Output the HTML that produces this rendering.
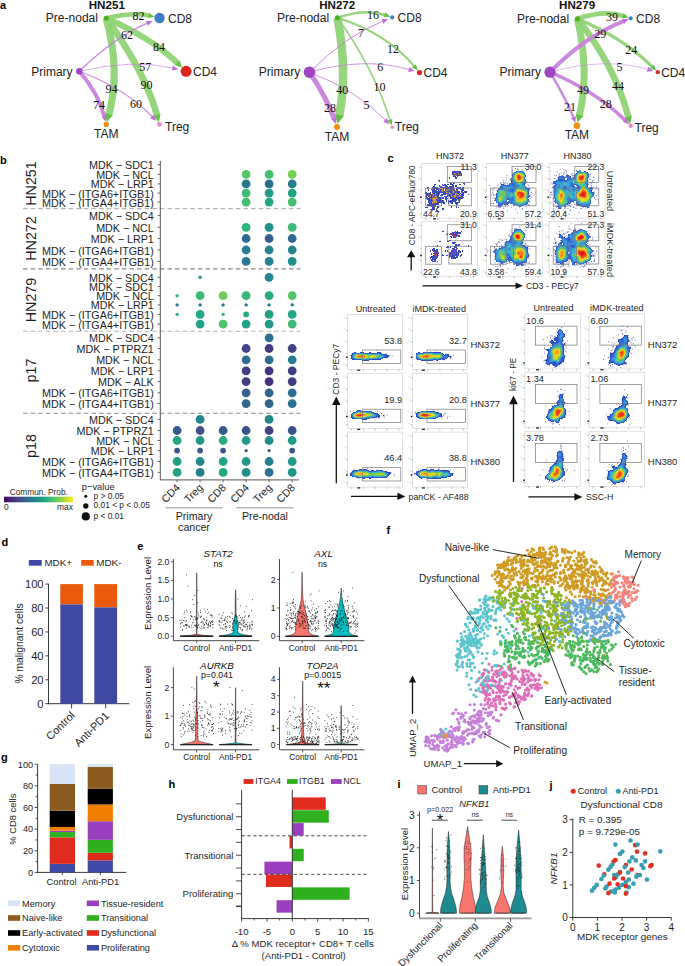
<!DOCTYPE html>
<html><head><meta charset="utf-8"><style>
html,body{margin:0;padding:0;background:#fff;}
svg{display:block;font-family:"Liberation Sans", sans-serif;}
</style></head><body>
<svg width="685" height="966" viewBox="0 0 685 966">
<rect width="685" height="966" fill="#fff"/>
<text x="0" y="9" font-size="11" font-weight="bold" fill="#000">a</text>
<text x="106.8" y="8.6" font-size="11.6" text-anchor="middle" font-weight="bold" fill="#111">HN251</text>
<path d="M106.2 18.2Q133.15 11.9 149.08 15.59" stroke="#8fd375" stroke-width="4.6" fill="none" stroke-opacity="0.95"/>
<path d="M154.43 16.83L148 18.01L149.17 12.94Z" fill="#62c040"/>
<path d="M106.2 18.2Q151.05 37.65 177.73 63.27" stroke="#8fd375" stroke-width="6" fill="none" stroke-opacity="0.95"/>
<path d="M182.13 67.49L175.09 65.3L179.66 60.54Z" fill="#62c040"/>
<path d="M106.2 18.2Q145.15 71.75 157.09 115.46" stroke="#8fd375" stroke-width="6.6" fill="none" stroke-opacity="0.95"/>
<path d="M158.87 121.98L153.45 115.94L160.46 114.02Z" fill="#62c040"/>
<path d="M106.2 18.2Q120.8 70.7 108.83 114.73" stroke="#8fd375" stroke-width="7.2" fill="none" stroke-opacity="0.95"/>
<path d="M106.88 121.89L105.14 113.21L112.78 115.29Z" fill="#62c040"/>
<path d="M79.3 71.3Q114.6 37.35 147.38 23.22" stroke="#c882dc" stroke-width="1.3" fill="none" stroke-opacity="0.95"/>
<path d="M152.43 21.05L147.95 25.81L145.89 21.03Z" fill="#bf6fd6"/>
<path d="M79.3 71.3Q132.7 58.7 172.96 68.2" stroke="#c882dc" stroke-width="0.7" fill="none" stroke-opacity="0.95"/>
<path d="M178.31 69.46L171.88 70.62L173.07 65.55Z" fill="#bf6fd6"/>
<path d="M79.3 71.3Q125.4 88.6 152.32 116.78" stroke="#c882dc" stroke-width="1.2" fill="none" stroke-opacity="0.95"/>
<path d="M156.12 120.76L150.09 118.21L153.85 114.62Z" fill="#bf6fd6"/>
<path d="M79.3 71.3Q99.05 94.55 104.31 116.52" stroke="#c882dc" stroke-width="4" fill="none" stroke-opacity="0.95"/>
<path d="M105.59 121.87L101.67 116.64L106.73 115.43Z" fill="#bf6fd6"/>
<circle cx="106.2" cy="18.2" r="2.5" fill="#4cae1f"/>
<circle cx="79.3" cy="71.3" r="3.2" fill="#9d45c2"/>
<circle cx="159.5" cy="18" r="5.2" fill="#3d7fc4"/>
<circle cx="186.1" cy="71.3" r="5.5" fill="#d8261c"/>
<circle cx="106.2" cy="124.4" r="2.6" fill="#f28c0c"/>
<circle cx="159.5" cy="124.3" r="2.4" fill="#e68ac6"/>
<text x="138.6" y="19.8" font-size="12" text-anchor="middle" fill="#111" font-family='"Liberation Serif", serif'>82</text>
<text x="127" y="38.8" font-size="12" text-anchor="middle" fill="#111" font-family='"Liberation Serif", serif'>62</text>
<text x="159" y="50.9" font-size="12" text-anchor="middle" fill="#111" font-family='"Liberation Serif", serif'>84</text>
<text x="145.3" y="70.8" font-size="12" text-anchor="middle" fill="#111" font-family='"Liberation Serif", serif'>57</text>
<text x="111.5" y="92.7" font-size="12" text-anchor="middle" fill="#111" font-family='"Liberation Serif", serif'>94</text>
<text x="99" y="108.6" font-size="12" text-anchor="middle" fill="#111" font-family='"Liberation Serif", serif'>74</text>
<text x="146.5" y="88.7" font-size="12" text-anchor="middle" fill="#111" font-family='"Liberation Serif", serif'>90</text>
<text x="136" y="107.9" font-size="12" text-anchor="middle" fill="#111" font-family='"Liberation Serif", serif'>60</text>
<text x="97.9" y="22.4" font-size="12" text-anchor="end" fill="#222">Pre-nodal</text>
<text x="72.6" y="75.5" font-size="12" text-anchor="end" fill="#222">Primary</text>
<text x="168" y="22.5" font-size="12" fill="#222">CD8</text>
<text x="193" y="75.8" font-size="12" fill="#222">CD4</text>
<text x="106.2" y="138" font-size="12" text-anchor="middle" fill="#222">TAM</text>
<text x="165" y="131.3" font-size="12" fill="#222">Treg</text>
<text x="337.2" y="8.6" font-size="11.6" text-anchor="middle" font-weight="bold" fill="#111">HN272</text>
<path d="M337.4 17.8Q365.2 8.4 384.99 15" stroke="#8fd375" stroke-width="2.6" fill="none" stroke-opacity="0.95"/>
<path d="M390.21 16.74L383.69 17.31L385.34 12.37Z" fill="#62c040"/>
<path d="M337.4 17.8Q386.55 33.25 414.29 66.3" stroke="#8fd375" stroke-width="2.2" fill="none" stroke-opacity="0.95"/>
<path d="M417.83 70.51L411.98 67.58L415.96 64.24Z" fill="#62c040"/>
<path d="M337.4 17.8Q373.8 68.05 390.03 120.33" stroke="#8fd375" stroke-width="1.6" fill="none" stroke-opacity="0.95"/>
<path d="M391.67 125.58L387.4 120.62L392.37 119.08Z" fill="#62c040"/>
<path d="M337.4 17.8Q347.8 71.65 339.27 115.27" stroke="#8fd375" stroke-width="8.5" fill="none" stroke-opacity="0.95"/>
<path d="M337.58 123.96L334.78 113.88L343.96 115.68Z" fill="#62c040"/>
<path d="M309.5 72.2Q345.15 36.2 382.82 21.15" stroke="#c882dc" stroke-width="1" fill="none" stroke-opacity="0.95"/>
<path d="M387.93 19.11L383.32 23.75L381.39 18.92Z" fill="#bf6fd6"/>
<path d="M309.5 72.2Q364.5 56.65 409.31 69.56" stroke="#c882dc" stroke-width="0.9" fill="none" stroke-opacity="0.95"/>
<path d="M414.6 71.09L408.11 71.92L409.55 66.93Z" fill="#bf6fd6"/>
<path d="M309.5 72.2Q356.95 90.45 385.43 120.22" stroke="#c882dc" stroke-width="0.9" fill="none" stroke-opacity="0.95"/>
<path d="M389.23 124.19L383.2 121.65L386.96 118.06Z" fill="#bf6fd6"/>
<path d="M309.5 72.2Q326.75 98.05 334.15 118.89" stroke="#c882dc" stroke-width="5" fill="none" stroke-opacity="0.95"/>
<path d="M336 124.07L331.4 119.34L336.58 117.5Z" fill="#bf6fd6"/>
<circle cx="337.4" cy="17.8" r="2.5" fill="#4cae1f"/>
<circle cx="309.5" cy="72.2" r="5.8" fill="#9d45c2"/>
<circle cx="392.2" cy="17.4" r="2.1" fill="#3d7fc4"/>
<circle cx="419.5" cy="72.5" r="2.6" fill="#d8261c"/>
<circle cx="337" cy="126.9" r="3" fill="#f28c0c"/>
<circle cx="392.2" cy="127.3" r="1.8" fill="#e68ac6"/>
<text x="373" y="19.2" font-size="12" text-anchor="middle" fill="#111" font-family='"Liberation Serif", serif'>16</text>
<text x="361.1" y="36.6" font-size="12" text-anchor="middle" fill="#111" font-family='"Liberation Serif", serif'>7</text>
<text x="393.1" y="52.6" font-size="12" text-anchor="middle" fill="#111" font-family='"Liberation Serif", serif'>12</text>
<text x="380.3" y="71.2" font-size="12" text-anchor="middle" fill="#111" font-family='"Liberation Serif", serif'>6</text>
<text x="342.3" y="94.1" font-size="12" text-anchor="middle" fill="#111" font-family='"Liberation Serif", serif'>40</text>
<text x="330.1" y="112.3" font-size="12" text-anchor="middle" fill="#111" font-family='"Liberation Serif", serif'>28</text>
<text x="379.4" y="91" font-size="12" text-anchor="middle" fill="#111" font-family='"Liberation Serif", serif'>10</text>
<text x="366.6" y="108.7" font-size="12" text-anchor="middle" fill="#111" font-family='"Liberation Serif", serif'>5</text>
<text x="329.1" y="22" font-size="12" text-anchor="end" fill="#222">Pre-nodal</text>
<text x="300.2" y="76.4" font-size="12" text-anchor="end" fill="#222">Primary</text>
<text x="397.6" y="21.9" font-size="12" fill="#222">CD8</text>
<text x="423.5" y="77" font-size="12" fill="#222">CD4</text>
<text x="337" y="140.5" font-size="12" text-anchor="middle" fill="#222">TAM</text>
<text x="394.8" y="131" font-size="12" fill="#222">Treg</text>
<text x="577.1" y="8.6" font-size="11.6" text-anchor="middle" font-weight="bold" fill="#111">HN279</text>
<path d="M577.4 18.7Q603.95 9.5 623.48 15.93" stroke="#8fd375" stroke-width="4.8" fill="none" stroke-opacity="0.95"/>
<path d="M628.71 17.64L622.18 18.28L623.83 13.26Z" fill="#62c040"/>
<path d="M577.4 18.7Q622.85 37.55 652.31 66.84" stroke="#8fd375" stroke-width="3.2" fill="none" stroke-opacity="0.95"/>
<path d="M656.21 70.72L650.12 68.33L653.79 64.65Z" fill="#62c040"/>
<path d="M577.4 18.7Q615.35 66.55 628.48 117.23" stroke="#8fd375" stroke-width="6.5" fill="none" stroke-opacity="0.95"/>
<path d="M630.15 123.67L624.89 117.65L631.82 115.85Z" fill="#62c040"/>
<path d="M577.4 18.7Q589.85 71.75 579.35 115.59" stroke="#8fd375" stroke-width="7" fill="none" stroke-opacity="0.95"/>
<path d="M577.67 122.59L575.72 114.21L583.21 116Z" fill="#62c040"/>
<path d="M550 72.2Q584.65 36.55 623.63 21.1" stroke="#c882dc" stroke-width="4" fill="none" stroke-opacity="0.95"/>
<path d="M628.75 19.07L624.13 23.7L622.21 18.87Z" fill="#bf6fd6"/>
<path d="M550 72.2Q604.15 56.8 647.99 69.41" stroke="#c882dc" stroke-width="0.6" fill="none" stroke-opacity="0.95"/>
<path d="M653.28 70.93L646.79 71.77L648.23 66.77Z" fill="#bf6fd6"/>
<path d="M550 72.2Q595.65 91.2 625.22 120.39" stroke="#c882dc" stroke-width="3.6" fill="none" stroke-opacity="0.95"/>
<path d="M629.13 124.25L623.04 121.89L626.69 118.19Z" fill="#bf6fd6"/>
<path d="M550 72.2Q565.55 98 573.57 117.65" stroke="#c882dc" stroke-width="2.5" fill="none" stroke-opacity="0.95"/>
<path d="M575.65 122.74L570.98 118.17L575.79 116.21Z" fill="#bf6fd6"/>
<circle cx="577.4" cy="18.7" r="2.5" fill="#4cae1f"/>
<circle cx="550" cy="72.2" r="5.6" fill="#9d45c2"/>
<circle cx="630.7" cy="18.3" r="2.1" fill="#3d7fc4"/>
<circle cx="657.7" cy="72.2" r="2.1" fill="#d8261c"/>
<circle cx="576.9" cy="125.8" r="3.3" fill="#f28c0c"/>
<circle cx="630.7" cy="125.8" r="2.2" fill="#e68ac6"/>
<text x="612.1" y="20.5" font-size="12" text-anchor="middle" fill="#111" font-family='"Liberation Serif", serif'>39</text>
<text x="600.2" y="37.5" font-size="12" text-anchor="middle" fill="#111" font-family='"Liberation Serif", serif'>29</text>
<text x="631.2" y="53.5" font-size="12" text-anchor="middle" fill="#111" font-family='"Liberation Serif", serif'>24</text>
<text x="619.4" y="71.2" font-size="12" text-anchor="middle" fill="#111" font-family='"Liberation Serif", serif'>5</text>
<text x="582.9" y="93.5" font-size="12" text-anchor="middle" fill="#111" font-family='"Liberation Serif", serif'>49</text>
<text x="570.1" y="111.4" font-size="12" text-anchor="middle" fill="#111" font-family='"Liberation Serif", serif'>21</text>
<text x="618.1" y="90.4" font-size="12" text-anchor="middle" fill="#111" font-family='"Liberation Serif", serif'>44</text>
<text x="605.7" y="108.1" font-size="12" text-anchor="middle" fill="#111" font-family='"Liberation Serif", serif'>28</text>
<text x="569.1" y="22.9" font-size="12" text-anchor="end" fill="#222">Pre-nodal</text>
<text x="540.9" y="76.4" font-size="12" text-anchor="end" fill="#222">Primary</text>
<text x="636.1" y="22.8" font-size="12" fill="#222">CD8</text>
<text x="661.2" y="76.7" font-size="12" fill="#222">CD4</text>
<text x="576.9" y="139.4" font-size="12" text-anchor="middle" fill="#222">TAM</text>
<text x="634.5" y="131.5" font-size="12" fill="#222">Treg</text>
<text x="0" y="164" font-size="11" font-weight="bold" fill="#000">b</text>
<text x="153.8" y="169.2" font-size="10.75" text-anchor="end" fill="#1e1e1e">MDK − SDC1</text>
<line x1="157.6" y1="164.7" x2="160.3" y2="164.7" stroke="#555" stroke-width="0.9"/>
<text x="153.8" y="178.9" font-size="10.75" text-anchor="end" fill="#1e1e1e">MDK − NCL</text>
<line x1="157.6" y1="174.4" x2="160.3" y2="174.4" stroke="#555" stroke-width="0.9"/>
<circle cx="246.1" cy="174.4" r="4.4" fill="#54c467"/>
<circle cx="269.1" cy="174.4" r="4.4" fill="#44bf70"/>
<circle cx="292.2" cy="174.4" r="4.4" fill="#75cf54"/>
<text x="153.8" y="188.4" font-size="10.75" text-anchor="end" fill="#1e1e1e">MDK − LRP1</text>
<line x1="157.6" y1="183.9" x2="160.3" y2="183.9" stroke="#555" stroke-width="0.9"/>
<circle cx="246.1" cy="183.9" r="4.4" fill="#297a8e"/>
<circle cx="269.1" cy="183.9" r="4.4" fill="#2e6e8e"/>
<circle cx="292.2" cy="183.9" r="4.4" fill="#27808d"/>
<text x="153.8" y="197.6" font-size="10.75" text-anchor="end" fill="#1e1e1e">MDK − (ITGA6+ITGB1)</text>
<line x1="157.6" y1="193.1" x2="160.3" y2="193.1" stroke="#555" stroke-width="0.9"/>
<circle cx="246.1" cy="193.1" r="4.4" fill="#3dba74"/>
<circle cx="269.1" cy="193.1" r="4.4" fill="#229c88"/>
<circle cx="292.2" cy="193.1" r="4.4" fill="#22a386"/>
<text x="153.8" y="206.6" font-size="10.75" text-anchor="end" fill="#1e1e1e">MDK − (ITGA4+ITGB1)</text>
<line x1="157.6" y1="202.1" x2="160.3" y2="202.1" stroke="#555" stroke-width="0.9"/>
<circle cx="246.1" cy="202.1" r="4.4" fill="#44bf70"/>
<circle cx="269.1" cy="202.1" r="4.4" fill="#22a884"/>
<circle cx="292.2" cy="202.1" r="4.4" fill="#44bf70"/>
<text x="36.4" y="183.5" font-size="14.3" text-anchor="middle" fill="#1e1e1e" transform="rotate(-90 36.4 183.5)">HN251</text>
<text x="153.8" y="219.9" font-size="10.75" text-anchor="end" fill="#1e1e1e">MDK − SDC4</text>
<line x1="157.6" y1="215.4" x2="160.3" y2="215.4" stroke="#555" stroke-width="0.9"/>
<text x="153.8" y="231.8" font-size="10.75" text-anchor="end" fill="#1e1e1e">MDK − NCL</text>
<line x1="157.6" y1="227.3" x2="160.3" y2="227.3" stroke="#555" stroke-width="0.9"/>
<circle cx="246.1" cy="227.3" r="4.4" fill="#33b47a"/>
<circle cx="269.1" cy="227.3" r="4.4" fill="#21918c"/>
<circle cx="292.2" cy="227.3" r="4.4" fill="#3dba74"/>
<text x="153.8" y="243" font-size="10.75" text-anchor="end" fill="#1e1e1e">MDK − LRP1</text>
<line x1="157.6" y1="238.5" x2="160.3" y2="238.5" stroke="#555" stroke-width="0.9"/>
<circle cx="246.1" cy="238.5" r="4.4" fill="#306c8e"/>
<circle cx="269.1" cy="238.5" r="4.4" fill="#365c8c"/>
<circle cx="292.2" cy="238.5" r="4.4" fill="#32668d"/>
<text x="153.8" y="254.5" font-size="10.75" text-anchor="end" fill="#1e1e1e">MDK − (ITGA6+ITGB1)</text>
<line x1="157.6" y1="250" x2="160.3" y2="250" stroke="#555" stroke-width="0.9"/>
<circle cx="246.1" cy="250" r="4.4" fill="#287d8e"/>
<circle cx="269.1" cy="250" r="4.4" fill="#26828d"/>
<circle cx="292.2" cy="250" r="4.4" fill="#26848d"/>
<text x="153.8" y="265.9" font-size="10.75" text-anchor="end" fill="#1e1e1e">MDK − (ITGA4+ITGB1)</text>
<line x1="157.6" y1="261.4" x2="160.3" y2="261.4" stroke="#555" stroke-width="0.9"/>
<circle cx="246.1" cy="261.4" r="4.4" fill="#2a788e"/>
<circle cx="269.1" cy="261.4" r="4.4" fill="#27808d"/>
<circle cx="292.2" cy="261.4" r="4.4" fill="#21918c"/>
<text x="36.4" y="238.5" font-size="14.3" text-anchor="middle" fill="#1e1e1e" transform="rotate(-90 36.4 238.5)">HN272</text>
<text x="153.8" y="281.8" font-size="10.75" text-anchor="end" fill="#1e1e1e">MDK − SDC4</text>
<line x1="157.6" y1="277.3" x2="160.3" y2="277.3" stroke="#555" stroke-width="0.9"/>
<circle cx="200.1" cy="277.3" r="1.7" fill="#21918c"/>
<circle cx="269.1" cy="277.3" r="4.4" fill="#26848d"/>
<text x="153.8" y="291" font-size="10.75" text-anchor="end" fill="#1e1e1e">MDK − SDC1</text>
<line x1="157.6" y1="286.5" x2="160.3" y2="286.5" stroke="#555" stroke-width="0.9"/>
<text x="153.8" y="300.2" font-size="10.75" text-anchor="end" fill="#1e1e1e">MDK − NCL</text>
<line x1="157.6" y1="295.7" x2="160.3" y2="295.7" stroke="#555" stroke-width="0.9"/>
<circle cx="177.1" cy="295.7" r="1.7" fill="#3dba74"/>
<circle cx="200.1" cy="295.7" r="4.4" fill="#3dba74"/>
<circle cx="223.1" cy="295.7" r="4.4" fill="#6fcd57"/>
<circle cx="246.1" cy="295.7" r="4.4" fill="#36b678"/>
<circle cx="269.1" cy="295.7" r="4.4" fill="#25aa82"/>
<circle cx="292.2" cy="295.7" r="4.4" fill="#54c467"/>
<text x="153.8" y="309.4" font-size="10.75" text-anchor="end" fill="#1e1e1e">MDK − LRP1</text>
<line x1="157.6" y1="304.9" x2="160.3" y2="304.9" stroke="#555" stroke-width="0.9"/>
<circle cx="177.1" cy="304.9" r="1.7" fill="#2c738e"/>
<circle cx="200.1" cy="304.9" r="1.7" fill="#2c738e"/>
<circle cx="223.1" cy="304.9" r="1.7" fill="#2c738e"/>
<circle cx="246.1" cy="304.9" r="1.7" fill="#2c738e"/>
<circle cx="269.1" cy="304.9" r="1.7" fill="#2c738e"/>
<circle cx="292.2" cy="304.9" r="1.7" fill="#2c738e"/>
<text x="153.8" y="318.9" font-size="10.75" text-anchor="end" fill="#1e1e1e">MDK − (ITGA6+ITGB1)</text>
<line x1="157.6" y1="314.4" x2="160.3" y2="314.4" stroke="#555" stroke-width="0.9"/>
<circle cx="177.1" cy="314.4" r="1.7" fill="#30b17c"/>
<circle cx="200.1" cy="314.4" r="4.4" fill="#22a884"/>
<circle cx="223.1" cy="314.4" r="1.7" fill="#3ab876"/>
<circle cx="246.1" cy="314.4" r="2.9" fill="#25aa82"/>
<circle cx="269.1" cy="314.4" r="4.4" fill="#22a186"/>
<circle cx="292.2" cy="314.4" r="4.4" fill="#22a884"/>
<text x="153.8" y="328.6" font-size="10.75" text-anchor="end" fill="#1e1e1e">MDK − (ITGA4+ITGB1)</text>
<line x1="157.6" y1="324.1" x2="160.3" y2="324.1" stroke="#555" stroke-width="0.9"/>
<circle cx="200.1" cy="324.1" r="4.4" fill="#22a186"/>
<circle cx="223.1" cy="324.1" r="4.4" fill="#4fc36a"/>
<circle cx="246.1" cy="324.1" r="4.4" fill="#22a186"/>
<circle cx="269.1" cy="324.1" r="4.4" fill="#219a89"/>
<circle cx="292.2" cy="324.1" r="4.4" fill="#3dba74"/>
<text x="36.4" y="300" font-size="14.3" text-anchor="middle" fill="#1e1e1e" transform="rotate(-90 36.4 300)">HN279</text>
<text x="153.8" y="342.3" font-size="10.75" text-anchor="end" fill="#1e1e1e">MDK − SDC4</text>
<line x1="157.6" y1="337.8" x2="160.3" y2="337.8" stroke="#555" stroke-width="0.9"/>
<circle cx="269.1" cy="337.8" r="4.4" fill="#2e6e8e"/>
<text x="153.8" y="353" font-size="10.75" text-anchor="end" fill="#1e1e1e">MDK − PTPRZ1</text>
<line x1="157.6" y1="348.5" x2="160.3" y2="348.5" stroke="#555" stroke-width="0.9"/>
<circle cx="246.1" cy="348.5" r="4.4" fill="#414487"/>
<circle cx="269.1" cy="348.5" r="4.4" fill="#433a82"/>
<circle cx="292.2" cy="348.5" r="4.4" fill="#424185"/>
<text x="153.8" y="364.3" font-size="10.75" text-anchor="end" fill="#1e1e1e">MDK − NCL</text>
<line x1="157.6" y1="359.8" x2="160.3" y2="359.8" stroke="#555" stroke-width="0.9"/>
<circle cx="246.1" cy="359.8" r="4.4" fill="#306c8e"/>
<circle cx="269.1" cy="359.8" r="4.4" fill="#306c8e"/>
<circle cx="292.2" cy="359.8" r="4.4" fill="#287d8e"/>
<text x="153.8" y="375.3" font-size="10.75" text-anchor="end" fill="#1e1e1e">MDK − LRP1</text>
<line x1="157.6" y1="370.8" x2="160.3" y2="370.8" stroke="#555" stroke-width="0.9"/>
<circle cx="246.1" cy="370.8" r="4.4" fill="#423e83"/>
<circle cx="269.1" cy="370.8" r="4.4" fill="#44347e"/>
<circle cx="292.2" cy="370.8" r="4.4" fill="#423e83"/>
<text x="153.8" y="386.1" font-size="10.75" text-anchor="end" fill="#1e1e1e">MDK − ALK</text>
<line x1="157.6" y1="381.6" x2="160.3" y2="381.6" stroke="#555" stroke-width="0.9"/>
<circle cx="246.1" cy="381.6" r="4.4" fill="#423e83"/>
<circle cx="269.1" cy="381.6" r="4.4" fill="#45317c"/>
<circle cx="292.2" cy="381.6" r="4.4" fill="#423e83"/>
<text x="153.8" y="397.3" font-size="10.75" text-anchor="end" fill="#1e1e1e">MDK − (ITGA6+ITGB1)</text>
<line x1="157.6" y1="392.8" x2="160.3" y2="392.8" stroke="#555" stroke-width="0.9"/>
<circle cx="246.1" cy="392.8" r="4.4" fill="#33648d"/>
<circle cx="269.1" cy="392.8" r="4.4" fill="#33648d"/>
<circle cx="292.2" cy="392.8" r="4.4" fill="#2e6e8e"/>
<text x="153.8" y="408.1" font-size="10.75" text-anchor="end" fill="#1e1e1e">MDK − (ITGA4+ITGB1)</text>
<line x1="157.6" y1="403.6" x2="160.3" y2="403.6" stroke="#555" stroke-width="0.9"/>
<circle cx="246.1" cy="403.6" r="4.4" fill="#32668d"/>
<circle cx="269.1" cy="403.6" r="4.4" fill="#32668d"/>
<circle cx="292.2" cy="403.6" r="4.4" fill="#2d708e"/>
<text x="36.4" y="370.5" font-size="14.3" text-anchor="middle" fill="#1e1e1e" transform="rotate(-90 36.4 370.5)">p17</text>
<text x="153.8" y="423.9" font-size="10.75" text-anchor="end" fill="#1e1e1e">MDK − SDC4</text>
<line x1="157.6" y1="419.4" x2="160.3" y2="419.4" stroke="#555" stroke-width="0.9"/>
<circle cx="200.1" cy="419.4" r="4.4" fill="#25878d"/>
<circle cx="269.1" cy="419.4" r="4.4" fill="#25878d"/>
<text x="153.8" y="435" font-size="10.75" text-anchor="end" fill="#1e1e1e">MDK − PTPRZ1</text>
<line x1="157.6" y1="430.5" x2="160.3" y2="430.5" stroke="#555" stroke-width="0.9"/>
<circle cx="177.1" cy="430.5" r="4.4" fill="#375a8c"/>
<circle cx="200.1" cy="430.5" r="4.4" fill="#3c4f89"/>
<circle cx="223.1" cy="430.5" r="4.4" fill="#375a8c"/>
<circle cx="246.1" cy="430.5" r="4.4" fill="#3a548b"/>
<circle cx="269.1" cy="430.5" r="4.4" fill="#424185"/>
<circle cx="292.2" cy="430.5" r="4.4" fill="#3b528a"/>
<text x="153.8" y="445" font-size="10.75" text-anchor="end" fill="#1e1e1e">MDK − NCL</text>
<line x1="157.6" y1="440.5" x2="160.3" y2="440.5" stroke="#555" stroke-width="0.9"/>
<circle cx="177.1" cy="440.5" r="4.4" fill="#22a386"/>
<circle cx="200.1" cy="440.5" r="4.4" fill="#21968a"/>
<circle cx="223.1" cy="440.5" r="4.4" fill="#29ad80"/>
<circle cx="246.1" cy="440.5" r="4.4" fill="#21968a"/>
<circle cx="269.1" cy="440.5" r="4.4" fill="#238c8c"/>
<circle cx="292.2" cy="440.5" r="4.4" fill="#229c88"/>
<text x="153.8" y="455.1" font-size="10.75" text-anchor="end" fill="#1e1e1e">MDK − LRP1</text>
<line x1="157.6" y1="450.6" x2="160.3" y2="450.6" stroke="#555" stroke-width="0.9"/>
<circle cx="177.1" cy="450.6" r="2.9" fill="#39578b"/>
<circle cx="200.1" cy="450.6" r="2.9" fill="#39578b"/>
<circle cx="223.1" cy="450.6" r="2.9" fill="#39578b"/>
<circle cx="246.1" cy="450.6" r="1.7" fill="#39578b"/>
<circle cx="269.1" cy="450.6" r="1.7" fill="#39578b"/>
<circle cx="292.2" cy="450.6" r="2.9" fill="#39578b"/>
<text x="153.8" y="466" font-size="10.75" text-anchor="end" fill="#1e1e1e">MDK − (ITGA6+ITGB1)</text>
<line x1="157.6" y1="461.5" x2="160.3" y2="461.5" stroke="#555" stroke-width="0.9"/>
<circle cx="177.1" cy="461.5" r="4.4" fill="#229f87"/>
<circle cx="200.1" cy="461.5" r="4.4" fill="#24898d"/>
<circle cx="223.1" cy="461.5" r="4.4" fill="#22a386"/>
<circle cx="246.1" cy="461.5" r="4.4" fill="#21968a"/>
<circle cx="269.1" cy="461.5" r="4.4" fill="#287d8e"/>
<circle cx="292.2" cy="461.5" r="4.4" fill="#219a89"/>
<text x="153.8" y="476.9" font-size="10.75" text-anchor="end" fill="#1e1e1e">MDK − (ITGA4+ITGB1)</text>
<line x1="157.6" y1="472.4" x2="160.3" y2="472.4" stroke="#555" stroke-width="0.9"/>
<circle cx="177.1" cy="472.4" r="4.4" fill="#229f87"/>
<circle cx="200.1" cy="472.4" r="4.4" fill="#287d8e"/>
<circle cx="223.1" cy="472.4" r="4.4" fill="#22a884"/>
<circle cx="246.1" cy="472.4" r="4.4" fill="#228e8c"/>
<circle cx="269.1" cy="472.4" r="4.4" fill="#2e6e8e"/>
<circle cx="292.2" cy="472.4" r="4.4" fill="#21968a"/>
<text x="36.4" y="446" font-size="14.3" text-anchor="middle" fill="#1e1e1e" transform="rotate(-90 36.4 446)">p18</text>
<line x1="23" y1="208.6" x2="300.5" y2="208.6" stroke="#b4b4b4" stroke-width="1.1" stroke-dasharray="4.6 3"/>
<line x1="23" y1="268.9" x2="300.5" y2="268.9" stroke="#8a8a8a" stroke-width="1.1" stroke-dasharray="4.6 3"/>
<line x1="23" y1="331.2" x2="300.5" y2="331.2" stroke="#b4b4b4" stroke-width="1.1" stroke-dasharray="4.6 3"/>
<line x1="23" y1="413.3" x2="300.5" y2="413.3" stroke="#8a8a8a" stroke-width="1.1" stroke-dasharray="4.6 3"/>
<line x1="160.3" y1="161" x2="160.3" y2="480" stroke="#555" stroke-width="1"/>
<line x1="160.3" y1="479.9" x2="299" y2="479.9" stroke="#555" stroke-width="1"/>
<line x1="177.1" y1="479.9" x2="177.1" y2="482.3" stroke="#555" stroke-width="0.9"/>
<line x1="200.1" y1="479.9" x2="200.1" y2="482.3" stroke="#555" stroke-width="0.9"/>
<line x1="223.1" y1="479.9" x2="223.1" y2="482.3" stroke="#555" stroke-width="0.9"/>
<line x1="246.1" y1="479.9" x2="246.1" y2="482.3" stroke="#555" stroke-width="0.9"/>
<line x1="269.1" y1="479.9" x2="269.1" y2="482.3" stroke="#555" stroke-width="0.9"/>
<line x1="292.2" y1="479.9" x2="292.2" y2="482.3" stroke="#555" stroke-width="0.9"/>
<text x="180.7" y="488.4" font-size="10.6" text-anchor="end" fill="#1e1e1e" transform="rotate(-45 180.7 488.4)">CD4</text>
<text x="203.7" y="488.4" font-size="10.6" text-anchor="end" fill="#1e1e1e" transform="rotate(-45 203.7 488.4)">Treg</text>
<text x="226.7" y="488.4" font-size="10.6" text-anchor="end" fill="#1e1e1e" transform="rotate(-45 226.7 488.4)">CD8</text>
<text x="249.7" y="488.4" font-size="10.6" text-anchor="end" fill="#1e1e1e" transform="rotate(-45 249.7 488.4)">CD4</text>
<text x="272.7" y="488.4" font-size="10.6" text-anchor="end" fill="#1e1e1e" transform="rotate(-45 272.7 488.4)">Treg</text>
<text x="295.8" y="488.4" font-size="10.6" text-anchor="end" fill="#1e1e1e" transform="rotate(-45 295.8 488.4)">CD8</text>
<line x1="165.4" y1="507.7" x2="222.5" y2="507.7" stroke="#b5b5b5" stroke-width="1.4"/>
<line x1="236.4" y1="507.7" x2="293.4" y2="507.7" stroke="#b5b5b5" stroke-width="1.4"/>
<text x="194" y="520" font-size="10.6" text-anchor="middle" fill="#1e1e1e">Primary</text>
<text x="194" y="530.5" font-size="10.6" text-anchor="middle" fill="#1e1e1e">cancer</text>
<text x="265" y="520" font-size="10.6" text-anchor="middle" fill="#1e1e1e">Pre-nodal</text>
<defs><linearGradient id="vir" x1="0" x2="1" y1="0" y2="0"><stop offset="0" stop-color="#440154"/><stop offset="0.1" stop-color="#482475"/><stop offset="0.2" stop-color="#414487"/><stop offset="0.3" stop-color="#355f8d"/><stop offset="0.4" stop-color="#2a788e"/><stop offset="0.5" stop-color="#21918c"/><stop offset="0.6" stop-color="#22a884"/><stop offset="0.7" stop-color="#44bf70"/><stop offset="0.8" stop-color="#7ad151"/><stop offset="0.9" stop-color="#bddf26"/><stop offset="1" stop-color="#fde725"/></linearGradient></defs>
<rect x="4" y="496.7" width="68.9" height="5.6" fill="url(#vir)"/>
<text x="38.8" y="495.3" font-size="8.3" text-anchor="middle" fill="#1e1e1e">Commun. Prob.</text>
<text x="4" y="510" font-size="8.4" fill="#1e1e1e">0</text>
<text x="72.9" y="510" font-size="8.4" text-anchor="end" fill="#1e1e1e">max</text>
<text x="81.8" y="489.5" font-size="9.3" fill="#1e1e1e">p−value</text>
<circle cx="85.8" cy="496.3" r="1.5" fill="#111"/>
<circle cx="85.8" cy="506" r="2.7" fill="#111"/>
<circle cx="85.8" cy="516.4" r="4.1" fill="#111"/>
<text x="93.5" y="498.8" font-size="8.4" fill="#1e1e1e">p &gt; 0.05</text>
<text x="93.5" y="508.4" font-size="8.4" fill="#1e1e1e">0.01 &lt; p &lt; 0.05</text>
<text x="93.5" y="519" font-size="8.4" fill="#1e1e1e">p &lt; 0.01</text>
<defs><filter id="bl2" x="-50%" y="-50%" width="200%" height="200%"><feGaussianBlur stdDeviation="0.45"/></filter></defs>
<text x="387.5" y="161.8" font-size="11" font-weight="bold" fill="#000">c</text>
<text x="450.1" y="159.3" font-size="9" text-anchor="middle" fill="#1e1e1e">HN372</text>
<text x="514.8" y="159.3" font-size="9" text-anchor="middle" fill="#1e1e1e">HN377</text>
<text x="577.6" y="159.3" font-size="9" text-anchor="middle" fill="#1e1e1e">HN380</text>
<rect x="421.7" y="163.4" width="55.8" height="54.6" fill="none" stroke="#d4d4d4" stroke-width="0.7"/>
<path d="M419.7 167.4h2M417.7 166.4l0.9 -0.5M425.7 218v2M419.7 179.05h2M417.7 178.05l0.9 -0.5M437.65 218v2M419.7 190.7h2M417.7 189.7l0.9 -0.5M449.6 218v2M419.7 202.35h2M417.7 201.35l0.9 -0.5M461.55 218v2M419.7 214h2M417.7 213l0.9 -0.5M473.5 218v2" stroke="#9a9a9a" stroke-width="0.6" fill="none"/>
<line x1="420.1" y1="197.25" x2="421.7" y2="197.25" stroke="#111" stroke-width="1.4"/>
<line x1="433.03" y1="218.8" x2="436.03" y2="218.8" stroke="#222" stroke-width="1.3"/>
<defs><filter id="dn0" x="0" y="0" width="100%" height="100%" color-interpolation-filters="sRGB"><feGaussianBlur stdDeviation="0.55"/><feColorMatrix type="matrix" values="0 0 0 0.72 0 0 0 0 0.72 0 0 0 0 0.72 0 0 0 0 1 0"/><feComponentTransfer><feFuncR type="table" tableValues="0.200 0.204 0.204 0.208 0.208 0.212 0.212 0.216 0.216 0.220 0.220 0.224 0.224 0.227 0.235 0.388 0.541 0.698 0.847 0.867 0.882 0.902 0.918 0.937 0.941 0.941 0.941 0.941 0.941 0.929 0.922 0.910"/><feFuncG type="table" tableValues="0.267 0.271 0.271 0.275 0.275 0.278 0.278 0.282 0.286 0.286 0.290 0.290 0.294 0.294 0.302 0.376 0.455 0.529 0.604 0.608 0.612 0.616 0.624 0.627 0.612 0.596 0.576 0.557 0.533 0.439 0.345 0.251"/><feFuncB type="table" tableValues="0.722 0.725 0.729 0.733 0.733 0.737 0.741 0.745 0.749 0.753 0.757 0.757 0.761 0.765 0.761 0.620 0.482 0.341 0.204 0.188 0.173 0.161 0.145 0.129 0.122 0.118 0.118 0.114 0.110 0.110 0.110 0.110"/><feFuncA type="discrete" tableValues="0 0 1 1 1 1 1 1 1 1 1 1 1 1 1 1 1 1 1 1 1 1 1 1 1 1 1 1 1 1 1 1 1 1 1 1 1 1 1 1"/></feComponentTransfer></filter></defs>
<clipPath id="cp1"><rect x="422.1" y="163.8" width="55" height="53.8"/></clipPath>
<defs><path id="pcp1" d="M436.4 204.1h0M430.7 197.4h0M432.8 198.3h0M457.6 196.3h0M457.1 193.3h0M428.3 190h0M448.4 203h0M435.4 195.3h0M435.7 201.2h0M448.4 193.8h0M453 199.6h0M435.7 199.6h0M442 191.5h0M453.3 196.5h0M444.6 188.4h0M448.9 193.9h0M442.5 198h0M429 202.4h0M432.8 198.5h0M446.3 186.8h0M454.6 176.3h0M452.7 193h0M459 173.2h0M452.6 192h0M454.6 190.2h0M430.1 203.1h0M431.8 199.1h0M438.8 201.4h0M433.7 203.2h0M458.7 174.8h0M461.2 189.7h0M455.7 175.6h0M463 187.7h0M434.7 201.5h0M429.5 199h0M437 198.5h0M448.1 190.8h0M439.1 190h0M455.4 192.4h0M451.8 186.8h0M454.8 196.7h0M457.4 196.1h0M435.2 202.1h0M435.5 198.4h0M433.2 199.2h0M455.1 173.3h0M432 202.1h0M439.6 186.1h0M454.7 195.6h0M432.3 201.5h0M456.5 174.2h0M438.7 192.8h0M460.5 196.4h0M452.8 186.4h0M432.4 200.6h0M437.5 189.4h0M434.7 207h0M453.5 184.7h0M445.5 188.4h0M455.7 196.3h0M433.2 202.1h0M450.7 189.6h0M466.1 192.3h0M456.7 198.6h0M435 204.8h0M457.8 172.3h0M446.3 189.3h0M452.8 187.8h0M442.7 190.6h0M441.4 194.8h0M436.5 197.1h0M442.8 189.8h0M437.7 206.9h0M451.2 194.6h0M439.1 188.7h0M456.6 196h0M437.2 187.5h0M427 198.3h0M446.6 192.5h0M434 204.8h0M432.2 199.6h0M437.7 198.7h0M459.3 192.7h0M432.6 193.3h0M460.1 196h0M439.4 198.6h0M428.6 199.7h0M454.2 200.3h0M456.6 193.3h0M456.2 199.1h0M439.5 190.2h0M450.1 188.8h0M451.9 195.2h0M440 191.4h0M461.4 192.8h0M458.1 173.4h0M462.7 192.3h0M436.2 202h0M433.8 200.3h0M447.9 184.6h0M432.7 191.5h0M439.9 190h0M436.8 197h0M463 194.8h0M430.2 200.8h0M434.6 202.4h0M451.8 190.8h0M459.4 195.9h0M454.9 195.3h0M449.4 177.8h0M433.6 199.8h0M445.4 191.9h0M461.9 190.9h0M437.9 207.1h0M455.7 193.5h0M432.4 193.7h0M437.9 195.8h0M453.9 193.2h0M436 194.4h0M426.8 194.8h0M436.4 202.7h0M435.2 200.2h0M434.5 202.4h0M433.9 194.4h0M457.7 199.2h0M433.7 199.2h0M442.7 189.8h0M457.8 194.5h0M440.6 191.8h0M453.8 175.2h0M450.1 190.1h0M455.2 171.6h0M455.5 196.7h0M438.4 201.8h0M434.4 200.1h0M458.9 172.1h0M433.8 202.4h0M458.3 199.6h0M442 195.3h0M456.5 207.3h0M433.6 198.6h0M452 196.3h0M433.4 198.4h0M436.4 201h0M436.4 199h0M430.3 195.4h0M441.5 186.7h0M454.4 174.9h0M452.2 201.2h0M462.8 197.8h0M453.3 171.9h0M449.4 193h0M459.5 188.2h0M436.9 187.4h0M444.5 188.5h0M435.7 201.8h0M435.8 193.1h0M452.4 190.4h0M462.6 195.6h0M439.8 190.3h0M452.9 192.2h0M435.9 200.1h0M447.9 194.8h0M434.9 193.6h0M453.7 188.2h0M455.3 194h0M433.6 206.3h0M433.2 198.1h0M433.1 205.5h0M443.9 188.3h0M452.3 196.5h0M435.4 196.4h0M445.3 193h0M460.2 184.5h0M455.9 198.5h0M446.6 201.1h0M425.9 196.6h0M435.3 193.2h0M455.7 172.7h0M455.6 173.9h0M430.2 198.7h0M435.6 201.8h0M433.8 198.2h0M447 189.2h0M439.2 180.8h0M431.5 201.8h0M436.5 190.4h0M456 196.8h0M435 195h0M443.7 198.1h0M457.5 199.5h0M456 186.1h0M463.5 189.7h0M456 194h0M438.1 191.8h0M445.4 191.3h0M450.8 198.3h0M432.1 205.9h0M442.9 202.1h0M430.7 196.7h0M434.9 201.2h0M454.4 173.9h0M459 173.9h0M434.2 200.4h0M435.7 200.3h0M427.6 194.2h0M441.5 191.9h0M453.9 198.3h0M432.3 210.8h0M429.2 198.3h0M456.6 175.2h0M430.9 201.5h0M454.3 183.5h0M438.6 199.9h0M452.8 174.3h0M428 205.3h0M453.6 184.5h0M435.1 200.2h0M452.6 185.4h0M440.8 186.6h0M455.2 195h0M446.9 196.7h0M444.9 191.8h0M430.5 192.8h0M437.2 200.9h0M454.2 197.5h0M459.2 195.7h0M461.2 193.7h0M454.3 174.1h0M438.5 196.6h0M437.4 199.2h0M442.5 191.4h0M448.8 189.5h0M431.9 202.7h0M448.4 195.1h0M442.4 190.3h0M437.4 203.7h0M434.7 206.4h0M437.3 196.7h0M434.3 203.3h0M448.3 189.9h0M458.4 207.5h0M434.8 198.9h0M462.2 189.7h0M456.8 190.3h0M436.7 208.7h0M452.7 191.2h0M453.9 198.3h0M436.3 198.5h0M458 194.7h0M445.9 198.8h0M447.9 187.7h0M430.7 199.2h0M446.7 198.7h0M458.8 174.2h0M445.8 189.6h0M440.3 202.5h0M433.6 188.1h0M432.6 210.4h0M455.8 202.7h0M433.7 198.8h0M451.6 188.4h0M450.2 194.1h0M464.8 192.3h0M456.2 200.3h0M458.3 194.1h0M445.1 185.2h0M442.4 188.8h0M430.1 204.8h0M435.4 206h0M434.5 198.9h0M451.6 206.9h0M458.2 173.8h0M436.8 201.6h0M442.4 191.1h0M452.3 190.7h0M449.8 187h0M435.1 195h0M452.1 200.8h0M433.7 202h0M436.8 194.2h0M425.8 207.5h0M457 203.7h0M447.9 190.3h0M459.1 187.4h0M451 194.7h0M436.9 210.4h0M459.3 193.5h0M454.3 174.3h0M447.8 190h0M454.4 193.2h0M457.7 197.8h0M429.9 194.3h0M436.5 198.7h0M447.3 192.6h0M434.8 192.6h0M436.3 201.3h0M455.2 193.9h0M432.6 193.8h0M430.9 209.5h0M431 196.6h0M464.2 183.7h0M458.1 202.4h0M440.6 198.8h0M457.8 191.2h0M454.7 174.1h0M429.4 196.2h0M454.3 197.8h0M454.2 195.3h0M426.5 196.9h0M427.9 198.9h0M445.2 196.4h0M453.9 192.3h0M436.5 196.3h0M452.7 171.7h0M434.2 195.1h0M460.1 188.3h0M434.3 203.2h0M454.8 197h0M432.6 188.3h0M428.7 195.3h0M434.5 196.4h0M451.4 193.4h0M430 201.5h0M454.1 191.2h0M461.1 196.3h0M456.8 203.2h0M442.8 190.9h0M457.7 196.9h0M459.5 198.1h0M461.2 197.1h0M433.1 190.1h0M460.2 197.2h0M458.1 194.6h0M460.4 173.8h0M450.4 197.8h0M463.9 192.6h0M435.5 187.6h0M430.5 204.9h0M435.7 196.1h0M449.2 193h0M445.5 197.9h0M455.8 196.5h0M437.7 208h0M448 189.4h0M450.1 192.7h0M451.5 202.6h0M449.7 190.8h0M438.2 198.1h0M457 192h0M436.2 190.8h0M442.9 191h0M454.2 191.9h0M427.8 187.8h0M454.6 192h0M435.5 199h0M452.3 197.7h0M457.5 174.8h0M446 190.4h0M458.9 198.1h0M430 195.2h0M431.1 194.6h0M435.9 197h0M437.5 202.3h0M456.7 172.2h0M438.3 198.9h0M453.1 200.8h0M461.6 192.5h0M434.5 197.6h0M454 197.3h0M433.8 197.7h0M458.1 194.5h0M430.7 194.8h0M457.1 192.8h0M433.4 199.8h0M457 171.3h0M436.7 191.8h0M456 190.4h0M435.5 200.5h0M431 205.3h0M450 186.8h0M430.5 196.7h0M442 190.1h0M458.7 194.7h0M458.2 174h0M433.4 186.9h0M441.1 195.5h0M434.2 208.9h0M454.3 189h0M426.8 195.6h0M448.9 188.1h0M442 189.4h0M432.8 197.1h0M445 194.5h0M436.4 196.5h0M434.6 198.7h0M440.8 187.2h0M451.6 191.9h0M458.9 187.6h0M461 175.3h0M447.7 192.4h0M434.3 199.2h0M457.6 171.7h0M443 188.7h0M438.1 203.1h0M432.3 203h0M433.6 202.3h0M442.8 192.2h0M426.1 193.1h0M459.8 196.3h0M456.7 191.2h0M442.4 189.9h0M460.2 175.6h0M435.8 198.4h0M446.1 190.4h0M449.8 195.8h0M430.7 198.6h0M455.8 178h0M434.8 205.7h0M460.1 199.6h0M434.9 191.2h0M442.6 188.5h0M450.2 201.3h0M434.3 197.7h0M433.1 208.7h0M450.8 202h0M429.9 199.8h0M445.8 186.4h0M455.2 197.8h0M454 171.5h0M428.6 201.5h0M459 199h0M456.3 175h0M431.9 189.6h0M435 201.4h0M431.8 198h0M436.9 210.5h0M455.6 194.7h0M426.8 207.6h0M445.2 187.4h0M432.7 196.7h0M433.1 199.2h0M457.6 188.6h0M453.5 191.6h0M431.1 195.4h0M450 188.8h0M456.2 190.6h0M432.6 188.7h0M442.8 185.2h0M442.4 188h0M432.7 196.8h0M457.3 188.3h0M456.2 200.2h0M453.5 192.1h0M448.5 189.6h0M446.5 187.7h0M457.2 195.2h0M459.5 202.2h0M439.6 193.1h0M450.7 193.5h0M451.9 188.8h0M448.8 201.4h0M432.4 194h0M455.7 196h0M458.9 196.7h0M459.9 195.8h0M455.1 191.3h0M434.5 206.2h0M437.5 192.7h0M443.1 191.6h0M434.7 189.8h0M451.7 196.5h0M436.6 197.4h0M459 187.7h0M455 201h0M435.2 194.5h0M455.9 175.5h0M431.9 199.8h0M433.2 194.6h0M432.5 203.6h0M452.8 190.3h0M462.6 191.5h0M437 189.2h0M451.5 194.5h0M456.7 195.5h0M439.9 189.6h0M435.2 201.1h0M444.1 191.7h0M456.6 172.9h0M452.7 172h0M452.3 187.4h0M457.5 176.4h0M456 190.5h0M454.3 173.4h0M436.1 202.7h0M432 199h0M451.7 195.5h0M461.2 174h0M451.3 192.8h0M454.3 175.2h0M455.1 197.3h0M461.1 196.5h0M449.6 189.4h0M433.4 192.9h0M460.2 174.5h0M452.4 203.2h0M451.9 196.3h0M447 193.3h0M449.8 192.5h0M435.2 194.1h0M455.6 200.8h0M434.7 184.6h0M432.6 202.1h0M452 189.4h0M432.6 188.6h0M459.1 196.6h0M436.4 208.5h0M452.7 188.6h0M434.2 188h0M454.6 189.6h0M447.4 194.4h0M456.3 193.3h0M439.1 200.3h0M438.9 188.6h0M447.1 186.9h0M432.6 203.2h0M429.5 201.3h0M454.7 196h0M438 204.3h0M459.6 193h0M430.4 202.6h0M453.8 192.6h0M460.3 199.4h0M434 199.1h0M433 196.2h0M459.1 199.8h0M438.8 199.3h0M433.5 195.3h0M434.5 190.9h0M456.1 173.2h0M455.2 190.5h0M443.1 208.9h0M446.5 190.4h0M446.5 189.4h0M433.5 195.5h0M455.3 174h0M452.8 193.2h0M451 194.4h0M453.1 190.3h0M451.4 200.7h0M446.2 185.8h0M441.7 203.2h0M447.7 188.2h0M462.9 194.2h0M454.8 199.9h0M453.4 175.7h0M461.4 190.3h0M436.2 198.4h0M450.5 191h0M460.9 174.7h0M449.9 187.7h0M437.1 191.4h0M449.5 189.1h0M428.3 195.6h0M433.7 187.3h0M429.9 193.9h0M456.9 198.8h0M447.1 187.4h0M435.6 190.7h0M427.7 193.5h0M453.3 173.6h0M457.1 198.2h0M432.8 194.1h0M452.6 198.6h0M444.2 202.9h0M460.2 199.4h0M449.3 193.5h0M455.5 195.3h0M440.1 197.8h0M453.6 193.9h0M435.3 193.4h0M450.9 183.9h0M435.8 199.2h0M434.6 199.2h0M458.9 191.7h0M446.5 192.2h0M454.7 196.8h0M443.2 201.1h0M461.4 193.5h0M454.2 196.3h0M450.1 193.2h0M433.6 202.9h0M460.3 172.1h0M434.8 191h0M447.3 190.3h0M433.9 187h0M443.8 194h0M449 191.9h0M436.3 202.3h0M433.8 201.1h0M453.3 190.8h0M440.8 200.9h0M439.6 194.5h0M458 175.3h0M439.2 194.4h0M453.1 196.6h0M439 191h0M433.9 200h0M443.2 189.9h0M455.9 175.6h0M432.9 207.5h0M435.5 203.3h0M435 197h0M461.6 197.9h0M447 193.5h0M433.6 201.6h0M468.9 194.5h0M449.8 196.3h0M460.1 174.9h0M434.3 198.3h0"/></defs>
<g clip-path="url(#cp1)" fill="none" stroke-linecap="round"><use href="#pcp1" stroke="#3848c0" stroke-width="0.8"/><g filter="url(#dn0)"><use href="#pcp1" stroke="#000" stroke-width="0.8"/></g></g>
<rect x="447.3" y="166.6" width="24" height="16" fill="none" stroke="#777" stroke-width="0.7"/>
<rect x="425.7" y="188.1" width="15.8" height="17.9" fill="none" stroke="#777" stroke-width="0.7"/>
<rect x="448.9" y="188" width="22.4" height="17.8" fill="none" stroke="#777" stroke-width="0.7"/>
<text x="476.7" y="169.7" font-size="8.6" text-anchor="end" fill="#1e1e1e">11.3</text>
<text x="422.9" y="216.6" font-size="8.6" fill="#1e1e1e">44.7</text>
<text x="476.7" y="216.6" font-size="8.6" text-anchor="end" fill="#1e1e1e">20.9</text>
<rect x="486.4" y="163.4" width="55.8" height="54.6" fill="none" stroke="#d4d4d4" stroke-width="0.7"/>
<path d="M484.4 167.4h2M482.4 166.4l0.9 -0.5M490.4 218v2M484.4 179.05h2M482.4 178.05l0.9 -0.5M502.35 218v2M484.4 190.7h2M482.4 189.7l0.9 -0.5M514.3 218v2M484.4 202.35h2M482.4 201.35l0.9 -0.5M526.25 218v2M484.4 214h2M482.4 213l0.9 -0.5M538.2 218v2" stroke="#9a9a9a" stroke-width="0.6" fill="none"/>
<line x1="484.8" y1="197.25" x2="486.4" y2="197.25" stroke="#111" stroke-width="1.4"/>
<line x1="497.73" y1="218.8" x2="500.73" y2="218.8" stroke="#222" stroke-width="1.3"/>
<defs><filter id="dn1" x="0" y="0" width="100%" height="100%" color-interpolation-filters="sRGB"><feGaussianBlur stdDeviation="1.2"/><feColorMatrix type="matrix" values="0 0 0 1.15 0 0 0 0 1.15 0 0 0 0 1.15 0 0 0 0 1 0"/><feComponentTransfer><feFuncR type="table" tableValues="0.165 0.169 0.173 0.173 0.176 0.180 0.184 0.192 0.204 0.212 0.224 0.231 0.227 0.224 0.220 0.247 0.310 0.373 0.431 0.522 0.643 0.769 0.894 0.941 0.949 0.957 0.961 0.949 0.937 0.918 0.882 0.847"/><feFuncG type="table" tableValues="0.212 0.227 0.243 0.259 0.275 0.290 0.306 0.353 0.408 0.463 0.514 0.569 0.620 0.671 0.722 0.757 0.765 0.773 0.780 0.796 0.820 0.843 0.871 0.827 0.753 0.682 0.588 0.447 0.302 0.200 0.145 0.086"/><feFuncB type="table" tableValues="0.627 0.651 0.678 0.702 0.729 0.753 0.780 0.796 0.808 0.824 0.835 0.843 0.827 0.812 0.792 0.729 0.608 0.482 0.357 0.267 0.227 0.192 0.153 0.133 0.125 0.118 0.110 0.110 0.110 0.110 0.106 0.106"/><feFuncA type="discrete" tableValues="0 0 0 0 0 0 0 1 1 1 1 1 1 1 1 1 1 1 1 1 1 1 1 1 1 1 1 1 1 1 1 1 1 1 1 1 1 1 1 1"/></feComponentTransfer></filter></defs>
<clipPath id="cp2"><rect x="486.8" y="163.8" width="55" height="53.8"/></clipPath>
<defs><path id="pcp2" d="M508.6 193.2h0M521.3 174.2h0M512.9 180h0M517.8 176.7h0M520 172.7h0M520.6 178h0M517.5 195.5h0M515.6 174.3h0M506.9 188.4h0M519 174.3h0M505.9 199.6h0M525.5 186.7h0M530.1 196.5h0M523.2 192.5h0M520.9 174.9h0M516.4 180.3h0M516 177h0M525.7 201.1h0M513.9 186.5h0M496.5 202.3h0M524.9 172.1h0M515.8 194.9h0M531.8 197.2h0M520 178.7h0M521.3 194.2h0M518.7 175.5h0M516 175.1h0M520.3 193.1h0M510 188.6h0M515.6 177.5h0M524 199.1h0M514.1 174.1h0M514.6 175.2h0M522.9 171.1h0M513.8 200.2h0M513 203h0M508.1 194.2h0M510 201.2h0M519.8 184.7h0M517.2 192.8h0M511.9 195.9h0M518.2 191.7h0M525 197.7h0M523.2 195.8h0M509.5 185.8h0M502.8 186.3h0M518.8 192.2h0M519.4 191.7h0M526.1 192.1h0M516.5 194.7h0M504.8 201.6h0M503.5 201.2h0M500.1 197.1h0M518.6 194.8h0M521.2 179.2h0M520.2 199.2h0M513.5 175.8h0M515.4 192.2h0M518.5 174.2h0M517.3 191.6h0M521 199.1h0M516.8 200h0M515.6 182.2h0M516.3 193.3h0M524.4 195.1h0M511.6 192.3h0M508.4 191.2h0M514.5 198.5h0M520.7 184.9h0M502 200.3h0M518.3 189h0M513.5 183.9h0M500.2 187.6h0M522.3 187.4h0M517.7 204.7h0M519.8 173.4h0M526.2 193.8h0M522.7 185.1h0M517.5 199.3h0M520.3 191.1h0M517 193.7h0M522.8 185.6h0M518.4 196.5h0M524.3 200.8h0M528.9 201.5h0M525.3 187.1h0M508.8 202.5h0M508.9 197.5h0M511.5 195.6h0M489.6 185.3h0M514.6 194.5h0M517.4 200.8h0M526.9 192.9h0M524.2 198.3h0M515.8 192.8h0M517.2 188.9h0M511 183.2h0M513.3 193.6h0M515.7 185h0M507.5 190.2h0M506.3 180.1h0M512.8 194h0M518.4 180.9h0M521.9 198.5h0M517.8 192.5h0M504.9 196.3h0M521.7 191.1h0M503.1 196.5h0M502.8 185.8h0M515.3 177.5h0M517.8 190.3h0M499.1 195.1h0M522.4 181.6h0M521 178.5h0M523.5 189h0M511.3 190.8h0M506.2 198.9h0M522.5 199h0M522.9 175.1h0M517 197h0M522.7 174.9h0M496.1 200h0M530.2 198.7h0M505.3 202.2h0M507.7 198.1h0M515.8 200.7h0M517 183.1h0M521.7 191.7h0M518.1 178.9h0M503.8 203.6h0M516.3 176.8h0M522.9 196.5h0M507.7 194h0M518.9 179.6h0M517.9 175h0M519 176.1h0M522 193.1h0M524.8 187.3h0M516.3 181.2h0M523.7 194.5h0M500.7 197.3h0M525.4 201.4h0M525.4 191.3h0M521 202.5h0M520.5 176.3h0M517.7 194.3h0M503.8 196.2h0M519.3 200.2h0M522.2 182.6h0M519.8 193.3h0M517.7 200.1h0M524.2 197.2h0M523 180.8h0M513.3 201.9h0M519.2 182.4h0M519.3 178.1h0M498.9 192.3h0M517.4 188.6h0M523.1 191.4h0M521.8 197.7h0M505.1 189.5h0M521.2 177.8h0M518.4 180.2h0M517.7 181.4h0M521.6 174.1h0M500.3 202h0M500.3 196.6h0M511.2 185.5h0M522.1 174.1h0M519.5 178.9h0M513.7 203.3h0M504.6 200.5h0M520.8 185.6h0M529.5 202.1h0M526.7 192h0M502.6 190h0M527 198.1h0M511.3 194.5h0M519.5 176.5h0M501.3 192.6h0M526.8 194h0M520.9 197.2h0M518.5 197.2h0M525.2 201.6h0M500.6 200.3h0M511.6 199.5h0M518.2 205.7h0M516.7 176.4h0M500.7 187.4h0M517.2 173.9h0M521.7 185.6h0M518.7 180.2h0M521.8 178.3h0M518.4 174.3h0M517.8 180.4h0M521.7 197.1h0M524.7 177.2h0M517.6 169.2h0M524.7 199.2h0M522.8 201.4h0M523.4 175.3h0M526.5 192.4h0M521 198.2h0M520.3 171.7h0M523.3 202.2h0M513.7 188.8h0M515.2 181.8h0M524 204.3h0M517.3 200.2h0M522.4 192h0M515.3 175.7h0M506.8 177.9h0M497 197.6h0M518.1 181.2h0M518.7 175.7h0M522.7 195h0M517.5 178.1h0M506.5 196.6h0M511.9 184.3h0M518.2 190.1h0M518.5 200.1h0M503.6 186.4h0M518.4 180.5h0M519.3 198.2h0M517.8 180.4h0M519.9 192h0M517.2 195.7h0M518.8 193.7h0M519.3 201.9h0M494.9 198.3h0M516.1 204.4h0M521.2 181.6h0M526.2 199.3h0M517.1 192.8h0M517 193.3h0M522.2 183.1h0M527.3 202.1h0M525.2 199h0M515.6 195.8h0M518 176.8h0M519.4 194.3h0M524.9 197.9h0M501.4 187.4h0M507.8 206.9h0M505.2 202.3h0M526 207h0M521.3 192.6h0M514.5 192h0M526.5 196.1h0M517.9 181.9h0M525.4 190.7h0M498 185.2h0M515.3 199h0M521.4 187.6h0M514.6 194.4h0M505.2 193.7h0M518.2 176.6h0M521.6 193h0M503.6 194h0M513.6 179.3h0M521.6 196.1h0M520 175.6h0M519.3 203.1h0M526.2 203.8h0M518.1 186.6h0M513.7 197.8h0M512.9 177.3h0M514.1 191.2h0M507.8 185h0M525.3 203.8h0M524.9 190.3h0M518.3 179.2h0M508.9 189.4h0M517.1 180h0M517.9 198.5h0M516.9 176.1h0M510.3 179.6h0M522.3 180.9h0M520.2 201.5h0M516.2 192.7h0M508.5 197.3h0M522 184.9h0M504.7 184.1h0M519.4 204.5h0M518.8 187h0M521.5 186.9h0M518.3 191.8h0M519.7 196.4h0M515.3 209.3h0M518.8 198.3h0M519.6 197.7h0M521.8 175h0M517.7 193.6h0M521.9 178.4h0M520.1 188.9h0M496.7 206.9h0M523.2 197h0M524.8 195h0M499.5 195.7h0M512.6 178h0M520.9 196.5h0M518.8 182.1h0M517.7 178.6h0M524.9 189.7h0M518.6 169.7h0M527.6 199.9h0M508.6 193.1h0M513 176h0M502.4 194.7h0M520.9 187.9h0M519.3 191.1h0M518.6 177.9h0M518.4 200.6h0M520.7 201.2h0M523.1 175.7h0M516.8 199.8h0M499.7 198.4h0M522.8 181.4h0M520.7 174.5h0M516.4 191.9h0M498.1 193.6h0M500.2 204.6h0M500.8 192h0M516.9 189.5h0M511 193.6h0M523 177.6h0M500.9 191.5h0M508.2 205.7h0M521.1 177.7h0M515.3 177.4h0M522.2 176.3h0M521.7 181.8h0M507.4 198.4h0M511.2 207.4h0M518.4 191.8h0M505.3 191.7h0M518 196.5h0M517.4 175h0M517.6 193.2h0M529.7 189.3h0M521.4 199.3h0M518.1 196.9h0M519.7 173.1h0M523.8 195.3h0M525.5 204h0M509.3 200.4h0M509.3 195.7h0M522.8 193.4h0M497.5 193.1h0M523 193h0M503.7 198.4h0M515.3 201.3h0M505.9 198.5h0M519.8 177.3h0M514 204h0M521.8 181.4h0M515.6 183.1h0M507 186.6h0M519.9 182.7h0M504.1 197.9h0M519.1 196.4h0M522.2 177.2h0M515.4 195.2h0M517.6 178.2h0M503.5 203.2h0M523.9 198.6h0M524.3 193h0M525.9 176.1h0M500.1 199.6h0M522 196h0M516.4 199h0M527.3 195.9h0M496.5 194.6h0M506.9 195.2h0M498.1 199.1h0M525 194.5h0M518.9 196.9h0M517.3 197.6h0M506.1 204.3h0M521.1 198.9h0M522.5 173h0M518.1 199.8h0M517.7 190.2h0M521.1 195.4h0M502.7 191.5h0M524 195.3h0M520.7 190.3h0M497.3 200.3h0M519.3 191.3h0M518 194.4h0M520 206.7h0M520 189.2h0M521.3 198.2h0M496.8 196.3h0M522.1 191.9h0M521 174.4h0M503.6 186.7h0M516.1 192h0M511.7 187.6h0M519.4 178.8h0M522.6 189.4h0M524.5 198.1h0M503.4 192.3h0M523 187h0M518.1 174.8h0M521.2 200.4h0M520.3 196.1h0M518.4 177h0M518.9 175h0M521.3 205.2h0M515.2 172.9h0M514.4 179.9h0M520 196.5h0M516.4 201.5h0M515.8 199.5h0M506.9 195.1h0M523.3 193.9h0M504.6 192.7h0M499.8 198.1h0M497.6 200.8h0M526.6 190.3h0M516.4 175.6h0M523.2 190.8h0M524.4 191.8h0M513.1 194.7h0M500.2 191.1h0M517.7 174h0M500.6 193.8h0M524.6 180h0M524 180h0M526.9 198.1h0M499.3 196.6h0M496.7 199.8h0M513 188.1h0M517.4 180.5h0M522 177.2h0M519.7 199.1h0M503.7 187.9h0M524.3 196.8h0M514.2 179.2h0M521.3 197h0M517.6 199.5h0M517.4 192.9h0M514.5 203.2h0M524.4 196.8h0M516.3 199h0M519.8 204.6h0M519 186.3h0M511.5 198.8h0M521.9 194.2h0M520 194.1h0M517.7 193.9h0M523 175.6h0M501.4 190.5h0M499.8 199.8h0M518.6 201h0M520.6 178.2h0M516.3 188.5h0M500.1 207.7h0M501 197.9h0M506.3 199h0M521.5 202.2h0M518.6 194.3h0M499.5 206h0M522.1 169.4h0M524.9 196.4h0M501.1 202.8h0M514.4 178.5h0M520 193.1h0M520.2 199.8h0M515.5 195.1h0M516.9 202.5h0M522.6 194.4h0M524.6 190.1h0M522.9 196.9h0M527.3 189.1h0M520.1 177h0M524.7 194.4h0M505 196.1h0M517.9 196.6h0M502.8 204.7h0M525.8 198.2h0M514.1 175.7h0M519.8 195.7h0M525.9 199.7h0M516.8 176.1h0M519.6 192.7h0M522.1 176.4h0M515.2 185.5h0M524.9 180.8h0M515.4 177.5h0M517.5 177.8h0M516.9 195.2h0M517.6 178.6h0M519.8 183.5h0M521.5 194.8h0M492.3 198h0M519.8 191.9h0M501.8 199.7h0M516.4 179.7h0M522.3 194h0M521.5 202.4h0M509.9 188.3h0M511.2 186.7h0M515.8 174.3h0M504.4 199.6h0M521.4 195h0M499.4 200.1h0M519.6 182.3h0M502.1 200.3h0M520.1 179.4h0M535.2 192.7h0M503.4 191.3h0M518.8 184.9h0M501.8 203.3h0M511 187.8h0M499.3 198.9h0M500.2 190.1h0M523 171.2h0M510 179.1h0M505 186.9h0M513 178.5h0M525.9 193.8h0M522.1 206.1h0M510.3 201.9h0M522.4 200.9h0M511.7 195.9h0M499.6 191.4h0M512.9 181.6h0M510.1 192.9h0M515.9 172.7h0M514.3 189.8h0M517.4 190.6h0M523.9 180.9h0M517.2 191.9h0M521.8 200.1h0M506.7 187h0M518.7 182h0M516.9 187.4h0M519 176.6h0M512.3 194.8h0M502.7 200.1h0M500.6 182.3h0M510.4 195.4h0M523.6 195.2h0M514.2 196.7h0M522.9 183.8h0M522.1 191.7h0M525.2 199.3h0M504.6 189.9h0M515.7 192.8h0M516.9 175.1h0M498.8 203h0M517.3 199.8h0M503.5 193h0M522.3 195.1h0M507.3 183.4h0M521 184.4h0M500.4 195h0M527.7 205.2h0M515.3 196.7h0M524.9 196.9h0M498.8 193.1h0M499.4 202.7h0M526.9 194.4h0M507.8 185.1h0M503.3 190h0M523.8 201.2h0M511.9 185.1h0M512.9 176.8h0M519.3 175.6h0M524.2 196.8h0M531.4 192.7h0M516.6 184.1h0M517.9 180.3h0M519.2 180.4h0M524.1 194.5h0M522.3 175.6h0M503.6 182.5h0M525 202.5h0M515.1 192.6h0M499.9 201.3h0M499.9 196.6h0M520.5 204.3h0M521.3 174h0M524 193.9h0M525.7 198.2h0M499 191.6h0M514.3 193.7h0M504.8 194.9h0M500.9 191.3h0M506.1 192.8h0M522.2 190.9h0M522.1 174.7h0M516.5 185.6h0M518.8 178.3h0M512.7 195.3h0M497.5 193.9h0M519.7 205.3h0M512.2 187.5h0M500.5 190.3h0M518.4 184.5h0M503.1 180.5h0M518 172.9h0M520.7 197.3h0M522.4 191.7h0M519.6 178.7h0M506.1 194.9h0M520.4 193.5h0M510.2 190.8h0M523.1 198.6h0M515.6 178.7h0M521.3 193.2h0M520.1 181.6h0M518.2 201.3h0M520 175.4h0M513.1 183.5h0M519.5 176.7h0M519.6 196.3h0M520 188.6h0M515.3 194.9h0M526.5 170.1h0M515.6 189.1h0M514.6 199.9h0M514.8 178.7h0M497.6 197.7h0M517.3 178.8h0M519.1 173.8h0M523 203.1h0M519 181.2h0M505.6 194.9h0M517.6 193.5h0M502.4 197.8h0M522.8 173.8h0M520.6 200.3h0M512.7 170.6h0M523.4 196.3h0M527 189.8h0M522.5 196.9h0M520 174.1h0M518.5 192.7h0M521.9 192.9h0M515.9 176h0M519.4 178h0M501.6 185.7h0M494.4 200.5h0M524 186.2h0M521.6 177.6h0M520.5 195.9h0M511.9 183.9h0M522.4 175h0M517.4 181.2h0M501.9 191.2h0M519.7 183.9h0M525.4 199.6h0M520.5 180.5h0M516.6 189.2h0M527 198.8h0M516.2 178h0M499.9 192.6h0M499.1 190.9h0M523 175.2h0M520.1 186.2h0M515 180.7h0M503.8 183h0M526.7 182h0M512.2 190.8h0M523.6 193.9h0M504.5 193.3h0M506 200.3h0M519.5 176h0M505.1 194.3h0M514.1 196.5h0M520.9 171.3h0M522 197.5h0M523.1 189.9h0M514.7 190.2h0M523.2 178.7h0M520.5 195.8h0M506.4 197.9h0M507.4 191.2h0M501.3 201.7h0M523.4 176.8h0M526.5 200.1h0M512 188.1h0M518.6 203.7h0M512.4 172.2h0M501.7 196.5h0M517.9 173.6h0M516.8 196.9h0M515.3 186.1h0M502.4 185.4h0M510.1 188.9h0M502.4 191.9h0M516.5 203.4h0M520 191.6h0M518.7 199.2h0M511 180.4h0M505.3 192.8h0M520.4 190h0M520.9 200.8h0M520.2 183.6h0M499.9 204.9h0M518.6 183.6h0M527.1 201.3h0M518.1 191.8h0M523.3 194.7h0M517.8 190.2h0M491.6 203.5h0M501.8 195.9h0M517.8 183.8h0M519.1 182.1h0M510.2 202.2h0M498.5 188.4h0M500.4 200.4h0M518.6 175.5h0M526.8 193.7h0M517.7 189.6h0M500 198.2h0M522.4 177.7h0M522.2 179.7h0M504 193.7h0M501 198.5h0M515.5 199.7h0M520.6 193.1h0M498.1 205.3h0M520.5 175.5h0M513.3 181.9h0M523.6 195.6h0M515.2 197.8h0M519.5 192.6h0M526.9 182.3h0M517.8 189.9h0M519.9 177.6h0M520.9 201.6h0M520.5 192.6h0M510.3 196.1h0M523.3 197.9h0M509.1 196.1h0M500.7 199.8h0M517.1 179.3h0M494 198.3h0M516.3 172.5h0M525.3 196.4h0M514.5 178.6h0M522.1 179.7h0M519.8 180.6h0M522.2 178.6h0M525.8 192.8h0M520.3 182.3h0M528.3 185.7h0M521.5 199.6h0M521.1 198.6h0M511 192.8h0M525 192.7h0M503.5 199h0M522.6 202.8h0M529.7 205.6h0M521.2 196.1h0M499.7 196.3h0M520.6 189h0M515.2 195.4h0M503.9 203.8h0M505.4 187.6h0M523.1 193.5h0M513.8 173.7h0M519.6 178.2h0M522.6 198h0M493.8 190.2h0M520.6 194.7h0M507.4 203.1h0M525.5 193.5h0M502.4 195h0M517.4 213h0M522.5 208.5h0M517.7 198h0M503.5 197.1h0M519.4 177.4h0M520.7 201.1h0M520.4 192.7h0M528.7 204.5h0M521.9 180.2h0M522 194.2h0M523.7 201.4h0M513.5 201.3h0M505.5 186.4h0M524.9 193.5h0M520.7 176.7h0M518.7 179.8h0M512.1 193.6h0M525.3 187.7h0M498.8 196.2h0M517.9 189.6h0M522.8 181.3h0M525.5 180.3h0M523.6 202.7h0M521.2 200.3h0M520.2 193.6h0M497.8 192.3h0M500.5 195.7h0M518 188.1h0M503.8 208.3h0M511.1 196.7h0M508.6 202.3h0M511.1 195.3h0M497.4 202.3h0M502 199.1h0M519.3 178.2h0M516.6 179.1h0M512.8 173.9h0M516.9 201.8h0M523.1 200.7h0M518.5 175.8h0M527.9 193.3h0M505.1 183.8h0M502.5 195.7h0M499.6 200.2h0M501 183.5h0M507 188.3h0M514.4 176.4h0M521.3 195.6h0M519.3 177.1h0M520.3 203.6h0M510.3 197.7h0M510.9 196.9h0M517.2 194.8h0M517.7 195.9h0M521 178.3h0M515.9 174.1h0M522.7 187.3h0M518.2 195.6h0M504 196.8h0M518.3 174.6h0M501.1 205.6h0M517 194.8h0M517.9 172.2h0M510.7 193h0M498.8 195.3h0M518.1 176.7h0M500.5 200.4h0M514.3 193.7h0M519 175.3h0M516.8 189.3h0M523.2 193.4h0M519.2 192h0M520.2 182.5h0M507.2 175.6h0M508.5 195.3h0M504.5 198.8h0M523.1 178.5h0M525.4 174.8h0M521.6 197.9h0M516.9 194.7h0M495 194.8h0M522.3 178.7h0M520.8 203.1h0M517.9 180.5h0M500.8 191.4h0M529.7 190.1h0M524.6 198.9h0M500.2 197.8h0M509.9 196h0M518.3 192.4h0M519.4 172.3h0M524.5 198.1h0M520.4 177.2h0M521.2 192.6h0M521.1 178.2h0M522.2 192.7h0M519.7 174.3h0M523.1 198.1h0M511 200h0M505.8 189.3h0M526.4 193.5h0M514.4 197.2h0M501.8 198.9h0M517.9 203.1h0M520.9 199.4h0M523.3 195.2h0M508.8 193.7h0M499.3 199.2h0M524.5 186.1h0M528 196h0M529.3 187.8h0M525.4 187.6h0M518.2 199.2h0M519.4 197.1h0M522.2 175.7h0M504.5 190.7h0M527.5 190.9h0M504.6 189.1h0M510.2 199.2h0M522.1 193h0M516.9 203.7h0M525.4 187h0M519.5 201.3h0M498.3 189.6h0M522.2 174.6h0M517 203.1h0M513.2 187.4h0M520.9 197.8h0M528.3 196.9h0M520.5 177.9h0M501.5 201.9h0M524.3 183.2h0M514.9 187.2h0M526.4 190.4h0M524.8 190.6h0M514.3 174.5h0M516.6 195.9h0M508.3 186.9h0M514 205.3h0M505.4 204.5h0M516.5 175.7h0M499.1 197.4h0M524.1 187.1h0M522.1 203.9h0M512.8 202.6h0M499.2 199.4h0M502.3 194.9h0M517.7 202.8h0M515.8 176.4h0M505.4 206.6h0M493.2 194.1h0M522.8 175.4h0M502.5 192.8h0M506.9 198.4h0M528.2 188.8h0M487.9 196.6h0M524.6 201.2h0M503.2 194.2h0M520.2 200.8h0M519.1 195.9h0M516.7 181.4h0M500.6 200.4h0M523.5 201.7h0M512.8 198h0M500.4 188.2h0M499.5 206.2h0M524.6 201.3h0M522.3 196.4h0M508.9 187.4h0M511.5 181.6h0M521.2 191.5h0M521.1 180h0M520.1 198.3h0M521.2 178.4h0M518.2 195.3h0M510.4 200.6h0M525.4 193.4h0M517.9 176.5h0M523.9 179.5h0M500.3 200.1h0M517.1 201.8h0M525.7 203.9h0M529.1 195.8h0M497.6 202.2h0M499.5 200.5h0M515.1 192.8h0M502.1 195.5h0M525.3 188h0M519.2 191.1h0M498.7 195.9h0M524.5 181.6h0M515.6 191.3h0M516.9 195.5h0M506.1 196.4h0M500.6 193h0M516.5 200h0M510 196.2h0M514.9 204.1h0M520.3 200h0M515.3 198.2h0M519.8 178.4h0M513 193.8h0M518.9 182.3h0M507 189.7h0M522.5 194.3h0M501.6 198.7h0M502.4 192.4h0M523.1 173.8h0M522.1 195.2h0M519.9 177.8h0M499.3 194.5h0M521.2 181.1h0M503.4 195.5h0M499.1 199.4h0M522.1 209.4h0M505 194.4h0M521.1 179.7h0M504.1 198.7h0M503.8 197.6h0M504.6 187.4h0M506 187.2h0M528.7 191.8h0M502.3 196.4h0M515.8 180.5h0M521.2 172.4h0M528.4 195.7h0M518.3 189.5h0M493.6 203.6h0M516.4 194.4h0M518.5 198.3h0M513.2 180.2h0M519.5 189.9h0M521.1 191.3h0M525.4 204h0M519.4 207h0M524.3 175.3h0M519.7 173.5h0M505 187.1h0M518.2 201.9h0M519.1 178.9h0M501.4 193.9h0M520.2 187.9h0M514.3 177.6h0M517.9 175.4h0M529.7 189.4h0M497.1 200.3h0M510.8 183.8h0M498.5 198.9h0M526 201.3h0M518.9 176.5h0M493.7 195.3h0M517.4 175.2h0M521.3 194.2h0M527.9 200.7h0M517 191.8h0M519.6 187.2h0M523.4 194h0M520 176h0M516.5 177.4h0M522.7 176h0M510.4 203.6h0M523.1 175.1h0M507.9 190.4h0M523.7 190.9h0M524.4 174.6h0M500.3 192.6h0M525.7 183.5h0M512.9 203.8h0M518.8 197.2h0M515.7 178h0M517.3 200.3h0M498.8 194.8h0M500.2 201.6h0M513.1 202.5h0M498.8 201.6h0M523.7 196h0M518.4 181.5h0M527 192.9h0M526.6 193.1h0M525 189.5h0M518.1 192.7h0M507.2 210.8h0M523.5 177.6h0M517.8 177.3h0M506 182.4h0M518.4 197h0M501.4 196.4h0M524.5 194.5h0M525.2 195.7h0M500.9 184.4h0M520 179.2h0M521.6 198.7h0M524.6 191.1h0M525.1 194.3h0M505.9 200.4h0M516.6 202.7h0M523.3 199.4h0M510.2 191.6h0M498.1 192.3h0M518.8 173.6h0M523.5 193.1h0M520.4 178.8h0M521.7 192.5h0M516.1 192.4h0M520.2 195.2h0M517.3 178.4h0M500.7 206.1h0M524.9 198.7h0M517.2 203h0M516.5 172.4h0M511.4 195.2h0M521.6 197.2h0M518.7 178.5h0M498 198.5h0M523.8 193.9h0M518.4 179.9h0M504.1 192.3h0M521 177.8h0M508.3 187.6h0M525.6 197.6h0M526.4 200.5h0M498.5 196.2h0M496.1 199.5h0M519.6 177.3h0M517.7 178.6h0M515.5 168.6h0M520.3 203.1h0M515.4 180.1h0M521.8 197h0M530.3 194.7h0M515.7 177.3h0M517.6 174.3h0M506.8 203.9h0M507.1 190.9h0M525.4 201.1h0M492.7 189.7h0M518.2 172.1h0M518.9 178.3h0M520.2 190.7h0M497 202.5h0M525.4 194.6h0M523.7 180h0M508.1 187.8h0M509.8 187.5h0M520.7 195h0M515.4 182.3h0M499.1 207.4h0M515.7 184.4h0M494.4 187.8h0M522.6 201.3h0M518.8 199.7h0M518.4 193.5h0M515.9 195.3h0M519.5 192.5h0M519.7 204.2h0M501.1 190.2h0M525.4 192.6h0M519.8 200.5h0M501.9 191h0M501.2 201.9h0M519.5 200h0M500.2 192.9h0M522.2 188h0M497.2 190.4h0M524.6 197.2h0M523.2 176.5h0M506.1 194.4h0M518.6 178.6h0M509.8 183.5h0M520.3 201.4h0M505.3 190.2h0M504.6 192.7h0M523.5 194.9h0M518 184.1h0M504.7 200.6h0M506.9 192.1h0M508.3 192.5h0M504.8 192.6h0M520.9 196.5h0M520.4 195.9h0M521.2 190.7h0M498.9 194h0M517.4 173.7h0M523.4 205.1h0M507.5 204h0M520.4 196.7h0M517.4 189.8h0M523 197.9h0M517.4 197.9h0M523.5 202.1h0M522.8 192.4h0M520.1 196.4h0M512.2 186h0M492.9 192.7h0M517.7 178.9h0M522.3 185.6h0M515.2 201.5h0M519.1 182.4h0M522.7 195.3h0M521 195.7h0M522 179h0M517.4 195.2h0M491.4 194.9h0M515.7 177.2h0M522.8 192.7h0M507 194.6h0M517.7 193.8h0M522.4 176.6h0M517.2 174.3h0M517.1 204.2h0M511.8 201.9h0M518.9 197.2h0M498.6 191.5h0M521.7 204.5h0M522.9 191h0M502.6 197.1h0M501.4 190.6h0M518.2 196h0M516.4 173.7h0M519.5 193.2h0M523.3 200.9h0M518.8 194.5h0M519.2 193.5h0M518.6 189.5h0M521.9 188.7h0M513.8 179.4h0"/></defs>
<g clip-path="url(#cp2)" fill="none" stroke-linecap="round"><use href="#pcp2" stroke="#2a3aa8" stroke-width="0.8"/><g filter="url(#dn1)"><use href="#pcp2" stroke="#000" stroke-width="0.6"/></g></g>
<rect x="512" y="166.6" width="24" height="16" fill="none" stroke="#777" stroke-width="0.7"/>
<rect x="490.4" y="188.1" width="15.8" height="17.9" fill="none" stroke="#777" stroke-width="0.7"/>
<rect x="513.6" y="188" width="22.4" height="17.8" fill="none" stroke="#777" stroke-width="0.7"/>
<text x="541.4" y="169.7" font-size="8.6" text-anchor="end" fill="#1e1e1e">30.0</text>
<text x="487.6" y="216.6" font-size="8.6" fill="#1e1e1e">6.53</text>
<text x="541.4" y="216.6" font-size="8.6" text-anchor="end" fill="#1e1e1e">57.2</text>
<rect x="549.2" y="163.4" width="55.8" height="54.6" fill="none" stroke="#d4d4d4" stroke-width="0.7"/>
<path d="M547.2 167.4h2M545.2 166.4l0.9 -0.5M553.2 218v2M547.2 179.05h2M545.2 178.05l0.9 -0.5M565.15 218v2M547.2 190.7h2M545.2 189.7l0.9 -0.5M577.1 218v2M547.2 202.35h2M545.2 201.35l0.9 -0.5M589.05 218v2M547.2 214h2M545.2 213l0.9 -0.5M601 218v2" stroke="#9a9a9a" stroke-width="0.6" fill="none"/>
<line x1="547.6" y1="197.25" x2="549.2" y2="197.25" stroke="#111" stroke-width="1.4"/>
<line x1="560.53" y1="218.8" x2="563.53" y2="218.8" stroke="#222" stroke-width="1.3"/>
<clipPath id="cp3"><rect x="549.6" y="163.8" width="55" height="53.8"/></clipPath>
<defs><path id="pcp3" d="M561.6 192.5h0M591.8 193.6h0M567.7 199.1h0M590 174.4h0M559.9 208.7h0M583.6 174.5h0M584.5 175.7h0M567 174.7h0M576.8 190.6h0M587.5 196.2h0M586 179.9h0M583.2 180.1h0M592.2 190h0M580.9 180.1h0M567.2 191.6h0M570.5 176.8h0M585.5 176.1h0M562.6 194.9h0M550.9 194.9h0M587.2 207.7h0M583.1 185.6h0M581.8 190.5h0M585.7 208h0M578 195h0M581.8 172.6h0M567.4 183.1h0M582.6 187.8h0M580.8 194.9h0M561.8 196.7h0M575.8 188h0M584.2 193.3h0M579.9 190.9h0M580.6 193.7h0M591.6 195.5h0M586.2 189.6h0M560.4 195.2h0M566.5 190h0M564 172.1h0M578.1 184h0M587.2 198.6h0M585.3 198.4h0M567.3 182.2h0M580.8 193.8h0M578.6 194.1h0M583.8 194.6h0M571.9 197h0M554.5 186.6h0M584.2 191h0M562.3 203h0M556.5 198.8h0M578.5 174.1h0M576.5 176.3h0M585.3 172.4h0M581.7 179.2h0M588 198.5h0M581.8 200.9h0M585.2 187.3h0M581.8 178.3h0M588.9 200.5h0M577.4 180.3h0M581.9 174.6h0M565.8 198.6h0M585.6 176.7h0M576.1 198.8h0M565.6 180.9h0M587.1 192h0M555 187.7h0M561.6 202.8h0M578.8 182.7h0M572.7 180.3h0M557.6 190.4h0M586 198.6h0M560.6 185.4h0M556.3 180.4h0M578.9 178.9h0M560.7 199h0M558.8 206.9h0M575.4 192.7h0M581.5 176.7h0M583.9 196.9h0M585.4 200.1h0M581.4 196.8h0M559.1 208.3h0M580.4 196.9h0M566.2 203.2h0M559.4 185.6h0M584.4 196.4h0M585.6 192.9h0M583.7 191.2h0M578.1 177.5h0M575.9 192.7h0M560.8 197.5h0M586.8 193.2h0M561.2 195.3h0M576.4 198.6h0M567 192.5h0M581.1 178h0M581.9 179.2h0M583.1 181.5h0M583.2 174.9h0M583.9 205.3h0M581.6 176.5h0M562.2 199.8h0M573.8 181.5h0M553 183.9h0M580.4 195.5h0M582.2 202.2h0M582.4 202.8h0M583 174.3h0M587.5 199.5h0M582.6 190.5h0M586.3 192.8h0M590.2 184h0M570.5 206.4h0M564.5 212.2h0M564 180.7h0M583.1 176.4h0M581.1 193.1h0M582.9 193.1h0M566.6 197.6h0M560.5 188.9h0M587.8 194.1h0M578.4 201.1h0M557.6 184h0M559.6 196.6h0M584.7 193.1h0M556.3 197.9h0M583.1 187.2h0M579.4 184.7h0M584.6 189.7h0M577.8 202.3h0M578.7 174.2h0M584.2 181.3h0M582.3 197.5h0M581.2 175.7h0M562.9 188.9h0M582.9 200.6h0M578.6 179.1h0M583.8 175.5h0M584.1 177.3h0M585.5 195.8h0M555 186.1h0M580.6 208.8h0M593 194.7h0M582.1 177.4h0M564.6 178.5h0M562.2 194.4h0M561.2 201.5h0M581.8 188.8h0M562.8 175.5h0M575.2 188.2h0M587.4 193.2h0M579 182.2h0M564 188.4h0M572.7 189h0M583.6 190.9h0M577.2 173.9h0M579.5 185.4h0M584.3 180.7h0M598.2 189.9h0M585.1 188.3h0M583.8 177.6h0M581.1 178.1h0M573.7 202.2h0M588.1 188.1h0M561.7 200.8h0M578.2 200h0M580.6 201.8h0M573.3 200.6h0M582.7 178.5h0M587.1 188.5h0M576.7 188.6h0M564.4 197.3h0M582.2 194.1h0M559 200.7h0M589.4 200.4h0M567.6 179h0M567.6 187.1h0M573 196.6h0M559 211.4h0M576.6 178.1h0M559.7 199.6h0M557.2 186h0M565 194.3h0M577.5 178.9h0M569.4 188.9h0M579.6 190.6h0M562.1 190.9h0M584.6 194.1h0M584 181.8h0M571.9 185.3h0M581.8 189.3h0M559.7 202.3h0M574.8 180.9h0M578.9 194.9h0M584.3 192.4h0M562.6 186.3h0M581.2 181.6h0M579.2 205.2h0M573.3 191.9h0M580.8 179.5h0M580 182.6h0M565.4 202.6h0M588.7 202.9h0M575.6 192h0M571.3 180.6h0M573.1 178.4h0M562.4 178.8h0M579.2 180h0M578.1 178.3h0M556.5 175.4h0M561.1 200.4h0M565.4 203.7h0M571.8 204.7h0M568.7 202.2h0M560.3 195.2h0M584.1 189.6h0M573.5 182.4h0M585.4 193.3h0M581.7 176.5h0M565.1 194.8h0M565.5 184.8h0M587.5 196.3h0M585.2 187.4h0M557.5 178.9h0M579.6 179.7h0M583.2 191.8h0M581.5 205.6h0M558.6 197.4h0M579.3 193h0M563 194.2h0M587.7 199.1h0M564.7 199.4h0M563.4 196.1h0M578 177.4h0M578 173.9h0M567.5 191.1h0M582.2 200.9h0M591.9 189.5h0M550.7 197.5h0M586 175.7h0M585.3 173.1h0M584.9 192.2h0M555.1 193.2h0M585.7 187.4h0M584.1 177.6h0M578.2 198.9h0M581.9 192.5h0M584.8 196.6h0M558.7 194.4h0M564.8 198.3h0M588.5 206.2h0M558.5 195.6h0M581.3 201h0M589.3 194.5h0M586 196.4h0M585.4 184.7h0M584.3 189.9h0M560.6 196.6h0M579.1 173.7h0M590.8 190.7h0M588.7 198.1h0M561.5 194.1h0M590.7 197.2h0M560.9 201.8h0M584.5 198.4h0M557.5 182.7h0M585.6 188.8h0M555.2 198.6h0M590.2 194.1h0M560.6 195.3h0M584.5 205.3h0M575.3 180.1h0M569.7 176.2h0M582.3 191.2h0M555.2 203.7h0M565 184.6h0M584 195.3h0M582.3 181.6h0M583.9 190.9h0M584.6 189h0M559.6 191.6h0M562.5 201.4h0M581.4 182.6h0M557 184h0M559.2 186.1h0M557.5 192.6h0M581.8 199.8h0M578.5 182.1h0M563.8 203.5h0M581.7 176.1h0M581.7 181.7h0M591.5 187.2h0M583.4 187.4h0M561.3 208.1h0M578.3 195.8h0M585 200.6h0M586.2 197.1h0M593.2 196.3h0M583.9 197.9h0M585.5 197.6h0M579 192.7h0M575.6 193.9h0M553.8 208.2h0M561.7 178.3h0M589.8 203.5h0M567.1 203h0M584.9 182h0M574.9 193.2h0M576.6 195.5h0M580 191.5h0M576 204.1h0M581.4 179.5h0M579.6 177.6h0M581.5 184.4h0M575.6 182.9h0M574.1 203.2h0M592.9 193.1h0M572.9 191.9h0M585.1 173.4h0M559 189h0M582.4 201.7h0M557.5 203.9h0M583.4 193.9h0M560.4 202.6h0M584.9 191.3h0M564.9 197.7h0M584.9 174.2h0M594.4 193.4h0M582 200h0M560.4 190.4h0M561.2 198.4h0M570.9 181.6h0M570.9 197.1h0M587.3 177.7h0M589.3 204.2h0M558.4 189h0M583.8 195.3h0M598.4 201.8h0M587.9 176.1h0M570.1 195h0M580.8 195.6h0M584.2 192.8h0M565 182.3h0M577 197.3h0M564.3 193.4h0M586.6 195.1h0M580.3 180.3h0M580.9 178.3h0M554.8 196.6h0M559.9 176.3h0M583 191.9h0M557.2 192.4h0M578.2 182.9h0M575.7 180.1h0M589.2 200.6h0M555 178.8h0M573.8 190.9h0M556.7 181.4h0M583.7 188.6h0M578.5 179.4h0M579.4 193.6h0M579.4 197.6h0M572.4 196h0M556 197.4h0M560 199.4h0M587.3 172.5h0M579.4 196.4h0M586.8 174.1h0M583.2 203.4h0M562.5 181.3h0M586.1 185.5h0M580.3 184.8h0M569.3 188.9h0M586.8 179.8h0M583.5 173.5h0M591.7 187.8h0M564.7 200.5h0M583.4 207.3h0M564.3 195.9h0M579.7 193.4h0M584.5 192.4h0M554.2 210.3h0M566.1 202.6h0M577.7 180.3h0M561.1 197.9h0M579.8 177.2h0M576.1 187.8h0M583.2 202.3h0M583.9 192.4h0M574.1 199.7h0M582.3 179.5h0M581.1 199.9h0M555.6 197.2h0M584.9 184.3h0M586.5 193.5h0M559.2 194h0M583.1 198.2h0M562.3 186.4h0M580.3 194.8h0M579 182h0M566.2 197h0M586.6 197.1h0M586 189.5h0M583.4 199.7h0M578.8 203h0M565.2 170.6h0M562.6 193.2h0M581.5 181.8h0M563 177.7h0M591 194.4h0M595.9 199.6h0M584.7 193.3h0M553.4 206.2h0M585.9 197.4h0M584 179.4h0M560.2 198.4h0M582.7 177.8h0M560.4 199.3h0M586.5 193.7h0M578.3 174.5h0M587.4 205h0M582.9 180h0M577.6 196.4h0M566.5 185.2h0M582 177.4h0M587.3 200.9h0M576.4 183.4h0M569.6 178.2h0M562.9 182.5h0M580.1 175.5h0M583.5 180.7h0M578.5 180.6h0M557.1 201.6h0M577.9 184.4h0M584.7 176.3h0M562.4 191.1h0M581.6 179.3h0M567.2 185h0M565.3 201.2h0M576.5 170.5h0M588.2 202.4h0M557.4 197.4h0M583.6 174.8h0M567 184.1h0M583.1 184.6h0M581.8 190.4h0M571.9 174h0M582 206.1h0M569.9 182.4h0M584.7 195.1h0M560 179.3h0M558.3 200h0M583.1 177.2h0M579.4 173.9h0M563.9 169.6h0M584.2 178.1h0M577.6 185.4h0M565.3 200.6h0M571.1 189.4h0M581.4 208.4h0M568 176.5h0M550.5 192.7h0M588.5 190h0M575.7 191.8h0M561.8 196.8h0M569.1 188.6h0M576.1 184.1h0M563.8 183.6h0M569.8 193.9h0M585.6 179.8h0M583.1 201.1h0M587.2 174.6h0M559.1 198.3h0M556.8 207.2h0M569 184.3h0M583.9 180h0M572.9 182.3h0M577.4 179.5h0M587 196h0M578.9 177.4h0M553.7 186.9h0M582.7 187.5h0M554.6 193.2h0M588.4 196.9h0M563.8 205.3h0M581.2 173.1h0M585 199.1h0M564.1 191h0M579.8 180.3h0M565.9 202.6h0M586.9 192.9h0M588.8 207.5h0M562 195.4h0M560.6 183.8h0M577.3 198.9h0M551.6 192.1h0M594.4 197.4h0M579.4 193.6h0M568.1 192.4h0M570.5 189.7h0M574.6 181.8h0M579.3 200.5h0M581.7 188.1h0M582.8 177.3h0M559.3 195.5h0M587.8 177.8h0M586.8 182.2h0M564.9 194.4h0M566.3 196h0M564.6 183.7h0M562.7 194.4h0M582.2 181.4h0M565.6 205.2h0M585.3 200.3h0M561.3 197.1h0M581.3 176.2h0M586.6 185.7h0M571.6 180.9h0M556.6 186.4h0M579.4 178.9h0M563.5 196.5h0M581.1 176.5h0M570.9 201.1h0M581.3 200.8h0M577.4 180.8h0M584.2 192.2h0M579.1 175.4h0M581.7 201.5h0M559 194.8h0M561.7 191.7h0M580.9 188.8h0M585.4 200.7h0M569.2 187.9h0M560.5 199.8h0M561.3 193.4h0M567.2 191.4h0M560.5 198.8h0M573.6 184.8h0M577.5 197.4h0M583.2 188.1h0M571 195.1h0M585.2 178.7h0M577 177.2h0M586.3 191.2h0M564.2 201.9h0M561.1 204.9h0M581.7 180.7h0M568.7 180.4h0M576.9 189.4h0M582.3 174.8h0M558.7 199.2h0M586.8 188.9h0M560.2 186.7h0M584.2 173.7h0M560.6 200.2h0M569.6 195.2h0M582.4 197h0M583.2 189.1h0M580.3 178.7h0M565.1 176.6h0M572.3 181h0M585.2 172.9h0M584.3 205.6h0M581.6 178.1h0M559.4 200.6h0M575 181.2h0M581.7 175.6h0M575.9 208.4h0M580.1 178.6h0M558.8 195.6h0M561.8 192.8h0M583.1 187.3h0M565.5 206.3h0M555.7 187.3h0M562.7 197.9h0M584.4 196.5h0M560.2 179h0M581.9 185.8h0M562 202.8h0M583.1 198.3h0M557.1 171.8h0M581.3 181.7h0M580.3 181.7h0M588.5 191.7h0M557 192.8h0M596.3 195.5h0M574.3 182.1h0M582.1 193.1h0M581.3 177.9h0M581.1 197.8h0M581.5 180.3h0M579.7 197.9h0M592.1 196.6h0M560.7 191.4h0M587.5 192h0M587.5 185.5h0M577.3 177.9h0M579.7 181.9h0M555.4 182.4h0M584.2 195.8h0M584.1 172.3h0M582 175.9h0M586.2 205.2h0M575.6 176.1h0M570.5 203.2h0M561.8 200.2h0M582.3 175.9h0M580.9 182.4h0M555.7 195.5h0M563.1 202.2h0M581.8 179.7h0M577.5 183.3h0M564.8 194.7h0M560.8 196.7h0M577.5 176.2h0M582.1 175.6h0M558.8 196.1h0M564.5 199.2h0M566.2 185.4h0M551.9 188h0M569.2 193.8h0M562.8 202.8h0M584.3 204.4h0M582.1 189.6h0M581.4 187.4h0M585.6 195.3h0M580.8 190.1h0M564.1 197.2h0M577.6 178.6h0M587.6 199.1h0M583.4 181h0M577.7 195.4h0M584 196.1h0M563.9 196.2h0M580.2 203.2h0M583.5 194.9h0M582.6 180.9h0M574.4 204.3h0M572.9 189.3h0M551.9 181.9h0M594.7 198.3h0M560.5 196.1h0M555.2 200.6h0M587.2 192.9h0M586 193.1h0M570.5 196.6h0M583.2 183.4h0M576.6 180.8h0M562 187.1h0M562.1 204h0M587.5 191.7h0M586.5 200.3h0M585.3 183.5h0M562.6 194.9h0M581.2 195.9h0M589.9 191.5h0M576.3 188.8h0M569.1 194.3h0M574.6 183.6h0M577.2 177.6h0M580.9 195.9h0M556.2 189.6h0M590.1 176.2h0M578.4 197.9h0M583.1 204h0M577.3 200.9h0M577.9 191.2h0M577.7 178.9h0M574.1 184.1h0M582.2 196h0M581.7 174.5h0M573.9 207.5h0M585.3 196.1h0M574.7 183.4h0M583.1 194.1h0M581.4 194.8h0M559 198.3h0M569.6 178h0M584.2 178.7h0M569.2 194.5h0M582.5 186.6h0M563 199.1h0M578 175h0M572.5 180.4h0M570.7 200.1h0M583.4 186.1h0M561.1 192.3h0M578 175.2h0M558.3 190.9h0M582.3 193.7h0M581.7 183.6h0M556.7 206.2h0M561.8 202.8h0M564.7 184.3h0M565.8 196.4h0M579.9 193.1h0M583.2 194.4h0M581 201.9h0M558.8 181.8h0M583.2 201.6h0M562.4 204.6h0M581.2 198.5h0M588.5 173.6h0M589.3 198.6h0M584.9 174.1h0M576.9 198.2h0M577.7 182.1h0M558.8 189.3h0M583.4 196.7h0M555.4 192.3h0M564.4 194.4h0M560.8 201.9h0M570.7 195.4h0M585.5 202.3h0M573 197.2h0M562.5 192.6h0M554 183.9h0M588.3 196.7h0M569 179.5h0M585.2 175.6h0M579.6 170.9h0M561.2 173.2h0M575.7 179.2h0M589.1 203.6h0M563.4 191.6h0M565.5 195.1h0M580.5 184.4h0M582.1 198h0M589.8 197.6h0M569.7 182.7h0M584.6 175h0M567.9 195.5h0M569.2 214.3h0M564.4 193.8h0M579.6 188.4h0M582.6 200.8h0M561.7 196.6h0M582.5 193.8h0M587 194.7h0M560.3 195h0M588.8 188.8h0M580.3 173.6h0M580.5 190h0M582.6 192.8h0M587 190h0M582.1 189.5h0M582.5 195h0M598.1 199.6h0M568.5 192.5h0M567.9 189.2h0M553.4 182.3h0M586.3 189.8h0M563.7 185.6h0M582.2 197h0M567.1 175.1h0M562.3 195.7h0M581.2 189.5h0M583.2 199.1h0M553.6 209.2h0M577.5 194.5h0M586.8 198.4h0M573.2 177.8h0M558 196.9h0M585.8 199.2h0M591.3 185.5h0M556.4 197.5h0M555.6 195.3h0M570.7 196.1h0M563.3 174.6h0M588.2 181h0M571.2 197.8h0M582.3 194h0M561.4 194.2h0M572.2 188.1h0M584.7 177.8h0M563.9 189.5h0M560.6 194.4h0M579.2 204.6h0M563.9 195.8h0M584.5 179h0M584.7 177h0M586.9 190.3h0M558.4 198.8h0M569.5 202.6h0M585 197.7h0M584.9 190.1h0M583.4 177.2h0M583.7 182.4h0M581.5 181.2h0M555.5 195.1h0M579.7 194.9h0M572.8 198.4h0M558.6 202.8h0M580.3 175.2h0M568.6 201.5h0M579.7 194.5h0M553.2 198.8h0M577.7 197.2h0M557.5 183.6h0M583.2 179.1h0M586.2 202.4h0M586.2 193.3h0M584.5 198h0M557.2 188.2h0M566.9 175.7h0M559.7 192.8h0M576.3 183.7h0M582.1 193.7h0M565 184.8h0M579.9 195.1h0M588.2 201.1h0M594.7 191.8h0M587.3 177.1h0M588.1 184.3h0M561.9 175.8h0M581.1 196.7h0M561.3 199.2h0M554.8 175.8h0M580.1 193.5h0M574.5 187.4h0M560.9 198.6h0M575 194h0M585 199.5h0M572.6 187.4h0M586.3 180.4h0M587.4 199.2h0M563.3 200.2h0M582 195.3h0M563.9 178.2h0M587.5 206.6h0M562.4 185.1h0M561.7 198h0M565.2 201.3h0M583.7 178.2h0M560.2 191.2h0M555.4 196.2h0M583.7 174.8h0M581.9 196.5h0M562.4 203.9h0M580 173.8h0M566 189.1h0M551 202.9h0M572.2 173.7h0M593.5 187.9h0M563.4 204.9h0M567 177.7h0M576.9 201.1h0M585.5 178.2h0M582.5 176.7h0M572 183h0M558.5 183.1h0M554.6 193.2h0M578.4 194h0M582.6 193h0M570.3 184.8h0M560.7 198.6h0M574.9 176.3h0M577.3 188h0M553.5 181.6h0M580.6 200.8h0M556.4 193.8h0M563.9 183.7h0M576.2 196.3h0M580.6 190.2h0M584.4 177.3h0M563.5 196.1h0M582.2 179.7h0M568.6 180.2h0M580.6 195.2h0M587.5 192.2h0M581.6 193.9h0M560.7 195.3h0M559.7 204h0M565 193.5h0M586.2 202.9h0M579.8 182.4h0M574.3 197.5h0M561.3 189.1h0M580.1 192h0M576.7 193.9h0M582.8 176.3h0M591.2 183.1h0M584.6 195h0M571.8 196.9h0M566.5 204.2h0M584 180h0M578.6 178.4h0M580.8 190.2h0M562.2 192.5h0M580.7 179.9h0M580.3 192.4h0M551.1 183.9h0M584 174.8h0M561.8 204h0M582.3 188.6h0M579.9 183h0M578.8 174.9h0M557.9 200.4h0M583.4 193.4h0M583 202.3h0M584.3 199h0M560.4 204.7h0M560.3 202.8h0M586.1 176.1h0M577.8 177.5h0M558 210.5h0M566.5 200.6h0M566.4 187.8h0M573.7 179.1h0M571.4 189.4h0M593.9 180h0M561.1 190.1h0M577.9 195.4h0M582.8 205.4h0M566.7 173.2h0M577.3 192h0M573.3 180.8h0M581.6 195.8h0M583.9 194.2h0M576.6 170.8h0M587.4 193.3h0M588.9 193.4h0M561.7 192h0M590.2 201.4h0M590.1 193.3h0M582.4 191h0M566.5 200.9h0M559.2 176.7h0M586.2 198.7h0M558.2 189.5h0M582.6 195.5h0M580 178.4h0M580.4 202.6h0M566.7 186.1h0M565.3 191.4h0M570 210.3h0M579.9 197.5h0M568 182.1h0M590.8 194.9h0M584.7 193.4h0M562.7 189.1h0M567.5 195.3h0M579.8 192.1h0M577.4 193.8h0M569.9 200.1h0M590.2 202h0M576.5 199.4h0M585.7 182.9h0M570.2 197.5h0M582.6 195.4h0M576.5 196.7h0M583.9 179.9h0M582.8 178.9h0M573.1 179.4h0M578.4 174.4h0M584.2 193.5h0M584 177.3h0M571.3 193.5h0M580.5 176.5h0M559.2 185.6h0M585.6 205.6h0M560 190.9h0M586.2 174.2h0M578.9 192.1h0M556.5 189.9h0M583.5 195.9h0M564.8 191.6h0M577.3 195h0M558 198.3h0M566.5 184h0M569.3 178.1h0M581.7 199.9h0M579 212.9h0M554.8 201.5h0M577.3 202.5h0M559.6 204.1h0M569.1 182.9h0M564 182.8h0M582.1 184.5h0M571.7 191.7h0M586.5 195.6h0M585.7 200.7h0M579.7 175.2h0M581.8 191.1h0M584.7 173.3h0M569.3 184.2h0M570.7 210.1h0M559.3 190.5h0M571.9 202.2h0M580.6 177.2h0M570.9 184.4h0M563.1 197.4h0M580.4 177.5h0M588.1 205.8h0M565.9 193.4h0M583.8 180.3h0M584.1 185.5h0M562.3 192.9h0M586.1 180.9h0M583.7 192h0M585.5 205.2h0M566.6 203.4h0M579.1 178.4h0M559.4 178h0M589.7 197.4h0M572.6 192.4h0M565 201h0M569 185.5h0M584 189.4h0M578.3 176.9h0M580.8 197.7h0M583.2 184.6h0M584.7 193.2h0M583.1 186.3h0M589.2 206.9h0M559.9 193.4h0M578.6 176.5h0M564.2 186.8h0M561.5 194.4h0M561.8 191.5h0M589.4 199.8h0M558.9 185.4h0M584.1 188h0M582.9 200.9h0M578.7 175.1h0M577.3 180.2h0M580.7 183.2h0M585.3 187.5h0M568.2 198.8h0M582.4 181.2h0M568.3 187h0M560.7 199.3h0M581.1 178.2h0M582.3 176.4h0M577.9 194.4h0M585.6 181h0M587.8 198.6h0M584.8 195.4h0M588.6 198.4h0M571.9 192.5h0M556.3 206.8h0M557.5 187.2h0M579 194.6h0M564.1 199.5h0M563.5 199.6h0M564.9 177.8h0M582.7 192h0M563.5 197.2h0M578.4 182.1h0M582.8 176.9h0M581.7 192.8h0M580.3 178.4h0M586.5 182.3h0M561.8 186.4h0M577.1 177.3h0M564.5 201.9h0M570.9 206.5h0M567.2 189.7h0M581.1 195.9h0M581.3 179.8h0M560.6 204.7h0M566.6 191h0M556.9 193.5h0M559.4 204.9h0M579.7 175.7h0M570.8 191.5h0M558.7 207.2h0M561 194.1h0M584.7 189.6h0M568.6 185.5h0M558.2 190h0M586.1 196.7h0M568.1 197.6h0M589.2 198h0M584.7 202.6h0M583.8 196.2h0M558.4 197.3h0M579.2 181h0M587.6 195.2h0M577.1 172.1h0M574.5 195.4h0M581.8 178.4h0M572.4 199.1h0M563.4 199.3h0M581.8 174h0M582.4 177.2h0M567.9 197.9h0M581.1 183.5h0M584.2 195h0M580.1 204.8h0M578.4 172h0M572.1 193.6h0M583.9 198h0M582.8 188.6h0M581.4 179.1h0M571.4 188.6h0M576.6 194.8h0M585.7 202.2h0M556.4 196h0M559.7 203.2h0M580 197.5h0M581.6 174.5h0M560.2 169.3h0M554.8 189.9h0M569 182.4h0M587.9 200.7h0M560.9 183h0M561.4 190.7h0M590.1 199.5h0M587.6 200.1h0M582.7 206h0M561.4 188.4h0M578.7 197.1h0M585.1 184.8h0M582.6 191.9h0M579.4 172.8h0M590.7 195.1h0M584 185.4h0M584.8 176.1h0M579.3 199.8h0M561.2 198.5h0M560.6 190h0M583.9 194.6h0M586 178.4h0M562 202.5h0M590.2 179.7h0M583.1 183.5h0M574.8 193h0M569.7 186.5h0M582.3 202.9h0M590.6 191h0M571.5 189.4h0M561.7 195.3h0M557.2 193.9h0M577.5 190.1h0M579.3 185.2h0M578.2 194.4h0M570.3 184.5h0M581.9 192.9h0M558.2 195.2h0M587.9 196.3h0M568.6 203.8h0M560.8 197.2h0M579.9 201.8h0M579 178.1h0M560.1 191.8h0M559.4 188.8h0M551.1 192.9h0M561.9 204.8h0M583.1 195h0M561.9 182.2h0M581.1 198.1h0M559.8 189.2h0M586.8 193.6h0M579.5 193h0M575.4 195.1h0M585.8 200.4h0M579 185.8h0M583.3 178.2h0M586.7 199.5h0M581.7 182h0M561.1 199.5h0M576.3 173.7h0M574.7 182.7h0M566.8 185.8h0M581.2 177.4h0M562.7 183.8h0M580.4 166.5h0M559.7 200h0M579.6 179.5h0M588.3 195.3h0M580.6 203.2h0M555.8 197.7h0M576.1 199.8h0M571.6 186h0M590.7 174.4h0M561.2 197.3h0M561.5 197h0M564.6 208.4h0M577.9 182.2h0M558 182.2h0M584.5 173.2h0M575.7 191.8h0M578.2 196.3h0M560.7 183.3h0M561.6 185.7h0M592.2 188.1h0M565.1 183.6h0M582.4 194.6h0M562.5 196.2h0M559.2 176.6h0M590.1 202.3h0M570.1 177h0M579 194.9h0M570.9 199.2h0M568 195.4h0M582.1 174.8h0M557 194h0M581.5 190.9h0M558.3 180.7h0M571.1 196h0M559.8 194.1h0M578.1 177.3h0M561.2 201.5h0M565.1 184.4h0M580.8 199.9h0M596.4 186h0M559.2 177.8h0M584.3 184.9h0M580.2 195.4h0M587.3 189.4h0M581.5 192.8h0M578.9 181.2h0M579.5 194.2h0M583.1 190.5h0M561.2 182.7h0M584.1 174.5h0M560 191.6h0M592.2 196.3h0M556 202.4h0M570.3 194.9h0M558.2 200.1h0M582.9 187.5h0M583.4 196.8h0M581.2 181.8h0M574.3 199.8h0M580.7 191.7h0M562.3 193.6h0M561.2 194.5h0M581.1 176.9h0M569.5 192.1h0M585.3 196.2h0M590.6 187.5h0M556 182.3h0M580.4 190.3h0M585.4 191.6h0M578.3 183.3h0M579.1 197.6h0M578.4 202.7h0M579.7 196h0M561.7 194.6h0M585.9 202.3h0M562 197.8h0M578.8 205.1h0M573.5 175.6h0M584.9 200.9h0M577.9 198.7h0M585.6 191.8h0M590.1 198h0M585.7 187.5h0M560.8 198.2h0M568.2 200.2h0M555.5 191.7h0M576.2 176.1h0M585.9 180.7h0M584.6 190.2h0M576.1 191.6h0M558.7 194.3h0M566.6 171.5h0M577.6 195.2h0M567 197.7h0M588.3 204h0M561.2 189.4h0M562.4 196.1h0M586.8 201.7h0M585.9 195.9h0M578.1 177h0M589 195.9h0M584.7 196.4h0M580 179h0M587.3 202.7h0M569.6 182.1h0M581.2 199.8h0M580.3 171h0M576.2 190.2h0M586 191.3h0M586.4 196.1h0M584.3 176.7h0M590.4 194.1h0M586.9 198.4h0M588 193.7h0M570.9 197.3h0M583.8 200.2h0M560.3 205.4h0M589.2 194.7h0M578.2 192.9h0M560 178.4h0M579.5 172.9h0M584.8 196.5h0M566.1 202.4h0M590.9 195.2h0M585.4 200.4h0M565.6 189.5h0M590.1 196.5h0M554.7 178.4h0M559.4 173.8h0M586.5 176.3h0M584.1 181.9h0M586.8 193.8h0M572.5 195.1h0M589.1 190.2h0M567.4 193.7h0M559.5 190.6h0M582.1 193.3h0M557.8 198.7h0M579.3 173.4h0M570.4 192h0M568.7 193.9h0M575 196.2h0M564.5 205.6h0M567.9 208.4h0M558.7 181.2h0M554.6 182h0M570.1 193h0M582.1 190.6h0M579.9 178.4h0M589.4 200.3h0M585.4 194.4h0M560.3 194.5h0M557.5 195h0M574.7 196.8h0M561.6 201h0M580.9 182.3h0M583.1 195.6h0M583.7 174.9h0M582 195.9h0M584.4 173.1h0M582.6 197.3h0M575.8 194.3h0M592.8 180.3h0M563.1 197.6h0M570 205.5h0M592.3 181.5h0M577.6 193h0M580 180.5h0M563.1 177.8h0M573.5 198.2h0M579 181.5h0M583.3 196.9h0M574.7 193.6h0M579.3 176.3h0M559.8 182.3h0M582.2 172.9h0M561.3 185.7h0M580.3 186.6h0M586.7 192.8h0M552.5 187.4h0M572.9 175.7h0M576.3 190.5h0M586 193.2h0M562.6 199.1h0M589.1 197.4h0M557.2 201.9h0M561 195.1h0M586.1 195.8h0M579.2 185.5h0M579 186.1h0M594 177.6h0M591.2 194.7h0M580.8 201h0M586.6 186.5h0M556.1 186.3h0M577.3 200h0M581.3 185h0M589.7 178.8h0M585.2 190.5h0M588.3 195.8h0M561.9 197.1h0M589 189.5h0M579.5 198.5h0M560 199.6h0M583.8 200.9h0M559.2 191.3h0M580.4 193.8h0M579.3 193.6h0M584.6 194h0M579.6 199.7h0M558 200.4h0M569.9 182h0M587.9 190.5h0M557.1 196.5h0M578.8 182h0M557.4 197.6h0M579.8 175.7h0M560.1 196.9h0M582.2 187.3h0M568.7 196.5h0M570.6 188.3h0M582.3 195.8h0M583.3 189.6h0M575.1 174.6h0M579.3 195.5h0M567.2 200h0M579.3 176.7h0M579.7 196.3h0M579.3 174h0M583.3 177.6h0M582.5 200.3h0M585.1 194h0M559.9 194.4h0M574.4 199.1h0M567.8 180.6h0M585.4 190.3h0M582.5 194.3h0M560 187.4h0M585.6 192.2h0M559.3 201.7h0M577.6 205.2h0M566.6 191.3h0M577.3 203.2h0M582.2 192.5h0M560.7 207h0M589.1 193.4h0M573.3 191.6h0M564.7 181h0M565.1 203.6h0M560 193.8h0M556 190.1h0M572.9 186.4h0M568.3 175.8h0M581.1 190.4h0M582 195.4h0M576.4 188.4h0M583.7 194.4h0M583.4 202.5h0M575.7 188.5h0M584 196h0M561.7 181.5h0M581.8 178h0M577.9 197h0M580.5 193.8h0M550.1 171.4h0M581.2 179.3h0M583.7 196.7h0M568.8 188.6h0M571.8 179.3h0M564 191.7h0M556.5 200.8h0M559.4 201.2h0M586 202.6h0M570.5 179.8h0M583.6 192.7h0M581.1 189.5h0M590.5 196.3h0M578.4 175.6h0M573.5 207.1h0M563.9 187.3h0M554.5 201.1h0M576.3 197.1h0M584.1 176.1h0M574 182.4h0M561.7 201.8h0M582.2 187h0M562.4 193.5h0M565.7 200.5h0M566.5 193.4h0M564.5 181.9h0M590 198.4h0M556.4 183.4h0M587.3 192.9h0M587.2 176.3h0M579.7 194.8h0M577.8 178.1h0M584.2 191.6h0M572.7 200.2h0M572.7 188.4h0M579 198.6h0M588.3 184.3h0M572.2 196.6h0M583 188.9h0M583.3 194.7h0M582 196.5h0M583.4 190.9h0M573.9 192.7h0M566.1 197.5h0M585.2 190.4h0M586.2 192.4h0M587.3 194.9h0M559.9 193.6h0M556.5 201h0M560.9 191h0M558.6 194.6h0M583 196.2h0M554.4 189.8h0M564 193.3h0M572.9 196h0M592.3 193.3h0M580.7 200h0M551.9 194.8h0M571.1 188.2h0M553.3 191.8h0M595.9 189.3h0M560.2 196.1h0M563.5 195.4h0M560.9 205.6h0M576.8 190.3h0M583.9 174.6h0M581.3 201.6h0M562.2 194.5h0M580.3 191.5h0M560.4 182.9h0M564 201.9h0M562 204.7h0M585.9 177.2h0M568.5 191.8h0M556.8 185.6h0M561.8 177.8h0M593.2 192.9h0M596.5 188.1h0M584.6 199h0M585.5 198.4h0M569.4 192.8h0M582.5 191.5h0M583.6 196.3h0M566.2 183.5h0M564.4 200.9h0M575.8 181.3h0M579.5 170.3h0M585.7 196.3h0M555.7 189h0M562.7 203.5h0M588.5 202.3h0M585.8 187h0M580.4 196.4h0M580.6 175h0M559.9 199.6h0M582 174.5h0M583.1 176.6h0M586.6 201h0M591.3 182.6h0M564.3 183.2h0M586.4 197.7h0M567 190.9h0M575.6 179.1h0M585.4 191.5h0M589 196.2h0M562.1 200.4h0M564 204h0M567 181.7h0M561.1 199h0M556.8 188.8h0M581.7 184h0M580.6 193.5h0M580 193.3h0M560.6 196.5h0M580.1 178.8h0M558 193.3h0M559.2 175h0M587.2 172.6h0M563.3 191.8h0M586.2 200.4h0M564.7 173.1h0M564.2 195.4h0M577.9 179.7h0M561.3 193.4h0M565.4 207.8h0M563.9 201.1h0M563.7 213.6h0M584.4 181.4h0M550.3 179.2h0M588.9 197.2h0M579.7 198.6h0M568.2 187.9h0M560.1 206.8h0M582.5 198.6h0M559.2 183.4h0M579.2 176.3h0M561.4 196.7h0M584.6 172.1h0M582.3 181.2h0M563 192.1h0M582.7 177.3h0M566.2 195.6h0M559.3 207.4h0M569.1 205.6h0M573 201.2h0M580.8 196.4h0M585.9 192.5h0M574.6 188h0M585.7 195.4h0M593.5 177.1h0M588 193.2h0M590.6 190.2h0M560.6 195.6h0M583.1 198.8h0"/></defs>
<g clip-path="url(#cp3)" fill="none" stroke-linecap="round"><use href="#pcp3" stroke="#2a3aa8" stroke-width="0.8"/><g filter="url(#dn1)"><use href="#pcp3" stroke="#000" stroke-width="0.6"/></g></g>
<rect x="574.8" y="166.6" width="24" height="16" fill="none" stroke="#777" stroke-width="0.7"/>
<rect x="553.2" y="188.1" width="15.8" height="17.9" fill="none" stroke="#777" stroke-width="0.7"/>
<rect x="576.4" y="188" width="22.4" height="17.8" fill="none" stroke="#777" stroke-width="0.7"/>
<text x="604.2" y="169.7" font-size="8.6" text-anchor="end" fill="#1e1e1e">22.3</text>
<text x="550.4" y="216.6" font-size="8.6" fill="#1e1e1e">20.4</text>
<text x="604.2" y="216.6" font-size="8.6" text-anchor="end" fill="#1e1e1e">51.3</text>
<rect x="421.7" y="221.6" width="55.8" height="54.6" fill="none" stroke="#d4d4d4" stroke-width="0.7"/>
<path d="M419.7 225.6h2M417.7 224.6l0.9 -0.5M425.7 276.2v2M419.7 237.25h2M417.7 236.25l0.9 -0.5M437.65 276.2v2M419.7 248.9h2M417.7 247.9l0.9 -0.5M449.6 276.2v2M419.7 260.55h2M417.7 259.55l0.9 -0.5M461.55 276.2v2M419.7 272.2h2M417.7 271.2l0.9 -0.5M473.5 276.2v2" stroke="#9a9a9a" stroke-width="0.6" fill="none"/>
<line x1="420.1" y1="255.45" x2="421.7" y2="255.45" stroke="#111" stroke-width="1.4"/>
<line x1="433.03" y1="277" x2="436.03" y2="277" stroke="#222" stroke-width="1.3"/>
<defs><filter id="dn2" x="0" y="0" width="100%" height="100%" color-interpolation-filters="sRGB"><feGaussianBlur stdDeviation="0.55"/><feColorMatrix type="matrix" values="0 0 0 0.9 0 0 0 0 0.9 0 0 0 0 0.9 0 0 0 0 1 0"/><feComponentTransfer><feFuncR type="table" tableValues="0.200 0.200 0.204 0.204 0.208 0.208 0.208 0.212 0.212 0.216 0.216 0.220 0.220 0.220 0.224 0.224 0.227 0.227 0.341 0.463 0.580 0.702 0.792 0.812 0.831 0.851 0.871 0.878 0.878 0.878 0.878 0.878"/><feFuncG type="table" tableValues="0.267 0.267 0.271 0.271 0.275 0.275 0.278 0.278 0.282 0.282 0.286 0.286 0.290 0.290 0.294 0.294 0.298 0.298 0.290 0.278 0.267 0.259 0.247 0.235 0.220 0.208 0.192 0.180 0.165 0.153 0.137 0.125"/><feFuncB type="table" tableValues="0.722 0.725 0.725 0.729 0.733 0.737 0.737 0.741 0.745 0.745 0.749 0.753 0.753 0.757 0.761 0.765 0.765 0.769 0.702 0.631 0.561 0.490 0.420 0.353 0.282 0.216 0.149 0.125 0.125 0.125 0.125 0.125"/><feFuncA type="discrete" tableValues="0 0 1 1 1 1 1 1 1 1 1 1 1 1 1 1 1 1 1 1 1 1 1 1 1 1 1 1 1 1 1 1 1 1 1 1 1 1 1 1"/></feComponentTransfer></filter></defs>
<clipPath id="cp4"><rect x="422.1" y="222" width="55" height="53.8"/></clipPath>
<defs><path id="pcp4" d="M453.9 255h0M454.5 253.2h0M454.1 234.2h0M458 253.6h0M452.7 252.4h0M460.1 252h0M456.1 245.2h0M450.2 255.9h0M455.1 236h0M457.4 252.8h0M451 236.4h0M451.5 234h0M452.8 256.9h0M459.4 244.8h0M433.8 250.9h0M453.4 250.2h0M453.4 254.9h0M453.3 234h0M434.8 258h0M437.2 254.5h0M451.6 255.4h0M451.1 252.5h0M435.7 257.1h0M454.6 234.7h0M434.6 254.4h0M450.7 254.3h0M436 250.5h0M452.9 233.9h0M453.2 254.7h0M455.9 234.2h0M435.8 254.7h0M433.1 257.1h0M457.3 252.6h0M454.8 234.5h0M432.8 250.4h0M454.1 237.6h0M453.8 253.7h0M455.4 236.5h0M450.3 234.3h0M454.1 235.9h0M454.3 248.2h0M434.1 258.9h0M437.1 253.4h0M453 249.8h0M434.2 251.4h0M442.7 255.4h0M451.7 237.3h0M436 258.1h0M434.2 256.1h0M434.6 254.4h0M454.2 251h0M457.3 234.7h0M451.3 255.2h0M455.7 253.3h0M458.9 250.7h0M435.2 256.8h0M455 249.8h0M454.1 236.8h0M449.6 256.9h0M436.4 255.4h0M454.3 251.7h0M433.9 257.4h0M457.3 233.4h0M437.3 255.9h0M442.8 231.1h0M454.2 252.1h0M433.9 253.5h0M459.1 235.6h0M453.7 256.4h0M457.3 256.5h0M458.3 232.7h0M437.9 253h0M432.9 261.5h0M468.5 246h0M433.4 249.2h0M437.8 252.3h0M433.7 258.9h0M454.6 235.3h0M461.7 231.3h0M449.7 252.9h0M451.3 254.4h0M454.8 235.8h0M434.7 253.1h0M457.7 232.3h0M447.9 241.4h0M436.8 250.1h0M451.5 234.5h0M454.9 236.9h0M451 254.4h0M454 254.1h0M455.2 249.6h0M456.9 248.7h0M455.5 252.8h0M430.1 250.7h0M457.9 255.5h0M454.5 232.9h0M434.9 260.9h0M453.2 258h0M455.7 232.2h0M448.2 246.8h0M450.8 254h0M454.1 255.7h0M457.9 245.5h0M451.7 252.9h0M450.4 246.8h0M452.9 254.7h0M455.2 232.6h0M437.1 256.3h0M453.9 258.2h0M452.5 249.4h0M453.2 232.4h0M437.4 245.9h0M440.2 241.4h0M455.8 254.7h0M449.4 254.3h0M453 234.5h0M452.2 251.2h0M435.6 257.2h0M454.2 254.4h0M430.7 257.9h0M431.8 260h0M451.8 253.8h0M456.3 235.8h0M457.4 255.2h0M452.9 233.4h0M455.3 249.8h0M436.3 256.1h0M455.3 251.4h0M454.9 242.7h0M453.4 250.5h0M435 251.5h0M434.6 254.5h0M435 257h0M453.6 249.3h0M434.5 252.2h0M447 247.6h0M453.7 250h0M434.6 257.1h0M456.3 251h0M453.2 253.4h0M445.7 251.1h0M453.1 243h0M455.1 233.6h0M456.8 257.5h0M458.8 236h0M447.1 255.6h0M455.4 257.9h0M433.9 255.7h0M454.1 235.5h0M456.3 233.2h0M456.4 248.5h0M460 233.2h0M452 258.3h0M457.6 253.6h0M447.7 250.9h0M459 245.3h0M435.4 255h0M457.7 255h0M437.3 257.1h0M455.1 255.4h0M454.1 252.9h0M436.5 254.2h0M432.1 257.1h0M451.4 256.1h0M456.8 234.9h0M455.3 253.7h0M455.1 254h0M456.4 234.9h0M453.3 250.8h0M452.7 256.7h0M454.7 234.3h0M449.9 256.4h0M452.9 234.7h0M455.8 246.9h0M434.6 249.4h0M434.8 258.8h0M462.3 251.1h0M434.3 253.7h0M452.1 253.1h0M436 255.1h0M455.4 250.6h0M461.5 254.7h0M457.2 233.9h0M453.7 252.2h0M454.7 247.4h0M454 251.5h0M434.8 255h0M457.8 255.5h0M437.4 261.8h0M454.3 248.7h0M455.5 252.2h0M435.7 259.3h0M436.3 254h0M437.5 252.6h0M433.5 258.8h0M454.4 233.2h0M460.6 256.2h0M456.4 253.3h0M450.2 240.6h0M452.7 251.8h0M453.3 253.9h0M454.2 250.7h0M434.7 252.3h0M431.4 253.8h0M454.7 236.1h0M448 246.6h0M456 254.7h0M447.1 234.3h0M432.3 259.3h0M460.5 256.1h0M436.1 254.9h0M451.1 252.7h0M450.7 234.5h0M458.4 252.5h0M457.6 256.3h0M456.7 251.1h0M435.8 252.8h0M436.6 251.3h0M438 255.6h0M435.4 258.3h0"/></defs>
<g clip-path="url(#cp4)" fill="none" stroke-linecap="round"><use href="#pcp4" stroke="#3848c0" stroke-width="0.8"/><g filter="url(#dn2)"><use href="#pcp4" stroke="#000" stroke-width="0.8"/></g></g>
<rect x="447.3" y="224.8" width="24" height="16" fill="none" stroke="#777" stroke-width="0.7"/>
<rect x="425.7" y="246.3" width="15.8" height="17.9" fill="none" stroke="#777" stroke-width="0.7"/>
<rect x="448.9" y="246.2" width="22.4" height="17.8" fill="none" stroke="#777" stroke-width="0.7"/>
<text x="476.7" y="227.9" font-size="8.6" text-anchor="end" fill="#1e1e1e">31.0</text>
<text x="422.9" y="274.8" font-size="8.6" fill="#1e1e1e">22.6</text>
<text x="476.7" y="274.8" font-size="8.6" text-anchor="end" fill="#1e1e1e">43.8</text>
<rect x="486.4" y="221.6" width="55.8" height="54.6" fill="none" stroke="#d4d4d4" stroke-width="0.7"/>
<path d="M484.4 225.6h2M482.4 224.6l0.9 -0.5M490.4 276.2v2M484.4 237.25h2M482.4 236.25l0.9 -0.5M502.35 276.2v2M484.4 248.9h2M482.4 247.9l0.9 -0.5M514.3 276.2v2M484.4 260.55h2M482.4 259.55l0.9 -0.5M526.25 276.2v2M484.4 272.2h2M482.4 271.2l0.9 -0.5M538.2 276.2v2" stroke="#9a9a9a" stroke-width="0.6" fill="none"/>
<line x1="484.8" y1="255.45" x2="486.4" y2="255.45" stroke="#111" stroke-width="1.4"/>
<line x1="497.73" y1="277" x2="500.73" y2="277" stroke="#222" stroke-width="1.3"/>
<clipPath id="cp5"><rect x="486.8" y="222" width="55" height="53.8"/></clipPath>
<defs><path id="pcp5" d="M521.5 231.6h0M504.2 253h0M520.1 254.1h0M521.4 256.7h0M518.8 252.8h0M507.1 250.2h0M515.5 235.7h0M523 257.2h0M524.2 257.2h0M507.7 246.9h0M521.9 255.5h0M516.4 235.7h0M526.4 261.7h0M515.7 231.3h0M516.6 251.8h0M509.4 246.4h0M503.1 259.1h0M513.8 236.5h0M500.4 256.4h0M524.5 250.7h0M520.5 246.7h0M519 253.3h0M513.4 252.3h0M495.7 250.8h0M508.6 251.8h0M503.6 258.5h0M514.9 258.5h0M500.1 254h0M501.5 245.1h0M514.6 245.4h0M500.3 254.1h0M517.1 230.4h0M521 259.5h0M510.5 245.4h0M519.8 240.9h0M523.2 250.7h0M516.9 236.9h0M516.6 249.5h0M522.8 255h0M511.7 251.6h0M520.3 242.1h0M497.6 252.9h0M494.4 247.9h0M522.7 233.1h0M521.9 250.6h0M510.1 247.7h0M523.4 247.9h0M502.8 262.6h0M515.6 250.4h0M505.3 242.9h0M509.7 235.1h0M513 256.7h0M521.4 251.3h0M512.2 253.8h0M513.9 260.3h0M520 252.2h0M500.5 266.4h0M519.4 253h0M494.6 247.4h0M505.5 257.8h0M522.6 264.5h0M500.2 256.5h0M503 256.3h0M520.9 240.5h0M523.3 253.7h0M509.6 240h0M524.9 261.6h0M501.3 255h0M518.1 244.1h0M518.9 260.3h0M519.8 231h0M528.8 256.2h0M510.8 244.5h0M505.1 254.6h0M504.8 252.6h0M497.1 251.5h0M519.7 241.3h0M518.8 237.2h0M524.7 261h0M521.8 242.8h0M509.1 260h0M503.4 260.9h0M517.6 251.2h0M500.2 259.7h0M501.7 252.9h0M519.7 241.1h0M499.8 247.1h0M519.5 254.1h0M517.3 251.7h0M511.9 254.9h0M501.7 261.6h0M521.8 254.8h0M502.9 249h0M505.1 239.6h0M504.3 244.4h0M518.5 237.4h0M516.3 237.7h0M521.5 250.5h0M509 252.8h0M520.4 255.9h0M518.5 236.5h0M520.7 230.5h0M511.6 249.2h0M506.5 252.5h0M498.3 254.3h0M522.2 239.2h0M511.9 256.4h0M519.4 260.1h0M519.7 256.7h0M520.8 251.5h0M521.9 247.8h0M526.5 250.2h0M503.6 261.1h0M523 248h0M511.1 253.1h0M521.7 256.5h0M529.4 262.2h0M521.3 248.6h0M521.3 264.9h0M514.2 258.9h0M517.3 248.5h0M521.9 249.2h0M515.7 236.5h0M520.5 249.3h0M519.2 256.5h0M511.9 239.3h0M522.2 259.6h0M512.1 240.8h0M520.6 255.6h0M515 249.1h0M517.9 246.5h0M514.7 246.6h0M522.6 257.3h0M522.5 235.2h0M528.6 258.1h0M520.3 250.6h0M523.3 259h0M513.9 250.5h0M521 238.8h0M516.1 255.7h0M522.1 239.5h0M499.3 249.2h0M523 265h0M516.7 255.2h0M524.2 253.5h0M516.2 254.3h0M520.3 258.5h0M517.2 249.9h0M517 258.4h0M521 249.1h0M524.6 249.5h0M496.2 254.1h0M505.2 242.4h0M517.3 264.4h0M515.3 244.5h0M522.6 253h0M519.7 238.3h0M516.4 258h0M516.3 239.1h0M511.5 236.9h0M506.5 252.1h0M521.4 254.3h0M522 250.2h0M518.6 232.4h0M523.6 258.9h0M517.7 243.2h0M519.8 233.8h0M515.7 261.9h0M524.2 256.7h0M519.4 236.2h0M519.8 254.2h0M521.7 233.9h0M487.2 252.3h0M500.2 256h0M519.6 231.8h0M523 260.5h0M506.7 272.6h0M520.6 257.3h0M502.7 253.8h0M521.7 256.9h0M516.4 237.2h0M501.1 258.6h0M520.6 255.6h0M523.2 236.2h0M511.7 236.9h0M518.4 259h0M519.3 255.7h0M519.8 237.7h0M524.5 258.4h0M513.5 235.8h0M519.5 245.1h0M520.2 255.6h0M499.2 257.9h0M521.3 241.8h0M524.5 245.9h0M521.2 264.8h0M511.9 247h0M510.5 260.1h0M518.8 244.4h0M519 236.3h0M490.4 252.8h0M508.1 268.8h0M521.3 257.8h0M513.3 253.9h0M523.3 245.7h0M502.6 258.4h0M525.2 251.2h0M512.8 255.3h0M493.6 251.8h0M501.8 251.8h0M497.5 257.1h0M523.4 236.7h0M517.5 248.2h0M510.8 255.3h0M522.1 246.4h0M519.8 237.1h0M520.5 249.4h0M514.6 234h0M519.4 258.9h0M521.5 249.4h0M498.8 254.1h0M515.9 245h0M509.9 258.8h0M519.6 238.9h0M504.4 252.1h0M517.1 237.3h0M515.5 251.3h0M517.3 242.4h0M516.9 251.4h0M520 253.2h0M505 253.4h0M523.9 237.2h0M514.3 238.2h0M499.8 261.7h0M498.5 256.6h0M504.1 250.2h0M510.3 243.3h0M518.6 250.9h0M514.2 242.2h0M516.4 265.2h0M506.8 250.9h0M511.2 248.9h0M517.2 238h0M499.3 252.4h0M517.2 257.5h0M510.9 238.2h0M509.7 254.7h0M521.1 251.5h0M518.8 237.3h0M498.8 242h0M516.7 231h0M526.3 240.1h0M513.9 250.2h0M502.4 259.3h0M521.5 238h0M520.1 253.7h0M524.7 257h0M514.3 243h0M498.9 249.7h0M515 228.8h0M520 233.8h0M514.9 231.3h0M519.6 239.4h0M508.7 235.7h0M516.5 237h0M511.8 232.2h0M513.8 251.2h0M515.7 247.5h0M522.2 234.1h0M516.8 257h0M519.5 237.2h0M514.6 258h0M496.9 258.4h0M517.5 256.8h0M518.2 240.9h0M507.9 242.6h0M521.1 257.7h0M499.5 252.9h0M516.4 254.3h0M511.8 258.8h0M504.3 261h0M520.1 235.6h0M524.6 254.5h0M522.3 254.4h0M516.4 254.8h0M517.1 238.6h0M516.6 234.9h0M519.7 253.2h0M514.1 245.7h0M503.2 249.4h0M520.5 231.5h0M521.1 253.4h0M500.2 260.5h0M513.9 254.7h0M526.2 237.8h0M516.9 236.8h0M490.7 255.2h0M516.8 255h0M518.4 247.6h0M516.1 266h0M520.8 240h0M509.9 252.5h0M496.4 257.3h0M496.3 248.9h0M499.6 265.3h0M518.9 251.3h0M497.9 268.9h0M495.1 262.6h0M518.3 231.8h0M516.9 236.5h0M515.6 259.8h0M526.8 262.7h0M517.5 251.4h0M518 236.8h0M515.2 236.2h0M513 251.8h0M518.5 249.9h0M520.5 238.1h0M520.8 250.4h0M519.8 250.6h0M525.4 234.9h0M518.9 259.7h0M519.9 230h0M496.3 260.2h0M511.2 262.4h0M524.1 235.6h0M519.7 249.8h0M517.1 236h0M523.2 248.7h0M521.2 260.6h0M522 252.3h0M516 255.7h0M515.4 238.6h0M516.7 239.4h0M499.1 256.1h0M515.5 235.8h0M514 236.8h0M519.3 246.8h0M522.1 237.2h0M517.1 252.8h0M519 249h0M520.7 261.4h0M526.9 254.3h0M524.7 247.4h0M498.6 255.8h0M498.6 257h0M514.4 233.2h0M512.7 251.9h0M505.2 261.9h0M502.2 252.7h0M520.3 249.3h0M495.6 249.2h0M506.7 242h0M496.6 251h0M524.1 258.3h0M520.6 235.7h0M503.8 258.4h0M514 269h0M522.8 256.8h0M514.5 236.2h0M517.8 249.1h0M508.4 244.4h0M514.7 249.4h0M522.2 235h0M513 248.4h0M518.7 256.6h0M501 257h0M505.5 248.7h0M521.9 237.8h0M521.9 260h0M516.9 240.3h0M516.7 235.9h0M513.7 262.1h0M512.8 254.7h0M508.2 260.2h0M502.5 255.7h0M514.1 241.9h0M505.4 258.3h0M515.3 235.3h0M522.5 234h0M499.3 250.2h0M511.7 237.1h0M516.9 249.7h0M522.8 254.4h0M519.3 236.6h0M519.7 248.3h0M513.3 259.9h0M521.8 251.1h0M517 253.5h0M518.8 245h0M502.2 251.8h0M515.1 250.5h0M487.8 250.4h0M518.9 254.5h0M519.3 254.2h0M522.4 256.8h0M513 247.1h0M518.5 254.2h0M515.6 252.9h0M525.2 257h0M521.9 260.3h0M515 251.2h0M519.9 248.4h0M498.2 259.2h0M497.4 252h0M516.3 260.2h0M516.1 255.9h0M513.8 246.5h0M516.1 233.1h0M499.3 251.2h0M515.9 238.9h0M525.4 250.7h0M497.8 261.6h0M521.2 233.8h0M518 248h0M508.5 256.8h0M520.3 257.8h0M499.8 254.8h0M520.4 258h0M523.6 235.4h0M528.8 263.1h0M519.7 261.3h0M524.4 253.6h0M525.4 254.5h0M522.1 251.6h0M504.9 258h0M504.5 252.7h0M519.7 257.9h0M517.6 238.6h0M517.5 248.9h0M523.4 260.8h0M518.3 234.3h0M509.4 251.1h0M518.9 237.6h0M523.9 253.2h0M519.9 252.1h0M520.3 234.2h0M520.5 240.6h0M496.2 260.3h0M520.9 258.4h0M519.9 263.3h0M514.5 239.3h0M522.7 235.2h0M501.6 257.9h0M511.4 248.4h0M511.1 250.9h0M526.6 259.7h0M509.6 251.9h0M519.9 252.7h0M503 258.2h0M521.9 237.9h0M527.6 248.1h0M496.6 254.6h0M514.7 255.4h0M512.2 257.6h0M505 245.8h0M522.6 255.8h0M520.5 245.7h0M507.6 251.5h0M515.6 236.4h0M516.6 244.4h0M509.3 241.4h0M527.1 251.4h0M522.3 253.9h0M505.4 247h0M512.8 233.1h0M526 230.8h0M514.9 235h0M522.3 256.9h0M516.9 245.2h0M518.4 254.1h0M508.3 246h0M517.9 235.3h0M510.1 262.9h0M501.8 259.9h0M521.7 258.8h0M516.2 228.4h0M515.8 257.8h0M518.1 231.5h0M517.2 237.2h0M506.9 255.9h0M519.5 234.4h0M517.5 242.2h0M515.9 256.4h0M522.2 259.1h0M518.7 256.5h0M523.4 250.1h0M521.1 252.1h0M500.6 256.5h0M519.5 234.7h0M517.4 264.8h0M516.3 233h0M522.6 252.4h0M493.2 251.7h0M526.6 254h0M521.7 264.6h0M528.6 253.4h0M509.8 245h0M509.8 245.9h0M520.2 237.4h0M511.4 239.4h0M522.1 253h0M516.1 236.9h0M503.4 248.7h0M516.7 251.9h0M517.5 253.5h0M514.4 239h0M518.9 241.1h0M500.1 239.2h0M520.6 259.9h0M514.5 260.3h0M518.6 247.3h0M512 235.7h0M503.4 249.9h0M514.6 256.9h0M518.5 233.6h0M500.6 254.4h0M518.4 257.6h0M499.5 252.8h0M501.8 255.8h0M523.9 250.3h0M505.8 249.1h0M510.1 251.4h0M501.5 256.9h0M513.1 258.5h0M504 254.2h0M523.5 258.8h0M507.3 242.6h0M524.3 233.6h0M525.9 256.6h0M516.6 257.1h0M523.8 259.9h0M513.6 257.7h0M521.6 257.6h0M516.9 247.7h0M497.7 261.1h0M519.8 256.8h0M525.8 243.6h0M513.9 241.4h0M517.5 264h0M514.6 254.8h0M520 237.4h0M511 246.1h0M520.3 235.9h0M500 242.3h0M505.1 259.5h0M507.8 257.9h0M514.9 255.5h0M518.5 253.3h0M507.7 248.2h0M521.6 259.2h0M500.9 252.4h0M525.7 252.7h0M516.5 234.7h0M517.5 234.9h0M514.8 229.1h0M518.4 234.4h0M519 236.2h0M501.3 254.7h0M521.5 237h0M522.6 263h0M517.2 234.9h0M502.3 257.3h0M505.5 261h0M504.7 255.1h0M516 232.1h0M514.1 260.5h0M514.6 235h0M507.5 252h0M516.5 251.2h0M521.9 235.9h0M518.7 236.5h0M513 260.6h0M507.6 249h0M516.4 245.7h0M518.8 239.2h0M524.2 249.7h0M519.5 251.2h0M522.6 236.3h0M514.7 255.6h0M519.4 240h0M510.6 254.2h0M519.8 252.3h0M522.5 255.2h0M517 237.3h0M504.3 259.6h0M514.6 239.9h0M524.5 249.6h0M495.8 258.9h0M521.8 256.9h0M513.9 249.9h0M518 248.8h0M497.4 258h0M511 240.4h0M516.7 260.2h0M498.3 256.7h0M512.9 245.1h0M500.1 259.1h0M501.7 258.7h0M521.4 252.1h0M528 256.3h0M497.5 256.1h0M501.2 258.4h0M523.4 233.5h0M518.9 244.3h0M504.3 259.2h0M504.1 249.6h0M501.7 258.1h0M502.4 255h0M500.1 255.1h0M516.7 240.4h0M515.3 239.1h0M521.8 248.3h0M514.3 234.6h0M516.5 251.2h0M515.7 244.9h0M496.8 245.6h0M512.9 249.7h0M504.5 255.1h0M512.2 254.3h0M496.8 257.4h0M522.6 249.5h0M504.1 250.7h0M519.5 255.7h0M523.3 255.3h0M514.3 247.9h0M516.3 238.7h0M519.1 234.5h0M519.1 261.5h0M512.2 236.3h0M518.8 237.2h0M508.3 244.7h0M510.7 260.7h0M500 254.1h0M521.5 242.7h0M505.6 257.1h0M502.9 264.1h0M509.2 247.1h0M513.3 243.5h0M505.5 255.7h0M527.2 253.2h0M518.4 247.5h0M522.9 254.3h0M517.2 243h0M520.2 246.7h0M518.3 240.1h0M502.3 253.1h0M518.9 257h0M518.1 252.9h0M519.4 256h0M523.1 252.5h0M517.3 233.4h0M507.2 243h0M499.8 251.5h0M516 232.9h0M520.2 238.8h0M515.2 235.6h0M519.9 245.6h0M510.2 230.7h0M522.9 253.7h0M517.3 238h0M518.3 239.6h0M510.6 246.9h0M507.3 245h0M519.5 234.9h0M517.4 262.8h0M519.8 250.7h0M508.4 249h0M521.2 256.1h0M518 237h0M521.8 251.1h0M520.3 253.4h0M500.2 254.8h0M507.4 253.4h0M496.3 252.3h0M523.3 237h0M501.2 256.2h0M518.5 258.6h0M507.6 247.4h0M500.2 249.4h0M494.9 256.7h0M517.5 238.5h0M517.8 253.9h0M503.1 256.3h0M523.6 254.8h0M509.7 242.8h0M518.4 230h0M514.9 238h0M502.5 263.1h0M523 242h0M499.7 251.8h0M514.5 260.9h0M518.3 265.1h0M526 253.1h0M495.7 266.6h0M517.9 249.4h0M521.7 258.6h0M519.8 251h0M516.2 233.4h0M516.8 249.4h0M510.6 243h0M519.6 254.4h0M519.3 242.1h0M517.5 239.8h0M499.4 252h0M527.3 254.9h0M519.2 257.5h0M522.1 257.8h0M519.8 239.5h0M526.6 260.7h0M516.1 237.4h0M517.4 239.2h0M500.7 259.5h0M500.6 251.5h0M520 229.3h0M522.3 250h0M523 254.7h0M522.2 263.4h0M500.4 263.8h0M517.5 252.4h0M495.8 255h0M503.5 247.6h0M497 256h0M521.6 257.1h0M505.1 255.1h0M515.1 234.3h0M508.9 254.5h0M520.3 247.5h0M498.1 260.4h0M502.3 248.3h0M504.8 257.7h0M523.5 253h0M524.5 247.4h0M502 257.2h0M519.3 253h0M502.3 257.1h0M513.5 251.6h0M506.9 257.7h0M499 241.4h0M502.8 258.2h0M515.9 236.9h0M513.5 246.2h0M514.1 254.4h0M519.6 245.3h0M515 247.7h0M518.1 254.4h0M519.2 233.6h0M496.6 258.1h0M525.2 258.1h0M521.2 259.7h0M524.9 249h0M514.6 256.7h0M517.1 240h0M502 253.6h0M508 252.2h0M526.9 255.9h0M520.8 231.9h0M506.3 246.8h0M518 235.8h0M520.2 251.3h0M517.6 253.3h0M516.9 234.9h0M519.8 243h0M514.4 259.8h0M523 254.9h0M508.4 256.5h0M514 264.5h0M520.9 238.6h0M517.6 260.3h0M504.3 256.4h0M522.6 249.7h0M518.4 238.3h0M517.3 261.2h0M502.5 255.8h0M517.9 241.1h0M518 235h0M501.9 263.6h0M501 250.6h0M515.4 251.1h0M515.9 260.3h0M517.1 236.4h0M516.7 233.4h0M520.9 235.3h0M517.2 254.3h0M507.3 245.1h0M527.7 248h0M508.4 258.2h0M522.6 238.6h0M515.5 236.7h0M505.5 257.2h0M504 260.5h0M498.9 263.3h0M507.9 261.2h0M515.4 235h0M502.8 240.2h0M513.1 243.3h0M503 257.8h0M511.3 255.2h0M515.1 258.2h0M519.3 264.8h0M521 245.9h0M495.8 255h0M510.6 250.4h0M507 239.2h0M514.2 260.3h0M504.5 253.1h0M513.8 249.9h0M517.8 249.6h0M519.3 235.3h0M507.7 263.4h0M520.2 258.7h0M516.6 253.2h0M519.5 256.7h0M500.4 266h0M519.4 262.4h0M497.5 261.5h0M523.4 253.9h0M522.4 236.2h0M518.9 259.3h0M518.1 256.7h0M519.4 253h0M510 255.4h0M516.9 233.4h0M515.7 257.5h0M521.7 235.7h0M521.9 250.5h0M507.7 250h0M519.4 257.5h0M514.7 253.4h0M507.9 244.1h0M516.6 235.1h0M506.9 246.2h0M517.1 247.2h0M505 255.9h0M514.3 263.4h0M522.3 253.3h0M521.3 254.3h0M503 255.8h0M522.6 252.3h0M516.9 231.7h0M524.2 233.5h0M510.9 250h0M504 259.6h0M518 258h0M520.4 231.4h0M517.7 236h0M525.2 265.6h0M516.7 253.5h0M513.2 255.8h0M518.3 233.2h0M508.9 251.3h0M522 255.6h0M517.3 252.5h0M515 235.7h0M518.8 251.6h0M523.6 238.2h0M502.4 258.4h0M523.7 251.6h0M501.6 255.8h0M516.2 233.6h0M514.3 240.6h0M522.5 253h0M517 237.1h0M518.1 254h0M514 237h0M514 255.4h0M500.1 250.6h0M519 235.5h0M520 239.9h0M524 257.8h0M519.3 252.2h0M500.5 259.5h0M520.8 232.6h0M507.5 248.3h0M521.6 255.2h0M516.4 248.6h0M519.3 227h0M512.7 242.3h0M515.3 268.4h0M497.4 260.5h0M510.2 248.9h0M516.1 241.5h0M516.4 256.8h0M529.1 255.7h0M507.3 255.7h0M524.3 261.2h0M496.6 244.5h0M519.4 238.9h0M522.9 265.2h0M509.4 252.8h0M515.1 258.7h0M512.7 247.8h0M512.7 241.2h0M518.4 244.5h0M514.7 260.4h0M503.3 254.9h0M490.3 256.5h0M495.5 251.7h0M517.7 239.5h0M514.5 258.2h0M516.3 238.8h0M495.1 253.9h0M498.2 258.7h0M522.4 250.9h0M518.5 238.4h0M508.7 244.4h0M528.3 246h0M519.4 235.7h0M497.8 266.8h0M515.7 229.8h0M507.3 247.1h0M527.8 250.4h0M515.9 239.5h0M521.8 264.3h0M516.2 233.8h0M524.7 247.9h0M521.3 249.7h0M514.7 248.6h0M503.4 251h0M511.7 257.6h0M511.6 244.5h0M513.5 257.3h0M516.9 262.1h0M497.8 260.5h0M517.2 254.1h0M518.3 255.2h0M517.7 257.8h0M526.5 248.1h0M521.1 255.8h0M507.2 247.4h0M502.4 257.4h0M514 239.1h0M517.2 236.6h0M514 234.7h0M503.9 258.9h0M518.7 236.8h0M521.4 238.6h0M523.9 250.8h0M521.4 239.8h0M506.4 251.9h0M515.8 256.2h0M520.4 255.1h0M526.8 246h0M518.8 250.8h0M521.3 236.1h0M506.1 247.8h0M517.2 253.2h0M524 251.7h0M505.7 253h0M503.3 250.5h0M517.3 234.5h0M522.4 258.5h0M498.6 252.1h0M516.7 248.3h0M521.2 261h0M512.8 251.4h0M518.8 253.3h0M522.2 240.8h0M519.5 239.4h0M521.9 253.5h0M512.7 236.6h0M514.7 239.3h0M520.6 255.9h0M503 248.1h0M501.1 250.6h0M521.4 253.1h0M503.2 250.4h0M523.2 252.5h0M528.1 258.1h0M513.6 249.7h0M524.7 255.2h0M509.1 241.6h0M504.1 259.7h0M516.1 250.6h0M510.1 236.5h0M501.9 240.2h0M513.4 254.3h0M515.3 234.1h0M517.3 254.2h0M503.4 258.3h0M517 235.8h0M521.2 249.8h0M523.5 252.8h0M517.2 234.1h0M505.7 249.3h0M520.5 258.1h0M518.6 238.2h0M515.4 237.7h0M513.9 251.6h0M511.8 256h0M518.3 236.6h0M512.4 252.1h0M497.6 243.3h0M503.2 259.1h0M524.4 252.5h0M524 254.9h0M494 259.9h0M518.4 252.5h0M516.8 265.8h0M510.3 246.6h0M500.3 252.8h0M516.8 255.2h0M520.4 238.8h0M519.3 233.1h0M519.9 258.6h0M518.9 248.7h0M496 251.5h0M501 254.1h0M525.8 260.6h0M521 234.8h0M517.7 234.3h0M514.4 256.9h0M516.1 246.2h0M500.3 252h0M515.3 262.2h0M517.3 245h0M503.4 251.9h0M503.5 251.7h0M509.8 252.1h0M495.9 243.7h0M519.8 256.7h0M506.3 258.6h0M518.8 247.4h0M519.3 231.7h0M524.2 251.3h0M514.7 251.4h0M506.6 240.1h0M506.7 256.6h0M518.5 238.6h0M523.6 257.2h0M516.9 238.5h0M518.7 235.4h0M521 234.2h0M503 261.3h0M509.4 262.9h0M521.4 248.2h0M525.3 244.4h0M514 233.2h0M514.4 258.8h0M516.3 236.4h0M511.7 242.7h0M502 246.3h0M520.7 246.6h0M505.8 260.7h0M509.8 258.8h0M515.3 257h0M519.3 258.9h0M506.6 244.1h0M501.6 252.3h0M501.9 247.5h0M511.9 255.2h0M503.9 255.5h0M515.2 256h0M517.6 254.9h0M523.9 257h0M516.5 236.6h0M529 267.2h0M514.3 237.5h0M504.9 261.4h0M523.8 256.8h0M515.5 260.5h0M523.8 243h0M516.2 251h0M517.9 256.3h0M521.8 256.2h0M524 254h0M501 249.2h0M495 251.5h0M522.3 243.9h0M519.2 235.8h0M505.4 258.4h0M525.2 261.7h0M523.3 251.1h0M513.2 257.1h0M516.9 253.8h0M522.4 256.7h0M519 251.4h0M522.9 235.4h0M522 232.3h0M524.9 252.6h0M519.8 236.2h0M512.4 250.9h0M519.7 236.7h0M526.6 250.6h0M516.7 235.1h0M517.4 238.1h0M520.5 258.8h0M513.6 250.9h0M525.3 255.3h0M521 259.3h0M496.1 251h0M513.6 234.8h0M510.5 246.7h0M520 256.5h0M529.1 248.6h0M517.9 252.9h0M516.9 236.8h0M524.8 256.2h0M518.6 241.3h0M512.5 249.1h0"/></defs>
<g clip-path="url(#cp5)" fill="none" stroke-linecap="round"><use href="#pcp5" stroke="#2a3aa8" stroke-width="0.8"/><g filter="url(#dn1)"><use href="#pcp5" stroke="#000" stroke-width="0.6"/></g></g>
<rect x="512" y="224.8" width="24" height="16" fill="none" stroke="#777" stroke-width="0.7"/>
<rect x="490.4" y="246.3" width="15.8" height="17.9" fill="none" stroke="#777" stroke-width="0.7"/>
<rect x="513.6" y="246.2" width="22.4" height="17.8" fill="none" stroke="#777" stroke-width="0.7"/>
<text x="541.4" y="227.9" font-size="8.6" text-anchor="end" fill="#1e1e1e">31.4</text>
<text x="487.6" y="274.8" font-size="8.6" fill="#1e1e1e">3.58</text>
<text x="541.4" y="274.8" font-size="8.6" text-anchor="end" fill="#1e1e1e">59.4</text>
<rect x="549.2" y="221.6" width="55.8" height="54.6" fill="none" stroke="#d4d4d4" stroke-width="0.7"/>
<path d="M547.2 225.6h2M545.2 224.6l0.9 -0.5M553.2 276.2v2M547.2 237.25h2M545.2 236.25l0.9 -0.5M565.15 276.2v2M547.2 248.9h2M545.2 247.9l0.9 -0.5M577.1 276.2v2M547.2 260.55h2M545.2 259.55l0.9 -0.5M589.05 276.2v2M547.2 272.2h2M545.2 271.2l0.9 -0.5M601 276.2v2" stroke="#9a9a9a" stroke-width="0.6" fill="none"/>
<line x1="547.6" y1="255.45" x2="549.2" y2="255.45" stroke="#111" stroke-width="1.4"/>
<line x1="560.53" y1="277" x2="563.53" y2="277" stroke="#222" stroke-width="1.3"/>
<clipPath id="cp6"><rect x="549.6" y="222" width="55" height="53.8"/></clipPath>
<defs><path id="pcp6" d="M563.5 245.6h0M588.5 268.9h0M563.2 265.9h0M582.1 243h0M582.7 235.5h0M577.8 244.7h0M574.1 250.5h0M579.5 231.4h0M583.4 263h0M582.1 262.7h0M575.4 233.3h0M585.3 237.7h0M579.9 236h0M583.4 240.7h0M587.9 254.1h0M584.9 250.8h0M560.8 253.7h0M578.5 259.1h0M585.9 234.2h0M573.8 239.5h0M562 252.3h0M586 264.9h0M584.4 250.8h0M560.9 250.6h0M588.3 257.7h0M583.9 258.3h0M587.1 258.8h0M581.9 239.9h0M560.3 246.3h0M577.8 251.6h0M564.2 234.1h0M565.7 246h0M558.9 252.6h0M580.6 233.8h0M577.2 252.8h0M581.8 253.6h0M583.7 238.2h0M585 261.3h0M576.2 233h0M574.9 230.3h0M575.1 249.9h0M582.3 254.7h0M563.1 257.4h0M586.4 241.3h0M590 252h0M557.3 255h0M574.9 246.6h0M583.9 257.3h0M579 237h0M582.5 239.4h0M586.9 250h0M580.7 251.9h0M581.1 254.8h0M577.1 251.1h0M588.1 257h0M589.7 237.3h0M577.7 237.6h0M577.9 232.8h0M580.7 240h0M580.1 252.7h0M587.3 254.8h0M581.3 237.7h0M572.5 260.7h0M588.3 255.7h0M572 248.1h0M564.2 237.5h0M580.3 249.4h0M571.1 229.6h0M584.4 256.6h0M581.2 253.4h0M586.1 259h0M583.4 252.5h0M582.5 244.6h0M591.5 250.5h0M581.2 257h0M564.5 256.6h0M585.2 260.5h0M585.1 255.1h0M560.6 246.3h0M563.4 254.5h0M561.1 256.6h0M557.9 262.1h0M586 253.8h0M578.2 233.4h0M575 242h0M582.3 256.7h0M584.6 238h0M582.7 237.3h0M559.5 251.3h0M579.2 241.3h0M563.9 253.1h0M581.7 255.6h0M573.9 245.9h0M577.6 252.1h0M579.1 262.4h0M583.2 260.7h0M564.1 239.7h0M581.6 251.1h0M564.2 257h0M582.9 251h0M580.6 237.1h0M584.8 256.5h0M587.7 249.9h0M579.1 249.5h0M576.4 238.8h0M572.6 239.4h0M579.1 257.8h0M562 242.5h0M578.4 233.8h0M586.3 257h0M581.9 232.7h0M575.3 234.2h0M565.7 257.6h0M571.9 260.8h0M598.4 237.4h0M584.1 236.2h0M579 251.1h0M585.6 253.6h0M576.4 240.6h0M563.4 241.3h0M582.8 232.3h0M578 244.9h0M583.6 262.3h0M560.8 254.6h0M581.9 251h0M583.2 249.5h0M578.9 233h0M563.1 252.2h0M574.1 257h0M583 258.9h0M571 235.7h0M578.4 239.2h0M567.3 231.8h0M592 254.2h0M586.7 245.3h0M569.8 244h0M588 234.8h0M563.4 265.8h0M583.9 242.6h0M586.7 252.8h0M585.2 242.1h0M560.7 243.4h0M583.7 236.2h0M577.5 254.6h0M582.1 251h0M567.5 245h0M570.3 243.9h0M564.7 242.2h0M584.3 251.6h0M554.8 256h0M563.4 252.4h0M582.7 257.5h0M584.2 260.9h0M582.1 245.8h0M554.4 249.7h0M578.5 254.7h0M580 259.3h0M576.2 251.9h0M578 249.9h0M579.4 255h0M569.3 258.2h0M580.5 257.6h0M557.8 260.6h0M579.6 248.7h0M583.5 254.8h0M564.1 254.5h0M582.5 249.7h0M582.8 239.4h0M559.6 246.8h0M559.8 250.7h0M558.8 258.9h0M579.2 238.4h0M563.4 253.1h0M577.6 247.7h0M581.9 261.3h0M576.2 254.2h0M586.9 253.3h0M574.5 260h0M575.8 255h0M584 246.6h0M582.8 231.3h0M562.6 248.7h0M585 253h0M579.8 262.8h0M561.5 238.1h0M581.5 253.3h0M579.7 237.8h0M578.8 251.6h0M573.3 260.4h0M561 250.8h0M580.6 235.7h0M587.6 241.1h0M554.4 239.1h0M568.3 235.5h0M582.3 238h0M559.1 244.7h0M576.7 261.6h0M572.3 239.5h0M553.6 259h0M575.3 251.9h0M560.6 252.7h0M585.1 257.4h0M580.3 251.6h0M571.6 235.1h0M557.5 259.6h0M580.5 256.6h0M582.4 238.4h0M580.5 254.4h0M564.8 248.2h0M573.9 259.5h0M572.3 253.9h0M583.7 252.6h0M562.5 256.7h0M586.3 232.8h0M567.3 239.6h0M588.6 249.4h0M589.2 236.5h0M565.1 255.3h0M563.8 254.5h0M585.8 238.8h0M569.1 242.7h0M583.5 260.4h0M583.4 253.6h0M579.1 250.3h0M579.2 238.7h0M571.9 248.2h0M560.3 255h0M585.4 256.4h0M580.3 267.1h0M582 237.2h0M576.3 250.7h0M579.2 260.1h0M576.1 255.5h0M587.1 259.5h0M563.8 254.5h0M561.2 248.6h0M562.7 259.3h0M584.7 234.7h0M567.2 249h0M560.6 259.3h0M561.3 251.3h0M560.4 237.3h0M579.8 236.9h0M561.7 250.4h0M578.5 249.6h0M565.4 241.4h0M589.2 256.7h0M580.8 247.1h0M579.7 256.1h0M580.8 257.3h0M561.5 241.7h0M576.8 235.6h0M579.8 239.1h0M594.2 260.9h0M583.8 253.5h0M578.2 235.8h0M579.9 251.1h0M588.4 250.4h0M574.8 256.3h0M569.8 244.7h0M587.2 255.9h0M579.7 234.8h0M583.4 257.8h0M586.5 250.5h0M577.9 265.3h0M562.9 260h0M586.6 236.9h0M573.6 258.8h0M573.5 231.9h0M578.7 233.9h0M585 238.4h0M565.8 261.1h0M586.2 232.8h0M581.2 246.1h0M583.7 253h0M589.1 260.4h0M572.7 248.3h0M578.3 252h0M578.9 252.5h0M586.1 260.1h0M572.6 247.5h0M583.4 255.7h0M581.1 235.5h0M579.7 253.9h0M579.5 254.7h0M556.9 246.5h0M583.8 247.2h0M586.5 255.1h0M584.7 254.7h0M579.1 244.5h0M578.2 253.3h0M579.1 255.2h0M558.7 252.6h0M578 248.1h0M579.8 236.2h0M575 229h0M564.4 250.1h0M576.7 261.1h0M558.2 263.1h0M568.8 234.5h0M581 261.5h0M583.1 256.9h0M573 243h0M587.1 255.8h0M586.4 249.2h0M581.8 254.3h0M572.2 253.3h0M584.7 244.7h0M569.8 242.2h0M590.7 236.8h0M562.5 252.1h0M586.7 257.7h0M559.7 243.1h0M583.9 259.3h0M576.7 254.6h0M578.7 251.2h0M573.9 255h0M559.6 248.5h0M584.8 257.8h0M581.9 230.4h0M561.3 256.6h0M567.2 238.1h0M561.4 231.1h0M563.6 233.6h0M563.7 257.8h0M581 251.9h0M584.4 241.2h0M591.3 249.9h0M574.1 259.1h0M562.9 247.1h0M580.9 236.5h0M587.9 256h0M579.4 234.5h0M560.3 256h0M584.6 238.8h0M583.3 253.1h0M581.3 240.3h0M568.2 235.8h0M583.3 247.8h0M580.7 237.6h0M583.2 258.3h0M584 252.5h0M583.6 239.4h0M589.4 250.7h0M586.6 258.7h0M573.4 249.7h0M593.8 250.8h0M582.7 233.3h0M572.8 252.9h0M577.8 251.8h0M581.3 235.7h0M581.5 253.9h0M580.1 247.7h0M581.3 223.4h0M581.7 240.5h0M566.9 256.1h0M582 256h0M556.4 242.8h0M580.3 238.4h0M560.9 256.3h0M578.2 238.2h0M561.7 266.5h0M577.5 253.6h0M583.9 254.6h0M582.2 252.5h0M582.2 239.6h0M579.7 239.1h0M585.8 248.7h0M560.5 254.5h0M569.2 228.6h0M583.5 252h0M567.6 232.3h0M558.3 255.4h0M575.8 248h0M578.4 252.4h0M581.1 236.8h0M575.8 254.7h0M565 241.6h0M588.7 251.1h0M586 252.9h0M580.6 231.7h0M561.6 245.1h0M581.5 266h0M580.7 251h0M559.3 257.6h0M570.6 239.4h0M574.9 240.6h0M578.2 242.3h0M582.2 251.8h0M587.6 254.5h0M577.1 239.5h0M565.5 247.8h0M580.3 258.6h0M587.2 246.7h0M559.7 251.6h0M582.8 251.9h0M563.3 255.9h0M575.2 237.8h0M558.6 251.3h0M583.5 261.3h0M564 246.3h0M565.3 245h0M576.1 247.6h0M564.4 250.3h0M578.3 250h0M579.6 254.1h0M576.3 249.5h0M562.4 256.1h0M583.2 250.1h0M572.1 244.7h0M576.3 264.5h0M587.8 255h0M585.8 257.5h0M572.5 256h0M585.7 251.6h0M577.1 246.2h0M572.4 237.9h0M583 252.5h0M584.4 251.7h0M557.8 250.3h0M574.4 244.3h0M583.5 261.2h0M570.2 244.2h0M578.5 237.7h0M579.6 248.2h0M580.3 239.4h0M582 257.3h0M573.2 254.7h0M589.3 252.3h0M581.2 247h0M575.1 261.6h0M584.5 257.6h0M561.8 255.9h0M572 252.2h0M588.4 254.2h0M565 260.2h0M581.9 247.5h0M588.5 249.8h0M572.1 240.1h0M572.5 233.8h0M564.7 248.3h0M578 237.4h0M577.7 262.1h0M585.6 256.3h0M563.8 239h0M579.5 253h0M580.5 238.4h0M569.5 248.5h0M565.8 243.3h0M576.6 238.2h0M577.7 253.1h0M578.6 251.9h0M575.8 258.5h0M578.8 237.5h0M578.6 253.9h0M560.3 245.9h0M567.6 239.6h0M583.8 237.8h0M592.2 252.2h0M579.5 248.1h0M563.3 245.9h0M583.2 258h0M580.9 260.6h0M579.4 240.8h0M573.2 233.4h0M566.8 255.9h0M561.3 252.5h0M580 263.3h0M582.7 252.9h0M586.6 258.9h0M584.1 253.7h0M569.6 248.5h0M581 236.4h0M586.4 256.4h0M564.8 243.3h0M557.9 249h0M590 236.3h0M586 252.9h0M580.6 236.3h0M585.5 252.1h0M581.2 253.8h0M584 251.1h0M579.3 239.3h0M581.9 255.8h0M557.4 254.7h0M589.2 249.2h0M576 260.6h0M577.5 257.3h0M579.8 237.1h0M572.2 250.6h0M579.8 248.7h0M580 256.1h0M584.3 254.7h0M586 254.7h0M578.9 259.4h0M558.6 237.4h0M583.2 247.1h0M580 238.3h0M559.2 257.8h0M583.8 236.6h0M579.2 239h0M580 234.1h0M582.8 236.6h0M581.2 253h0M576.6 239.7h0M569.8 236.8h0M589.9 258.2h0M559 258.8h0M582.3 260.3h0M579.6 229.7h0M577.1 238.7h0M561.3 250.7h0M562.4 247.6h0M574 249.4h0M578.2 237.1h0M581.6 235.1h0M585 241h0M559.6 258.7h0M581.4 254.2h0M586.6 253h0M558.9 251.2h0M559.9 249.2h0M569.4 243.7h0M584 248.4h0M574.4 238.5h0M578.8 236h0M583 249.6h0M572.3 239.9h0M580.4 239.1h0M584 247.8h0M561.5 259.5h0M570.4 240.6h0M560.1 256.6h0M561.7 241.2h0M580.1 240.1h0M577.5 237.7h0M571.5 252.1h0M574.2 249h0M572.1 255.7h0M590.7 258.5h0M571.8 236.5h0M586.6 254.3h0M569.7 237.3h0M580 254.5h0M579.9 239.9h0M556.3 266.5h0M579.4 237.4h0M579.9 241.6h0M560 261h0M563.6 249.6h0M582.9 229.8h0M568.9 251h0M558.3 254h0M571.6 254.9h0M562.8 249.5h0M586.7 248.7h0M583.8 254.1h0M589.2 264.7h0M560.6 262.8h0M551.7 255.3h0M577.4 239.3h0M580.2 245.1h0M570.3 259.5h0M574.6 236.9h0M585.3 251.4h0M578.3 246.3h0M558.1 257.9h0M575.2 229.4h0M587.8 247.7h0M558.9 260.2h0M581 234h0M564.8 236.6h0M580.2 254.1h0M580.7 251.6h0M564.3 252.7h0M580.7 240.1h0M578.1 244.3h0M571.6 241.4h0M564.6 253.1h0M586 260.4h0M573.7 243.5h0M574.3 233.3h0M581.1 230.1h0M585.7 250.8h0M566.1 241.3h0M574.2 231.4h0M582 263.7h0M558.7 247.6h0M583 231.4h0M587.5 238.9h0M572.3 251.6h0M580 237.1h0M576.7 248.7h0M579.7 248.4h0M570.9 238h0M578.1 246h0M580.7 249h0M560.6 257.1h0M564.6 251.9h0M579.8 259.3h0M578.3 237.9h0M581.8 255.2h0M566.9 263h0M557.8 256.7h0M564 252.6h0M562.8 256.7h0M580.1 250.1h0M574.4 235.7h0M586 256.7h0M584.1 251.2h0M563.3 230.2h0M579.4 236.9h0M568.7 235.7h0M565.2 246.8h0M583.3 249.6h0M568.5 265.2h0M579.3 251.8h0M563.3 255.8h0M575.7 249.2h0M585.2 253.2h0M566.8 242.1h0M579 258.2h0M584.8 245.5h0M583.4 247.4h0M584.4 231.6h0M555.3 254h0M559.7 250.3h0M584.2 259.5h0M561.2 255.9h0M580.3 248.6h0M592.7 239.4h0M577 256.2h0M590 250.9h0M556.7 257.8h0M585.5 256.4h0M561.8 253.7h0M578 253.8h0M584.6 257.9h0M581 238.2h0M565.5 248h0M580.9 250h0M574.5 250h0M574.1 264.9h0M585.9 255h0M555.3 242.7h0M581.3 249h0M577.9 246.9h0M555.2 240.2h0M583.3 243.4h0M578.8 237.7h0M579.4 264.4h0M585 230.4h0M584.9 247.6h0M580.3 253.8h0M585.3 255.5h0M555.2 252.9h0M580.8 259.5h0M583.9 253.9h0M583.7 259.9h0M587.3 258.8h0M564.2 252h0M582.7 255.6h0M576.8 259.9h0M584.3 252.3h0M586.3 262h0M577.6 235.7h0M564.7 238.8h0M558.2 252.1h0M580.6 253.9h0M576 237.2h0M580.5 251.1h0M574 232.5h0M564.7 256.8h0M577.2 240.7h0M563.3 242.4h0M564 256.1h0M573.5 255.3h0M579.3 251h0M596 247.8h0M563.3 257.8h0M588 250.3h0M589.7 258.7h0M561.7 258.2h0M582.5 235.3h0M584.6 233.8h0M583.3 266.6h0M582.2 247h0M587.4 253.2h0M582.9 255.4h0M589.4 250.7h0M580 262.6h0M568.9 243.8h0M584.7 248.8h0M558.9 247.6h0M589.4 255.2h0M586.4 248.9h0M559 246.8h0M584.2 234.1h0M582.6 249.4h0M561.4 236.8h0M581.9 238.5h0M586.1 232.2h0M576.9 255.9h0M567 260.2h0M585.2 240.3h0M578.9 249.2h0M574.3 253.1h0M583.3 247.5h0M576.5 256.7h0M585.3 237.8h0M583.8 256.8h0M587.3 250h0M578.2 251.9h0M594.5 260.5h0M560.1 245.5h0M583.4 237.9h0M582.3 239.9h0M560.5 234.3h0M591.1 249.4h0M577.5 230.5h0M563.6 237.7h0M581 238.4h0M581.9 233.6h0M581.7 249.9h0M571.8 257.6h0M591.9 251.1h0M583.8 253.5h0M559.2 255.2h0M561.5 259.5h0M556 245.7h0M573.5 257.4h0M580.4 238h0M586.5 258h0M590.1 250.1h0M580.8 253.6h0M581.8 235.9h0M583 257.5h0M584.7 265.5h0M580.7 251.1h0M565.9 245.7h0M559.6 234.8h0M584.3 255h0M579.3 252.1h0M577 250.7h0M573.3 230.8h0M586.6 255.5h0M578.4 253.4h0M581.7 256.6h0M580.8 250.6h0M577.3 248.8h0M577.2 245.5h0M572.5 243.6h0M583.7 236.2h0M583.1 250h0M579.3 240.2h0M582.4 234.9h0M571.3 236.7h0M584.6 246.8h0M584.6 256.3h0M576 254.5h0M567.5 246.5h0M581.6 253h0M577.8 236.2h0M572 259.1h0M578 246.7h0M577.4 240.1h0M571.8 236h0M555.8 257.1h0M585.1 231.4h0M562.2 257.8h0M584.8 252h0M578.8 258.6h0M576.9 240.4h0M576.4 237.3h0M570.5 236.1h0M564.5 252.1h0M559.4 251.1h0M558.8 255.5h0M580.7 255.1h0M562.7 259.2h0M576.9 243.4h0M581.4 236.6h0M581.6 261.5h0M562.6 260.7h0M582.6 253.4h0M569.6 257.2h0M569.3 229.1h0M563.1 255.4h0M565.2 239.8h0M556.9 257.1h0M572 251.4h0M581.4 254.6h0M589.9 254.4h0M586.7 263.1h0M580 247.3h0M562.6 255.8h0M566 242.9h0M589.8 255.8h0M578 238.5h0M565.8 251.2h0M588.2 252.4h0M580.1 252.6h0M574.6 253.9h0M575.8 265.1h0M582.6 239.6h0M556.2 253.3h0M572.9 250.3h0M574.7 233.1h0M561.1 257.3h0M569.4 253.4h0M588.7 258.9h0M570.7 238.8h0M572.5 254.8h0M578.4 238.3h0M558.8 255.5h0M581.4 253.7h0M582.6 258.1h0M582 258.8h0M561.7 264.7h0M579.7 241.7h0M560.3 257.6h0M557.6 259.7h0M578.1 260.9h0M573.7 249.8h0M562.7 251.7h0M578.5 252.9h0M582.6 257.5h0M562.4 256.4h0M580.5 235.5h0M586.2 249.3h0M580.1 259.4h0M568.4 242.1h0M580.1 233.8h0M573.5 262.9h0M581.2 261.9h0M583.6 259.5h0M594.2 261.4h0M581.1 256.1h0M581.7 238.2h0M577.3 246.3h0M585.3 246.3h0M581.9 239h0M571.1 251.4h0M586.1 260.1h0M590.9 250.8h0M581.9 259.9h0M583.5 251h0M564.4 250.4h0M556.2 262.8h0M572.3 237.3h0M584 244.7h0M572.8 257.4h0M566.5 249.3h0M577.8 239.5h0M588.7 254.5h0M560.2 252.2h0M585.2 238.1h0M582.3 240.5h0M581.7 251.6h0M580 255.6h0M590 247.2h0M589.7 255.3h0M567.3 257.7h0M561.1 237h0M556.2 253.4h0M582.6 253.4h0M587.1 250.8h0M555.1 252.5h0M580.8 238.9h0M576.4 253h0M582.8 260.9h0M560.8 262.3h0M578.3 254.2h0M584 254.4h0M560.1 258.8h0M560.4 254.9h0M561.9 258.7h0M585 256.6h0M559.8 237.4h0M560.3 235.6h0M582.6 240h0M573.5 263.9h0M570.8 236.7h0M582 235.1h0M576.8 234.8h0M568.8 231.7h0M586 252.3h0M587.3 258.3h0M558.5 254h0M580.6 236.4h0M559.4 231.5h0M561.1 251h0M555.8 246.4h0M586.3 248.2h0M576.6 248.4h0M565.3 270.9h0M575.8 257.3h0M567.5 243.9h0M578.1 254.7h0M593.3 254.9h0M588.2 250.5h0M582.6 239.7h0M585.7 240.2h0M585.9 259h0M562.4 250.6h0M588.7 255.7h0M586.2 254h0M576.2 236.2h0M582.2 257.3h0M565.5 251.4h0M582.7 255.2h0M572 234.4h0M586 252.4h0M562.9 252.6h0M562.1 254.8h0M583.5 241.2h0M574 256.8h0M581.9 241.2h0M579.6 255.1h0M560.5 253.3h0M577.4 237.7h0M565.1 251.6h0M559.8 243.7h0M586.5 263.6h0M558.3 234.3h0M587.3 256.9h0M553.3 243h0M558.4 257h0M573.7 262.1h0M561.7 247.5h0M576.6 245.6h0M583.2 236.8h0M584.5 237.5h0M572.3 253.9h0M580.1 247.6h0M582.4 252.5h0M564.1 247h0M577.9 237.1h0M573.4 240.9h0M584.1 236.4h0M575.3 232.3h0M563.8 253.5h0M564.2 240.2h0M569.1 266.8h0M578.8 250.8h0M579.6 229.6h0M582 235.1h0M586.5 232h0M584.8 258.4h0M584.1 235.3h0M565.5 257.2h0M558.2 259.2h0M592.2 256h0M579 261.9h0M579.9 240.4h0M563.6 250.2h0M563.3 252.7h0M579.5 236.7h0M580 249.5h0M590 237.2h0M564.5 247.8h0M596.5 251.1h0M556.8 242.2h0M572.3 260.6h0M579.9 260.1h0M563.6 252.2h0M582.4 254h0M587.9 238.2h0M571.5 248.9h0M562.9 258.6h0M581.7 251.8h0M580.3 231.6h0M561.6 258.7h0M570 250.8h0M559.6 261.6h0M580.6 234.1h0M581.1 242.5h0M562.6 251.1h0M565.6 249.3h0M580.4 233.5h0M580.9 253.7h0M565.8 240.9h0M563.7 259.9h0M567.1 245.1h0M577 237.2h0M581.9 257.5h0M582.9 266.9h0M583.7 245.3h0M584.4 237.7h0M577.6 245.7h0M585.5 254.6h0M576.1 248.2h0M573.8 235.3h0M577.7 247.5h0M588.2 258.9h0M584.6 235.6h0M586.3 258.9h0M581.5 252.3h0M575 251.9h0M567.1 256.1h0M574 243.2h0M567.3 243.2h0M580.2 254.1h0M561.9 252.2h0M559.3 253.7h0M580.3 261.5h0M583.2 235.6h0M559 249h0M570.1 246h0M560.4 250.2h0M581.3 252.5h0M577 258.5h0M589.4 256.8h0M583.9 254.7h0M558.5 251.5h0M577.9 236h0M577.4 236.2h0M583.1 254.4h0M564.1 254.5h0M586.5 249.5h0M584.9 241.5h0M579.2 251.5h0M578.4 259.3h0M580.5 258.2h0M584.6 252.1h0M561.7 246.2h0M562.9 254.2h0M576 236.7h0M585.7 253.5h0M565.5 244.6h0M582.4 251.3h0M588 260.6h0M594.4 258.9h0M588.9 245.2h0M557.4 256.8h0M582.8 254.3h0M582.2 234.8h0M584.9 250.3h0M584.8 244h0M576.4 252.9h0M581.1 255h0M561.8 250.7h0M560.5 248h0M577 238.5h0M574.9 254h0M581.7 235.4h0M580.4 261.4h0M581.9 260.2h0M577.7 248h0M564.6 251.4h0M561.2 252.4h0M582.3 260h0M580.3 240.6h0M592.8 237.5h0M561.9 250.5h0M579.4 241.3h0M585.1 256.4h0M563.6 252.7h0M588.7 249.1h0M556.4 252.4h0M590.6 257.1h0M566 260.3h0M580.9 254.6h0M583 232.7h0M578.5 253.2h0M574.6 239.2h0M583.7 246.5h0M576.6 244.3h0M588.6 255h0M575.6 237.1h0M586.3 235.2h0M588.5 258.4h0M587.9 254h0M560.2 256.4h0M583.7 259.9h0M581.3 244.4h0M560.8 255.8h0M553.5 249.2h0M576.3 233.2h0M579.9 256.5h0M584.4 236.4h0M588.4 240h0M584.6 250.4h0M578.1 255.4h0M583.2 255.2h0M582.6 238.7h0M566 233h0M578 243.9h0M577.3 250.2h0M561 260.4h0M581.4 253.2h0M581.6 260h0M578.9 258.2h0M580 257.7h0M577.4 248.3h0M562.8 257.1h0M559.7 245.5h0M562.2 234.8h0M578.8 251.9h0M584.8 266.4h0M559.1 260.6h0M582.4 235h0M572.2 260.8h0M556.3 249.2h0M563.3 240.4h0M574.4 256.7h0M579.5 241.5h0M582.1 234.4h0M572.3 263.9h0M566.5 260.5h0M581 236.8h0M587.6 243.5h0M576.6 256h0M563.7 257.7h0M566.3 252.6h0M586.7 251.3h0M580.3 240.9h0M577.4 237.3h0M560.7 257.1h0M585.1 259.9h0M584.4 251.5h0M582.3 256.8h0M577.5 235.8h0M560.6 252.9h0M564.8 249.2h0M581.6 235.9h0M558.6 264.5h0M579.5 237.2h0M580 231.9h0M583.1 237h0M582.7 257.9h0M565.7 255h0M582.3 237.2h0M580.8 238.6h0M554.9 243.8h0M571.3 223.8h0M578.7 239.6h0M559 254.4h0M581.9 252.3h0M578.4 242.9h0M575 260.3h0M587.5 258.6h0M556.1 260.7h0M578.7 245h0M580.9 234.7h0M588.8 262.5h0M575.5 259.8h0M577.3 251h0M555.4 243.5h0M583.4 254.1h0M555 238.2h0M586 239.9h0M581.2 263.6h0M561.9 259.7h0M564 255.9h0M563.1 262.7h0M579 252.5h0M587.2 253.5h0M582.5 259.2h0M593.2 251.3h0M582.1 230.8h0M562.9 253.2h0M573.6 244.7h0M580.9 242.2h0M585.8 237.8h0M586.4 233.6h0M564.8 257.9h0M580.7 235.7h0M581.7 238.8h0M582.1 249.1h0M559.4 255.6h0M582.4 237.7h0M581 253.5h0M578.8 254.1h0M575.9 240.4h0M569.5 234.7h0M581.4 235.8h0M580.8 256.6h0M579.8 240.8h0M585.3 247.5h0M561.9 258.3h0M585 257.3h0M579.8 256.8h0M568.8 226.2h0M577.3 250.8h0M563.7 263.9h0M583.6 245.4h0M578.5 251.1h0M575.1 242.1h0M587.5 259.7h0M580.9 252.4h0M577 256.2h0M569.6 249.2h0M584.1 238h0M586.6 238.1h0M576.3 239.7h0M572.4 264.6h0M578.1 239.5h0M578.9 260.8h0M562.1 248.2h0M583.2 254.8h0M562.2 248.1h0M560.3 255.1h0M585.6 256.8h0M556.7 233.1h0M567.9 239.8h0M580.9 232.9h0M586.6 258.2h0M567.1 240.1h0M578.6 242h0M569.5 246.8h0M579.3 257.1h0M576.7 255.3h0M583.5 240.8h0M577.1 254.5h0M586.6 254h0M580.8 260.6h0M581.4 254.8h0M576.6 256.1h0M577.9 241.3h0M573 256.7h0M559.3 233.2h0M580.9 252.3h0M570.2 247.2h0M578.1 253.7h0M557.7 252.1h0M577.1 253.9h0M581.9 254.6h0M578.8 241.1h0M582.2 252h0M584.9 252.9h0M577.8 236h0M577.8 247.4h0M570 259.2h0M575.6 237.7h0M564.9 258.7h0M571.1 249.9h0M572.1 254.4h0M559.4 247.6h0M583.9 254.7h0M561.2 250.5h0M564.8 244.2h0M559.6 248.8h0M579.1 232.3h0M563.9 233.7h0M595 253.7h0M578.5 247.1h0M581.6 258.6h0M582.5 233.7h0M564.5 273.7h0M559.8 253.8h0M579.5 237.1h0M561.5 263.8h0M565.9 256.9h0M561.5 258.4h0M563.1 251.8h0M589.6 234.2h0M561.4 252.9h0M562.4 251.3h0M562.3 262.8h0M576.7 251.7h0M583.8 238.5h0M575.2 244.3h0M566.7 260.6h0M582.6 237.7h0M568.7 246.6h0M581.2 252.4h0M583.7 253.4h0M563.9 256.7h0M582.3 237.6h0M585.2 253.6h0M581.2 258.6h0M572.5 262.6h0M584.1 232.4h0M580.6 248.2h0M569.2 256h0M559.1 226.5h0M577 233.9h0M575.3 235.9h0M557.5 259.7h0M572 258.1h0M571.5 233.2h0M567.8 250h0M583.3 254.5h0M580.9 255h0M587.7 247.9h0M591.1 261.3h0M572.2 244.5h0M560.6 259.7h0M580.3 238.8h0M580.6 233.9h0M584 247.1h0M562.4 252.9h0M589.5 257.6h0M578.4 240.7h0M583 233.4h0M579.4 243.1h0M569.9 254.4h0M582.1 261.9h0M584.8 250.8h0M580.2 250.3h0M582.8 231.4h0M581 235.8h0M582.1 256.9h0M564.1 254h0M560.9 255.8h0M584.4 250.1h0M587 249.1h0M584.5 252.1h0M578.7 250.2h0M562.5 248.5h0M580.8 234.9h0M580.3 239.9h0M587.5 258.9h0M587.9 253.7h0M575.1 232h0M565.9 259.1h0M563 250h0M581.6 256.9h0M587.7 257.9h0M563.4 263.4h0M556.9 248.2h0M577.6 249.5h0M583.8 236.9h0M584 248.6h0M587.8 236.7h0M582.5 254.6h0M590.4 253h0M580.4 236.1h0M583.7 253.8h0M584.7 253.6h0M585.5 245h0M577.6 251.1h0M564.8 253.6h0M583.3 259.9h0M561.6 251.2h0M585.9 239.8h0M584.7 237.3h0M577.5 239h0M584.6 255.8h0M582.6 232.6h0M561.3 251.6h0M557.4 250.4h0M571.2 240.7h0M588.2 252.9h0M560.6 267h0M559 253.5h0M566.2 250.4h0M581.5 258.4h0M555 246.3h0M581.3 242.7h0M587.3 246.4h0M595 255.6h0M588.6 241.8h0M580.6 240.5h0M581.7 249.5h0M575.9 258.7h0M575.7 260.8h0M585.1 254h0M578.9 231.2h0M578.3 241.2h0M559.7 236.5h0M564.3 250.8h0M578.4 262.1h0M567.4 256.9h0M565.9 254.3h0M582.3 252.7h0M562.7 255.1h0M583 250.8h0M562.5 254.8h0M590.1 258.3h0M585.1 249.2h0M593.3 256.2h0M577.1 246.5h0M578.3 261.1h0M578.1 236.3h0M576.5 253.9h0M562.7 249.2h0M583.9 245.6h0M577.8 243.1h0M567.5 255.8h0M581 236.4h0M580 254.9h0M582.5 252.2h0M579.5 248.1h0M581.8 258.7h0M557.1 252.3h0M587.2 258.4h0M560.9 251h0M571.9 255.1h0M582.4 254h0M560.6 252.2h0M561.6 254.3h0M583.5 239h0M594.3 256.6h0M568.8 247.9h0M583.8 250.6h0M560.4 240.5h0M582.1 253.2h0M565.9 253.9h0M581.3 245.5h0M572.4 264h0M574.8 241.7h0M562.5 238.8h0M581.2 234.4h0M582.6 236.8h0M580.7 248.2h0M582.5 250.4h0M555.1 259.7h0M574.1 266.1h0M581.3 256.5h0M583.5 237.6h0M578.7 244.2h0M567.1 252.1h0M570.6 255.3h0M556.1 263.2h0M583.7 236.3h0M560.6 249.6h0M573.4 237h0M586.1 238.6h0M560 253.3h0M581.7 257.6h0M561 256.9h0M555.2 250.9h0M584 235.3h0M565.6 250.1h0M587.2 258.2h0M583.3 235.8h0M578.8 257.9h0M577.8 256.2h0M573.4 253.1h0M579.3 247.6h0M579.7 255.3h0M586 236h0M583.1 234.5h0M583.7 250h0M561.8 248.3h0M585.2 240.6h0M557 261.9h0M585.6 253.9h0M576.1 239.2h0M578.7 254.8h0M561.6 255.1h0M583.5 238.9h0M567 237.8h0M567.6 253.4h0M580.7 235.9h0M566.1 261.2h0M564.5 255.2h0M578.8 233.2h0M563 256.3h0M583.9 256.1h0M588.6 246.4h0M560 257.8h0M573.8 255.9h0M559.4 271.3h0M586 256.7h0M578.1 247.2h0M578.8 255.8h0M559.3 254h0M559.4 257h0M558.4 243.9h0M573.2 257.1h0M567.5 260.1h0M591.5 261.5h0M560.2 257h0M561 250.9h0M578.7 240.1h0M583.3 248.5h0M580.3 253.4h0M562.9 253.9h0M579 236h0M579.1 237.1h0M559.2 254.3h0M557.6 250.6h0M571 243.9h0M575.2 253.5h0M581.2 237.6h0M580.9 236.2h0M558.9 256h0M586.1 254.1h0M579.3 260h0M575.5 241.7h0M583 254.1h0M572.1 248.2h0M567 250.2h0M577.5 249.6h0M584.8 233.1h0M561.4 250.7h0M581.3 235.6h0M561.3 258.6h0M558.2 251.6h0M585 237.4h0M575.6 239.4h0M558.6 272.9h0M584.6 247.9h0M562.3 255.3h0"/></defs>
<g clip-path="url(#cp6)" fill="none" stroke-linecap="round"><use href="#pcp6" stroke="#2a3aa8" stroke-width="0.8"/><g filter="url(#dn1)"><use href="#pcp6" stroke="#000" stroke-width="0.6"/></g></g>
<rect x="574.8" y="224.8" width="24" height="16" fill="none" stroke="#777" stroke-width="0.7"/>
<rect x="553.2" y="246.3" width="15.8" height="17.9" fill="none" stroke="#777" stroke-width="0.7"/>
<rect x="576.4" y="246.2" width="22.4" height="17.8" fill="none" stroke="#777" stroke-width="0.7"/>
<text x="604.2" y="227.9" font-size="8.6" text-anchor="end" fill="#1e1e1e">27.3</text>
<text x="550.4" y="274.8" font-size="8.6" fill="#1e1e1e">10.9</text>
<text x="604.2" y="274.8" font-size="8.6" text-anchor="end" fill="#1e1e1e">57.9</text>
<text x="606.8" y="191" font-size="9.2" text-anchor="middle" fill="#1e1e1e" transform="rotate(90 606.8 191)">Untreated</text>
<text x="606.8" y="250" font-size="9.2" text-anchor="middle" fill="#1e1e1e" transform="rotate(90 606.8 250)">iMDK-treated</text>
<text x="414.6" y="205.3" font-size="8.2" text-anchor="middle" fill="#1e1e1e" transform="rotate(-90 414.6 205.3)">CD8 - APC-eFluor780</text>
<line x1="411.2" y1="270.5" x2="411.2" y2="256.3" stroke="#111" stroke-width="1.3"/>
<path d="M411.2 250.3L415.4 257.3L407 257.3Z" fill="#111"/>
<line x1="422.5" y1="285.8" x2="516.5" y2="285.8" stroke="#111" stroke-width="1.3"/>
<path d="M523 285.8L515.5 289.1L515.5 282.5Z" fill="#111"/>
<text x="525.9" y="288.6" font-size="8.8" fill="#1e1e1e">CD3 - PECy7</text>
<text x="375.6" y="311.9" font-size="9.1" text-anchor="middle" fill="#1e1e1e">Untreated</text>
<text x="439.2" y="311.9" font-size="9.1" text-anchor="middle" fill="#1e1e1e">iMDK-treated</text>
<rect x="347.7" y="314.4" width="55" height="55" fill="none" stroke="#d4d4d4" stroke-width="0.7"/>
<path d="M345.7 318.4h2M343.7 317.4l0.9 -0.5M351.7 369.4v2M345.7 330.15h2M343.7 329.15l0.9 -0.5M363.45 369.4v2M345.7 341.9h2M343.7 340.9l0.9 -0.5M375.2 369.4v2M345.7 353.65h2M343.7 352.65l0.9 -0.5M386.95 369.4v2M345.7 365.4h2M343.7 364.4l0.9 -0.5M398.7 369.4v2" stroke="#9a9a9a" stroke-width="0.6" fill="none"/>
<line x1="346.1" y1="357.3" x2="347.7" y2="357.3" stroke="#111" stroke-width="1.4"/>
<line x1="357.2" y1="370.2" x2="360.2" y2="370.2" stroke="#222" stroke-width="1.3"/>
<defs><filter id="dn3" x="0" y="0" width="100%" height="100%" color-interpolation-filters="sRGB"><feGaussianBlur stdDeviation="1"/><feColorMatrix type="matrix" values="0 0 0 1 0 0 0 0 1 0 0 0 0 1 0 0 0 0 1 0"/><feComponentTransfer><feFuncR type="table" tableValues="0.165 0.169 0.173 0.173 0.176 0.180 0.184 0.192 0.204 0.212 0.224 0.231 0.227 0.224 0.220 0.247 0.310 0.373 0.431 0.522 0.643 0.769 0.894 0.941 0.949 0.957 0.961 0.949 0.937 0.918 0.882 0.847"/><feFuncG type="table" tableValues="0.212 0.227 0.243 0.259 0.275 0.290 0.306 0.353 0.408 0.463 0.514 0.569 0.620 0.671 0.722 0.757 0.765 0.773 0.780 0.796 0.820 0.843 0.871 0.827 0.753 0.682 0.588 0.447 0.302 0.200 0.145 0.086"/><feFuncB type="table" tableValues="0.627 0.651 0.678 0.702 0.729 0.753 0.780 0.796 0.808 0.824 0.835 0.843 0.827 0.812 0.792 0.729 0.608 0.482 0.357 0.267 0.227 0.192 0.153 0.133 0.125 0.118 0.110 0.110 0.110 0.110 0.106 0.106"/><feFuncA type="discrete" tableValues="0 0 0 0 0 1 1 1 1 1 1 1 1 1 1 1 1 1 1 1 1 1 1 1 1 1 1 1 1 1 1 1 1 1 1 1 1 1 1 1"/></feComponentTransfer></filter></defs>
<clipPath id="cp7"><rect x="348.1" y="314.8" width="54.2" height="54.2"/></clipPath>
<defs><path id="pcp7" d="M384.5 357.1h0M371.6 355h0M367.9 355.1h0M358.1 358.2h0M357.5 357.7h0M355.2 353.8h0M368.1 355.3h0M378.5 355.9h0M357.6 356.9h0M362.8 358.6h0M362.1 355h0M367.2 356.1h0M375.5 355.9h0M379.9 359.6h0M357.2 357h0M365.2 356.8h0M374.6 356.8h0M369 353.3h0M359.4 355.7h0M358.3 357.8h0M374.3 354.9h0M364.1 356.2h0M357 356.2h0M357.9 354.4h0M374.1 355.7h0M354.1 354.9h0M360.9 356.3h0M367.9 358.5h0M357.7 356.2h0M383 355.6h0M357.6 356.1h0M378.4 355.8h0M358.2 355.6h0M360.1 356.7h0M378.2 356.8h0M365.2 356.8h0M350 355.5h0M373.6 356h0M381.6 356.6h0M365.3 355.7h0M379.9 353.1h0M358.1 358.7h0M362 354h0M354.4 355.4h0M376.7 357.7h0M366.9 356.5h0M366.4 354.7h0M358.4 356.8h0M371.1 356.9h0M352.5 356.4h0M369 357h0M373.5 357.5h0M365.1 358.1h0M365.9 356.9h0M357.7 355.6h0M357.6 357.2h0M356.1 357.1h0M365.5 354.7h0M369.3 357.9h0M355.5 357.3h0M368.1 359h0M363 353.9h0M361.5 358h0M356 356.3h0M370.5 358.9h0M356.4 356.2h0M361.3 356.6h0M366.5 356.3h0M364 358.6h0M379.2 353.5h0M375.6 356.3h0M376.5 354h0M371.8 357.7h0M359.1 357.2h0M387.7 355.8h0M376.4 354h0M363.1 357.3h0M360.8 355.3h0M371.9 354.8h0M358.6 356h0M367 359.2h0M357 357.2h0M368.7 357.5h0M360.9 356.2h0M364.6 356.9h0M358.2 356.9h0M376.9 356.3h0M373.1 356.7h0M356.7 355.8h0M364.9 357.6h0M372.2 355.5h0M373.8 356.7h0M387 356.8h0M374 357.6h0M374.5 356.9h0M381.8 358h0M364.4 356.5h0M369.9 356.4h0M364.7 358.1h0M380.4 357.5h0M365.1 356.3h0M373.5 357.1h0M362.7 356.5h0M363.9 354.6h0M374 355h0M382.7 357.1h0M366.3 355.8h0M362.6 360.3h0M359.7 356.2h0M361.7 356.6h0M360 357.4h0M375.6 356.8h0M392.2 355.9h0M374 356.2h0M382.1 356h0M362.8 356.9h0M358 357.5h0M373.6 356.9h0M364.3 356.5h0M365.5 357.6h0M383.7 356.4h0M366.1 357.7h0M364.9 357.7h0M386 354h0M376.7 356.7h0M362.1 355.6h0M358.9 354h0M358.4 357.5h0M359.7 356.1h0M360 355.9h0M382.7 355.6h0M368.4 354.2h0M373.5 356.8h0M362.9 357.3h0M371 357.4h0M354.4 354.4h0M380.9 356.7h0M353.5 357h0M363.6 355.8h0M357.6 356.4h0M357.6 357.2h0M356.1 356.3h0M368.6 358.2h0M374.3 357h0M361.1 354.5h0M371.2 357.1h0M355.2 354.2h0M359.8 356.2h0M353.1 355.6h0M378.7 353.8h0M361.5 356.1h0M367.5 357.1h0M358.2 354.3h0M354.8 359.3h0M376.8 350.4h0M365.4 357.2h0M372.4 358.7h0M362 358.5h0M359.3 356.3h0M360.7 356.6h0M387.6 356.2h0M373.9 356.5h0M369 355.9h0M368.3 360.1h0M362.5 355.5h0M370.2 356.1h0M358.1 354.3h0M366.9 354.4h0M358.7 357.5h0M363.7 358.9h0M360.3 357.1h0M372.6 357.1h0M358 356.5h0M360.7 356.3h0M371.1 354h0M358.3 358.1h0M373.2 355.4h0M363.8 356.8h0M376.4 358.6h0M370.6 356.4h0M367.1 357.1h0M371.6 358.2h0M381.1 356.6h0M354.2 356.8h0M364.6 357.7h0M364.4 356.2h0M379.9 354.2h0M358 356.1h0M377.9 357h0M360.2 356.5h0M360.9 355.8h0M378.6 358.1h0M360.2 355.5h0M366 355.8h0M355.3 356.4h0M355.6 359.2h0M370.6 358.4h0M360.1 356.4h0M381 356.2h0M367.1 355.5h0M378.1 356.1h0M359.3 355h0M366.3 357h0M367.4 357.1h0M371.7 356.3h0M355.6 354h0M378.1 354.7h0M364.9 356.1h0M375.3 357.9h0M355.7 358h0M366 354.5h0M379.2 355.4h0M383.4 354.4h0M363.7 356.7h0M356.9 357.9h0M369.9 357.9h0M377.6 354.3h0M359.5 355.2h0M382 356.9h0M359 356.1h0M358.1 356h0M364.1 354.6h0M371.4 354.7h0M378 356.6h0M364.4 358.4h0M361.7 356.3h0M371.8 357.4h0M374 356.8h0M371.2 358.6h0M372.2 355.9h0M362 355.9h0M373.8 355.3h0M370.5 353.3h0M359.3 357h0M365.9 357.7h0M370.7 356.2h0M359.7 357.3h0M360.8 357.5h0M361.9 356.5h0M362.4 359.3h0M358 356h0M353.3 356.8h0M370.8 356.5h0M378.3 354.7h0M359.3 356.7h0M361.4 355.3h0M385.4 355.8h0M358.2 356.7h0M359.2 356.7h0M371.1 356.4h0M361.7 356.8h0M361.9 356.9h0M353.5 357h0M381.1 355.2h0M387.5 357.4h0M378.1 356.9h0M358.9 356.1h0M363.7 355.1h0M361.6 353.4h0M358.5 358h0M357.8 358h0M378.7 355.1h0M380 356.3h0M361.1 356.3h0M365.6 356.3h0M351 358.9h0M360.1 355.3h0M374.9 355.5h0M379.2 355.6h0M373.7 356.3h0M360.8 357.4h0M357.1 354.3h0M362 354.1h0M369.4 356.3h0M361 356.9h0M364.6 355.8h0M375 354.6h0M353 359h0M372.7 357h0M364 354.6h0M358.1 354.9h0M379.7 356.1h0M359.9 355.4h0M365 357.3h0M361.8 354.7h0M375.4 355.6h0M369.1 354.8h0M365.5 357h0M371.8 357.1h0M383 354.6h0M371.1 358h0M360.4 353.9h0M358.1 358h0M366.1 356h0M364.5 355.4h0M360.9 357h0M367.2 356.6h0M368 356.5h0M372.9 355.8h0M356.8 357.2h0M370.6 358.3h0M373.7 354.1h0M365 356.1h0M371.9 354.9h0M361 356.8h0M370.8 356.7h0M371.4 356.5h0M358.4 356.5h0M376.4 357.1h0M371.6 355.7h0M362.3 356.2h0M385.2 355.3h0M355.6 356.3h0M351.7 354.5h0M361.4 355.4h0M360.5 355.9h0M353.5 353.3h0M364.1 355.8h0M358.9 357.1h0M369.7 353.9h0M353.9 357.5h0M357.3 358h0M377.5 357.4h0M355.5 355.5h0M362.2 357.5h0M378.6 357.4h0M360.4 354.8h0M361.8 355.5h0M364.7 356.4h0M378.4 357.7h0M354.8 357.2h0M370.7 356.6h0M366.6 359.4h0M364.3 355.8h0M356 357.3h0M361.2 356h0M355.2 356.2h0M362.3 357.8h0M359.7 357.6h0M363.4 356.2h0M366.9 356.5h0M356.9 357.5h0M363.2 358.5h0M354 356h0M358.3 355.5h0M380.4 358.2h0M385.4 355.9h0M358.7 354.4h0M371.3 356.5h0M358.4 358.5h0M358.9 356.1h0M367.8 358.1h0M376.6 355.7h0M353.3 359.6h0M357 355.3h0M362.6 355.1h0M363.4 355.5h0M357.3 355h0M353.2 357.7h0M364.3 358.5h0M355.3 358.9h0M361.7 357.4h0M363.4 356.8h0M376.2 356.8h0M363.7 355.5h0M379.5 356.4h0M372.3 356.6h0M359.6 357.6h0M362.9 356.9h0M359.5 356.8h0M355.5 355.9h0M374.5 354.7h0M377.8 354h0M362.8 355.7h0M359.7 355.5h0M375.2 357.2h0M365.6 354.4h0M368.4 358.2h0M364.2 360h0M375.6 356.3h0M359.2 354.7h0M356.8 355.4h0M383.4 355.9h0M368.9 355.3h0M381.9 357.3h0M363.6 354.9h0M357.2 358.3h0M360.8 357.5h0M362.2 356.4h0M360.6 356.2h0M360.7 358h0M352.3 356.8h0M369.1 356.9h0M375.2 357.9h0M366.4 360.5h0M374.6 357h0M364 359.2h0M356.4 356.5h0M374.2 356.8h0M356.9 357h0M366.1 354.9h0M367.3 356.5h0M364.6 355.1h0M379.3 356.7h0M360.1 357.1h0M362.5 356.2h0M382 355.5h0M366.6 354.1h0M364.8 356h0M356.9 354.4h0M358.4 356.5h0M359.9 357.2h0M365.4 357.5h0M369.2 355.9h0M372.8 357.6h0M376.5 354.7h0M370.3 355.1h0M358.6 356.3h0M374.9 358.4h0M360.6 355.6h0M358.2 358.4h0M365.1 358h0M360.3 357h0M379.8 358.3h0M375.7 357.7h0M376.9 355.8h0M355.2 353.5h0M375.5 356.7h0M360.7 357.8h0M364 357.4h0M363.4 357.7h0M358.8 358.7h0M357.1 356.2h0M367 358.2h0M369.7 356h0M365.8 356.2h0M360.4 357.8h0M360.5 357.9h0M389.2 355.7h0M363.1 357.4h0M371.7 357.7h0M370.2 356.6h0M353.9 353.9h0M361.5 358.4h0M361.9 355.4h0M359.9 355.2h0M358.2 357.1h0M377.9 356.8h0M374.5 358h0M362.6 355.6h0M357.5 358h0M373.1 355h0M366.8 354.8h0M361 355.8h0M358 358.4h0M363.7 356.9h0M366 354.2h0M387.5 357h0M360.9 356.6h0M380.4 353.1h0M359.6 355.3h0M362.6 353.7h0M359.2 355.8h0M358.4 355.4h0M380.1 356.9h0M357 356.2h0M363.3 356.4h0M373.1 356.6h0M365.6 356.4h0M371.5 355.5h0M362.6 354h0M372.6 356.6h0M358.5 355.8h0M370.9 357.7h0M363.6 355.3h0M374.8 354.8h0M369.1 356.6h0M364.4 356.8h0M381.7 357.6h0M369.9 355.8h0"/></defs>
<g clip-path="url(#cp7)" fill="none" stroke-linecap="round"><use href="#pcp7" stroke="#2a3aa8" stroke-width="0.8"/><g filter="url(#dn3)"><use href="#pcp7" stroke="#000" stroke-width="0.6"/></g></g>
<rect x="362.3" y="350" width="38.5" height="13.3" fill="none" stroke="#777" stroke-width="0.7"/>
<text x="402.1" y="343.6" font-size="9.2" text-anchor="end" fill="#1e1e1e">53.8</text>
<rect x="412.4" y="314.4" width="55" height="55" fill="none" stroke="#d4d4d4" stroke-width="0.7"/>
<path d="M410.4 318.4h2M408.4 317.4l0.9 -0.5M416.4 369.4v2M410.4 330.15h2M408.4 329.15l0.9 -0.5M428.15 369.4v2M410.4 341.9h2M408.4 340.9l0.9 -0.5M439.9 369.4v2M410.4 353.65h2M408.4 352.65l0.9 -0.5M451.65 369.4v2M410.4 365.4h2M408.4 364.4l0.9 -0.5M463.4 369.4v2" stroke="#9a9a9a" stroke-width="0.6" fill="none"/>
<line x1="410.8" y1="357.3" x2="412.4" y2="357.3" stroke="#111" stroke-width="1.4"/>
<line x1="421.9" y1="370.2" x2="424.9" y2="370.2" stroke="#222" stroke-width="1.3"/>
<clipPath id="cp8"><rect x="412.8" y="314.8" width="54.2" height="54.2"/></clipPath>
<defs><path id="pcp8" d="M438.2 355.5h0M427 355.9h0M421.8 356.5h0M436.7 356.5h0M424.5 353.4h0M424.1 353.6h0M417.7 355.6h0M438.3 355.4h0M426.6 355.1h0M423.9 356.6h0M451.7 356.8h0M428.6 357.3h0M425.8 356.1h0M418.3 357.9h0M435.3 354.9h0M426.9 357.7h0M435.6 356.6h0M427.8 360.6h0M430.5 355.4h0M428.7 357.1h0M432.6 358h0M436.2 357h0M426.1 358.1h0M430.2 357.5h0M423.7 356h0M450.1 357.5h0M430.8 351.9h0M423.2 354.6h0M419.8 355.8h0M424.1 357h0M424.9 356.8h0M423.1 358h0M438.1 359.3h0M436.7 356.6h0M433.2 356.5h0M423.1 359.3h0M426.3 353.5h0M423.8 357.7h0M425 357h0M427.9 355.7h0M441.8 357.2h0M425.2 354.5h0M438.7 354h0M430.2 354.4h0M438.9 354.7h0M425.3 356.5h0M434.3 354.4h0M421.9 357.3h0M437.9 357.5h0M427.3 356.7h0M423.5 356.3h0M441.3 355.7h0M430 355.7h0M424.9 358.1h0M432 355h0M426.9 357.2h0M423 358.8h0M428.7 358h0M438.9 356.2h0M427.1 353.8h0M434.8 358.4h0M440.6 356h0M428.2 359.3h0M438.5 356h0M417.2 354.8h0M423.8 355.4h0M433.8 354.9h0M433.1 357h0M436 355.1h0M422.4 356.9h0M427.6 356.8h0M425.4 355.3h0M424 355.3h0M432.6 355.8h0M428.5 356.8h0M422.6 359.3h0M422.3 357h0M424.1 356.3h0M440 356.6h0M441.8 354.2h0M428 356.3h0M424 355.7h0M420 358.5h0M428.7 357h0M429.4 356.1h0M433.4 357.5h0M432.6 356.1h0M416.8 356.1h0M440.4 355.6h0M429.7 356h0M422.3 356.3h0M424.2 356.5h0M421.9 356.3h0M435.2 355.3h0M421.6 353.8h0M427.7 353.7h0M444.2 359.2h0M422.8 357.3h0M428.3 355.7h0M419.1 355.1h0M428 355.2h0M433.3 355.1h0M421.9 355.9h0M427.6 355.9h0M422.4 356.9h0M432.4 358.8h0M424.1 357.5h0M436 355.9h0M427.2 358h0M443.8 356.8h0M418.4 355.9h0M425.9 355.2h0M420 354.2h0M447.3 356.2h0M441.2 354.6h0M429.2 357.3h0M430.4 356.5h0M443.2 359.9h0M430.1 358h0M421.8 356h0M425 357.8h0M441.5 359h0M427.3 357.7h0M427.2 358.4h0M434.7 355.3h0M434.4 358h0M440.3 356.9h0M424.4 357.8h0M418.1 359.3h0M433.3 355.6h0M424.1 356.4h0M426.8 358.7h0M432.4 355.5h0M445.5 356.2h0M437.5 356.5h0M432 353.8h0M431.5 356.4h0M419 354.4h0M425.4 353.9h0M427.5 353.9h0M431.4 355.9h0M437.3 357.1h0M418.3 356h0M419.1 356.3h0M423.3 355.6h0M445 357.1h0M439.7 357.1h0M426.8 358.5h0M429.4 353.8h0M441.1 356.2h0M428.4 357.4h0M420.9 359.1h0M417.1 358.3h0M427.4 355.8h0M418.9 358.6h0M421.8 357.3h0M439 354.5h0M426 357.5h0M427.6 357.6h0M440.4 356.7h0M431.2 355.7h0M423.2 355h0M428.7 356.3h0M428.2 354.4h0M425.6 356.2h0M423.5 357.7h0M420.2 355.9h0M419.6 356.8h0M440.2 356.9h0M432.2 353.8h0M427.1 357h0M432 358.7h0M424.8 356.3h0M428.3 358.9h0M416.3 358.7h0M425.7 354.6h0M417.8 354.7h0M431.8 357.2h0M433.8 357.2h0M434.5 355.2h0M421.1 355.1h0M436.6 357.6h0M425.4 354.8h0M444.9 357.3h0M432.4 358.3h0M440.2 355.5h0M426.3 357.6h0M427.8 355.4h0M438.3 355.9h0M425.9 357.4h0M430.6 356.1h0M431.4 356.5h0M446.3 357.5h0M440.1 357.3h0M427.5 354.3h0M425.9 355.3h0M420.7 355.3h0M422 356.5h0M422.5 355.7h0M429.4 356.8h0M436.5 356.3h0M421.5 357.9h0M435.7 357.2h0M436.2 358.2h0M450.3 358.7h0M421.7 356.3h0M420 357.1h0M437.8 357.8h0M435.1 357.2h0M436 353.4h0M425.2 356.7h0M425.1 356.1h0M430.9 356.4h0M440.1 353.5h0M428.2 358.4h0M429.9 358.9h0M444.6 357.6h0M422.6 355.5h0M431.2 355.6h0M421.9 357h0M436.5 354h0M422.5 355.9h0M423.8 355.6h0M440.4 354.1h0M425.4 355.4h0M436.1 357.3h0M425.4 356h0M453.7 355.3h0M423.8 357.2h0M429.4 355.3h0M430.4 359.2h0M426.9 355.4h0M436.3 356.3h0M430.2 356h0M426.5 357.5h0M419.9 354.5h0M422.2 355.8h0M445.9 355.6h0M425.9 356.9h0M420.2 356.8h0M417.9 356h0M446.7 354.4h0M428.2 356.4h0M438.5 356.5h0M439.1 354.3h0M428.3 357.2h0M419.5 355.9h0M427.3 353.8h0M446.1 356.8h0M425.5 358.6h0M428 357.2h0M417.7 356.1h0M436.5 354.3h0M426.4 354.8h0M422.5 357.7h0M424 354.5h0M423.8 354.1h0M428 356.2h0M425.5 355.4h0M422.7 358h0M442.5 356.7h0M431 356.5h0M430.6 358.1h0M437.9 356.8h0M431.5 356.6h0M424.5 355.7h0M423.7 354.9h0M432.6 356.9h0M421.1 356.2h0M429.2 353.9h0M426.6 358.2h0M427 355.6h0M429.5 353.9h0M426.9 356.7h0M428.7 357.6h0M432.9 357.2h0M438.4 358.3h0M434.1 355.6h0M419.9 356.6h0M419.1 353.7h0M438 357.6h0M418.3 352.8h0M441 356.9h0M436.6 357.3h0M429.8 358.5h0M425.5 353.5h0M434.3 356h0M423.3 356.7h0M436.6 359h0M424.6 357.3h0M425.7 356.3h0M420.2 354.9h0M422.1 356.1h0M429.6 355.5h0M425.1 355.6h0M423.8 359.7h0M438.8 355.3h0M437.3 355.8h0M429.3 357.9h0M426.6 356h0M438.3 356.3h0M417.5 357.2h0M435.1 357.2h0M438.4 354.9h0M426 356.1h0M420.2 356.8h0M438.9 354.5h0M430.4 355h0M428.8 355.3h0M421.2 356h0M428.1 358h0M427.3 357h0M425.9 355.7h0M428 356h0M426.1 355h0M420 356.5h0M427.8 356.1h0M433.3 354.2h0M423.3 355.2h0M430.9 355.7h0M426.5 360.6h0M421.7 355.4h0M443.8 356.3h0M445.8 356.3h0M423.8 355.5h0M417.4 356.3h0M418.4 355.8h0M441.4 354.9h0M424.7 358.6h0M419.9 356.4h0M420 358.5h0M436.9 356.4h0M428.9 357.1h0M423.9 357.6h0M438.1 358.1h0M430.8 357.4h0M417.5 356.2h0M420.9 358h0M417.4 353.8h0M425.5 356.7h0M430.4 356h0M420.7 356.1h0M439.3 358.3h0M431.7 354h0M431.6 357.5h0M438.2 356.4h0M432.1 358.7h0M429.1 355.9h0M439.1 356.8h0M438.3 354.3h0M442.5 357.6h0M426.7 354.4h0M426.8 358.3h0M432.1 353.7h0M447.9 355.5h0M423.1 356.5h0M422.5 357.4h0M435.5 357.1h0M422 358.2h0M437.4 354.6h0M440.8 354.2h0M430.6 357.6h0M428 355.6h0M438.6 356.3h0M422.7 355.5h0M417.4 354.9h0M427 356.6h0M426.4 357.6h0M450.3 356h0M433.2 356h0M427.2 357.2h0M421.2 356.6h0M421.5 355.9h0M439.1 354h0M417 354.8h0M438.7 357.5h0M428.2 356h0M428.9 354.3h0M421.7 355.8h0M441.5 355.1h0M426.5 356.7h0M430.7 354.5h0M434.7 357.7h0M433.9 354.6h0M420.9 359.4h0M441.9 357h0M438.8 355.1h0M432.7 357h0M424.6 358.1h0M425.4 355.5h0M437.2 357.1h0M436.9 356.4h0M439.6 357.5h0M422 355.2h0M435.3 356h0M425.1 353h0M434.5 358.1h0M417.8 357.2h0M429 356.1h0M433.1 357.9h0M432 353.8h0M434.5 355.7h0M425.5 356.9h0M427.6 357.1h0M424.2 357.8h0M437 356h0M440.4 354.6h0M434.6 358h0M427.5 356.4h0M420.8 356.5h0M427.4 355.6h0M423.4 355.9h0M427.4 356.1h0M428 358.7h0M435.4 354.8h0M425.8 356.9h0M437.2 359.8h0M432.1 359.5h0M444.3 359.1h0M434.2 356.1h0M422.2 354.9h0M432.8 354h0M426 352.7h0M428.6 356.3h0M427.2 354.4h0M422.5 356.5h0M429.7 354h0M427.1 357.7h0M430.3 359.9h0M423 357.7h0M424.6 355.7h0M427.1 355.1h0M447.9 356.2h0M425 358.9h0M421.6 357.5h0M426.5 357.2h0M423.9 356.7h0M432.9 355.8h0M427.7 353.8h0M426.8 357.4h0M429.8 354.7h0M428.1 355.9h0M420.7 355.4h0M439 357.7h0M424.2 356.7h0M421.4 354.5h0M448.2 354.3h0M422.4 356.2h0M430.5 360h0M432.9 352.7h0M427.9 355.4h0M437.3 354.7h0M428.1 355.3h0M421.2 356.4h0M438.9 356.7h0M441.7 355.8h0M438.6 358.4h0M425 358.3h0M428.7 355.9h0M422.5 358.9h0M442.7 354.6h0M426.1 358.3h0M446.6 358.2h0M439.5 357.3h0M434 361.2h0M431.5 354.5h0M423.4 358.9h0M435 358.8h0M421.9 358.6h0M437.4 360.1h0M436 352.1h0M426.5 355.6h0M430.1 353.1h0M435.6 355.6h0M429.7 355.5h0M435 356.8h0M439.7 354.9h0M432.1 358.2h0M424.9 356.4h0"/></defs>
<g clip-path="url(#cp8)" fill="none" stroke-linecap="round"><use href="#pcp8" stroke="#2a3aa8" stroke-width="0.8"/><g filter="url(#dn3)"><use href="#pcp8" stroke="#000" stroke-width="0.6"/></g></g>
<rect x="427" y="350" width="38.5" height="13.3" fill="none" stroke="#777" stroke-width="0.7"/>
<text x="466.8" y="343.6" font-size="9.2" text-anchor="end" fill="#1e1e1e">32.7</text>
<text x="470.4" y="347.5" font-size="9.5" fill="#1e1e1e">HN372</text>
<rect x="347.7" y="373.6" width="55" height="55" fill="none" stroke="#d4d4d4" stroke-width="0.7"/>
<path d="M345.7 377.6h2M343.7 376.6l0.9 -0.5M351.7 428.6v2M345.7 389.35h2M343.7 388.35l0.9 -0.5M363.45 428.6v2M345.7 401.1h2M343.7 400.1l0.9 -0.5M375.2 428.6v2M345.7 412.85h2M343.7 411.85l0.9 -0.5M386.95 428.6v2M345.7 424.6h2M343.7 423.6l0.9 -0.5M398.7 428.6v2" stroke="#9a9a9a" stroke-width="0.6" fill="none"/>
<line x1="346.1" y1="416.5" x2="347.7" y2="416.5" stroke="#111" stroke-width="1.4"/>
<line x1="357.2" y1="429.4" x2="360.2" y2="429.4" stroke="#222" stroke-width="1.3"/>
<clipPath id="cp9"><rect x="348.1" y="374" width="54.2" height="54.2"/></clipPath>
<defs><path id="pcp9" d="M358.1 416.8h0M363.9 415.2h0M373.2 416.4h0M358.3 416.2h0M363.1 414h0M359.4 414.8h0M366.4 412h0M369.9 416.7h0M354.5 416.3h0M361.5 415.3h0M360.7 414.9h0M357.5 414.1h0M358 413.1h0M362.3 413.9h0M387.1 414.9h0M369 415.6h0M362.6 414.2h0M350.2 411.5h0M366.2 419.3h0M356.3 413.7h0M377.6 411.2h0M362.8 414.5h0M356.9 416.1h0M354.8 412.8h0M365 413.7h0M357.6 414.5h0M363.1 413.8h0M367.6 412.9h0M354.8 414.3h0M372.8 414.3h0M360.2 414.2h0M359.8 415.3h0M371.1 412.6h0M375.3 414.9h0M374.9 415.5h0M355.8 415.4h0M369.9 412.1h0M361.6 415.1h0M362.2 414.6h0M363.8 416.1h0M357.8 414.8h0M359.9 413.2h0M362.2 412.6h0M364.5 418.2h0M363.5 416.4h0M353 415.6h0M357.2 415.1h0M355.8 415.5h0M359 414.9h0M359.2 415.2h0M358.5 417.4h0M361.4 416.2h0M372.2 415h0M368 415.7h0M363.5 413.3h0M361.9 415.9h0M361.4 417h0M358.6 416.3h0M356.5 414.8h0M355.9 415.7h0M360.8 414.4h0M365.5 412.2h0M367.6 414.2h0M374.9 420.1h0M368.7 415.9h0M355.5 413.8h0M364.5 416.4h0M354.3 415.9h0M357.2 417.4h0M361.6 416.2h0M358.1 417.9h0M359.4 414h0M373.3 414.5h0M365 416.2h0M366.1 414.9h0M358.7 415.4h0M359.9 414.7h0M361.5 415.7h0M369.4 412.9h0M357.1 414.9h0M370.3 414.1h0M361.9 416.7h0M355.7 413.5h0M353.7 415.4h0M357.5 417.2h0M367.5 417.2h0M360 415.1h0M366.5 415h0M353.7 416h0M366.8 414.6h0M356.4 414.1h0M356.6 416h0M363.6 413.7h0M360.3 416.8h0M361.7 416h0M369 415.4h0M355.6 415.2h0M360.1 417h0M374.6 416.5h0M358 415.9h0M366.1 415.6h0M357.6 415h0M359.3 413.6h0M372.3 418.4h0M372.3 415.5h0M357.1 416.4h0M357.8 413.4h0M360.6 414.1h0M364.5 416.4h0M360.8 413.2h0M361 416.4h0M363.7 414.7h0M361.8 413.5h0M373.6 415.5h0M359.2 415.8h0M365 413.7h0M362.7 413.9h0M365.2 414.2h0M355.8 416.6h0M361 415.1h0M371 414.5h0M359.3 415.2h0M358.1 415.4h0M362.5 413.9h0M359.7 416.4h0M365.9 415.7h0M353.6 416.3h0M356.8 413.9h0M361.3 415.3h0M358.1 416.6h0M354.9 414h0M382.1 415.8h0M364.6 414.9h0M354.9 415.1h0M363.7 414.6h0M357 416h0M381.7 413.3h0M368.6 412.7h0M355.1 416.9h0M370.9 412h0M363.7 414.6h0M369.8 414.7h0M357.8 415.4h0M358.4 410.4h0M369.8 412.7h0M371.1 416.3h0M357.7 416.3h0M365.2 414.2h0M368.6 414.4h0M357.5 414.5h0M361.6 415.1h0M364.6 415.1h0M363.6 415.9h0M357 414.4h0M358.7 413.8h0M360.9 415.6h0M359.9 417.2h0M358.9 415.1h0M360.7 412.7h0M362.3 414.7h0M361.8 412.2h0M366.4 415.8h0M352.6 418.3h0M358.7 416.1h0M358.2 414.9h0M359.4 414.6h0M358.5 416.7h0M376.7 415.6h0M360.9 416h0M356.5 416.1h0M358.3 415.6h0M361.7 414.7h0M371.3 416.1h0M366.6 417.7h0M361.1 416.2h0M352.7 415.3h0M362.3 414.9h0M359.6 416.8h0M359.4 414.2h0M384 415.8h0M359.4 414.6h0M364.4 413.2h0M361.4 413.4h0M360 414.2h0M367.9 415.1h0M360.2 414.7h0M367.1 416.9h0M364.6 412h0M357.1 416.8h0M360.3 411.6h0M359.6 413.8h0M384.2 417.2h0M352.9 413.8h0M372.7 413.9h0M372.6 414.7h0M376.1 415.7h0M362.9 415.4h0M357.6 415.9h0M359.5 413.8h0M379.3 417.7h0M363.7 419.3h0M366.4 415.1h0M366.3 415h0M357.9 413.2h0M370.6 415.7h0M359.5 418.2h0M359.4 412.8h0M352.7 413.9h0M361.1 414.2h0M352.3 414.8h0M364 412.9h0M359.7 413.3h0M359.4 415.7h0M360.8 416.6h0M359.2 412.3h0M363.4 417.4h0M357.5 415.6h0M361.6 415.5h0M359.6 416.7h0M370.7 415.1h0M360.6 412.7h0M357 413.4h0M373.1 417.1h0M361.2 415h0M356.8 414.5h0M365.2 411h0M356.3 415.2h0M361.5 414.7h0M362.4 414h0M357.7 416.2h0M365.4 415.8h0M368.5 416.4h0M366.6 416.1h0M350.9 417.5h0M357.6 414.7h0M360.3 414.4h0M358.8 411.5h0M357.7 416.7h0M359.2 416.6h0M369.8 415.1h0M365.6 414.6h0M374.4 415.6h0M361.2 415.6h0M357.3 416.4h0M369.9 414h0M365.3 416h0M366.3 413.6h0M373.8 416.1h0M357.5 415.3h0M365.8 414.6h0M365.7 416.7h0M370 414.7h0M355.1 415.8h0M363.3 414h0M363.8 416.6h0M360.6 414.7h0M367 414.2h0M381.7 413.7h0M362 415.2h0M354.4 417.8h0M363.3 414.5h0M359.4 414.7h0M357.2 416h0M372.8 414.2h0M359.1 415.3h0M369.7 412.9h0M361.1 415.7h0M360.6 415h0M357.5 414.9h0M363.5 417.5h0M358.2 417.2h0M354.8 416.8h0M359.9 413.7h0M365.4 416.1h0M359 416h0M365.6 414.3h0M362 414.2h0M364.7 414.9h0M360.6 414.1h0M363.3 414.9h0M361 416.2h0M364 415.1h0M375.3 415.2h0M360.9 415.9h0M355.9 416.2h0M376.3 417.5h0M357.7 412.7h0M366.4 414.6h0M358.2 411.9h0M356.2 414h0M355.1 415.1h0M357.5 413.3h0M364.8 415.4h0M371.3 415h0M358.3 414.8h0M360.2 415.6h0M358.2 414h0M362.5 416.1h0M359 415.6h0M364.4 413.7h0M366.3 414.6h0M356.9 416.6h0M357.2 418.4h0M363.6 419.2h0M377.2 414.8h0M359.3 414.2h0M358.6 416.3h0M361.1 413.4h0M359.5 414.3h0M364.7 418.9h0M361.7 414.3h0M373 416.4h0M360.4 415.9h0M355.3 415.2h0M359.9 416.9h0M359.2 416.1h0M363.4 415.4h0M357.5 413.9h0M359.7 417.3h0M357.5 414.9h0M365.3 415.7h0M360.7 414.7h0M370.3 413.8h0M362.3 413.3h0M363.5 414.8h0M357.6 416h0M367.4 415.9h0M361.5 417.6h0M363.6 415.8h0M358.2 415.9h0M368.7 416.1h0M370.1 415.1h0M363.9 415.7h0M361.7 418.3h0M354.4 415.9h0M369.9 414.8h0M364.4 416.6h0M368.4 415.9h0M372.7 412.8h0M354.1 417.6h0M359 416.1h0M360.2 414.5h0M358.4 416.2h0M370.5 415.7h0M364.7 413.2h0M369.3 417.6h0M356.4 416.7h0M360.9 412.8h0M363.2 415.9h0M359.3 417.1h0M354 414.2h0M364.6 413.8h0M371.6 414.4h0M355.4 414.8h0M357.2 417.8h0M363.9 413.8h0M356.8 414.9h0M368.5 416.6h0M357.1 413h0M372.2 413.3h0M354.3 415.8h0M362.7 415.1h0M360.5 415.2h0M359.2 416.5h0M360.7 414.2h0M356 415.4h0M358.1 416.6h0M358.5 415.9h0M357.4 415.5h0M357.7 414.2h0M362.9 414.2h0M362.7 417h0M359.5 417.1h0M363 415.5h0M356.4 416.8h0M363.2 414.5h0M353.6 414.1h0M357.9 415.6h0M355.5 415.5h0M358.2 411.9h0M356 415.8h0M361.8 414.3h0M363.8 414.4h0M359.5 413.9h0M375.6 413.5h0M377.4 414.4h0M363.5 413.3h0M356.6 416h0M360.3 417.5h0M370.6 414.8h0M378.3 414.9h0M357.1 412.7h0M358.9 414h0M355.4 416.2h0M359.1 415.4h0M362.7 413.1h0M355.8 415.5h0M364.8 415.5h0M373.9 414.5h0M368.5 416.2h0M371.6 414.9h0M356.6 415.5h0M365.9 414.7h0M356.5 416.7h0M358.9 417h0M363.3 417.4h0M366.4 413.4h0M368.6 413.9h0M357.2 416.2h0M384.1 415.2h0M360.1 416.3h0M358.9 414h0M369.1 415.5h0M361 416.4h0M358.1 416.2h0M359.2 416.7h0M368.5 412.5h0M360.2 415h0M378.1 415.4h0M353.7 416.8h0M370 412.3h0M356.1 414.7h0M366.9 414.5h0M366.9 415.5h0M358 415.1h0M373.3 415.3h0M355.2 417.1h0M357 415.3h0M364.3 414.1h0M366.4 415.8h0M352.7 416.8h0M355.3 415.8h0M365.9 416.4h0M363.3 414.3h0M360.6 416.7h0M355.8 416.8h0M360.2 415.6h0M379.1 416.2h0M354.2 415.5h0M366.6 414.2h0M370.1 413.5h0M358.2 415h0M359.5 416.6h0M361.3 414.5h0M367.5 418.1h0M359.4 414.9h0M362 415.8h0M357.1 414.9h0M354.1 412.9h0M370.5 415.8h0M379.6 417.9h0M365.9 413.1h0M360 415.6h0M362.5 413.7h0M361.2 413.8h0M376 416.2h0M356.7 416.1h0M357.5 414.2h0M361.1 415.3h0M369.3 416.5h0M359 414h0M358.7 416h0M357 415.9h0M366.5 415.2h0M365.2 412.7h0M361.4 416.7h0M370.7 416.4h0M355.5 414.9h0M369.2 413.2h0M357.3 415.4h0M364.5 416.7h0M361.7 414.5h0M368.6 414h0M361.9 415.6h0M354.4 414.4h0M363.7 418.1h0M367.5 418h0M362 416.1h0M358.6 413.8h0M359.7 414.8h0"/></defs>
<g clip-path="url(#cp9)" fill="none" stroke-linecap="round"><use href="#pcp9" stroke="#2a3aa8" stroke-width="0.8"/><g filter="url(#dn3)"><use href="#pcp9" stroke="#000" stroke-width="0.6"/></g></g>
<rect x="362.3" y="409.2" width="38.5" height="13.3" fill="none" stroke="#777" stroke-width="0.7"/>
<text x="402.1" y="402.8" font-size="9.2" text-anchor="end" fill="#1e1e1e">19.9</text>
<rect x="412.4" y="373.6" width="55" height="55" fill="none" stroke="#d4d4d4" stroke-width="0.7"/>
<path d="M410.4 377.6h2M408.4 376.6l0.9 -0.5M416.4 428.6v2M410.4 389.35h2M408.4 388.35l0.9 -0.5M428.15 428.6v2M410.4 401.1h2M408.4 400.1l0.9 -0.5M439.9 428.6v2M410.4 412.85h2M408.4 411.85l0.9 -0.5M451.65 428.6v2M410.4 424.6h2M408.4 423.6l0.9 -0.5M463.4 428.6v2" stroke="#9a9a9a" stroke-width="0.6" fill="none"/>
<line x1="410.8" y1="416.5" x2="412.4" y2="416.5" stroke="#111" stroke-width="1.4"/>
<line x1="421.9" y1="429.4" x2="424.9" y2="429.4" stroke="#222" stroke-width="1.3"/>
<clipPath id="cp10"><rect x="412.8" y="374" width="54.2" height="54.2"/></clipPath>
<defs><path id="pcp10" d="M423.4 414.4h0M430.9 416.3h0M421.8 415h0M426.3 414.3h0M437.9 415.2h0M432.6 415.9h0M432.4 413h0M441.2 413.4h0M427 416.3h0M427.6 413h0M422.9 416.5h0M422.6 413.8h0M434.9 413.1h0M422.5 412.3h0M426.2 418.4h0M420.9 414.4h0M425.6 413.5h0M430 414.6h0M432.1 414.7h0M425.9 413.2h0M425.6 414.2h0M425.3 415.3h0M435.6 418.1h0M422.9 413.6h0M435.5 415.2h0M422.2 417h0M423.2 415.7h0M436.7 417.2h0M441.8 417.9h0M421.2 413h0M426.6 414.5h0M429.4 413.7h0M421.5 417.1h0M424.2 413.5h0M420.7 415.6h0M422 415.2h0M420.3 414.6h0M420.1 415.3h0M426.5 415.6h0M429.2 415.6h0M419.8 415.8h0M424.1 413.1h0M438.8 414.8h0M425.3 417.2h0M445.4 413.3h0M419.4 415.3h0M423.1 413.8h0M420.1 415.4h0M425.2 416.9h0M416.7 416.1h0M422.7 414.4h0M435.4 414.8h0M427.7 416.3h0M422.9 416h0M424.6 413.7h0M423.9 418.4h0M421.6 415.9h0M426.9 416.8h0M422.3 417.6h0M422.4 414.5h0M423.1 415.5h0M426.9 415.5h0M428.3 417.7h0M429.8 414.4h0M432.1 418.5h0M432.6 415.2h0M424.4 414.4h0M433.7 416.1h0M423.7 415.1h0M424.7 415.9h0M429.1 414.1h0M427 414.8h0M424.1 414.2h0M421.2 415.7h0M429.7 415.8h0M422.6 414.9h0M422 416h0M426.6 413.2h0M424.3 416.4h0M444.7 413.9h0M421.6 414.3h0M427.9 412.6h0M431.9 413.3h0M423.4 416.5h0M428.5 415.2h0M424.4 415.1h0M423 413.7h0M437.2 414.5h0M436.3 415.8h0M424.6 414.5h0M422.5 415h0M431.3 414.6h0M423.9 416.1h0M435.5 415.4h0M427.2 417.2h0M422.4 413.9h0M425.2 415.8h0M430 415h0M433.9 417.6h0M423.3 417.8h0M424.8 415.8h0M420.2 417.5h0M430.1 413.7h0M420.7 415.7h0M420.9 417.5h0M423.6 415.2h0M439.3 415.8h0M429.6 416.6h0M432.8 416.5h0M417.7 414.5h0M421.7 414.8h0M431 415.4h0M428.4 413.2h0M419.8 413.1h0M436.6 415.8h0M422.7 413.6h0M422.2 416h0M425.5 416.3h0M423.5 415.1h0M423.3 413.5h0M427.1 416.4h0M433.4 415.3h0M425.9 415.8h0M443.5 415.3h0M431.6 415.3h0M423.7 413.7h0M420.5 414.3h0M435.9 416h0M426.7 417.1h0M422.6 414.7h0M419.8 414.3h0M425.6 416.9h0M432.7 415.3h0M437.9 415.4h0M425.3 416.2h0M427.9 416.7h0M426.2 416.6h0M433.8 412.1h0M426.4 415.6h0M436.5 415.5h0M428.8 414.9h0M421.1 415h0M425.5 414.3h0M424.2 416.1h0M423.1 414.6h0M423.9 413.6h0M434.6 415.4h0M418.9 414.9h0M420.2 414.2h0M436.9 413.3h0M430.4 415.5h0M427 416.2h0M423.4 416.5h0M422.4 416.4h0M431 413.2h0M436.2 414.7h0M426.6 417.9h0M428.5 416.1h0M419.6 415h0M424.4 416.9h0M434.1 414.1h0M429.9 414.9h0M428.4 414.7h0M429.2 413.6h0M426.4 415.1h0M426.4 415.3h0M423.7 414.5h0M423.5 417.3h0M424.5 412.4h0M425.7 414.1h0M425.6 417.4h0M424.5 414.2h0M425.9 416.6h0M433.3 415h0M430.1 415.3h0M425.6 415.4h0M421.6 415.5h0M420.9 416.5h0M426.5 416.4h0M424.4 416.1h0M423.2 417.3h0M424.7 414.8h0M433.3 410.7h0M426.4 415.7h0M420.6 414.8h0M425.9 416.3h0M428.9 416.6h0M433.7 413.7h0M426.8 416h0M427.2 414.5h0M436 416.5h0M432.3 414h0M424 415h0M428.2 415.8h0M424.8 415.1h0M425.1 417.1h0M427.5 415.4h0M425 415.4h0M426.7 416.9h0M422.6 415.6h0M424 414h0M449.9 416.2h0M432 413.6h0M423.4 412.5h0M423.5 414.8h0M431.3 415.1h0M428 413.5h0M439.7 416.2h0M421.2 413.8h0M419.1 416.4h0M429.1 413.4h0M417.5 414.7h0M434.9 415.8h0M423.8 414.3h0M427.1 417.2h0M439.1 413.9h0M426.8 414.2h0M426.2 415.1h0M432 417.1h0M420.3 413.5h0M424.3 416h0M430.5 413.3h0M428.1 416h0M431.6 416.1h0M421.8 414.5h0M426.2 415.3h0M423.4 415.6h0M425 417.8h0M424 416.3h0M427.2 414.5h0M425.8 415.4h0M436 414.8h0M422.6 413.4h0M427.3 414h0M424.9 416h0M421.8 415.5h0M431 413.3h0M424.8 417.5h0M424 416.3h0M425.8 414.9h0M428.7 412.6h0M430.7 413.3h0M429.2 415.6h0M420.9 414.6h0M428.1 418.1h0M427.7 416h0M425.5 416h0M432.3 413.5h0M424.5 413.8h0M425.1 416h0M425.8 414.2h0M423.1 412.7h0M421.8 416.9h0M421.5 415.3h0M430.7 416.1h0M420 415.2h0M424.8 414.3h0M424.5 414.3h0M425.5 413.8h0M439.7 414h0M433.6 412.9h0M421.2 415.4h0M434.5 416.9h0M427.1 415.5h0M418.1 413.5h0M429.5 413.4h0M427.4 417h0M426.7 413.8h0M433.3 416h0M428.5 414.5h0M426.6 415.9h0M431.4 415.6h0M426 416.1h0M421.3 416.3h0M422.3 413.5h0M421.5 413.5h0M427 413.2h0M423.5 415.7h0M436 414.1h0M429.7 417.2h0M431.3 415.3h0M426.9 416.4h0M426 415.6h0M438.8 413.8h0M424.6 414.3h0M423.7 413.2h0M428.3 416.8h0M421.3 415.5h0M433.2 416.4h0M426.4 416.5h0M425.4 413.8h0M423.3 416h0M426.7 414.3h0M428.4 415h0M428 414.5h0M425.8 414.4h0M423 414.7h0M425 413.8h0M425.2 414.4h0M425.9 415.1h0M420.6 415.2h0M419.7 414.1h0M427.3 415.3h0M420.3 414h0M425 415h0M421.7 416.1h0M427.1 413.5h0M426.5 416.5h0M419.8 415.1h0M431.7 418.6h0M435.8 414.9h0M424.9 414.8h0M426 415.7h0M422.6 413.6h0M433.2 416.4h0M426.2 415.3h0M431.8 417.9h0M421.7 415.5h0M423.2 418.1h0M429.6 416h0M423.9 414.4h0M425.2 415.5h0M427.3 413.3h0M425.6 414.9h0M428.5 415.2h0M419.5 414.7h0M429.8 415.8h0M435 413.3h0M425.3 415.4h0M428.4 416.3h0M423.1 416.8h0M425.5 412h0M419.6 413.8h0M434.4 414.7h0M416.9 415.3h0M422.8 415.3h0M425.6 414.9h0M423.3 415.3h0M420.4 414.8h0M426.8 416.8h0M422.4 413.8h0M427.5 413.9h0M429.6 416.8h0M424.6 416.3h0M426.7 414.9h0M420 416.1h0M435.4 416.9h0M426.4 416.1h0M423.1 414.9h0M426.8 414.9h0M433.7 414.8h0M433.9 415.8h0M434.1 412.9h0M426.4 413.9h0M426.9 414.8h0M430.5 415.7h0M422.1 415.1h0M418.6 417.6h0M447.3 416.9h0M422.9 413.5h0M420 416.1h0M431.4 414.1h0M439.8 415.1h0M424.8 416.5h0M430.6 413.5h0M425.8 416.2h0M426.6 417.2h0M430.6 416.7h0M442.8 416.3h0M431.6 417.2h0M418 413.2h0M423.8 413.3h0M439.2 414.3h0M425.2 414h0M430.1 417.1h0M432.5 414.7h0M431.1 417.9h0M427.9 414.3h0M425.5 412h0M425.8 415.5h0M420.7 414.8h0M423 414.3h0M424.2 414.7h0M422.4 417.5h0M421.4 414.1h0M423.9 414.6h0M427.7 415.6h0M427.5 414.1h0M423 415.6h0M439.2 415.4h0M419.4 415.6h0M428.6 416.6h0M421 415.2h0M430.4 413.1h0M433.2 413.6h0M425.9 414.5h0M433.9 417.2h0M419.9 414.7h0M429.5 413.5h0M428.3 413.8h0M424.3 412.1h0M429.8 418.4h0M440.5 416.3h0M433.6 414.6h0M422.6 415.5h0M429.5 416.2h0M422.8 416.2h0M427 415.2h0M422.1 417.5h0M419 415.9h0M415.4 411.9h0M422.7 411.9h0M427.5 414.9h0M423.4 412.3h0M424 414.3h0M431.5 414h0M427.1 415.4h0M415.2 413.5h0M436.3 413.8h0M430.7 417h0M434.3 416.4h0M427.2 416.5h0M430.2 414.7h0M424.2 414.8h0M419.6 415.7h0M422.9 413.5h0M421.3 416.9h0M421.2 413.9h0M423.4 415.6h0M423.6 416h0M428.4 416.5h0M432.5 415.2h0M423.3 415.8h0M423.5 414.9h0M421.4 415h0M425.3 415.1h0M423.3 415h0M422.1 414.9h0M424.8 415h0M421.1 414.6h0M434.3 416.5h0M428.9 414.2h0M424.7 415.5h0M427.4 416h0M420.7 416.6h0M435.1 417.3h0M436.4 415.6h0M423.4 416.1h0M425.4 417.2h0M423 413.9h0M422.8 414.7h0M420.2 415.5h0M427.7 414.8h0M432.1 412h0M425.7 414.5h0M431 414.2h0M421.3 415h0M447.7 418.3h0M427.1 415.3h0M421.8 416.6h0M428.6 415.9h0M425.7 412.4h0M432.7 413.8h0M425.7 414.4h0M431.6 416.3h0M426.7 415.3h0M416.7 416.4h0M429.1 415h0M438.9 414.8h0M426.1 414.4h0M425.4 419h0M425.7 417.2h0M432.2 413.2h0M425 413.5h0M426.8 416.4h0M423.3 412.9h0M423.7 415.9h0M420 414.1h0M430.4 413.6h0M427.3 416.7h0"/></defs>
<g clip-path="url(#cp10)" fill="none" stroke-linecap="round"><use href="#pcp10" stroke="#2a3aa8" stroke-width="0.8"/><g filter="url(#dn3)"><use href="#pcp10" stroke="#000" stroke-width="0.6"/></g></g>
<rect x="427" y="409.2" width="38.5" height="13.3" fill="none" stroke="#777" stroke-width="0.7"/>
<text x="466.8" y="402.8" font-size="9.2" text-anchor="end" fill="#1e1e1e">20.8</text>
<text x="470.4" y="406.7" font-size="9.5" fill="#1e1e1e">HN377</text>
<rect x="347.7" y="432.1" width="55" height="55" fill="none" stroke="#d4d4d4" stroke-width="0.7"/>
<path d="M345.7 436.1h2M343.7 435.1l0.9 -0.5M351.7 487.1v2M345.7 447.85h2M343.7 446.85l0.9 -0.5M363.45 487.1v2M345.7 459.6h2M343.7 458.6l0.9 -0.5M375.2 487.1v2M345.7 471.35h2M343.7 470.35l0.9 -0.5M386.95 487.1v2M345.7 483.1h2M343.7 482.1l0.9 -0.5M398.7 487.1v2" stroke="#9a9a9a" stroke-width="0.6" fill="none"/>
<line x1="346.1" y1="475" x2="347.7" y2="475" stroke="#111" stroke-width="1.4"/>
<line x1="357.2" y1="487.9" x2="360.2" y2="487.9" stroke="#222" stroke-width="1.3"/>
<clipPath id="cp11"><rect x="348.1" y="432.5" width="54.2" height="54.2"/></clipPath>
<defs><path id="pcp11" d="M364.1 472.3h0M366.4 470h0M361.2 473.7h0M368.7 473.6h0M374.1 474.7h0M354.4 470.8h0M378.7 474.7h0M381.2 474.9h0M365.7 472.8h0M373.1 474.6h0M352.8 476.2h0M382.1 475.3h0M388.9 473.5h0M362.4 477h0M359.3 474.9h0M362.8 474.6h0M378.1 473.8h0M371 475.3h0M375.8 474h0M364.4 472.1h0M369.6 474.5h0M374.7 475.4h0M364.6 473.5h0M356.8 473.5h0M362.7 476.3h0M385.5 475h0M370.3 473.7h0M368.5 472.4h0M359.2 472.2h0M357.7 473.8h0M371.7 472.9h0M355.7 473.8h0M385.4 472.2h0M365.2 475h0M369.6 475.1h0M369.7 478.6h0M376.4 476h0M364.5 478.1h0M365.3 474.2h0M351.2 473.7h0M361 473.7h0M380.4 472.3h0M365.4 475.3h0M359.9 474.1h0M374.9 475.9h0M379.1 472.5h0M359.3 472.1h0M378.7 473.9h0M376.3 474.2h0M362.4 474.5h0M366.3 476.6h0M357.2 473.6h0M355.7 473.1h0M362.6 476.2h0M368 472.7h0M366.8 475.6h0M363.7 477.3h0M356.8 474.2h0M391 473.2h0M354.4 473.9h0M367.2 472.5h0M359.4 476h0M379 473.7h0M377.7 470.7h0M368.7 473.2h0M373.6 473.9h0M364.7 474.3h0M385.8 475.4h0M370.1 474.6h0M374.8 473.1h0M390.2 472.7h0M372.3 471h0M366.6 473.6h0M371.6 474.4h0M371.4 474.6h0M355.1 472.5h0M359.2 473h0M379.1 475.9h0M378.7 473.4h0M353.7 471.4h0M357.5 473.1h0M357 473.6h0M357.2 474.1h0M376.3 474.4h0M359.9 472.6h0M375.6 474.4h0M384.1 476.3h0M367.4 476.5h0M374.8 473.9h0M353.7 474h0M353.5 474.9h0M361.2 474.3h0M350.8 475h0M357.6 474.1h0M359.9 476.1h0M375.6 473.4h0M367.4 471.9h0M370.1 475.2h0M369 474.7h0M354.6 474.3h0M361.2 473.3h0M381.1 472.1h0M381.9 475.2h0M367.3 474.6h0M376.8 474.2h0M370.6 475.7h0M365 475h0M355 473.1h0M367.5 468.3h0M359.4 473.5h0M375.4 472.5h0M357.5 474.5h0M360.4 474.8h0M358 472.3h0M384.2 474.7h0M360.5 477h0M365.6 475.4h0M382.5 473.8h0M354.8 472.4h0M361.3 471.9h0M377.1 473.5h0M359.6 474.8h0M367.6 474.8h0M377.8 471.3h0M361.5 472.9h0M362.5 474.3h0M382.5 475.9h0M370 474.8h0M370.8 473.5h0M358.7 473.9h0M364.1 473h0M363.5 474h0M367.8 472.4h0M385.4 474.7h0M380.7 475.2h0M376.6 477.2h0M365.9 476h0M378.8 471.4h0M351.3 473.1h0M372.6 474.9h0M383.8 474.2h0M358.5 473.8h0M361.6 473.6h0M363.4 476.6h0M358.2 474.3h0M389.1 472.8h0M383.2 473h0M355.5 475h0M355 472.4h0M354.3 472.6h0M384.4 472h0M356.7 472.1h0M373.7 475.6h0M356.7 472.5h0M381.3 475.4h0M362.5 473.2h0M386.9 474.6h0M364.7 474h0M375.8 474h0M383.7 473.6h0M361.9 475.4h0M358.9 476.1h0M360.3 471.9h0M359.6 474.7h0M375.6 473.8h0M357 474h0M382.3 476.5h0M362.7 474.1h0M362.1 475.3h0M354.7 473.8h0M353.5 475.7h0M370.3 474h0M377.5 474.8h0M378.6 474.3h0M362.9 474.7h0M359 474.9h0M362.5 475.1h0M365.2 473.3h0M356.2 473.9h0M355.8 473.3h0M378.7 477.1h0M386.2 476.1h0M384.5 476.7h0M359.7 474.4h0M362.8 476h0M381 475h0M368.2 473h0M361.9 474.5h0M360.2 470.8h0M362.3 476h0M370.2 474.5h0M361.6 473.8h0M354.9 473.3h0M377 475.5h0M379 476h0M384.3 474.5h0M361.1 473.6h0M367.1 476.1h0M385.5 473.8h0M378.3 475.4h0M379.5 475.9h0M365 472.8h0M360.9 471.4h0M369.1 473.2h0M377.5 470.3h0M362.1 473.2h0M359 471.8h0M357.5 475.8h0M381.5 474.4h0M385.4 476.4h0M354.4 474h0M376.9 474h0M357.1 473.8h0M368.2 472.5h0M357.4 475.8h0M375.5 474.5h0M375.4 473.8h0M363.3 474.7h0M394 474.1h0M376.6 473h0M374 477.4h0M367.6 474.9h0M383.9 475.2h0M358.5 473.3h0M376.9 474.8h0M379.4 474.8h0M380 475.4h0M373 473h0M367 475.1h0M357.4 474.4h0M360.5 471.5h0M382.9 472.6h0M364 475.1h0M383.7 472.9h0M382.6 472h0M382.6 476.3h0M356.2 473.8h0M371 476.6h0M366.7 473.1h0M353.7 474.8h0M383.7 472.6h0M366.7 476h0M381 475h0M387.8 473.3h0M383.6 472.2h0M355.1 473.1h0M360.3 471.7h0M373.8 474.2h0M379.5 471.3h0M366.8 475.7h0M371 475.6h0M373.2 474.9h0M382.5 473.8h0M355.5 474h0M363.8 474.1h0M367.9 471.8h0M362.7 474h0M358.1 474.7h0M361.2 473.6h0M382.5 473h0M385.5 474.8h0M378.8 476.8h0M360.6 470.8h0M371.4 476.7h0M360.3 472h0M359.3 475h0M365.9 473.9h0M360.4 474.5h0M371.5 472.1h0M358.9 475.3h0M386.4 475h0M356.4 476.5h0M380.6 473.9h0M365.2 476.9h0M372.1 472.9h0M359.5 475.6h0M350.5 475.2h0M366.1 473.1h0M381.4 474.5h0M387.8 476h0M357.4 475.4h0M378.7 473.3h0M387.3 475.9h0M376.4 474h0M352.3 473h0M372.2 473.5h0M357.7 473.9h0M354.5 475.3h0M355.5 474.6h0M388.3 474h0M379.8 472.3h0M358.1 474.1h0M359.7 470.4h0M357.3 471.6h0M378.3 472h0M373.9 474h0M357.8 478h0M380.9 475h0M370.7 478.7h0M372 472.6h0M359.2 472.8h0M366.4 474.7h0M359.4 471.8h0M374 473.5h0M379.1 475.2h0M379.8 475h0M381.3 472.4h0M376 475h0M374 470.4h0M386.8 471.9h0M367.8 473.5h0M375.1 472.7h0M361.4 477.3h0M381.1 475h0M365.3 474.9h0M385.1 475.8h0M386 475.3h0M358.2 473.7h0M358.9 472.6h0M382.2 476.8h0M366 472.4h0M378.8 473.8h0M368.9 472.2h0M368.1 475.4h0M363.7 476.2h0M378.2 474.2h0M358.6 472.9h0M378.3 472.3h0M359.7 472.6h0M381.6 475.2h0M370.3 475.8h0M384.4 473.6h0M360.2 474.3h0M354.1 476.2h0M365 470.9h0M361.5 473.4h0M369.2 476.3h0M379.8 477.6h0M377.8 476.1h0M366.9 477.5h0M358.2 476.2h0M365.1 474.5h0M360.5 475.6h0M367.5 474.2h0M382.1 474.3h0M371.5 475.4h0M381.3 472.9h0M359.4 473.3h0M357.7 472.1h0M376.7 475h0M380.5 472.8h0M361.4 474.8h0M369.6 476.7h0M360.2 474.1h0M356.2 471.4h0M372.2 472h0M359.6 475.6h0M377.2 471.2h0M373.7 472.8h0M365.8 471.7h0M368.9 472.9h0M381.3 471.2h0M356.7 475h0M359.5 473.7h0M378.4 475.4h0M367.1 476h0M379.8 475.2h0M374.4 476.5h0M364.8 471.1h0M357.1 474.7h0M358.2 473.3h0M362.1 474h0M378.4 476.9h0M363.1 471.4h0M362.2 476h0M359 473.3h0M384.8 473.6h0M363.1 470.2h0M361.6 474.8h0M362.3 472.3h0M372.7 473.3h0M358.5 473.2h0M364 474h0M357.7 473.8h0M373.6 473.4h0M361.7 472.8h0M359.3 477.9h0M375.1 474.8h0M366.9 474.4h0M380.7 472.9h0M373.6 475.2h0M362.5 472.8h0M361.6 473.3h0M359.2 471.4h0M383.5 476.5h0M352 470.6h0M361.9 475.7h0M364.5 472.3h0M381.8 472.6h0M368.1 472.9h0M366.2 473.7h0M361.4 473.6h0M365.4 470.7h0M363.8 471.7h0M352.8 475.5h0M360.3 473.9h0M381.6 473.9h0M363 473.7h0M358.7 472.5h0M394.4 475.8h0M380.7 476.6h0M371.3 473h0M359.8 474.5h0M380 474.6h0M375.5 475.6h0M375.1 476.9h0M354.8 474.5h0M359.2 474h0M360 471.8h0M380.2 472.4h0M376 478h0M360.7 476.2h0M361.4 471.8h0M363.2 472.3h0M373.3 472.2h0M383.3 474.3h0M361.2 474.1h0M354.2 469.9h0M372.1 472.4h0M355.6 473.8h0M383.9 474.9h0M385.2 473.6h0M361.6 474.7h0M367.3 475.8h0M363.3 474.4h0M359.6 473.8h0M353 473.9h0M365.4 472.4h0M351.4 473.5h0M384.2 476.9h0M362.4 474.6h0M368.2 473.6h0M367 471.6h0M369.1 474.6h0M361.9 475.5h0M359.1 473.5h0M374.9 476.2h0M367.4 474.8h0M386.2 475.5h0M355.2 475.5h0M362.3 470.8h0M384.7 473.9h0M358.5 474.7h0M355.7 474.4h0M387.7 473.4h0M372.9 473.6h0M362.5 472.8h0M379.5 472.4h0M370.1 470h0M371.3 475.8h0M360.8 472.8h0M368.1 474.5h0M378.5 472h0M363 473.6h0M382.3 474.9h0M368.1 473.4h0M368.9 474.2h0M357.5 474h0M373.1 477.1h0M357 475.2h0M357.3 472.1h0M361.2 473.5h0M376.5 471.7h0M361.9 474.8h0M376.6 473.9h0M367.6 474.4h0M381.9 474.8h0M363.8 474.7h0M359 473h0"/></defs>
<g clip-path="url(#cp11)" fill="none" stroke-linecap="round"><use href="#pcp11" stroke="#2a3aa8" stroke-width="0.8"/><g filter="url(#dn3)"><use href="#pcp11" stroke="#000" stroke-width="0.6"/></g></g>
<rect x="362.3" y="467.7" width="38.5" height="13.3" fill="none" stroke="#777" stroke-width="0.7"/>
<text x="402.1" y="461.3" font-size="9.2" text-anchor="end" fill="#1e1e1e">46.4</text>
<rect x="412.4" y="432.1" width="55" height="55" fill="none" stroke="#d4d4d4" stroke-width="0.7"/>
<path d="M410.4 436.1h2M408.4 435.1l0.9 -0.5M416.4 487.1v2M410.4 447.85h2M408.4 446.85l0.9 -0.5M428.15 487.1v2M410.4 459.6h2M408.4 458.6l0.9 -0.5M439.9 487.1v2M410.4 471.35h2M408.4 470.35l0.9 -0.5M451.65 487.1v2M410.4 483.1h2M408.4 482.1l0.9 -0.5M463.4 487.1v2" stroke="#9a9a9a" stroke-width="0.6" fill="none"/>
<line x1="410.8" y1="475" x2="412.4" y2="475" stroke="#111" stroke-width="1.4"/>
<line x1="421.9" y1="487.9" x2="424.9" y2="487.9" stroke="#222" stroke-width="1.3"/>
<clipPath id="cp12"><rect x="412.8" y="432.5" width="54.2" height="54.2"/></clipPath>
<defs><path id="pcp12" d="M425 473.4h0M448.3 473.7h0M427.1 476.8h0M420.6 475.7h0M427.1 473h0M422.3 471.6h0M422.4 475.1h0M440.1 476h0M430.9 478.4h0M432.4 472.7h0M429.9 471.7h0M432.2 475.9h0M430.3 470.4h0M434 473.5h0M430.6 476.7h0M420.6 475.1h0M432.5 474.5h0M426.1 471.8h0M434.1 472.9h0M427.8 474.4h0M441.4 475.6h0M421.7 473.3h0M429.2 472.7h0M425.1 477.4h0M426.1 475.3h0M418.7 470.7h0M425.8 473.5h0M422.6 474.1h0M424.5 475.1h0M419 473.1h0M420.4 473.3h0M427.9 476.2h0M444 476h0M427.9 473.8h0M437.7 475.2h0M419.1 473.9h0M430.4 476.3h0M440.7 473.4h0M421.2 474.7h0M432.9 469.9h0M435.4 471.6h0M430.3 475.8h0M444.4 474.5h0M425.4 472.7h0M432.6 472.8h0M425 475.2h0M418.6 474.2h0M432.9 477.8h0M425.1 472.5h0M436.3 474.1h0M440.8 474.4h0M426.3 473.1h0M448.4 475h0M447.5 472.2h0M425 471.1h0M433.5 473h0M435.4 474.4h0M424.1 471.5h0M426.1 472.5h0M432.5 476h0M433.4 474.5h0M423.3 473.5h0M440.4 473.9h0M424.3 472h0M434.8 473.2h0M425.5 473.4h0M450.6 470h0M430.5 473.3h0M437.8 470.1h0M447.8 475.3h0M432.2 473.9h0M424.6 474.2h0M445.9 474.6h0M429.6 473.3h0M431.7 473.3h0M442.7 473.5h0M423.7 475.3h0M430.5 475.2h0M426.8 470.6h0M445.2 477h0M429.3 474.6h0M445.7 477.2h0M436.8 476.9h0M420 473.9h0M445 475.3h0M436 473.8h0M426.4 472.6h0M425.3 473.5h0M425.3 473.9h0M424.3 475.9h0M443.5 472.6h0M424.7 471.8h0M446.3 473.3h0M434.4 475h0M431.8 470.7h0M421.7 472.7h0M418.2 476.6h0M427.6 472.8h0M422.9 476.3h0M437.7 476.5h0M429.2 474.6h0M438.8 476.8h0M423.7 472.3h0M439.7 472.8h0M422.7 471.9h0M453.6 473.4h0M431.4 473.7h0M435.9 475.3h0M432.2 474.6h0M420.9 472.3h0M428.8 473h0M442.5 473.5h0M446.1 472.9h0M431.4 474.8h0M439.8 472.9h0M439.4 473.7h0M440.7 478h0M438.9 475h0M427.9 474h0M424.3 476.8h0M435.9 475.6h0M434.8 473.1h0M432.6 475.9h0M437.3 472.9h0M425.6 474.6h0M439.8 472.7h0M430 475.4h0M421.8 476.3h0M423 474.8h0M430.1 475h0M428.6 475.6h0M437.2 473.6h0M446.2 472.7h0M424.2 477.4h0M439.3 475h0M419.7 474.2h0M430.3 477h0M425.5 472.4h0M437.6 471.9h0M425 474.5h0M425.4 475.5h0M425.4 473.7h0M425.5 476.2h0M440.8 476.3h0M439.3 472.6h0M421.4 473h0M448.9 476.1h0M439.5 472h0M424.3 472.2h0M425.3 473.9h0M417.1 475.3h0M437.1 472.1h0M444.7 476.8h0M429.4 473.5h0M423.9 473.2h0M428.3 472.2h0M439.6 477.8h0M446.8 471.1h0M448.1 474.5h0M443.3 475.2h0M422.1 472.1h0M425.9 472h0M436.4 474h0M438.6 477.1h0M434.6 473.6h0M428.6 478.2h0M440.6 471.8h0M434.5 472.2h0M444 472.7h0M420.6 473h0M428.6 476.7h0M445.2 474.2h0M421 472.3h0M433.7 471.7h0M440.7 472.5h0M429.3 474.6h0M432 476h0M420.6 474.6h0M451.8 474.1h0M430.7 474.3h0M422.6 471.3h0M420.1 474.6h0M429.3 474.2h0M436.9 473.4h0M429.7 474.5h0M433.5 475.3h0M424.1 473.9h0M429 475.9h0M443.8 475.5h0M431.7 474.9h0M425.6 473.4h0M447.4 471h0M432.7 475.7h0M446.4 475.3h0M424 470.7h0M434.3 478.1h0M419.2 473.7h0M422.9 469.3h0M423.4 472.7h0M427.3 474.1h0M435.5 476.6h0M422.7 475.7h0M433.1 473.6h0M432.8 473h0M442.5 472.6h0M439.5 471.7h0M432.6 473.3h0M431.3 476h0M428.1 475.3h0M422.2 473.5h0M423.9 471.4h0M432.7 474h0M428.6 475.7h0M432.9 474.8h0M439.1 476.3h0M436.3 472.3h0M420.5 473.2h0M430 473.1h0M442.2 474.8h0M437.3 476.4h0M448.5 475.7h0M425.7 475.1h0M435.9 477.2h0M446.6 472.3h0M427.6 476.2h0M425.8 473.5h0M421.5 473.1h0M428.5 475.4h0M422.2 475.9h0M432.1 473h0M433.7 477.1h0M425.1 472.6h0M436.7 473.7h0M447.4 474.3h0M419.2 474.1h0M430.3 474h0M427.3 474.2h0M428.1 474.7h0M443 474.9h0M420.6 473.8h0M431.6 474.3h0M431 473.3h0M431.2 477.8h0M438.8 473.8h0M421.5 474.5h0M430.7 476.9h0M427 471.5h0M424.8 476.2h0M452.3 475.7h0M429.2 474.5h0M445.9 475.2h0M441 476.1h0M422.9 474.1h0M429.3 474.2h0M429.6 477.6h0M438.8 474.4h0M422.2 473.4h0M428.3 473.9h0M438.1 474.1h0M417.7 473.5h0M449.9 474.3h0M416.5 471.7h0M431.9 476h0M436 473.6h0M422.1 474.8h0M430.2 475.2h0M420.4 478h0M433 474.2h0M437 477.1h0M435.5 474.1h0M429.8 473.9h0M421.1 472.2h0M425 475h0M440.5 475.2h0M433.2 471.5h0M422 475.5h0M443 475.2h0M449.6 473.8h0M436.9 475.9h0M429.1 475.1h0M434.4 474h0M438.4 473.3h0M434.7 473.3h0M421.4 474h0M418 473.3h0M425.6 473.9h0M445.1 472.8h0M427.2 473.8h0M431.3 471.3h0M424.8 473.6h0M420.9 472.9h0M424.5 471.2h0M439.4 477h0M439.2 472.4h0M423.5 474.6h0M425.8 475.7h0M426.1 476.8h0M426.4 472h0M443.4 472.3h0M428.1 476.6h0M439.5 478.3h0M437.1 471.3h0M421.7 474.8h0M420.9 473.4h0M433 474.8h0M414.2 474.4h0M441.6 472h0M424.7 472h0M429.1 474.6h0M423.1 474.1h0M452.6 475.1h0M435.4 474.2h0M448.7 471.8h0M438.8 471.5h0M433.8 474.8h0M420.6 472.1h0M434.7 474.5h0M424.2 474.1h0M442.4 473.3h0M428.8 472.9h0M439.2 474.5h0M422 472h0M423 474.3h0M430.2 476.2h0M428.3 472.9h0M438.5 472.5h0M419.7 473.1h0M425.9 473.3h0M424.6 474.8h0M423.7 473.5h0M431.8 473.7h0M429.9 473.8h0M427.7 473.9h0M426.4 473h0M414.7 473.5h0M420.4 473h0M426.3 474.9h0M433.4 473.4h0M435.9 473.1h0M425.3 473.1h0M422.3 472.2h0M446 475.1h0M422.1 472.7h0M432.6 473.2h0M443.3 475.8h0M439.3 476.1h0M423.3 472.5h0M421 476.2h0M431.7 476.6h0M428.7 472.5h0M424.2 474.3h0M445.1 476.3h0M424.5 476h0M421.5 472.2h0M435.7 473.4h0M432.1 471.6h0M423.3 474.4h0M450.6 474.9h0M436.3 473.5h0M438.7 475.5h0M444.1 470.1h0M425.9 471.2h0M445.5 476.7h0M417.3 472.3h0M421.1 475.8h0M423 473.4h0M426 474.5h0M435 475.7h0M443.9 470.8h0M444.6 475h0M435.8 473.1h0M446.6 475.6h0M418.7 474.9h0M421 474.7h0M450.7 475.1h0M435.4 477.4h0M439.5 477.5h0M431.9 472.4h0M428.9 474.7h0M426.3 474.6h0M440.1 477.1h0M429.4 475.4h0M427.1 473.6h0M419.4 474.6h0M427.1 475.3h0M432.8 472.8h0M434.3 474.8h0M432.1 474.7h0M445.4 474.9h0M441.5 473.1h0M423.7 472.6h0M434.6 474h0M439.5 471.2h0M425.8 473h0M428.8 474h0M435.3 475.5h0M440.5 475.7h0M419.4 474.1h0M421.7 472.5h0M439.3 474.8h0M421.4 477.2h0M434.7 475.6h0M424.5 473.8h0M440.9 473.7h0M430.7 475.4h0M425.5 475.7h0M427.8 471.8h0M443.2 475.8h0M431.4 478.3h0M423.4 471h0M426.3 471.8h0M437.6 476.1h0M448.2 473.4h0M426.4 474.3h0M432.3 470.4h0M420.9 472.9h0M445.7 476.2h0M438.9 471.3h0M441.3 475.6h0M422.4 474.3h0M431.1 476.3h0M435.1 471.9h0M421.9 477.3h0M442.1 473.6h0M446.8 475.5h0M445.1 473.6h0M414.3 473.3h0M421.4 476.6h0M440.4 473.9h0M439.8 472.7h0M433.8 474.9h0M434.1 471h0M448.4 471.7h0M438.9 475.1h0M439.9 475.2h0M428.6 470.2h0M423.5 474h0M429.1 476.2h0M437.5 475.3h0M428.3 477.5h0M425 473.8h0M439.1 473.5h0M444.6 474.2h0M448.9 475.2h0M443 472.6h0M428 474.8h0M420.2 475.5h0M441.2 474.6h0M447.1 474h0M439.2 469h0M438.3 474h0M443 473h0M450.8 475.2h0M421.2 475.9h0M422.9 474.4h0M427.4 475.1h0M425.1 470.7h0M421 471.1h0M419.2 474.5h0M442.3 472.9h0M438.9 474.4h0M422.4 475.1h0M431 470.7h0M428.8 476.7h0M444.6 474.8h0M428.2 473.5h0M440.9 472.5h0M431.1 474.5h0M427.4 474.8h0M450.5 474.2h0M424.8 474.1h0M423.5 474.1h0M432.2 476.1h0M432.3 471.9h0M426.4 475.9h0M424.4 472.1h0M429.1 474.3h0M425.1 473.9h0M441.1 474.1h0"/></defs>
<g clip-path="url(#cp12)" fill="none" stroke-linecap="round"><use href="#pcp12" stroke="#2a3aa8" stroke-width="0.8"/><g filter="url(#dn3)"><use href="#pcp12" stroke="#000" stroke-width="0.6"/></g></g>
<rect x="427" y="467.7" width="38.5" height="13.3" fill="none" stroke="#777" stroke-width="0.7"/>
<text x="466.8" y="461.3" font-size="9.2" text-anchor="end" fill="#1e1e1e">38.8</text>
<text x="470.4" y="465.2" font-size="9.5" fill="#1e1e1e">HN380</text>
<text x="339.2" y="369.2" font-size="8.5" text-anchor="middle" fill="#1e1e1e" transform="rotate(-90 339.2 369.2)">CD3 - PECy7</text>
<line x1="336.3" y1="483.2" x2="336.3" y2="404" stroke="#111" stroke-width="1.3"/>
<path d="M336.3 396.5L340.5 405L332.1 405Z" fill="#111"/>
<line x1="351" y1="496.4" x2="398.4" y2="496.4" stroke="#111" stroke-width="1.3"/>
<path d="M405.4 496.4L397.4 500L397.4 492.8Z" fill="#111"/>
<text x="408.5" y="499.6" font-size="8.8" fill="#1e1e1e">panCK - AF488</text>
<text x="553.5" y="311.2" font-size="9.1" text-anchor="middle" fill="#1e1e1e">Untreated</text>
<text x="616.8" y="311.2" font-size="9.1" text-anchor="middle" fill="#1e1e1e">iMDK-treated</text>
<rect x="524.8" y="313.9" width="55.5" height="55" fill="none" stroke="#d4d4d4" stroke-width="0.7"/>
<path d="M522.8 317.9h2M520.8 316.9l0.9 -0.5M528.8 368.9v2M522.8 329.65h2M520.8 328.65l0.9 -0.5M540.67 368.9v2M522.8 341.4h2M520.8 340.4l0.9 -0.5M552.55 368.9v2M522.8 353.15h2M520.8 352.15l0.9 -0.5M564.42 368.9v2M522.8 364.9h2M520.8 363.9l0.9 -0.5M576.3 368.9v2" stroke="#9a9a9a" stroke-width="0.6" fill="none"/>
<line x1="523.2" y1="362.85" x2="524.8" y2="362.85" stroke="#111" stroke-width="1.4"/>
<line x1="536.06" y1="369.7" x2="539.06" y2="369.7" stroke="#222" stroke-width="1.3"/>
<defs><filter id="dn4" x="0" y="0" width="100%" height="100%" color-interpolation-filters="sRGB"><feGaussianBlur stdDeviation="0.95"/><feColorMatrix type="matrix" values="0 0 0 1 0 0 0 0 1 0 0 0 0 1 0 0 0 0 1 0"/><feComponentTransfer><feFuncR type="table" tableValues="0.165 0.169 0.173 0.173 0.176 0.180 0.184 0.192 0.204 0.212 0.224 0.231 0.227 0.224 0.220 0.247 0.310 0.373 0.431 0.522 0.643 0.769 0.894 0.941 0.949 0.957 0.961 0.949 0.937 0.918 0.882 0.847"/><feFuncG type="table" tableValues="0.212 0.227 0.243 0.259 0.275 0.290 0.306 0.353 0.408 0.463 0.514 0.569 0.620 0.671 0.722 0.757 0.765 0.773 0.780 0.796 0.820 0.843 0.871 0.827 0.753 0.682 0.588 0.447 0.302 0.200 0.145 0.086"/><feFuncB type="table" tableValues="0.627 0.651 0.678 0.702 0.729 0.753 0.780 0.796 0.808 0.824 0.835 0.843 0.827 0.812 0.792 0.729 0.608 0.482 0.357 0.267 0.227 0.192 0.153 0.133 0.125 0.118 0.110 0.110 0.110 0.110 0.106 0.106"/><feFuncA type="discrete" tableValues="0 0 0 0 0 0 1 1 1 1 1 1 1 1 1 1 1 1 1 1 1 1 1 1 1 1 1 1 1 1 1 1 1 1 1 1 1 1 1 1"/></feComponentTransfer></filter></defs>
<clipPath id="cp13"><rect x="525.2" y="314.3" width="54.7" height="54.2"/></clipPath>
<defs><path id="pcp13" d="M549.2 355.3h0M556.2 354.8h0M558.5 348.5h0M556.7 345.9h0M552.9 351.9h0M558.3 350.2h0M558.2 351.8h0M558.5 352.1h0M557.9 336.6h0M558.7 355.4h0M555.4 356.8h0M559.9 344.8h0M558.8 345.8h0M555.2 357.4h0M556.7 353.8h0M559.2 343.4h0M558.1 356.9h0M560.6 352.9h0M549.4 351.5h0M559.8 347.5h0M552.7 357.8h0M558.2 352.7h0M555.5 348.3h0M559.6 362h0M553.1 360.8h0M556.9 358.4h0M556.6 349.8h0M559.7 357.2h0M560.7 346.5h0M546.9 359.8h0M553.5 357.7h0M557.8 350.2h0M554.5 355.7h0M557.9 353.4h0M561.2 361.8h0M557.5 365.4h0M553.5 357.8h0M561 353.1h0M557.7 346.2h0M548.7 359.1h0M562.4 335.7h0M550.2 349.3h0M547.2 350.1h0M555.5 360.2h0M563.5 336.4h0M559.2 354.9h0M558 356.8h0M558.5 350.4h0M554 367.1h0M553.6 356.4h0M549.9 361.7h0M559.4 331.3h0M544.6 360.2h0M560.9 347h0M562 332.4h0M557.6 350.7h0M556.3 360.1h0M560.1 353.9h0M559.8 347.5h0M556.5 351.1h0M556.7 348.2h0M555.5 357.2h0M560.5 338.3h0M558.6 354.3h0M559.7 356.3h0M559 351.4h0M557.6 346.3h0M555.4 351.9h0M549 362.4h0M550.1 359h0M557.1 349.2h0M561.5 340.4h0M561.1 330.7h0M553 351.9h0M561.3 356.5h0M560.2 339.6h0M556.2 359.9h0M556.2 353.1h0M555.8 350h0M557.2 359.5h0M547.3 337.2h0M556.8 358.9h0M557.9 343.9h0M553.6 355.7h0M555.5 354.6h0M558.1 349.9h0M563 354.9h0M554 358.9h0M551.3 341.2h0M555.9 348.9h0M563.5 340.4h0M555.6 346.9h0M549.4 362.1h0M558.1 339.1h0M558.4 347.7h0M555.8 353.1h0M563.9 355.6h0M555.4 352.5h0M559.8 361.6h0M557.3 349.3h0M554 356.7h0M555.4 358h0M557.4 328.7h0M555.2 348.4h0M556 355.5h0M557 344h0M560.5 351h0M559.5 357.5h0M556.6 347.9h0M553.2 359.8h0M567.7 340.4h0M555.4 345.3h0M554.5 349.6h0M558.8 349.8h0M559.1 347h0M554.3 349.5h0M560.6 349.4h0M559 350.1h0M550.7 354.4h0M560.5 333h0M561.6 334.5h0M552.5 359h0M564.4 358.6h0M561.2 354.6h0M552.1 342.8h0M557.6 333.2h0M559.7 349.3h0M559.9 364.7h0M554.2 355.8h0M543.4 339.6h0M554.9 355.3h0M558 360.4h0M558.4 354.7h0M552.5 347.3h0M554 338.6h0M559.3 358h0M555.4 352.8h0M562.2 332.8h0M553.9 352.3h0M557.1 349.9h0M553.7 352.5h0M560.1 346.7h0M557.3 354.5h0M552.8 357.4h0M556.5 357.5h0M559.6 331.9h0M548.9 364.3h0M551 349.7h0M551.5 349.9h0M554.2 351.8h0M554.4 359.8h0M561.4 363.8h0M553.6 349.2h0M556 350h0M551.6 339.8h0M565.2 344.8h0M558.8 350.3h0M555.1 359.5h0M555.5 351.2h0M556.9 347.6h0M556.1 366.2h0M558.3 355.1h0M551 355.9h0M560.8 339.3h0M556 353.9h0M559.1 356.6h0M558.7 349.8h0M557.1 349.8h0M554.8 354.1h0M557.3 356.5h0M553.8 351.6h0M555.2 340.7h0M552.5 348.4h0M546.1 360.1h0M553.2 351.9h0M557.3 343.4h0M552.5 353.5h0M561.2 332.8h0M556.5 349.6h0M563.3 345.6h0M554.2 355.2h0M554.9 354.2h0M555.2 367.3h0M544.5 348h0M556.4 348.6h0M560.3 336.1h0M561.3 351.5h0M542.2 357h0M553 349.2h0M553.7 360.1h0M559.7 345.1h0M547.2 349.7h0M559.5 329.2h0M558.4 359.6h0M550.2 351.2h0M559.9 347h0M555.3 356h0M561.6 338h0M555.8 360.5h0M557.4 350.9h0M561.8 337.9h0M559 352.2h0M557.4 357.6h0M559 360h0M547.8 354.7h0M562.4 361.1h0M560.3 350.6h0M562.9 335.9h0M556 357.9h0M556.7 358.9h0M553.5 352.2h0M551.4 359.6h0M565.7 351.2h0M556.1 359.8h0M552.7 349h0M550.7 360.6h0M560.6 329.9h0M563.1 356.5h0M558 346.4h0M556.3 364.4h0M557.2 354.7h0M554.3 358.3h0M553.3 359.4h0M557.2 352.2h0M559.4 355.2h0M558.2 344.8h0M561.1 352.4h0M560 354h0M558.2 354.9h0M552.8 352.8h0M556.4 351.9h0M559 356.3h0M562.7 346h0M566.7 348h0M548.9 356.1h0M552.7 356.9h0M565 349.2h0M555.2 345.6h0M555.1 352.8h0M560.8 332.6h0M552.4 343.6h0M553.4 351.2h0M543.9 360.9h0M559 349.2h0M548.1 350.2h0M553.6 350.8h0M552.6 351.3h0M561 349.5h0M558.2 352.3h0M562.7 348.2h0M552.9 356.4h0M558.5 349.4h0M560.4 349.4h0M553.2 346h0M561.6 340h0M564.2 336.4h0M563.9 333.8h0M557.6 359.4h0M558.5 352.3h0M554.8 358.1h0M557.8 348.5h0M558.1 337.1h0M559.7 356.1h0M558 337.5h0M557.9 350.2h0M554.6 350h0M547.8 362.9h0M554.8 359.3h0M565.6 343.2h0M557.6 350.9h0M558.1 356h0M553.8 347.6h0M557 353.5h0M549.8 354.7h0M554.2 359h0M559.5 342h0M552.4 350.9h0M557.5 360.7h0M557.3 352.3h0M544.7 353.1h0M555.8 350.5h0M555.6 352h0M559.2 354.6h0M556.7 357.5h0M560 357h0M551.3 350.5h0M548.2 354.7h0M559.5 360.4h0M557.7 358.4h0M554.1 355.2h0M559.3 356.5h0M555.6 352.2h0M558.8 331.5h0M557.5 363.3h0M554.6 359.4h0M553.1 354.3h0M559 350.4h0M566.1 345.8h0M556.6 354.2h0M559.5 358.1h0M550.5 348.4h0M558.5 353.7h0M552.7 352h0M551.2 355.2h0M550.3 335.8h0M557.7 360.9h0M564 359.8h0M563.3 353.1h0M559.2 349.9h0M548.4 357.1h0M559.4 356.6h0M558.9 351.7h0M555.1 350.2h0M564 342.2h0M554.6 337.1h0M559.9 355.6h0M551.5 341.4h0M561.7 327.5h0M560.9 336.2h0M556.5 356.6h0M555.1 351.3h0M553.2 355.5h0M555.7 345.7h0M555.3 350.5h0M559.9 359h0M559.3 353.4h0M559.4 349.2h0M556.2 357.2h0M555.2 336.2h0M545.6 349.5h0M552.4 354.6h0M555.1 358h0M550.5 337.6h0M559.7 355h0M561.5 353.7h0M553 348h0M562.7 344.8h0M554.8 358.3h0M554.4 358.7h0M561 341.1h0M556.1 349.7h0M548.2 357h0M552.6 353.4h0M559.9 333.1h0M554.2 357.4h0M547.7 363.3h0M557.4 362.7h0M561.7 354.5h0M555.1 353.4h0M560 336.3h0M558.2 360.8h0M555.4 339h0M561.1 348h0M557.3 351.3h0M553.5 364.9h0M559.9 343.5h0M556 353.7h0M557.2 352.2h0M552.3 361h0M554 352.4h0M564.3 323.3h0M558.6 354.8h0M555.7 355.9h0M549.9 362.5h0M556.3 357.4h0M561.7 336.2h0M560 335.9h0M557.6 361.9h0M558.9 351.5h0M550.2 355.4h0M557.1 343.9h0M556.2 352.8h0M559.8 347.3h0M554.1 353.8h0M554.8 344.9h0M562 351.6h0M558.5 350.6h0M556 360.8h0M559.8 353.3h0M556.9 359h0M552.4 361.8h0M557.4 353.7h0M563.1 362.2h0M554.6 358.4h0M552.5 352.5h0M557.2 352.8h0M561.5 352.3h0M557.8 344.4h0M557.4 355.3h0M558.6 353.8h0M551.9 348.2h0M558.6 341.5h0M551.9 357.4h0M556.2 351.8h0M557.1 349.8h0M552.1 358.6h0M560.8 331.5h0M553.8 345.2h0M554.3 348.2h0M550.9 358.5h0M557.6 350.9h0M559.1 331.2h0M558.1 350.5h0M557.1 351.4h0M554.7 350.1h0M557.2 357.9h0M551.2 354.2h0M562.7 351.3h0M564.1 335h0M560.1 344.6h0M554.7 352.5h0M554.2 357.3h0M559.8 362.9h0M557.2 341.2h0M557.3 363.7h0M559.9 340.4h0M560.7 347h0M562.6 350h0M556.9 355.6h0M558.4 350.1h0M556.7 347.1h0M556 354.7h0M552.1 335.8h0M560.4 337.7h0M554.9 352.7h0M547.2 359.7h0M556.8 351.7h0M550.3 342.3h0M560.9 347.5h0M556.6 358.8h0M555.2 356.1h0M558.8 350.2h0M557.3 351.2h0M555.8 344.9h0M552.3 358.1h0M558 334.2h0M556.4 354.7h0M549.5 359h0M561.3 331.4h0M553.6 356.4h0M555.6 365.1h0M555.4 356.8h0M560.3 355.2h0M553.3 353.8h0M561.1 343.9h0M547 363.9h0M556.3 357.5h0M559.7 354.2h0M559.6 339.7h0M552.2 351.4h0M555 348.5h0M559 360.5h0M554.6 339.9h0M563.9 356.3h0M555.1 355.7h0M549.7 361.6h0M556.1 354.3h0M559.1 345.5h0M560.7 346h0M556.3 362.5h0M554.1 355.6h0M558.7 353.6h0M546.4 360.4h0M555.1 355.6h0M554.6 351h0M560 335.7h0M552 351.4h0M548 363.6h0M564.7 336.5h0M552 351.7h0M554.9 339.4h0M559 340.1h0M553.9 350.7h0M562.2 360h0M559.5 336.6h0M553.7 344.9h0M563.3 356h0M557.7 365.8h0M549.1 363.2h0M553.4 356.4h0M556.2 349.6h0M556.1 358.1h0M557.9 332h0M561.3 359h0M559.3 349.9h0M554 360.4h0M561 360.1h0M558.3 348.3h0M563.6 358.1h0M555 360.8h0M555.8 342.5h0M547.1 350h0M552.2 360.1h0M552.2 362.4h0M562.3 355h0M551.9 353.1h0M544.2 345.6h0M560.7 343.5h0M561.5 334.7h0M554.6 352.7h0M554.1 345.6h0M555.1 357h0M561.4 331.6h0M560.5 351.7h0M553 348.2h0M559.1 354.9h0M544.7 348.7h0M552.6 362.3h0M558.3 353.8h0M557.3 361.4h0M563 348.7h0M559.3 342.6h0M559.5 355.7h0M555.2 353.3h0M562.3 350.5h0M556.7 352.8h0M551.6 352.2h0M552.1 341.9h0M559.1 333h0M564.2 343.7h0M549.4 342h0M557.9 336.4h0M549.2 362.9h0M563.2 348h0M560.3 343.6h0M560.1 359.1h0M554.8 357.8h0M547.9 360.1h0M548.8 353.7h0M550.1 358.3h0M560 348.4h0M556.8 353.4h0M556.5 360.4h0M561.4 356.9h0M560.3 349.7h0M559 352.3h0M553.6 360.4h0M561.4 347.1h0M551.1 352.9h0M561.1 350.5h0M555.2 353.4h0M561.6 354.5h0M562.1 351.4h0M554.6 355.8h0M549.3 365.7h0M554.4 354.4h0M554.8 350.5h0M552.7 353.1h0M557.5 338.5h0M561.4 335.4h0M560 353.9h0M561.3 348.6h0M553.1 350.9h0M551.1 360.6h0M562.7 334h0M562.4 355.4h0M565 356.1h0M553.6 342.4h0M559.9 358.1h0M551.4 347.9h0M561.1 354.8h0M559.6 350.8h0M550 358.7h0M560.9 356.5h0M554.7 344.3h0M556.5 358.3h0M554.9 349.1h0M560.8 350.4h0M566 334h0M553.3 357h0M556.1 353.7h0M559.9 343.4h0M559.4 352.6h0M554.1 347.8h0M549.6 355.8h0M553.5 350.6h0M556.3 353.4h0M554.9 348.5h0M552.7 355.7h0M558.6 352.5h0M561.3 343.4h0M550.8 360.7h0M561.6 356.9h0M562 339.3h0M559.3 354.4h0M549.3 353.2h0M556.5 364.4h0M553.1 363.8h0M555.4 364.6h0M557.5 361.4h0M550.7 352h0M559.8 356.5h0M556.1 350.4h0M561.4 339.8h0M554.2 354.7h0M563.9 360.7h0M558.4 348.9h0M545.4 363.2h0M551.4 350.9h0M547.7 361.8h0M555.8 355.5h0M552.7 364.6h0M548 356.9h0M553.7 348.2h0M556.2 352.9h0M559.3 352.6h0M559.3 353.3h0M559.4 364.4h0M558.6 351.4h0M555.2 352.5h0M554.4 352.6h0M557.5 356.8h0M551.5 352h0M558.1 356.7h0M558.5 359.1h0M552.6 364.3h0"/></defs>
<g clip-path="url(#cp13)" fill="none" stroke-linecap="round"><use href="#pcp13" stroke="#2a3aa8" stroke-width="0.8"/><g filter="url(#dn4)"><use href="#pcp13" stroke="#000" stroke-width="0.6"/></g></g>
<rect x="535.6" y="326.2" width="41.4" height="18.9" fill="none" stroke="#777" stroke-width="0.7"/>
<text x="526.1" y="323.5" font-size="9.2" fill="#1e1e1e">10.6</text>
<rect x="589.1" y="313.9" width="55.5" height="55" fill="none" stroke="#d4d4d4" stroke-width="0.7"/>
<path d="M587.1 317.9h2M585.1 316.9l0.9 -0.5M593.1 368.9v2M587.1 329.65h2M585.1 328.65l0.9 -0.5M604.98 368.9v2M587.1 341.4h2M585.1 340.4l0.9 -0.5M616.85 368.9v2M587.1 353.15h2M585.1 352.15l0.9 -0.5M628.73 368.9v2M587.1 364.9h2M585.1 363.9l0.9 -0.5M640.6 368.9v2" stroke="#9a9a9a" stroke-width="0.6" fill="none"/>
<line x1="587.5" y1="362.85" x2="589.1" y2="362.85" stroke="#111" stroke-width="1.4"/>
<line x1="600.37" y1="369.7" x2="603.37" y2="369.7" stroke="#222" stroke-width="1.3"/>
<clipPath id="cp14"><rect x="589.5" y="314.3" width="54.7" height="54.2"/></clipPath>
<defs><path id="pcp14" d="M622.2 355.9h0M619.8 357h0M626.4 338h0M622.9 329.8h0M623.3 352.9h0M630 346.8h0M626.9 356.1h0M625.4 345.4h0M622.1 349.7h0M625.9 330.5h0M620.1 361.4h0M624 355.1h0M622.3 352.4h0M625.2 346.7h0M621.1 349.1h0M623.5 349.4h0M622.5 333.7h0M623 351.5h0M616.8 358.6h0M622.6 353.8h0M618.6 356.3h0M616.3 362.7h0M619.4 352.4h0M623.4 341.7h0M623.9 339.6h0M624 345.2h0M615.7 362.7h0M627.6 345.1h0M620.6 340.9h0M616.3 345.4h0M613.1 356.8h0M621.8 361.8h0M616.5 354.3h0M628.5 339.7h0M628.7 350.5h0M621.5 353.4h0M621 355.9h0M622.7 353.5h0M620.7 351.4h0M616.3 357.6h0M613 358.8h0M620.2 351.3h0M620.6 355.6h0M623.5 353.1h0M618.7 355.1h0M617.3 363.6h0M623.8 351.8h0M622.3 354.4h0M619.6 351.1h0M618.6 355.8h0M626.4 335.7h0M620.4 345.6h0M615.1 360.1h0M623.9 354.5h0M614.4 350.7h0M623.8 341.9h0M622 355.6h0M623.6 352.1h0M623.3 348.7h0M625.4 358.9h0M628.3 350.7h0M624.7 353.6h0M619.2 354.6h0M620.8 348h0M610.9 354h0M620.6 351.1h0M624.3 350.2h0M616.6 355.4h0M620.3 361.6h0M625.8 345.8h0M618.3 345.2h0M627.4 327.4h0M629.6 349.4h0M614.3 343.7h0M622.8 348.1h0M620.1 351.5h0M625.1 354.2h0M619.7 355.1h0M623.8 356.3h0M624.6 346.8h0M618.6 352.6h0M620.2 344.9h0M622.8 350.5h0M623.4 360.8h0M620.8 352h0M625 340.1h0M624 347.6h0M613.2 337.9h0M627.5 351.5h0M618.3 355.5h0M624.1 338.4h0M620.3 350.5h0M622.2 342.7h0M625.2 352.9h0M617.4 347.3h0M613.2 357.2h0M621.2 353.8h0M633.5 337.5h0M609.3 361.5h0M619.9 358.4h0M620.2 347.8h0M616.6 361.9h0M621.7 355.9h0M622.4 351.9h0M620.2 356.2h0M635.1 347.1h0M620.2 364.1h0M618.8 353.2h0M627.3 354.3h0M618.2 353.4h0M631.9 338.6h0M625.7 339.5h0M622.8 325.8h0M635.1 340h0M621.3 351h0M616.7 356.6h0M620.7 367.5h0M618.5 352.6h0M627.4 355.8h0M620.7 357.1h0M622.2 338h0M621.1 361.4h0M623.7 358.3h0M616.9 351.6h0M621.7 355.8h0M614.4 355.1h0M617.5 347.8h0M620.4 352.3h0M619.6 351.3h0M620.5 351.8h0M626.2 341.5h0M626.9 342.1h0M626.5 353.2h0M619.4 353.4h0M630.7 342.8h0M624 336.5h0M616.4 348.7h0M617.5 357.9h0M622.8 354h0M615.7 356.9h0M626.2 355.9h0M626.7 343.1h0M624 344h0M625.5 349.5h0M616.1 347.3h0M620.6 342.7h0M626.9 340h0M624 361.1h0M621.8 356.5h0M627.8 352.6h0M611.2 360.1h0M618.8 352.3h0M623.5 349.2h0M622.3 354.8h0M623.4 364.8h0M621.3 352.9h0M619.9 340.8h0M608.8 364.6h0M615.7 361.6h0M617.8 353.6h0M623.4 360.9h0M625.2 354.6h0M622.3 353.1h0M615 355.8h0M619.8 341h0M623.8 353.7h0M626.4 355h0M622.8 351.8h0M617.5 352.6h0M613.4 358.2h0M624.9 350.8h0M621.8 357.5h0M610.1 356.1h0M622.2 349.9h0M615.6 360.2h0M622.6 349.3h0M619.9 351.2h0M626.6 348h0M618 351.3h0M618.9 363.8h0M618.4 352.9h0M618.9 356.4h0M621.1 360.9h0M626.1 346.6h0M622.4 353.4h0M618.6 360.7h0M611.2 353.2h0M627.6 347.6h0M623.8 356.6h0M620.9 351.6h0M622.2 356.1h0M623.1 362.8h0M626.4 341h0M612.6 360.7h0M621 357.3h0M625.5 339.5h0M622.3 352.4h0M617 361.7h0M621.5 354.2h0M621.4 348.1h0M620 353.5h0M620 352.5h0M619.9 353.6h0M617.7 351.6h0M622.3 353.2h0M616.5 359.5h0M617.9 352.7h0M603.3 359.6h0M627 351.8h0M621.8 354.2h0M617.2 356h0M618.1 356.9h0M623.1 354.7h0M620.4 349.6h0M622.5 351.4h0M621.3 353.6h0M622.2 356.6h0M619.4 354.5h0M626.4 350.6h0M610.2 363.5h0M614.4 354h0M621.1 347.7h0M608.7 341.7h0M623.1 343h0M618.9 346.9h0M619.4 360.4h0M621.7 330.4h0M618.6 360.5h0M619.8 347.9h0M622 357.5h0M622.3 355.5h0M616.2 355.5h0M625.4 342.9h0M612.8 358.8h0M619 358.1h0M622 355.5h0M622.6 362.4h0M621.6 344.4h0M624.5 357h0M620.1 356.7h0M618.8 359.7h0M624 351.5h0M618.6 339.4h0M617 360.8h0M627.8 335.8h0M625.8 332.5h0M617.7 356.2h0M625.2 356.6h0M621.4 357.2h0M626.9 348.3h0M621.7 351.6h0M626.1 352.5h0M620.6 358.9h0M621 347.6h0M615.7 354.7h0M623.4 349.5h0M624.9 354.2h0M621.8 355.2h0M624.3 351.7h0M625.2 338.8h0M625.6 336.6h0M623.5 350.8h0M620.3 357.9h0M616.5 362.3h0M620.6 348.6h0M619.8 350.6h0M621 356.6h0M620.6 350.7h0M615 364.4h0M623.7 350.9h0M621.9 349.1h0M618.4 351.3h0M618.1 359.4h0M625.8 335.8h0M620.4 353.2h0M619.5 359.6h0M622.6 355.6h0M623.9 353.9h0M623.1 348.3h0M626 338.3h0M628.2 335.9h0M620 362.9h0M620.3 354.2h0M624.6 353.5h0M625.6 345.5h0M620.3 357.2h0M617.7 359.8h0M623.4 360.9h0M620.6 352.3h0M615.2 360.6h0M624.2 350.9h0M621.3 352.9h0M619 353.8h0M611.1 355.5h0M610.9 355h0M620 353.5h0M624.3 362h0M623.8 361.9h0M619.5 359.7h0M621.2 351.8h0M634.2 345.4h0M619.7 362.9h0M623.1 353.2h0M626.1 355.9h0M628.7 337.7h0M624.8 351.5h0M620.6 356.7h0M625.2 336.6h0M622.8 344.9h0M623.3 355.4h0M616.2 361.9h0M618 348h0M625.4 355h0M620.7 354.7h0M619.3 356.8h0M619.8 359.4h0M625.1 341.7h0M623.2 340.6h0M618.3 365.3h0M626.2 356.9h0M618.6 334.9h0M627.7 356.6h0M623.5 353.3h0M613.3 358.5h0M621.9 355.6h0M612.4 349.2h0M628.6 349.7h0M628 339.9h0M622.3 353.9h0M623 352.6h0M619.4 355.5h0M622.4 355.6h0M613.3 362.2h0M627.9 354.8h0M622 356h0M624.9 341.3h0M621.3 357.1h0M610.7 362.4h0M620.9 361.3h0M618.6 362.6h0M621.7 362.7h0M619.8 356.2h0M626 358.2h0M608.4 357.9h0M615.4 355.2h0M617.6 350.8h0M620.8 342h0M616.1 359.9h0M621.7 352.1h0M632.3 348.7h0M625.2 350.2h0M615 353.7h0M624.3 349.5h0M622.7 352.8h0M622.7 349.6h0M620.3 362.3h0M614.5 363.2h0M632.2 340.3h0M621.9 353h0M623.6 345.6h0M622.3 353.1h0M624.9 355.7h0M619 360.5h0M630.6 348.3h0M619 356.4h0M620.2 349.3h0M624.7 358.5h0M618.4 358.7h0M619.7 352.6h0M620.6 354.3h0M619.8 356.2h0M618.7 353.1h0M620.1 345.8h0M626.2 363.8h0M621.8 350.9h0M622.1 348.1h0M615.4 349.8h0M621.8 356.6h0M622.2 351.8h0M622.3 356.6h0M619.9 354.1h0M620.8 358.5h0M625.3 337.8h0M623 359.5h0M619.7 352.8h0M620.4 362.9h0M624.6 352.8h0M612.6 364.5h0M629.8 348.3h0M622.7 351.7h0M620.8 361.7h0M618 362.4h0M611.9 346.6h0M616.4 352.8h0M626.7 347.3h0M620.1 357h0M622 358.4h0M611.4 361.4h0M619 342.2h0M624.7 350.7h0M624.8 348.8h0M618.2 351.5h0M618 345.7h0M621.4 358h0M617.6 356.5h0M616.6 355.6h0M622.8 353.6h0M617.4 353.1h0M621.9 358.8h0M624.5 348.1h0M616.7 351.1h0M622.8 357.6h0M612.8 366.9h0M626.2 348.9h0M623.1 359.2h0M613.1 354.2h0M627.2 344.1h0M614.6 352.9h0M619.3 353.5h0M631.3 353.4h0M616.1 360.8h0M621.5 359h0M623.5 353h0M626.6 346.6h0M618 352.5h0M623.5 351.2h0M622.9 360h0M620.6 353.1h0M632 344h0M621.4 357.8h0M624.4 357.8h0M622.9 359.1h0M618.2 362h0M623.2 358.2h0M614.8 359.3h0M613.2 346.3h0M619.2 353.5h0M625.1 352.8h0M624.1 339.8h0M620.7 364.7h0M614.6 359.2h0M622.8 356.7h0M627.4 353.8h0M623.2 356h0M617.2 354h0M623.6 356.1h0M618 365.1h0M611.1 359.5h0M618.8 360.3h0M619 359.8h0M629.4 347.6h0M604.7 355.5h0M622.1 353.2h0M618.2 350.1h0M619.5 351h0M624.2 350.2h0M625.5 353.3h0M621.8 351.4h0M622.4 354h0M623 354.2h0M616.4 360.5h0M625.4 350.6h0M621 355.7h0M617.4 351.8h0M623.8 338.4h0M625.5 346.7h0M625 355.6h0M621.4 356.1h0M621.5 342.3h0M625.4 343.3h0M625.6 353.9h0M622.2 356h0M611.5 357.1h0M623 350.8h0M619.6 354.8h0M623.1 357.6h0M620.8 351.5h0M623.5 354.8h0M626 349h0M624.9 363.7h0M627.4 351h0M621.4 354h0M621.5 350.3h0M623.9 353.6h0M624.7 347.7h0M610.5 360.9h0M608.4 349.1h0M619.8 357.2h0M627.4 352.8h0M623 353.4h0M621.7 350.2h0M625.2 339.7h0M622.5 351.3h0M625.4 352.2h0M619.7 359.6h0M620.5 340.8h0M619.2 353.4h0M623.4 349.2h0M623.1 349.8h0M623.4 352.5h0M608.1 357.5h0M624.5 355.7h0M612 358.7h0M627.5 344.9h0M624.4 358.8h0M617.9 359.4h0M621.8 353h0M621.6 349.7h0M621.4 354.4h0M615.5 358.4h0M619.4 349h0M612.1 342.4h0M621.6 352.4h0M621.5 353.1h0M620.4 354.6h0M626.3 345.8h0M611.7 360.5h0M629.8 341h0M622.3 350.8h0M621.6 364.3h0M619.7 353.3h0M622.9 355.1h0M622.6 359.6h0M622 346.3h0M616.6 358.4h0M629.7 352.7h0M618.9 352.2h0M624.1 354.9h0M620.6 352h0M623.5 359.9h0M626.5 352.9h0M619.4 340.8h0M622.3 363.1h0M623.5 351.3h0M620.3 355.8h0M621.4 346h0M625.7 345.2h0M615 359.4h0M622.9 344.6h0M618.5 356.5h0M628.2 355.8h0M610.6 365.7h0M620.5 357.1h0M624.2 344.5h0M621.6 338.7h0M621.1 360.4h0M626.2 351.8h0M626.3 340.8h0M620.2 348.9h0M624.2 352.5h0M622.2 356.3h0M615.8 359.2h0M620 339.8h0M627.5 351.3h0M625.8 336.6h0M617.9 357.6h0M615.2 362.3h0M608.5 362.6h0M613.2 347h0M618.2 358.3h0M613.3 357.4h0M620.6 347.6h0M626.6 363h0M622.3 357.7h0M603.9 358.8h0M611.3 359.5h0M617.3 351.9h0M623.8 350.9h0M618.1 356.1h0M614.3 352h0M613.1 353.4h0M626 354.6h0M618.6 350.3h0M633.6 343.2h0M616.8 362.3h0M613.5 360.2h0M623.6 356.9h0M614.9 350h0M610.5 352.3h0M611.7 356.8h0M616.8 352.4h0M619.9 356.1h0M616.9 355.9h0M624.6 352.6h0M622.1 356.5h0M621.9 356.9h0M626.6 364.3h0M624.6 356.4h0M620.5 358.1h0M619.6 355.2h0M622.7 334.2h0M620.3 342.1h0M620.1 351.8h0M622.1 356.8h0M619.5 359h0M621 330.5h0M617.6 352.5h0M622.3 353.8h0M624.7 347.7h0M619.5 356.1h0M619.9 350h0M622.3 351.9h0M623.2 348.2h0M616.6 356.7h0M611.5 350.6h0M622 360h0M629.4 341h0M619.1 361.1h0M622.5 352h0M618.4 364.7h0M622.9 359.7h0M619.3 353.8h0M623.7 355.6h0M609.3 368.1h0M624 357.9h0M619.5 358.8h0M621.3 350.9h0"/></defs>
<g clip-path="url(#cp14)" fill="none" stroke-linecap="round"><use href="#pcp14" stroke="#2a3aa8" stroke-width="0.8"/><g filter="url(#dn4)"><use href="#pcp14" stroke="#000" stroke-width="0.6"/></g></g>
<rect x="599.9" y="326.2" width="41.4" height="18.9" fill="none" stroke="#777" stroke-width="0.7"/>
<text x="590.4" y="323.5" font-size="9.2" fill="#1e1e1e">6.60</text>
<text x="647.8" y="347.5" font-size="9.5" fill="#1e1e1e">HN372</text>
<rect x="524.8" y="372.2" width="55.5" height="55" fill="none" stroke="#d4d4d4" stroke-width="0.7"/>
<path d="M522.8 376.2h2M520.8 375.2l0.9 -0.5M528.8 427.2v2M522.8 387.95h2M520.8 386.95l0.9 -0.5M540.67 427.2v2M522.8 399.7h2M520.8 398.7l0.9 -0.5M552.55 427.2v2M522.8 411.45h2M520.8 410.45l0.9 -0.5M564.42 427.2v2M522.8 423.2h2M520.8 422.2l0.9 -0.5M576.3 427.2v2" stroke="#9a9a9a" stroke-width="0.6" fill="none"/>
<line x1="523.2" y1="421.15" x2="524.8" y2="421.15" stroke="#111" stroke-width="1.4"/>
<line x1="536.06" y1="428" x2="539.06" y2="428" stroke="#222" stroke-width="1.3"/>
<clipPath id="cp15"><rect x="525.2" y="372.6" width="54.7" height="54.2"/></clipPath>
<defs><path id="pcp15" d="M552.9 417.5h0M547.8 418h0M557.2 415.7h0M562.2 410.2h0M557.9 410.2h0M555.8 406.1h0M557.9 396.2h0M557.7 411.1h0M550.6 418.5h0M557.5 412.7h0M556.7 410.2h0M557.4 412.1h0M558.8 397.5h0M561.5 409.2h0M558.3 413.2h0M561.4 403.6h0M558.9 419.8h0M560.1 409.1h0M558.8 410.8h0M558.3 416.2h0M558.8 411.1h0M558.8 416.9h0M555.8 415h0M558.6 412.1h0M553.8 418.5h0M550.3 416.5h0M554.2 410.1h0M558.1 410h0M561.7 396.2h0M547.7 416.3h0M557.6 411.2h0M562.7 407.6h0M558 414.2h0M557.1 417.8h0M552.8 421.8h0M562.4 409.8h0M561.3 408.3h0M553 416.1h0M553.8 416.9h0M551.3 410.3h0M553 414.2h0M559.2 413h0M562.5 418h0M549.4 413.3h0M550 419.1h0M555.1 411.1h0M555.2 412h0M562.9 401.6h0M552.2 413.7h0M551.5 415.2h0M545.2 419.1h0M559.7 415.9h0M551.8 412.4h0M561.1 398.5h0M559.1 412.8h0M555.7 413.7h0M558.3 412.2h0M555.1 406.5h0M556.2 410.6h0M559.9 412.1h0M560.1 413.9h0M563 412.9h0M551.6 412.5h0M561.5 397.2h0M553.8 418.1h0M558.5 407.2h0M562.8 405.9h0M557.5 420.1h0M553.7 411.4h0M552.1 406h0M561.5 396.5h0M556 415.8h0M557.8 414.3h0M557.9 416.3h0M553.9 412.2h0M558.7 411.9h0M556.9 409.8h0M561.3 409.4h0M556.9 414.3h0M558 410.9h0M554.7 418.7h0M554.7 409.5h0M562.4 410.5h0M555 411.4h0M560.7 411.3h0M561 411.1h0M564.4 409.5h0M557.5 411.6h0M557.8 416.1h0M558.3 416.7h0M556.6 414.5h0M558.4 415.1h0M553.3 417.5h0M555.9 413.8h0M558.4 405.1h0M562.9 403.2h0M566 411.8h0M557.5 413.1h0M556.3 415.1h0M560.4 403.9h0M558.4 410.4h0M554.6 417.1h0M558.3 409.3h0M548 416.7h0M560.6 411.1h0M562.6 401.2h0M556.8 413.7h0M560.7 413.5h0M557.2 411.1h0M559.9 415h0M552.8 419.8h0M562.2 414.7h0M552.6 419.8h0M563.7 409.3h0M554.4 410.5h0M565.7 410.8h0M559.8 409.9h0M559.7 410.1h0M557.5 415.7h0M553.3 410.6h0M563.3 409.1h0M559.1 413.1h0M557.8 415.2h0M553.1 410.5h0M554 411.5h0M563.3 394.3h0M558.1 414.2h0M561.4 409.8h0M558 416.5h0M556.9 412.8h0M562.2 406.7h0M557 414.5h0M556.2 418.1h0M559 410.3h0M561.5 395.7h0M561 408.3h0M552.7 419.1h0M558 415.4h0M560.7 410h0M560.8 415.9h0M557.2 413.8h0M552.9 407.8h0M551.7 420.4h0M558.3 407.2h0M554 411.2h0M555.7 412.4h0M562.5 399.5h0M561.4 389.4h0M555.9 412.1h0M548.8 415.7h0M558.2 400.3h0M552.4 408.5h0M551.4 416.2h0M553.7 413.8h0M555.9 413.7h0M553.6 408h0M562.8 408.3h0M561.9 408.8h0M561.7 417.1h0M559.5 411.2h0M558.4 401.6h0M562.2 413.6h0M558.5 417.7h0M559.2 407.4h0M561 416.4h0M561.8 394.4h0M556.9 413.4h0M553.4 411h0M558.6 417.1h0M561.7 411.8h0M555.1 409.5h0M561.3 411.2h0M555 417.6h0M557.2 411.6h0M558.3 411.8h0M557.8 415.6h0M556.5 409.9h0M562.4 410.3h0M563.8 401.1h0M551.5 415.5h0M558.8 410.9h0M555.2 412.6h0M564 412.9h0M559.5 396h0M557.1 418.8h0M555.1 409.9h0M558.6 411.3h0M558.4 421.6h0M554.7 419.8h0M556.2 417.3h0M563.6 412.1h0M553.8 418.8h0M562.3 407.6h0M555.3 418.8h0M559 415.1h0M566 414h0M554.8 418.5h0M556.3 414.8h0M557.3 422.5h0M556 408.5h0M558.1 409.8h0M557.9 411.1h0M564.9 413.7h0M560.6 412.1h0M556.5 420.7h0M555.5 406.3h0M557.3 417.8h0M564.5 404h0M561.1 413.7h0M561.2 412.5h0M562.9 407.3h0M553.1 413.2h0M558 407.9h0M558.1 408.4h0M559.3 402.2h0M561.2 416.8h0M555.7 417.5h0M559.4 410.5h0M558.7 412.9h0M560.6 411.2h0M548.8 412.3h0M550.8 411h0M556.2 410.8h0M564.9 409.9h0M556.8 416.1h0M555.9 415.8h0M562 410.9h0M556.3 408.6h0M559.7 412.8h0M556.3 414.3h0M553.6 407.7h0M559.8 404.1h0M555.8 411.8h0M555.4 414.3h0M553.4 410.4h0M550 409.9h0M559 410.5h0M550.8 413.5h0M559.1 400.7h0M559 414.2h0M559.9 405.9h0M558 411.2h0M552.3 416.5h0M556.3 414.6h0M558.5 414.9h0M555.1 409.3h0M557.7 391.3h0M561.4 405.8h0M559.4 411.2h0M551.6 416.8h0M551.8 418.1h0M559.2 402.9h0M558.3 410.4h0M561.4 409.6h0M562.1 409.5h0M556 416.4h0M547.1 416.2h0M553.7 411.4h0M553.5 418.2h0M552.9 413.8h0M562.9 409.6h0M564.2 416.8h0M550.5 417.2h0M559.8 411.7h0M553.7 411.1h0M556.9 416.3h0M561.2 398.2h0M562.4 404.2h0M558 417.6h0M562.9 412.8h0M561.6 415.1h0M555.3 405.9h0M559.3 411.2h0M558.3 416.9h0M560.5 413.7h0M557.4 419.6h0M558.8 414.7h0M555.4 417.9h0M557.7 415.1h0M558.5 413.1h0M563.1 409.5h0M553.2 423.5h0M545.6 421.6h0M556.6 415h0M557.7 410.6h0M562.3 411.3h0M555.5 416.9h0M559 415.4h0M562.5 412.8h0M557.3 416.5h0M555.5 409.6h0M559.5 410.4h0M549.9 419.2h0M569.4 411.4h0M552.8 411.9h0M557.9 412.3h0M562.5 399.6h0M553.1 415h0M558.5 414.6h0M559.9 412.5h0M555.9 415.7h0M561 399.1h0M556.4 412.1h0M555.2 412.6h0M557.9 416.5h0M559.6 401h0M550.8 419.4h0M557 408.6h0M555.2 406.1h0M555.2 413.3h0M563.6 413h0M550.4 415.1h0M554.7 405.7h0M558 406.4h0M551.2 412.8h0M562.4 398.7h0M563.3 413.2h0M555.8 408.7h0M555.3 407.3h0M566 415.3h0M559.8 411.4h0M548.5 416.4h0M554.7 414h0M558.1 416h0M560 411.9h0M559.6 412.2h0M546 417.3h0M560.5 411.5h0M557.6 413.3h0M555 414.1h0M550.2 421.9h0M562.1 410.6h0M550.6 417.2h0M558 414.8h0M556.3 418h0M556.6 412.5h0M555.1 417.3h0M554.1 412h0M560.8 414.7h0M557.9 406.1h0M560.9 412.6h0M560.1 410.7h0M554.4 414.5h0M561.1 412.2h0M554.2 417.3h0M555.7 408.6h0M561.1 408.7h0M557.6 410.6h0M554.9 410.9h0M560.5 414.2h0M557.8 408.7h0M557.4 407.3h0M553.4 419.6h0M560.8 410.9h0M554.9 417.6h0M551.3 415.6h0M559.7 411.8h0M555.5 410h0M561.6 410.6h0M554.3 419.5h0M560.6 407.7h0M559.9 409.3h0M557.9 411.9h0M549.7 417h0M557.1 420.5h0M551.6 416.2h0M562.5 409.1h0M556.9 409.5h0M558.6 408.7h0M556.9 416h0M557.9 409.3h0M556.5 413.4h0M557 410.1h0M553.9 414.4h0M559.7 402.2h0M560.8 410.3h0M558.9 421.6h0M557.8 408.5h0M557.7 413.5h0M559.9 408.7h0M555.8 414.1h0M554.1 417.7h0M565.2 417h0M560.8 414.1h0M549 414.8h0M562.5 408.9h0M552.8 417.1h0M556.5 417.4h0M556.2 412.1h0M556.2 409.7h0M562.2 411.8h0M559.4 409.9h0M562.4 415.4h0M558.6 414.8h0M550.9 413h0M549.2 409.9h0M564.8 409.4h0M562.8 406.7h0M562.3 416.2h0M558.3 408.1h0M554.6 418.8h0M555.1 408h0M562.2 401.8h0M559.4 415.7h0M556 414.9h0M563.5 414.4h0M558.5 415.4h0M556.7 411.9h0M561.7 419h0M563.1 417h0M555.3 409.5h0M562 406.6h0M559.1 412.5h0M562.4 395.5h0M560.4 389.4h0M560.3 401h0M556.1 421.6h0M562 405.5h0M559.9 414.4h0M563.1 411.7h0M560.8 406.8h0M557.6 408.2h0M555.7 414.9h0M560.5 414.7h0M554.2 412.9h0M555.2 411h0M554.3 416.8h0M560.9 394.4h0M557.7 413.6h0M558.2 408.6h0M561.1 412.7h0M555.9 411.7h0M555 417.2h0M557 413.1h0M550 418.1h0M548.1 413.7h0M558.2 409.2h0M560.2 409.2h0M563.5 417h0M549 410.1h0M563.1 394.2h0M561 408.9h0M562.5 413.1h0M555.9 419.1h0M559.2 402.4h0M565.8 402.9h0M557.5 412h0M552.3 416h0M562.1 407h0M557.3 416h0M556 411.9h0M560.7 417.2h0M555.4 411.4h0M558.2 411.3h0M558 412.3h0M557.4 411.3h0M556.9 421.7h0M558.4 410.9h0M559.4 411.8h0M559.3 406.4h0M552.7 418.8h0M556.4 413.9h0M548 416.9h0M556.4 402.7h0M559.3 416.4h0M560 411.2h0M557.2 411.7h0M557.4 416.3h0M550.5 417.7h0M559.7 413.2h0M554.2 416.3h0M556.9 413h0M553.1 416.2h0M560.9 410.5h0M560.6 410.7h0M558.2 411.2h0M558.3 412.5h0M561.3 412.1h0M558.4 410.7h0M555.9 411.9h0M557.3 416.3h0M555.3 411.8h0M559.1 394.3h0M552.1 415.8h0M559.5 412.8h0M560.8 409.9h0M557.4 414.9h0M561.5 400h0M563.7 410.4h0M555.2 407.2h0M563.6 412.4h0M558.6 406.7h0M551.8 418.7h0M561.6 411.2h0M556.3 410.5h0M555.5 411.9h0M553.7 411.9h0M558.6 413.8h0M558.2 414.1h0M559 409.4h0M560.5 414.6h0M552 411.1h0M557.3 410.5h0M559.9 414.3h0M553.3 418.7h0M553.6 414h0M551.8 416.4h0M565 390.4h0M558 414.1h0M548.8 420h0M558 411.1h0M552.9 417.6h0M558.6 413.7h0M559.1 414.8h0M560 408.1h0M562 410.2h0M560.4 407h0M557.6 413.9h0M555.7 415.1h0M556 414.3h0M558.2 414h0M557.9 417.3h0M552.5 407.7h0M550 416.9h0M556.1 411h0M556.1 415.8h0M549.8 413.9h0M556.2 414.1h0M559.6 424.6h0M561.4 409.2h0M550 414.1h0M558.3 412.8h0M549.6 409.8h0M550 413.2h0M561.4 408.5h0M553 419.1h0M557.5 406.7h0M557.8 411.5h0M557.6 419.3h0M558 409.1h0M558.7 408.2h0M561 394.3h0M556.3 421.1h0M563.1 401.5h0M556.3 419h0M560 409.6h0M550.2 415h0M559.9 411.3h0M559.3 410.7h0M555.1 412.9h0M555.3 410.8h0M562.9 413h0M554.9 415h0M552.8 419.8h0M551.9 417h0M548.6 415.6h0M558 411h0M554.4 416.4h0M552.4 412.7h0M548.4 420.3h0M556.7 409.6h0M557.2 415.9h0M553.3 416.8h0M557.5 407.5h0M548.3 414.2h0M558.8 408.4h0M558.2 403.3h0M560.4 398.9h0M563.1 400.4h0M556.5 408.9h0M556.4 416.4h0M555.5 413.5h0M557.9 416.1h0M556.8 407.4h0M557.9 412.4h0M560.5 415h0M556.3 408.1h0M562.5 412.9h0M556.2 411.1h0M557.6 411.9h0M557.1 409.7h0M560.6 408.7h0M562.4 403.6h0M558.7 409.3h0M561.3 404.4h0M559.9 405.7h0M562 411.9h0M560.8 405.7h0M552.9 424.1h0M560.1 411.8h0M545.7 406h0M553.7 412.8h0M554.8 413.8h0M550.3 413.7h0M554.2 417.2h0M557 413.6h0M552.8 412.4h0M557.7 412.9h0M552.7 412.8h0M555.4 415.8h0M553 417.4h0M556.3 410.7h0M560.1 399.3h0M558.9 418.1h0M555.4 409.6h0M558.2 411.2h0M561.9 402.6h0M555.5 416.3h0M552.2 414.6h0M558.7 421h0M560.8 411.7h0M556.9 416.5h0M556.8 418.8h0M562.5 398.9h0M554.8 414h0M550.9 414.6h0M559 412.8h0M558.8 417.1h0M549.1 416.5h0M557.3 409.9h0"/></defs>
<g clip-path="url(#cp15)" fill="none" stroke-linecap="round"><use href="#pcp15" stroke="#2a3aa8" stroke-width="0.8"/><g filter="url(#dn4)"><use href="#pcp15" stroke="#000" stroke-width="0.6"/></g></g>
<rect x="535.6" y="384.5" width="41.4" height="18.9" fill="none" stroke="#777" stroke-width="0.7"/>
<text x="526.1" y="381.8" font-size="9.2" fill="#1e1e1e">1.34</text>
<rect x="589.1" y="372.2" width="55.5" height="55" fill="none" stroke="#d4d4d4" stroke-width="0.7"/>
<path d="M587.1 376.2h2M585.1 375.2l0.9 -0.5M593.1 427.2v2M587.1 387.95h2M585.1 386.95l0.9 -0.5M604.98 427.2v2M587.1 399.7h2M585.1 398.7l0.9 -0.5M616.85 427.2v2M587.1 411.45h2M585.1 410.45l0.9 -0.5M628.73 427.2v2M587.1 423.2h2M585.1 422.2l0.9 -0.5M640.6 427.2v2" stroke="#9a9a9a" stroke-width="0.6" fill="none"/>
<line x1="587.5" y1="421.15" x2="589.1" y2="421.15" stroke="#111" stroke-width="1.4"/>
<line x1="600.37" y1="428" x2="603.37" y2="428" stroke="#222" stroke-width="1.3"/>
<clipPath id="cp16"><rect x="589.5" y="372.6" width="54.7" height="54.2"/></clipPath>
<defs><path id="pcp16" d="M614.2 417.7h0M623.4 413.2h0M620.5 412.5h0M615.7 412.3h0M625.4 409.4h0M614.5 419.5h0M616.3 419h0M613.3 416.3h0M621.5 408.8h0M618.9 416.1h0M616 417h0M623.6 410h0M618.2 418.3h0M621.8 412.4h0M615.7 417.8h0M614.2 417h0M622.2 413.2h0M618.8 412.2h0M617.5 417.6h0M619.5 418.8h0M620.7 415.7h0M623.6 420.8h0M621 420.3h0M626.2 401.4h0M618.5 419.7h0M611.6 419.9h0M624.4 400.5h0M622.6 415.7h0M620.1 422.4h0M617 418.2h0M623.9 417.2h0M623.9 415.3h0M622.3 411.2h0M623.6 416.1h0M622.4 411.6h0M618.6 416.2h0M622.9 417.7h0M609.6 418.1h0M626 401.1h0M621.8 415.1h0M620.2 412.3h0M621.4 411.7h0M617.7 421.9h0M622.5 415.2h0M610 419.5h0M620.5 411.3h0M616.6 415.9h0M626.4 412.5h0M620.9 409.7h0M621.5 414.4h0M621.7 413.6h0M621.7 417.5h0M623.9 417.5h0M615.1 418h0M621.8 415.9h0M620.2 415.8h0M624.1 406.1h0M621.5 419.6h0M623.8 404.9h0M625.5 409.7h0M625.3 413.8h0M619.2 420.5h0M620.9 420.5h0M617.4 410.2h0M611.9 419.1h0M621.1 415.5h0M623.4 412.4h0M620.9 411.6h0M623.3 416h0M622.9 415.3h0M616.4 411.7h0M618.9 416.2h0M625.5 401.3h0M617.3 415.1h0M624.9 417.6h0M617.9 420.7h0M625.8 414.3h0M619.3 412.6h0M620.3 412.6h0M622 414.8h0M627.4 408.8h0M625.8 413.3h0M619.4 420.2h0M622.2 413.1h0M620.4 414h0M619.7 404.8h0M620.6 413h0M613.1 419.6h0M624 418.8h0M625.6 410.2h0M621.2 421.9h0M618 417.4h0M614.5 415.2h0M611 417.7h0M624.8 413.6h0M618.8 411.3h0M625.1 401.9h0M623.2 412.5h0M622.3 412.3h0M627.4 394.2h0M617.9 416.8h0M620.1 414.3h0M612.5 415.4h0M620.2 417.8h0M614.1 412.2h0M619.7 416.5h0M610.7 415.2h0M624.7 413.1h0M610.3 417.8h0M620.6 413h0M617.3 414.4h0M615.2 418.4h0M626.8 415.1h0M617.4 418.2h0M611.3 419.7h0M616.2 419.2h0M617.1 423.5h0M618.9 413.9h0M621.7 409.9h0M616.3 404.6h0M624.6 403.2h0M615.2 413.9h0M625.8 415.1h0M618.1 420.6h0M622.1 417.9h0M616.8 419.1h0M620.3 421.4h0M622.3 414.5h0M620.7 410.9h0M622 416.2h0M619.5 408.4h0M618.2 416.8h0M621 414.1h0M614.7 414.6h0M616.2 414.3h0M620.2 414.8h0M620.8 419.1h0M623.2 420.9h0M622.6 416.7h0M624.8 414.7h0M615.2 409h0M625.7 413.1h0M624.7 419.2h0M618.6 415.7h0M619 415.6h0M623.5 417.2h0M622.7 414.7h0M624 411.5h0M617.8 420.3h0M623.4 421.3h0M623 407.4h0M625.1 417.1h0M616.4 415h0M625.3 409.9h0M618.3 416.8h0M619.2 418.9h0M622 415.1h0M617.3 419.4h0M617.8 417.4h0M621.7 414.9h0M624.7 415.5h0M622.4 415.5h0M621.6 412.5h0M619.9 420.5h0M614.9 409.9h0M617.7 411.4h0M620.2 414.1h0M616 411.9h0M622.2 414.4h0M625.1 398.3h0M627.2 403.2h0M624.7 414h0M613.3 419h0M619.6 413.3h0M615.4 415.3h0M624.7 406.6h0M620.9 417.5h0M619.3 410h0M620.1 411h0M621.1 412h0M620.7 415.3h0M619.8 414.4h0M624.4 403.6h0M622.9 412.7h0M622.2 406.8h0M613.6 416.7h0M613 419.9h0M622.5 416.9h0M621.4 410.4h0M617.4 416.6h0M610.7 408.7h0M624.6 414.6h0M616.6 409.9h0M624.2 416.6h0M614.5 417h0M621.7 411.9h0M622.2 414.2h0M619.2 420.7h0M620.5 417.5h0M616.5 415.7h0M627 402.6h0M614.1 420.5h0M618.8 419.7h0M627.8 414.6h0M622.1 413.1h0M621.4 411.8h0M619.7 417.2h0M616.6 416.5h0M626.1 413.8h0M621.5 414.6h0M621 415.5h0M624.1 417.9h0M616.9 416.8h0M623.4 410.1h0M619.5 416.9h0M624.3 414.4h0M624.7 404.6h0M616.8 415.7h0M626.1 410.1h0M617.7 419.2h0M627.6 395.4h0M615.2 418.2h0M619.8 406.9h0M614.9 413.3h0M623.3 412.5h0M614 411.9h0M617.2 420.1h0M623.8 414.4h0M617.2 412.5h0M619.8 412.9h0M625.1 408.3h0M616.9 413.6h0M621.3 412.7h0M622.8 409.7h0M626.7 412.3h0M625.8 402h0M622.8 414.7h0M618.8 413.5h0M627.1 411.8h0M623.7 414.8h0M617.1 420.9h0M624.4 412.2h0M620.5 418.8h0M624.1 412.8h0M625.1 415.2h0M623.3 411.9h0M621.1 400h0M617 411.6h0M622.8 414.9h0M611.4 416.2h0M622.1 409.8h0M622.1 413.7h0M617.4 413.4h0M621.6 413.8h0M624.3 413.5h0M620.7 417.9h0M618.6 415h0M621.1 416.7h0M623 413.3h0M625.3 417.7h0M619.1 411.9h0M619.3 412.2h0M623.2 416.6h0M624.7 413.2h0M616.8 416.3h0M622.2 412.9h0M629.2 416.9h0M617.3 422.1h0M624.5 403.1h0M623.5 410.6h0M629.2 415.9h0M623.3 416.8h0M629.3 424.8h0M619.3 410.9h0M623.4 413.5h0M619.5 417.5h0M622 414.9h0M617.6 417.7h0M625.7 411.1h0M622.5 416.4h0M624.5 416h0M622.5 411h0M622.3 412.2h0M619.4 413.3h0M625.3 410.8h0M619.4 415.3h0M621.5 417.5h0M607.8 423.8h0M621.7 409h0M616.4 414.3h0M623.4 401.3h0M620.5 410.1h0M615 415.3h0M614.4 416.9h0M615.3 418.5h0M621 421.7h0M621.2 415.5h0M607.1 419.1h0M615.2 411.2h0M618.9 417.4h0M618.4 416.3h0M623.2 414.9h0M622.1 420.4h0M625.3 416h0M622.8 411.7h0M624.2 404.6h0M628 417.7h0M617.8 413h0M622 406.6h0M614.3 413.8h0M620.6 416.1h0M618.4 419h0M624.4 397.8h0M617.2 413.8h0M618.4 412.8h0M618 422.9h0M624.5 417.2h0M623 416.2h0M619.7 414.9h0M622.9 418h0M622.3 414.5h0M610.7 420.3h0M622.5 411.2h0M616.9 416.8h0M624.3 398.9h0M620 416.1h0M620.6 408h0M620.2 415.8h0M621.9 410.8h0M627.7 416h0M619.8 415h0M621.8 414.9h0M619.9 417.4h0M624.2 413h0M613.6 417.9h0M622.9 417h0M621.3 411.8h0M621.5 412h0M615.4 414.9h0M618.8 419.3h0M622.1 415.7h0M624.3 415.3h0M619.1 423.1h0M623.2 404.5h0M623.1 415.9h0M618.5 416.2h0M623 413.7h0M621.8 416.1h0M614.1 417.7h0M624.9 400h0M607.8 416.5h0M623.1 416.4h0M628.6 404.9h0M624 398.3h0M627.8 403.8h0M626.8 397.3h0M618.6 417.5h0M616.9 413.8h0M625.8 412.3h0M621.8 416.1h0M612.9 416h0M620.1 418.2h0M612.3 416.2h0M617.2 411.1h0M626.5 412.8h0M622.7 398.7h0M616.6 417.6h0M615.5 418.5h0M626.4 421.3h0M613.7 410h0M622.9 412.6h0M626.6 396.6h0M620.2 414.6h0M625.2 417.2h0M617.2 415.7h0M624.2 401.3h0M624.2 410.4h0M614.5 421.2h0M628.1 397.8h0M615.8 413.1h0M618.9 414.8h0M620.1 419.6h0M617.3 415.8h0M618.3 415h0M620.2 419.3h0M625.9 414h0M622.3 412.4h0M620.6 415.4h0M618.6 407.5h0M622.5 410.3h0M622.1 415.6h0M619.4 413.2h0M618 410.7h0M617 411.4h0M625.2 413.7h0M615.3 410.3h0M621 417.9h0M622.1 421h0M614 417.2h0M625.3 411.2h0M618.2 417.1h0M625.2 415.6h0M621 411.9h0M622.8 416.2h0M615.3 408.5h0M624 409.7h0M617.7 416.8h0M620.4 413.6h0M623.6 416.9h0M623 410.4h0M622.4 413.7h0M625.6 409.8h0M622 413.4h0M623.6 414.3h0M625.1 401.5h0M616.8 415h0M619.8 414.5h0M620.1 417.1h0M620.2 417.1h0M619.4 411.1h0M629.5 415.3h0M622.5 413.1h0M619.1 409.7h0M626.1 409.8h0M621.7 414h0M619.1 417.6h0M622.2 416.6h0M617.1 423.9h0M620.9 407.7h0M621.2 416.4h0M616.3 414.1h0M622 411.3h0M622.6 402.1h0M619.9 418h0M620 417.1h0M613.3 411.9h0M617.7 419.4h0M624.4 408.2h0M624.9 412.8h0M626.1 401.1h0M621.2 417.9h0M612 415.8h0M616.1 418.2h0M626.6 410.8h0M617.5 416.8h0M624.2 401.6h0M611.1 414.5h0M623.6 413.7h0M619.8 415.6h0M621 416.7h0M621.2 414.4h0M622.2 417.9h0M625.9 417.9h0M621.3 412.8h0M623.1 413.2h0M606.6 415h0M612.1 414.1h0M627.6 412h0M620.9 412.4h0M617.4 413.3h0M619.6 414.9h0M620.5 409.4h0M617.2 415.8h0M619.3 417.5h0M608.3 417.4h0M624.6 403.4h0M621.5 418.2h0M618.3 415.5h0M628.6 414.1h0M622.2 415.7h0M618.9 413h0M616.3 419.6h0M620.4 416h0M624.8 407.6h0M620.2 413.2h0M617.4 420.4h0M623.5 416.8h0M618.1 412.1h0M619.5 413.3h0M619.9 417.9h0M619 414.6h0M618.4 415.4h0M614.2 418.3h0M622.2 412.5h0M609.9 415.1h0M622.8 420.7h0M615.3 417.2h0M625.8 410.4h0M622.4 408.4h0M614.7 414.3h0M621.1 411.6h0M618.8 415.3h0M622.3 414.4h0M615.9 417.2h0M623.1 413.4h0M609.9 420.6h0M625.1 415.9h0M618.6 415.7h0M622 410.9h0M627.9 409.9h0M618.9 415.4h0M626.3 405.2h0M619 413.4h0M617.3 413.6h0M623 413.7h0M617.3 414.3h0M620.6 413.4h0M619.7 416.5h0M623.8 398.3h0M617 414.1h0M626.7 403.5h0M623.8 410.4h0M623.3 414.7h0M624.6 405.8h0M614.4 416.7h0M622.2 413.5h0M623.4 402.1h0M623.8 415h0M620 418.1h0M619 415h0M622.7 414.2h0M624.7 415.1h0M621.1 418.1h0M611.3 419h0M618.4 414h0M614.7 416h0M622.6 412.5h0M616.2 410.8h0M618.4 412.8h0M622 416.6h0M621.3 413.1h0M617.4 410.6h0M624.5 389.7h0M621.7 413.7h0M624.1 418.3h0M618 421.4h0M617.9 419.5h0M609.6 420.2h0M618.9 418.1h0M617.6 417.6h0M624.1 412.9h0M622.9 418.6h0M627.1 410.9h0M620.5 413.5h0M623.9 409.9h0M618.8 415.3h0M618.4 412h0M624 412.8h0M619.4 409.7h0M617.1 421.2h0M624.3 418.3h0M621.4 418.4h0M617.7 415.3h0M621.6 416.5h0M616.9 412.4h0M623.2 410.5h0M623.1 422.4h0M623.2 415.1h0M622.4 417.2h0M617 416.8h0M626.3 413.2h0M618.8 412.2h0M624.2 408.5h0M625.7 418.4h0M617.8 413.9h0M617.5 420.6h0M620 414.7h0M622 420.3h0M618.6 413.4h0M624.3 416.5h0M620.6 414h0M607.5 416.6h0M621.8 411.8h0M618 419.5h0M623.6 412.6h0M621.7 416.1h0M615.1 413.3h0M623.1 412.9h0M625.9 414.3h0M620.1 412.1h0M625.3 409.7h0M622 412.7h0M622.8 398.2h0M614.5 413.2h0M615.7 413h0M619.3 411.6h0M608.2 419.3h0M615.1 417.9h0M619.9 411.2h0M622 411.8h0M623.7 410.3h0M625.2 412.1h0M618 419.5h0M614.5 412.7h0M620.9 413.4h0M626.1 417.3h0M622.7 415.3h0M625.4 414.6h0M614.4 418.4h0M617.2 419.9h0M623.5 415.8h0M624.2 413.9h0M621 409.3h0M617.2 418.8h0M623.4 396.1h0M626.5 415.8h0M624 421.1h0M623.3 412.6h0M617 418.4h0M623.8 412.6h0M623.2 416.8h0M622.6 407.4h0M622.7 405.2h0M623.4 396.1h0M617.3 415h0M625.6 419.8h0M621.4 422.5h0M624 419.6h0M620.4 417.7h0"/></defs>
<g clip-path="url(#cp16)" fill="none" stroke-linecap="round"><use href="#pcp16" stroke="#2a3aa8" stroke-width="0.8"/><g filter="url(#dn4)"><use href="#pcp16" stroke="#000" stroke-width="0.6"/></g></g>
<rect x="599.9" y="384.5" width="41.4" height="18.9" fill="none" stroke="#777" stroke-width="0.7"/>
<text x="590.4" y="381.8" font-size="9.2" fill="#1e1e1e">1.06</text>
<text x="647.8" y="405.8" font-size="9.5" fill="#1e1e1e">HN377</text>
<rect x="524.8" y="431.3" width="55.5" height="55" fill="none" stroke="#d4d4d4" stroke-width="0.7"/>
<path d="M522.8 435.3h2M520.8 434.3l0.9 -0.5M528.8 486.3v2M522.8 447.05h2M520.8 446.05l0.9 -0.5M540.67 486.3v2M522.8 458.8h2M520.8 457.8l0.9 -0.5M552.55 486.3v2M522.8 470.55h2M520.8 469.55l0.9 -0.5M564.42 486.3v2M522.8 482.3h2M520.8 481.3l0.9 -0.5M576.3 486.3v2" stroke="#9a9a9a" stroke-width="0.6" fill="none"/>
<line x1="523.2" y1="480.25" x2="524.8" y2="480.25" stroke="#111" stroke-width="1.4"/>
<line x1="536.06" y1="487.1" x2="539.06" y2="487.1" stroke="#222" stroke-width="1.3"/>
<clipPath id="cp17"><rect x="525.2" y="431.7" width="54.7" height="54.2"/></clipPath>
<defs><path id="pcp17" d="M561.3 469.6h0M556.2 477.4h0M547.8 476.7h0M563.2 454.4h0M554.1 477h0M559.4 455.2h0M555.8 472.6h0M552.8 476.5h0M556.5 469.9h0M558.4 471.4h0M550.5 476.2h0M552.4 475.6h0M559.3 475.5h0M546.7 477.5h0M574.6 470.4h0M557.9 474.6h0M556.3 467.4h0M554 476.4h0M555 471.8h0M554.2 476.7h0M550.7 476.8h0M551.6 475.7h0M552.7 473.6h0M556.5 471.6h0M555.5 465.6h0M556.4 472.4h0M556 475.7h0M559.5 469.4h0M563.6 460.3h0M558.6 474h0M554.5 475.3h0M556.2 468.2h0M555.8 477.8h0M557.4 473.8h0M556.8 471h0M562.7 473.4h0M560.6 454.2h0M558.3 469h0M557.7 459.8h0M552.2 473.7h0M557.9 473.8h0M557.6 468.3h0M545.6 477.9h0M561.4 475.4h0M563.2 465.3h0M561.9 477.4h0M549.3 478.1h0M557 459.9h0M556.2 466.4h0M559.4 469.7h0M551.4 477.4h0M554 464.9h0M552.3 470.6h0M562.5 454.7h0M551.5 475.6h0M561.1 463.5h0M562.8 472.1h0M554.2 473.2h0M551.8 478.6h0M554.8 466.8h0M554.3 474.4h0M557.2 465.3h0M549.8 475.6h0M555.6 477.1h0M553.3 468.5h0M545.1 477h0M554 475h0M542.9 469.7h0M559 470.2h0M563.3 474.8h0M555.6 479.4h0M552.1 473.6h0M555.4 466.3h0M556.5 468.7h0M559.4 471.3h0M549.2 476h0M554.4 469.5h0M549.8 478h0M546.3 459.9h0M553.5 479.4h0M554.9 477.9h0M553.9 477.4h0M554.8 475.8h0M548.1 476.6h0M554.3 476.3h0M554.5 470.9h0M558 453.2h0M558.6 478.5h0M547.7 474.8h0M559.2 465.2h0M551.6 474.2h0M561.1 464.1h0M557.6 473.1h0M549.5 474h0M563.4 468.7h0M559.7 472.9h0M553.5 469.7h0M547.8 476.8h0M555.5 469.4h0M552.9 475.8h0M559.4 454.8h0M556.7 471.8h0M553.8 473.5h0M556.9 469.5h0M558.5 462.6h0M559.1 471h0M554.5 480.9h0M562.2 480.7h0M557.7 472.7h0M548.2 481.7h0M559.3 466.5h0M559 465h0M561.2 446.3h0M560.4 474.2h0M551.8 471.4h0M557.7 469.6h0M554.3 474.7h0M561.1 464.2h0M554.8 473.8h0M556.8 476.1h0M552.2 474.7h0M554.9 474.1h0M564.5 480.7h0M559.1 469.4h0M554.3 475.4h0M564.3 472.1h0M557.7 472.9h0M555.2 469.5h0M553.7 476.3h0M559.4 463.1h0M553.6 475.1h0M557.2 471.9h0M554.9 471.7h0M553.9 470.9h0M558.4 472.2h0M546.5 476.2h0M564.8 473.4h0M562.2 452.5h0M559.8 470.6h0M557.3 474.2h0M557 466.1h0M559.7 466.2h0M553.9 479h0M558.5 465.7h0M560.9 446.5h0M557.7 473.6h0M560.4 475.7h0M561.1 471.4h0M555.4 478.5h0M552.7 468.4h0M560.4 475.5h0M556.3 474.2h0M558 476h0M556.2 471.3h0M557.9 453.1h0M557.4 468.6h0M561.2 465.6h0M556 468.5h0M551.6 469.9h0M551.6 466.5h0M556.1 472h0M560.6 471h0M555.4 474.9h0M556.4 471h0M555 479h0M555.8 468.5h0M557.3 474.5h0M558.5 469.4h0M559.1 471.4h0M554 472.9h0M561.9 458.8h0M551 476.7h0M546.5 478h0M558.5 459.4h0M556.3 470h0M559.6 453.2h0M553.2 474h0M561.1 460.4h0M554.9 469.5h0M557.9 473.2h0M552.3 471.7h0M554.9 471.9h0M556.8 467.6h0M559.1 477.1h0M556.3 468.8h0M553 473.2h0M556.8 471.1h0M555 476.5h0M553.9 462.5h0M558.7 473.1h0M561.4 470.6h0M558.7 473.8h0M556.1 467.3h0M556.9 455.5h0M557.5 472.9h0M558.8 468.4h0M554 472.4h0M560 469.1h0M559.7 469.1h0M553.9 473h0M558.7 458.6h0M554 470.3h0M561.5 467.1h0M556.4 472h0M552.3 470.7h0M555.3 464.8h0M557 471.3h0M556.7 475.6h0M560.1 458.8h0M552.8 467.5h0M562.3 472.9h0M558.2 469.7h0M554.6 475.4h0M558 474.5h0M549.5 476.8h0M553.7 467h0M556.3 476.5h0M555.4 477.3h0M557.7 476.5h0M554 467.7h0M556.5 474.8h0M559.7 472h0M559 461.9h0M555.9 472.8h0M558.2 471.9h0M559.2 461.1h0M553.2 474h0M553.9 467h0M558.3 466.9h0M554.8 473.3h0M553.2 474.1h0M558.7 456h0M547.9 476.2h0M557.2 476.7h0M554.6 476h0M556.5 467.6h0M548.4 474.6h0M554 469.3h0M557.7 473.2h0M550.7 472h0M554.4 466.8h0M562.4 469.2h0M549.9 475h0M565.3 478.8h0M558.7 473.7h0M551.8 475.5h0M560 468.2h0M559.6 474.8h0M557 474.1h0M555.7 471.1h0M559.7 471.1h0M553.1 471.7h0M557.9 475.6h0M558.6 475.2h0M559.7 462.7h0M558.4 476.7h0M559.7 471h0M548.7 478h0M548.4 470.8h0M548.9 475.4h0M562.4 458.1h0M556.5 469.7h0M550.8 476.8h0M558.2 477.1h0M561.2 448h0M554.5 474.1h0M559.3 468.8h0M558.2 469.5h0M560.7 444.8h0M555.5 472h0M554.4 476.9h0M550.9 477h0M556.4 476h0M557.8 453.2h0M561.1 463.7h0M551 473.6h0M556.9 467.4h0M558.6 470.7h0M558.7 468.6h0M560.7 453.7h0M549.4 477.3h0M561.8 461.4h0M561.9 454.1h0M559.1 470.6h0M560.3 477.2h0M562 463.1h0M555.8 473.9h0M558.1 468.2h0M557.1 477.7h0M552.3 478.8h0M560.4 464.6h0M560 475.1h0M558 468.6h0M551.8 473.4h0M559.8 468.9h0M556.6 471.5h0M555.3 476.4h0M556.6 467h0M557.8 480.1h0M559.4 474.1h0M562.4 450.8h0M550.8 472.6h0M555.7 469.7h0M558.9 471.1h0M550.7 476.5h0M553.6 481.3h0M555.5 470.4h0M561.3 462.6h0M560.6 462.3h0M562.2 457.5h0M554.2 476.3h0M554.7 470.2h0M564.4 475.1h0M558.2 470.2h0M556.3 473h0M560.9 470.7h0M554.9 467.4h0M550 468.3h0M556.1 475.6h0M559.4 477.4h0M560.3 473.7h0M564.6 471.9h0M551.3 471.1h0M554.5 474h0M557.3 472.7h0M552.7 482.7h0M555.5 463.4h0M553 473.5h0M552.2 468.5h0M550.2 471.4h0M555.2 467.8h0M548.9 478.8h0M556.1 476.8h0M559.8 474.1h0M558.3 456h0M555.5 471.2h0M563.2 456.3h0M558.6 475.5h0M550.9 477.5h0M556 477.6h0M555 475.7h0M555 478.6h0M551.8 468.5h0M553.3 479.4h0M562.2 466.8h0M561 466h0M554.1 473.1h0M554.9 477.9h0M557.7 479h0M554.8 479.6h0M553.6 473.5h0M554.7 469.6h0M549.4 478.1h0M554.4 472.1h0M558 471.7h0M549.7 469.3h0M560.6 469.7h0M559 467.4h0M556.8 472.4h0M549.8 476.3h0M560.4 470.7h0M563.7 468.5h0M557 468h0M556.3 478.1h0M545.5 462.3h0M555.4 470.7h0M554.1 473.3h0M561.2 459.5h0M556.3 473h0M562.2 461.2h0M552 475.7h0M558.3 453.4h0M554.6 475.7h0M556.9 471.8h0M558.2 469.3h0M557.8 480.1h0M552.3 476.9h0M556.5 466.1h0M553.6 465.5h0M559.8 451.8h0M560.1 478.4h0M556.9 472.3h0M554.2 469.8h0M553.2 474.7h0M559.8 469.4h0M552.1 473h0M558.1 469.1h0M552.6 475h0M550 473.3h0M555.2 467.6h0M558.6 464.3h0M557 478.6h0M551 471.8h0M559 470.5h0M556.9 468.4h0M554.9 468.4h0M552.6 473h0M567.6 469.6h0M560.6 451.5h0M560.1 467.8h0M558.2 471h0M555.2 461.6h0M551.4 478.2h0M560.1 471.4h0M559.7 451.4h0M563.5 459.4h0M558.6 470.9h0M559.4 462.2h0M555.8 473.8h0M561.2 466.3h0M553.7 479.5h0M561.6 471.3h0M560.2 455.3h0M557.3 473.7h0M558.1 467.3h0M557.2 469.9h0M549.3 478.1h0M558.5 457.6h0M556.4 470.8h0M555 465.9h0M555.9 474.5h0M561.1 449.1h0M558.8 453.4h0M561.9 472h0M555.3 469.4h0M552.2 474.7h0M561.1 475.7h0M557.5 468.4h0M549.5 479.8h0M558.8 470.1h0M558.4 468.5h0M557.4 468.6h0M560.4 473.5h0M552.4 474.1h0M556.3 471.1h0M561 459.4h0M559.5 472.1h0M551.8 475h0M559.7 473.8h0M552.7 473.8h0M565.1 469h0M559.1 469.1h0M559.5 458.9h0M558.9 473.6h0M557.5 478.9h0M558.1 474h0M556.1 470.7h0M553.8 473.2h0M560.2 462.3h0M554 467.2h0M555.2 477.3h0M559.4 471.7h0M560.5 470.2h0M553.7 478.2h0M558.1 472.5h0M556.8 480h0M557.1 467.8h0M563 471.5h0M556.3 474.1h0M557.1 480.2h0M559.3 469.4h0M560.2 471.1h0M561 464h0M555.9 470.5h0M556.8 469.3h0M555.6 475.5h0M558.8 468.5h0M557.6 471.7h0M555.4 475.5h0M556.1 478.5h0M556.1 468.3h0M557.8 454.4h0M556.8 470.8h0M557 476.2h0M562.2 480.2h0M553.5 472.9h0M551.2 475.2h0M560.5 454.5h0M560.5 462.3h0M550.4 478.8h0M554 477.3h0M557.5 472.2h0M556.4 471.7h0M560.3 455.5h0M560.1 470.5h0M555.3 474h0M561.3 466.4h0M556.9 470.9h0M554 477.2h0M558.2 458.9h0M555.4 476.8h0M559.7 474.7h0M553.8 479.2h0M556.7 474.7h0M555.5 474.6h0M552.5 470.7h0M551.2 474.9h0M557 471.4h0M553.4 472.3h0M557.5 477.3h0M554.7 477.7h0M554.3 465.5h0M551.6 472.8h0M554.7 475.1h0M558.2 472.3h0M560.5 464.5h0M549.5 477.8h0M554.7 472.2h0M555 473.8h0M558 465.3h0M550.8 472.7h0M555.7 471.1h0M557.9 472.9h0M554.5 478.6h0M554.5 470.2h0M561.7 471.2h0M560.1 462.2h0M556.7 474h0M559.1 470.5h0M550.7 478.2h0M558.4 469.9h0M555.4 468h0M552.2 470h0M540.3 475.4h0M560 475.5h0M557.1 473.8h0M557.1 461.3h0M549.6 479.6h0M554.8 473.3h0M559.5 471.2h0M550.1 479h0M564.1 475.1h0M550.5 476.7h0M559.6 473.6h0M555 467.4h0M550 475.7h0M558.7 471.9h0M561.4 458.9h0M552.3 475.6h0M552.5 474.6h0M560.6 465.6h0M552.6 475h0M557.1 463.3h0M556.9 470.4h0M556.3 473.7h0M555.9 475.3h0M552.9 480.1h0M545.2 479.2h0M558.8 459.1h0M558.4 471.1h0M554.1 474h0M554.5 469.1h0M552.3 470.7h0M554 476.4h0M545.9 477.5h0M553.6 477.1h0M557.3 471.1h0M561.3 455.9h0M554.1 466.8h0M557.8 463.6h0M557 468.8h0M558.6 474.6h0M561.5 464.4h0M562.6 475.7h0M553.7 473.5h0M550.9 476h0M553.9 477.1h0M551.8 474.4h0M560 475.9h0M550 473.9h0M554.6 473.6h0M555.7 473.4h0M556.4 475h0M557.9 475.9h0M556.9 472.4h0M553.3 473.2h0M554.5 476.2h0M560 458.9h0M557.5 462.1h0M555.1 473.9h0M554.9 479.4h0M561 472.8h0M560 456.1h0M566.6 470.8h0M557.2 467.5h0M556.3 468.7h0M554.2 469h0M557.8 467.6h0M558.1 469.5h0M557.4 468.6h0M547.1 477.7h0M556.7 471.7h0M555.9 477.1h0M555.6 469.2h0M554.9 478.6h0M548.8 477.5h0M558.6 476h0M550.7 473.3h0M559.7 468.3h0M551.5 466.6h0M552.1 473.6h0M560 469.7h0M560.1 466.2h0M559 471.2h0M552.2 475.5h0M554.5 476h0M557.2 467h0M550.4 475.8h0M558 470.4h0M561.3 464.9h0M555.5 479.2h0M553.7 477.3h0M559.2 455.5h0M554.9 473.5h0M555.8 474.1h0M554.1 474.6h0M556.2 473h0M560.2 476.8h0M548.8 475.4h0M547.5 475h0"/></defs>
<g clip-path="url(#cp17)" fill="none" stroke-linecap="round"><use href="#pcp17" stroke="#2a3aa8" stroke-width="0.8"/><g filter="url(#dn4)"><use href="#pcp17" stroke="#000" stroke-width="0.6"/></g></g>
<rect x="535.6" y="443.6" width="41.4" height="18.9" fill="none" stroke="#777" stroke-width="0.7"/>
<text x="526.1" y="440.9" font-size="9.2" fill="#1e1e1e">3.78</text>
<rect x="589.1" y="431.3" width="55.5" height="55" fill="none" stroke="#d4d4d4" stroke-width="0.7"/>
<path d="M587.1 435.3h2M585.1 434.3l0.9 -0.5M593.1 486.3v2M587.1 447.05h2M585.1 446.05l0.9 -0.5M604.98 486.3v2M587.1 458.8h2M585.1 457.8l0.9 -0.5M616.85 486.3v2M587.1 470.55h2M585.1 469.55l0.9 -0.5M628.73 486.3v2M587.1 482.3h2M585.1 481.3l0.9 -0.5M640.6 486.3v2" stroke="#9a9a9a" stroke-width="0.6" fill="none"/>
<line x1="587.5" y1="480.25" x2="589.1" y2="480.25" stroke="#111" stroke-width="1.4"/>
<line x1="600.37" y1="487.1" x2="603.37" y2="487.1" stroke="#222" stroke-width="1.3"/>
<clipPath id="cp18"><rect x="589.5" y="431.7" width="54.7" height="54.2"/></clipPath>
<defs><path id="pcp18" d="M619.4 481.3h0M619.6 466.4h0M613.7 479.1h0M613.8 480.4h0M630.1 472h0M615.9 476.2h0M619.7 475.6h0M616.4 473.9h0M615.7 471.7h0M620.6 474.9h0M617.8 471.2h0M621.9 476.3h0M618.7 481.9h0M613.6 466.5h0M614.4 469.7h0M617.1 475.1h0M623.5 465.8h0M618.6 479.6h0M619.1 476.1h0M619.1 472.4h0M621.5 466.4h0M621.6 469.9h0M621.8 469.1h0M618 469.5h0M617.1 480h0M623.8 463.1h0M610.7 472.3h0M623.6 460.7h0M623.4 473.5h0M611.4 477.9h0M616.7 477.5h0M613.6 476.9h0M610.9 477.6h0M613.3 475.1h0M610.3 472.8h0M614 465.5h0M621.8 471.1h0M625.9 458.4h0M615.1 473.8h0M612.2 472.6h0M619.7 472.2h0M620.6 476.8h0M615.3 475.7h0M614.3 468h0M616 474.6h0M622.3 471.5h0M614.8 475.4h0M620.2 473.2h0M618.4 469.2h0M620.6 474.9h0M619.6 476.2h0M619.5 474.5h0M616.5 476.5h0M618.8 472.6h0M621 473.4h0M619.5 478.6h0M623.5 472.3h0M611.2 474.4h0M616.1 473.4h0M610.5 473.8h0M614.1 476.5h0M623.4 460.8h0M624.2 465.2h0M624.2 479.3h0M622.1 451.6h0M614.9 475.1h0M614 472.3h0M614.5 477.9h0M619.2 479.1h0M614.4 478.4h0M615.1 476.7h0M621.7 474.7h0M620.8 477.4h0M626.9 468.7h0M615.6 474.8h0M618 476h0M623.5 448.2h0M623.1 460.7h0M615.5 469.1h0M618.1 469.5h0M619.7 475.8h0M612 478.1h0M621.1 480.1h0M615.4 484h0M624.4 474.5h0M620.9 473.2h0M618.8 469.5h0M616.5 468.9h0M618.9 481h0M616.1 478.2h0M618.1 475.3h0M617.2 478.6h0M618.4 471h0M621.2 477.9h0M618.5 481.1h0M615.6 478.4h0M619.8 471.9h0M617.7 463.6h0M619.8 475.5h0M612.3 481.7h0M611.9 479.7h0M620.4 471h0M622.8 468.6h0M622.9 470.5h0M622.9 460.8h0M625.5 449.5h0M617.4 477.3h0M615.2 473.1h0M616.3 475.7h0M626.5 469.9h0M623.8 459.9h0M613.1 470.5h0M617.3 478.6h0M618.5 474.9h0M618.3 478.3h0M625.5 470h0M614.7 470h0M619.7 473.1h0M614.2 476.7h0M618.4 475.4h0M617.5 480.6h0M612 475.9h0M616.2 474.1h0M625 471.2h0M620.7 478.9h0M620.7 474.8h0M614.4 481.4h0M619.7 475h0M617.9 468.4h0M615.2 476.1h0M621.4 473h0M618.9 477.7h0M616.5 477.2h0M622 463.6h0M622.3 475.8h0M620.9 469.6h0M620 473.9h0M623.8 461.8h0M625.6 472.3h0M620.2 480h0M618.4 473.8h0M618.7 471.2h0M615.3 477.5h0M611.2 477.1h0M610.2 479.6h0M627.5 441h0M622.9 460.2h0M613.7 467.3h0M620.6 471h0M610.8 475.7h0M611.3 465.4h0M621.2 473h0M624.7 456.8h0M611.9 472.1h0M624.3 474.1h0M620.5 463.6h0M619.1 472.9h0M621 468.6h0M614.5 477.9h0M616 478.8h0M619.3 478.3h0M618.5 474.5h0M622.9 471.7h0M623.7 468.4h0M621.9 466h0M618.4 473h0M613.4 480.9h0M617.7 478.3h0M624.1 454.2h0M621.6 481.2h0M609.3 473.6h0M615.7 480.3h0M618.6 476.1h0M620.2 468.9h0M619.3 477.8h0M623.6 470.6h0M617.1 470.3h0M624.2 475.5h0M621.5 476.4h0M620.6 466.9h0M609.7 471.3h0M621.2 470.2h0M610.4 470.8h0M623.3 461.4h0M621.6 473h0M622.2 479.9h0M619.9 471.7h0M623.7 456h0M618.9 468.6h0M615.5 478.5h0M621.2 477.5h0M616.9 473.1h0M610.2 476.8h0M622.7 474.5h0M624 478.6h0M613.6 473.7h0M612.2 479.9h0M618.9 471.6h0M619.9 476.1h0M619.1 471.3h0M607.3 479.3h0M614 472.6h0M618.5 477.4h0M622.9 466h0M624.6 465.9h0M611.4 476.9h0M622 465.6h0M617 472.2h0M624 481h0M622.6 473.4h0M619.3 474.2h0M622.2 476.8h0M619.2 474.9h0M627.8 451.6h0M619.8 472h0M621.3 471.3h0M615.5 470.9h0M618.4 474.1h0M624.2 474.6h0M614.3 471.9h0M609.3 472.7h0M625.7 457.7h0M614.3 476.2h0M620.1 473.3h0M621.5 477.9h0M620.9 474.6h0M624.4 474.2h0M616.4 468.8h0M619.5 472.5h0M611.5 472.6h0M621.1 474.3h0M618.4 466.6h0M620.6 472h0M620.8 472.6h0M624.4 461.5h0M622.1 476.4h0M616.2 477.3h0M617 470.6h0M620.5 471.8h0M620.8 474.2h0M611.3 478.1h0M617 476.6h0M620.9 477.3h0M622 475.7h0M620.4 471.7h0M623.2 473.9h0M621.2 467.2h0M618.1 472.4h0M616.1 481.4h0M612.4 475.8h0M618.3 479h0M616.2 473.4h0M622 471.3h0M622.8 477.5h0M615.7 479.4h0M621.8 463.4h0M615.9 473h0M617.5 472.2h0M623.7 476.9h0M619.3 472.2h0M623 470.7h0M626.4 464.3h0M622 471.9h0M618.8 475.2h0M619.6 474.7h0M613.1 480.2h0M620.1 475.5h0M613.1 467.6h0M619.4 472.2h0M617 475.4h0M621.2 471.2h0M614.8 477.8h0M624.9 457.6h0M618.5 475.5h0M607.2 474.7h0M619.5 477.9h0M618 473.9h0M622.1 484h0M628.2 470.9h0M614.2 479.3h0M610.2 478.4h0M612.1 484.5h0M624 472.4h0M620.9 466.9h0M620 459.2h0M612.6 475.2h0M618.6 477.7h0M609.5 476h0M620.4 475.9h0M624 465.6h0M621.8 474h0M619.1 475.4h0M624.9 453.4h0M625.9 468.9h0M623.4 478.3h0M625.6 455.4h0M623.8 458.5h0M621.9 475.9h0M624.2 475.2h0M616 477.9h0M619.6 471.2h0M622.2 473.7h0M621.3 474.7h0M612.2 473.3h0M615.8 477.3h0M620 469.8h0M609.3 464.5h0M614.1 474.2h0M624.7 459.1h0M620.5 470.4h0M615.8 480.3h0M620.3 469.3h0M613.6 482.4h0M621.1 458.8h0M619.8 467.3h0M619.1 471.1h0M623.6 475.4h0M618.1 476.9h0M616.5 477.1h0M622.8 474.5h0M622.9 475.2h0M619.5 477.5h0M619.9 465.4h0M617 479.7h0M620.6 473.9h0M620 479.1h0M617.2 472.8h0M617.5 475.3h0M618.8 476.6h0M625.9 453.3h0M617 479.9h0M625.9 471.2h0M623.5 464h0M622.9 471.8h0M620.4 476.5h0M627.3 458.6h0M623.6 471.2h0M625.9 469.4h0M623.9 472.7h0M621.7 476.4h0M622.1 473.5h0M616.8 479.1h0M620.5 467.2h0M621.4 475.9h0M624.2 473h0M621.7 476.5h0M620.5 472h0M624.1 476h0M613.3 472.1h0M617.4 471.7h0M614.1 473.1h0M620.7 465.4h0M616.6 473h0M611.9 475.1h0M618.4 472.9h0M623.6 477.3h0M615.9 478.2h0M622.1 462.8h0M618.7 477.6h0M617.3 475.2h0M618.3 469.4h0M615.2 471.9h0M609.1 478.5h0M625.1 469.2h0M616.2 473.4h0M620.4 475.7h0M614.3 470.7h0M626.2 473.8h0M615.6 475.7h0M617.3 480.4h0M618.9 476.1h0M618.5 480.2h0M625.9 472h0M623.4 482.4h0M623.4 474.4h0M623.8 455.5h0M618.8 470.7h0M615.9 473.4h0M614.1 476.2h0M608.9 479.2h0M624.6 460.4h0M617.3 473.8h0M619.4 471h0M614.6 479.6h0M617.6 475.3h0M623.3 463.9h0M623.7 480.1h0M618 471.2h0M624.7 471.8h0M615.3 478.3h0M619.9 477.3h0M616.4 475.3h0M619.8 478.2h0M618.6 469.7h0M617.7 473h0M627.7 456.4h0M613.8 472.8h0M616.3 473.8h0M618.4 478.2h0M617.5 467.2h0M619.8 475.5h0M621.7 474.9h0M621.1 473.5h0M623.6 473.4h0M619.2 481h0M618.5 473.9h0M614.1 481.9h0M615.6 476.8h0M615.2 473.3h0M619.7 470.8h0M607.4 477.6h0M613.7 467.8h0M620.4 478h0M617 470.7h0M622.9 454.8h0M620.3 476.7h0M618.4 478.3h0M623.2 474.9h0M616.6 473.4h0M620.4 477.6h0M613.3 477.4h0M615.6 476h0M620.1 474.2h0M621.3 473.8h0M618.4 471.6h0M617.5 479.4h0M623.9 460h0M607.5 470.4h0M622.2 472.2h0M617.8 476.1h0M617.7 480.2h0M623.4 450.5h0M622.5 468.9h0M623 456.8h0M614.5 472.6h0M620.5 473.8h0M616.3 479.7h0M619.4 472.4h0M619.7 476h0M620.8 471.2h0M617.4 475.9h0M621.7 468.7h0M623.6 469.8h0M619.9 474.8h0M624 469.5h0M616.9 478.2h0M621.4 476.5h0M613.7 478.6h0M624 479.8h0M623.1 447.2h0M615.4 476.3h0M616.6 477.5h0M620.4 472.4h0M620.8 478.5h0M624.9 462.5h0M617.1 474.1h0M628.7 446.3h0M619.4 478.9h0M609.1 478.8h0M619.9 472.7h0M614 476.4h0M627 469.8h0M618.6 475.6h0M613.7 474.2h0M619 475.7h0M617.8 477.2h0M622.9 470.6h0M626.5 473.7h0M625.9 470.1h0M626.1 473.6h0M612.9 474.1h0M612.4 472.4h0M619.6 472.6h0M608.2 476.3h0M622.5 476.6h0M608.2 477.6h0M619.8 465.1h0M623 472.6h0M608.8 473.7h0M612.4 479.7h0M622.8 477.5h0M619.4 470.5h0M615.7 477.1h0M620 470.6h0M619.9 471.1h0M618.5 478.5h0M622.9 453.7h0M622.4 476.7h0M626.1 460.6h0M615.7 478.7h0M619.6 469.9h0M612.5 480.3h0M618.8 472.8h0M616.6 478.5h0M619.7 478.3h0M621.2 472.5h0M611 475.2h0M616.6 475.8h0M622.4 468.3h0M620.3 475.4h0M621.3 469.6h0M618.5 472.4h0M621.3 468.2h0M622.4 471.4h0M625.2 475.2h0M620 475.5h0M616.5 479.2h0M614.5 468.2h0M616 482.1h0M622.4 469h0M623.3 478.7h0M613.2 477.3h0M619.5 475.2h0M617.9 473h0M616.6 480.3h0M624.3 455.6h0M622.8 466h0M619.2 476.4h0M624.1 471.9h0M617 475.1h0M620.8 475h0M622.1 468.1h0M627.9 476.1h0M609.3 482.4h0M617.4 476.4h0M614.6 484.2h0M611.4 476.2h0M625.2 466.4h0M626.5 456.1h0M623.3 470.9h0M621.2 472.9h0M616.8 473h0M623.6 470.7h0M618.3 471.6h0M614.9 470.1h0M608.6 477.9h0M620.3 475.3h0M616.9 471.6h0M618.3 481.4h0M615.5 477.6h0M621.8 472.7h0M615.5 476.9h0M614.7 471.9h0M626.4 481.7h0M612.1 464.4h0M613.3 479.8h0M622.4 474h0M620.9 471.4h0M620.3 477.5h0M617 476.8h0M620.7 472.7h0M624.1 471.9h0M613.3 475.4h0M611.3 473.5h0M620.4 468.9h0M620.7 472.1h0M618.5 476h0M617.3 477.8h0M616 475.4h0M622.5 458.7h0M615.6 477.2h0M617.7 474.1h0M622.6 475.3h0M616.4 473h0M620 469h0M618.6 477.8h0M615.9 483.1h0M623.9 456.4h0M620.1 472.6h0M619.9 473.2h0M620 474.9h0M619.3 479.7h0M624.9 457.2h0M619.8 477.5h0M621.2 467.5h0M622.3 473.4h0M628.4 475.9h0M610 471.7h0M618.4 477h0M620.5 473.3h0M622.6 473.3h0M616.2 471.2h0M621.3 474.2h0M616.5 480.6h0M619.6 473h0M618.1 473h0M613.3 477.1h0M616 472.7h0M625.3 469.2h0M620.4 470.8h0M617.7 477.5h0M617.8 473.8h0M621.6 477.6h0M626.1 469.9h0M611.3 474.3h0M622.7 468.9h0M610.2 472.1h0M621.2 468.5h0M622.9 473.8h0M605.9 478h0M616.9 475.3h0M624.5 462.2h0M623.1 475.6h0M613.2 475.9h0M622.5 455.6h0M616.2 477.5h0M626.8 472.6h0M609.4 476.9h0M616.6 478.1h0M621.2 475.9h0M618.3 474.7h0M614.3 477.8h0M619.7 474.4h0M613.2 477.8h0M623.5 462.1h0M621.7 474.6h0M614.1 482.5h0"/></defs>
<g clip-path="url(#cp18)" fill="none" stroke-linecap="round"><use href="#pcp18" stroke="#2a3aa8" stroke-width="0.8"/><g filter="url(#dn4)"><use href="#pcp18" stroke="#000" stroke-width="0.6"/></g></g>
<rect x="599.9" y="443.6" width="41.4" height="18.9" fill="none" stroke="#777" stroke-width="0.7"/>
<text x="590.4" y="440.9" font-size="9.2" fill="#1e1e1e">2.73</text>
<text x="647.8" y="464.9" font-size="9.5" fill="#1e1e1e">HN380</text>
<text x="516" y="374.5" font-size="8.2" text-anchor="middle" fill="#1e1e1e" transform="rotate(-90 516 374.5)">ki67 - PE</text>
<line x1="513.5" y1="482" x2="513.5" y2="403.3" stroke="#111" stroke-width="1.3"/>
<path d="M513.5 395.5L517.9 404.3L509.1 404.3Z" fill="#111"/>
<line x1="528.4" y1="496.9" x2="575.4" y2="496.9" stroke="#111" stroke-width="1.3"/>
<path d="M582.4 496.9L574.4 500.5L574.4 493.3Z" fill="#111"/>
<text x="585.9" y="499.7" font-size="8.8" fill="#1e1e1e">SSC-H</text>
<text x="1.5" y="545.6" font-size="11" font-weight="bold" fill="#000">d</text>
<rect x="28.8" y="560" width="12.9" height="5.7" fill="#3f48a3"/>
<text x="44.4" y="566.4" font-size="9.9" fill="#1e1e1e">MDK+</text>
<rect x="81.2" y="560" width="12.5" height="5.7" fill="#ea5a0c"/>
<text x="96.2" y="566.4" font-size="9.9" fill="#1e1e1e">MDK-</text>
<line x1="48.5" y1="583.8" x2="48.5" y2="704.2" stroke="#222" stroke-width="0.9"/>
<line x1="48.5" y1="703.7" x2="129.3" y2="703.7" stroke="#222" stroke-width="0.9"/>
<line x1="45.5" y1="703.7" x2="48.5" y2="703.7" stroke="#222" stroke-width="0.9"/>
<text x="43.6" y="707.7" font-size="11.2" text-anchor="end" fill="#1e1e1e">0</text>
<line x1="45.5" y1="679.78" x2="48.5" y2="679.78" stroke="#222" stroke-width="0.9"/>
<text x="43.6" y="683.78" font-size="11.2" text-anchor="end" fill="#1e1e1e">20</text>
<line x1="45.5" y1="655.86" x2="48.5" y2="655.86" stroke="#222" stroke-width="0.9"/>
<text x="43.6" y="659.86" font-size="11.2" text-anchor="end" fill="#1e1e1e">40</text>
<line x1="45.5" y1="631.94" x2="48.5" y2="631.94" stroke="#222" stroke-width="0.9"/>
<text x="43.6" y="635.94" font-size="11.2" text-anchor="end" fill="#1e1e1e">60</text>
<line x1="45.5" y1="608.02" x2="48.5" y2="608.02" stroke="#222" stroke-width="0.9"/>
<text x="43.6" y="612.02" font-size="11.2" text-anchor="end" fill="#1e1e1e">80</text>
<line x1="45.5" y1="584.1" x2="48.5" y2="584.1" stroke="#222" stroke-width="0.9"/>
<text x="43.6" y="588.1" font-size="11.2" text-anchor="end" fill="#1e1e1e">100</text>
<rect x="60.3" y="584.1" width="22.6" height="20.33" fill="#ea5a0c"/>
<rect x="60.3" y="604.43" width="22.6" height="99.27" fill="#3f48a3"/>
<line x1="71.6" y1="703.7" x2="71.6" y2="708.4" stroke="#222" stroke-width="0.9"/>
<rect x="94.3" y="584.1" width="22.8" height="23.32" fill="#ea5a0c"/>
<rect x="94.3" y="607.42" width="22.8" height="96.28" fill="#3f48a3"/>
<line x1="105.7" y1="703.7" x2="105.7" y2="708.4" stroke="#222" stroke-width="0.9"/>
<text x="75.4" y="716" font-size="10.9" text-anchor="end" fill="#1e1e1e" transform="rotate(-45 75.4 716)">Control</text>
<text x="109.7" y="716.5" font-size="10.9" text-anchor="end" fill="#1e1e1e" transform="rotate(-45 109.7 716.5)">Anti-PD1</text>
<text x="22.8" y="643.5" font-size="10.3" text-anchor="middle" fill="#1e1e1e" transform="rotate(-90 22.8 643.5)">% malignant cells</text>
<text x="137.3" y="550.4" font-size="11" font-weight="bold" fill="#000">e</text>
<line x1="173.4" y1="559" x2="173.4" y2="640.7" stroke="#333" stroke-width="0.9"/>
<line x1="173.4" y1="640.7" x2="259.3" y2="640.7" stroke="#333" stroke-width="0.9"/>
<line x1="170.9" y1="636.2" x2="173.4" y2="636.2" stroke="#333" stroke-width="0.8"/>
<text x="169.4" y="639.2" font-size="8.6" text-anchor="end" fill="#222">0.0</text>
<line x1="170.9" y1="617.6" x2="173.4" y2="617.6" stroke="#333" stroke-width="0.8"/>
<text x="169.4" y="620.6" font-size="8.6" text-anchor="end" fill="#222">0.5</text>
<line x1="170.9" y1="599" x2="173.4" y2="599" stroke="#333" stroke-width="0.8"/>
<text x="169.4" y="602" font-size="8.6" text-anchor="end" fill="#222">1.0</text>
<line x1="170.9" y1="580.4" x2="173.4" y2="580.4" stroke="#333" stroke-width="0.8"/>
<text x="169.4" y="583.4" font-size="8.6" text-anchor="end" fill="#222">1.5</text>
<line x1="170.9" y1="561.8" x2="173.4" y2="561.8" stroke="#333" stroke-width="0.8"/>
<text x="169.4" y="564.8" font-size="8.6" text-anchor="end" fill="#222">2.0</text>
<line x1="196.7" y1="640.7" x2="196.7" y2="643.2" stroke="#333" stroke-width="0.8"/>
<line x1="235.6" y1="640.7" x2="235.6" y2="643.2" stroke="#333" stroke-width="0.8"/>
<text x="196.7" y="651.3" font-size="8.3" text-anchor="middle" fill="#222">Control</text>
<text x="235.6" y="651.3" font-size="8.3" text-anchor="middle" fill="#222">Anti-PD1</text>
<path d="M196.7 572.96 L196.82 625.04 L197 634.34 L202.7 635.27 L210.7 635.83 L213.2 636.2L180.2 636.2 L182.7 635.83 L190.7 635.27 L196.4 634.34 L196.58 625.04 L196.7 572.96Z" fill="#f8766d" stroke="#111" stroke-width="0.5" stroke-linejoin="round"/>
<path d="M235.6 589.7 L235.9 599 L236.1 613.88 L237.1 619.46 L238.4 623.18 L238.2 626.9 L237.5 630.62 L238.6 633.22 L243.6 634.71 L249.6 635.64 L252.1 636.2L219.1 636.2 L221.6 635.64 L227.6 634.71 L232.6 633.22 L233.7 630.62 L233 626.9 L232.8 623.18 L234.1 619.46 L235.1 613.88 L235.3 599 L235.6 589.7Z" fill="#00bfc4" stroke="#111" stroke-width="0.5" stroke-linejoin="round"/>
<path d="M201.1 622.6h0M202 621.1h0M207.2 613.6h0M212.3 622.4h0M203 621.9h0M186.5 620.7h0M195.9 625.8h0M185.8 621.8h0M180.1 620.1h0M195.8 617.1h0M204 627.2h0M185.8 624.4h0M189 627.3h0M191.5 616.7h0M203.4 619h0M197.4 628.3h0M200.6 610.9h0M205.4 611.9h0M193.1 619.7h0M206.6 620.3h0M210.5 626.2h0M182.7 629.3h0M211.4 621.6h0M204.3 627.9h0M184.1 625.8h0M195.1 625.1h0M201 628.7h0M210.6 622.5h0M192.5 622.8h0M199 616h0M209.6 621.7h0M206.8 619.9h0M211.8 622h0M195.5 619.5h0M201.8 622.5h0M186.7 624.7h0M204.2 609.2h0M207.5 609.6h0M201.5 616h0M204.1 618.7h0M187 624.3h0M210.3 625.3h0M213 624.6h0M212.9 627.7h0M198 617.6h0M206.6 623.3h0M190.6 615.9h0M210.6 623.4h0M208.8 612.3h0M191.5 615.9h0M182.5 630.4h0M194.7 625.5h0M198.4 614.1h0M205.8 622.4h0M196.3 611h0M180.7 623.3h0M207.2 627.6h0M181.9 620.1h0M206.9 617.4h0M185.6 624.8h0M191.1 627.3h0M206.5 624.1h0M184.5 612h0M184.8 617.8h0M197.3 626.8h0M204.3 625.1h0M208.3 627.1h0M203.1 627.9h0M211.9 617h0M196.4 625.9h0M212 621.1h0M182.6 622.7h0M187.2 625.7h0M197.6 618.3h0M189.6 626.6h0M204.5 619.8h0M201.4 626.8h0M197.5 623h0M208.4 625.5h0M198.7 624.8h0M190.3 611.6h0M192.7 616.9h0M208.4 624.4h0M210.3 614.9h0M186.8 625.5h0M208.6 623.3h0M212.6 615.7h0M197.5 619.9h0M199.2 627.1h0M186.5 610.3h0M197.9 625.5h0M196.8 624.9h0M200.3 617.5h0M180.6 624.1h0M212.7 624.5h0M197.2 627.6h0M193.3 627.3h0M206.9 620.8h0M198.8 625.1h0M196.4 620.5h0M203.2 623.6h0M181.9 622.6h0M198 612.2h0M193.8 622.2h0M212.2 620.9h0M211.1 615.4h0M188.9 625.8h0M195.8 626.2h0M184 614.1h0M194.4 616.6h0M207.4 625h0M210.3 625.8h0M195.9 618.2h0M190.5 613h0M186.2 625.7h0M200.7 612.6h0M211.2 614.9h0M184.1 620.5h0M206.2 623h0M180.5 627h0M186.3 628.4h0M187.4 612h0M203.1 625.2h0M190.7 618.8h0M191.8 625h0M200.8 616.4h0M183.3 620.6h0M204.6 624.5h0M183.9 625.9h0M197.1 618.5h0M188.2 586h0M186.4 574.8h0M197.7 590.4h0M194.6 595.3h0M192.5 599.7h0M193.8 604.6h0M197.7 602.7h0" stroke="#111" stroke-width="0.9" stroke-linecap="round" fill="none"/>
<path d="M224 629.1h0M225.5 626.9h0M240.1 622.8h0M240.3 617.5h0M236.6 622h0M247.5 626.3h0M239.4 615.6h0M247.7 627.1h0M226.5 630.4h0M243.8 626.4h0M246.2 624.3h0M249.3 629.2h0M229.3 627.4h0M229.3 625.3h0M250 622.6h0M226 628h0M252.5 625.3h0M248.8 616.4h0M223.2 612.8h0M226.7 621.3h0M243.3 620.7h0M227.4 622.4h0M221.9 627.9h0M246.9 629.8h0M232.9 630.4h0M245.5 615.9h0M222.9 620.6h0M232.3 613.8h0M241.9 630.2h0M219.2 621.6h0M225.4 623.8h0M241.8 620h0M249.6 625.8h0M251.5 610.6h0M222.5 628.9h0M235.8 623h0M244.4 619.9h0M235.7 616.2h0M241.9 619.9h0M225 620.5h0M221 618.8h0M222.2 615.7h0M219.9 625.5h0M237.4 620.8h0M236.1 616.1h0M237.9 617h0M223.6 624.7h0M224.9 618.9h0M225.5 617.2h0M247.2 622.6h0M252.3 621.8h0M250.1 625.1h0M221.8 622.4h0M220.7 622h0M251 628.8h0M234.3 621.6h0M244.6 611.7h0M229.7 616.7h0M234.5 620.1h0M236.1 625h0M233.2 619.9h0M239 622.5h0M219.1 624.4h0M242.4 617.8h0M247.3 628.8h0M224.8 619.7h0M234 630h0M243.7 622.2h0M232.4 623.9h0M225.2 626.8h0M224.2 620.6h0M236 623.6h0M219.1 622h0M249 615.5h0M245.9 626.6h0M242.6 630.6h0M247.9 626h0M240 620.9h0M232.4 627.1h0M239 627.5h0M235.7 616h0M252 621.2h0M246 624.4h0M227.4 616.4h0M249.6 625.8h0M243.9 621.1h0M245.1 627.2h0M246.3 624.5h0M232.4 618.5h0M249.1 615.7h0M248.5 616.7h0M242.2 625.1h0M244.7 622.4h0M244.6 625.9h0M232.4 628h0M243.2 623.6h0M221 617.8h0M230.2 617.6h0M234.5 620.4h0M219 614.4h0M230.7 626.3h0M240.3 627.5h0M239.8 624.2h0M226.5 626.3h0M250.7 627h0M241.2 624.7h0M230.1 621.8h0M241 623.7h0M238 625.9h0M236.7 617.8h0M231.8 612.7h0M252.6 624.2h0M240.4 628.9h0M242.4 629.9h0M244.5 616.9h0M251.9 629.7h0M219.4 620.4h0M239.5 622.6h0M243.7 626h0M227.3 618.8h0M232.3 630.3h0M220.3 628h0M225.2 624.2h0M231.4 630.1h0M221.9 618h0M227.1 626.8h0M249.4 627.9h0M237.3 629.5h0M235.9 621.7h0M251.5 624.3h0M237.9 599h0M252.4 599.7h0M240.3 605.7h0M246.1 606.4h0" stroke="#111" stroke-width="0.9" stroke-linecap="round" fill="none"/>
<line x1="180.2" y1="636.2" x2="213.2" y2="636.2" stroke="#222" stroke-width="1.4"/>
<line x1="219.1" y1="636.2" x2="252.1" y2="636.2" stroke="#222" stroke-width="1.4"/>
<text x="218.1" y="556.7" font-size="9.8" text-anchor="middle" font-style="italic" fill="#111">STAT2</text>
<text x="218.1" y="566.6" font-size="8.8" text-anchor="middle" fill="#111">ns</text>
<line x1="279.5" y1="559" x2="279.5" y2="640.7" stroke="#333" stroke-width="0.9"/>
<line x1="279.5" y1="640.7" x2="364.4" y2="640.7" stroke="#333" stroke-width="0.9"/>
<line x1="277" y1="636.4" x2="279.5" y2="636.4" stroke="#333" stroke-width="0.8"/>
<text x="275.5" y="639.4" font-size="8.6" text-anchor="end" fill="#222">0</text>
<line x1="277" y1="607.95" x2="279.5" y2="607.95" stroke="#333" stroke-width="0.8"/>
<text x="275.5" y="610.95" font-size="8.6" text-anchor="end" fill="#222">1</text>
<line x1="277" y1="579.5" x2="279.5" y2="579.5" stroke="#333" stroke-width="0.8"/>
<text x="275.5" y="582.5" font-size="8.6" text-anchor="end" fill="#222">2</text>
<line x1="302.1" y1="640.7" x2="302.1" y2="643.2" stroke="#333" stroke-width="0.8"/>
<line x1="341.2" y1="640.7" x2="341.2" y2="643.2" stroke="#333" stroke-width="0.8"/>
<text x="302.1" y="651.3" font-size="8.3" text-anchor="middle" fill="#222">Control</text>
<text x="341.2" y="651.3" font-size="8.3" text-anchor="middle" fill="#222">Anti-PD1</text>
<path d="M302.1 572.39 L302.45 590.88 L303 599.41 L304.1 605.11 L305.4 610.79 L306.7 616.49 L307.9 622.17 L308.6 626.44 L308.4 630.14 L309.1 632.99 L312.1 634.69 L316.1 635.69 L319.1 636.4L285.1 636.4 L288.1 635.69 L292.1 634.69 L295.1 632.99 L295.8 630.14 L295.6 626.44 L296.3 622.17 L297.5 616.49 L298.8 610.79 L300.1 605.11 L301.2 599.41 L301.75 590.88 L302.1 572.39Z" fill="#f8766d" stroke="#111" stroke-width="0.5" stroke-linejoin="round"/>
<path d="M341.2 588.03 L341.8 596.57 L342.7 602.26 L344 607.95 L345.5 613.64 L347 619.33 L348.2 623.6 L349 627.87 L348.8 631.28 L349.7 633.55 L353.2 634.98 L356.7 635.83 L358.2 636.4L324.2 636.4 L325.7 635.83 L329.2 634.98 L332.7 633.55 L333.6 631.28 L333.4 627.87 L334.2 623.6 L335.4 619.33 L336.9 613.64 L338.4 607.95 L339.7 602.26 L340.6 596.57 L341.2 588.03Z" fill="#00bfc4" stroke="#111" stroke-width="0.5" stroke-linejoin="round"/>
<path d="M286.4 628.4h0M307.9 617.1h0M290 612.8h0M317.7 629.6h0M305.5 606h0M301.1 626h0M299.1 619.9h0M306.3 625.8h0M308.5 619.4h0M310.9 616.8h0M310.7 629h0M301.6 605.1h0M318.9 621h0M313.6 618.8h0M314.2 617.1h0M299 622h0M299.9 623.5h0M304.3 615.7h0M315.9 618h0M303 623.5h0M303 614.1h0M299.8 623.3h0M315.8 631.3h0M296 624.2h0M287 629.7h0M309.8 626.1h0M315.7 612.9h0M310 621.6h0M305.4 607.7h0M310.7 613.1h0M295.5 629.3h0M305.3 601.2h0M287.5 605.1h0M289.3 628.5h0M300.3 607.3h0M302.2 620.8h0M298.6 619.8h0M286.9 602.9h0M308.7 624.3h0M303 618.8h0M293.2 605.6h0M295.5 613.9h0M298.5 620h0M293.1 602.4h0M287.4 610.9h0M316.1 617h0M318 627.2h0M307.7 616.5h0M314.6 620.3h0M299.4 625.1h0M312.5 629.3h0M292.6 618.7h0M310.5 626.9h0M304.4 620.5h0M315.8 615.4h0M288.5 620.3h0M312 623.9h0M289.3 617.5h0M303.4 621h0M317.4 612.2h0M285.1 618.7h0M293.4 599.5h0M295.3 604.6h0M296.1 613.5h0M287.2 624.4h0M315.5 627.2h0M312.8 607.9h0M298.6 612h0M297.2 616.5h0M305 622.1h0M286.7 623.7h0M286.2 614.9h0M315.6 617.9h0M295.6 617.3h0M302 616.3h0M316.9 613h0M318.3 625.4h0M301.2 624.2h0M292.1 602.3h0M295.1 606.8h0M316.5 608.5h0M315.6 629.8h0M291.7 628.9h0M313.6 623.8h0M297.1 620.9h0M301.2 616.5h0M290.9 627.5h0M315 618.4h0M318.9 628.5h0M292 628h0M306.6 615.2h0M291.6 618.2h0M315 616.3h0M286.8 621.9h0M288.7 619.8h0M309.8 624.9h0M295.7 622.4h0M315.7 613.2h0M314.7 610.1h0M309.3 628.4h0M289.7 627h0M308.8 611.2h0M317 616.5h0M300.2 612.5h0M287.8 624.9h0M292.7 620.9h0M295.5 624h0M309.3 611.2h0M291.8 622h0M291.3 615.8h0M293.1 601.1h0M307.7 622.8h0M312 618.3h0M297.8 613.2h0M307.6 606.5h0M315.2 620.8h0M305.2 622h0M292.9 627.7h0M295.3 608.7h0M316.6 628.3h0M307.8 628.1h0M294.5 617.9h0M306.9 619.7h0M288.2 614.9h0M318.5 623.3h0M300.1 612.3h0M303.1 628.4h0M303.1 624.9h0M286.6 615.5h0M305.5 628.2h0M294.8 623.2h0M293.6 613.8h0M312.4 614.7h0M288.1 623.5h0M294.8 626.4h0M310.8 622.2h0M293.5 613.8h0M294.6 622h0M303.7 627.1h0M291.4 614.3h0M315.6 617.8h0M318.7 606.6h0M286.2 605.4h0M300.8 606.9h0M310.6 620.6h0M298.2 611.4h0M316.7 623.2h0M302.1 622.9h0M291.2 621.4h0M304 605.7h0M307 607.8h0M297.3 624.2h0M307.5 622.1h0M311.7 622h0M302.7 622.1h0M302.3 621.5h0M313.8 621.6h0M308.4 625.2h0M302.8 617.9h0M317.5 611.6h0M291 618.4h0M311.6 610.2h0M290.7 617.9h0M305.8 625.6h0M293.1 612.8h0M300.1 608.4h0M311.4 623.6h0M311.8 630.7h0M312 619h0M293.1 618.4h0M301.7 617.8h0M292.6 603.5h0M304.8 615.8h0M302.1 611.3h0M286.3 628.8h0M305.4 618.3h0M309.4 611.9h0M304.6 628.1h0M314.8 628.2h0M291.2 613.5h0M290.3 607.6h0M285.7 628.1h0M302 616.2h0M299.9 626.4h0M300.1 613.2h0M294 615.9h0M312.2 624.2h0M287.6 624.7h0M315.9 612.6h0M304.4 618.9h0M303.6 612.6h0M312 621.5h0M293.2 622.5h0M290.1 603.4h0M295.7 615.3h0M286.5 619.5h0M295.8 618.5h0M306.2 613.9h0M303 614.3h0M294.1 606.8h0M305.1 621.2h0M288.1 610.6h0M313 615.4h0M290.9 609.5h0M293.8 611.3h0M290.5 610.3h0M308.6 608.1h0M313.4 604.2h0M311.8 616.1h0M287.2 618.8h0M299.1 614.2h0M297.5 611.4h0M292.5 620.9h0M318.1 621h0M286.5 626.4h0M301.7 613.3h0M311 600.9h0M318.6 621.8h0M290 625.8h0M300.6 625h0M310.4 620.9h0M286.4 623.4h0M293.3 603.2h0M315.4 629h0M289.9 623.1h0M298.5 627.2h0M295.2 615.9h0M299.5 612.3h0M287.7 625.6h0M286.3 628.9h0M319 590.9h0M311.1 593.7h0M310.1 595.1h0M292.9 572.4h0" stroke="#111" stroke-width="0.9" stroke-linecap="round" fill="none"/>
<path d="M332.8 620.2h0M343 617.5h0M332.4 607.1h0M339.9 630h0M355.9 627.4h0M336.6 625.5h0M335.7 624.8h0M357.6 624.4h0M345 614h0M325.5 617.2h0M337.9 624.6h0M346.3 625.5h0M326.2 623.6h0M335.9 625.7h0M347.8 612.9h0M353.6 623h0M344.3 618.3h0M354.3 610.9h0M339.9 619.8h0M337.6 624h0M352.9 608.1h0M337.2 606.8h0M350.8 622.5h0M331.5 618.3h0M336 604.2h0M330.4 619.7h0M342.9 624.7h0M329.8 629.4h0M331.1 604.9h0M331.5 611.4h0M340.1 621.7h0M334.7 618.7h0M339.4 619h0M358 623.7h0M347.3 601h0M353.5 615.7h0M331.2 624.4h0M337.2 631.6h0M326.7 619.9h0M347.7 621.9h0M336.5 611.6h0M333.5 614.2h0M324.8 616.9h0M330.4 626.1h0M333.1 626.1h0M337.6 622.8h0M355.6 624h0M348.5 608.9h0M333.3 619h0M336.5 616.2h0M329.4 600.5h0M356 623.8h0M336.4 618.6h0M350.2 626.3h0M348.8 612.5h0M355 632.9h0M324.9 610.7h0M335.2 609.8h0M337.3 610.7h0M327 628.2h0M354.2 623.8h0M335.3 614.1h0M350.4 627.7h0M341.9 619.8h0M326.1 620h0M337.6 604.4h0M332.3 617.4h0M325.6 609.4h0M329.3 623.2h0M344.4 611.8h0M325.3 621h0M334.8 606.7h0M338.6 627.9h0M342.7 610.6h0M328.8 625h0M348.2 618.4h0M333.1 618.8h0M348.9 626.1h0M346.8 610.4h0M329.2 623h0M331.2 623h0M333.7 628.4h0M348.4 623.1h0M338 620h0M337.3 614.1h0M353.6 622.1h0M331.9 614.9h0M334.1 627.4h0M335.9 621.5h0M331.5 620.1h0M325.6 603.5h0M325 610.4h0M345.6 615.7h0M343.4 631.5h0M351.7 621.8h0M357.4 614.2h0M334.3 624.4h0M347 617.9h0M355.4 620.2h0M331.6 631.6h0M347.6 600.8h0M346.9 611.5h0M356.7 625h0M353.7 616.7h0M332.2 623.4h0M345.7 621.8h0M327.3 618.5h0M338.7 623.3h0M337.5 622.6h0M326.2 621.5h0M337.2 615.4h0M335.4 624h0M341.1 625.1h0M333.7 613.6h0M329.6 622.7h0M337.9 605.1h0M340.4 617.9h0M329.9 613.9h0M346.8 622.7h0M332.4 610.5h0M327.4 627.8h0M335.8 626.5h0M338.6 627.8h0M329.3 615.1h0M344 614.3h0M348 625.6h0M343 621.3h0M348 610.2h0M325 617.2h0M337.5 627.9h0M336.6 624.6h0M326.3 626.1h0M337.9 626.9h0M326.1 621.2h0M341 628.5h0M344.1 606.5h0M340.1 620.8h0M335.3 619.1h0M332.8 615.9h0M325 612.6h0M336 610.8h0M354.5 621.6h0M343.4 622.7h0M333.1 621.1h0M346.9 631.2h0M330.5 621.4h0M340.2 614.5h0M345.1 602h0M356.7 611.8h0M336.5 615.6h0M343.8 616.9h0M356.2 631h0M350.4 622.7h0M345.5 622.5h0M345.3 615.8h0M338.2 627.4h0M338.3 621.8h0M333.6 619.1h0M352.4 611.9h0M354.1 610.6h0M337.2 616.8h0M355.1 626.1h0M325.5 612.6h0M328.8 607.4h0M341.4 618.3h0M334.7 622.3h0M336.5 619.3h0M357.4 626.5h0M329.3 614.1h0M330.7 601.5h0M332 619h0M347.3 614.1h0M332.2 610.2h0M324.2 625.2h0M342.7 605.1h0M337.6 616.4h0M332.3 625.2h0M341 628.1h0M346.3 624.2h0M342.8 617.6h0M345.4 614.6h0M343.3 622.7h0M352.5 606h0M357.1 622.1h0M335.5 620.1h0M336 626.9h0M354.3 602.9h0M334.9 626.6h0M348.5 607.3h0M347.8 618.4h0M347.5 618h0M357 618h0M352.2 623.9h0M329.6 607.1h0M345.3 600.7h0M340.9 610.9h0M343.4 617h0M336.8 627h0M333.9 610.6h0M349.7 623.4h0M342.4 607.7h0M332.3 624.3h0M332.7 617.7h0M335.2 610.4h0M330.2 625.4h0M341.7 618.3h0M328.5 628.4h0M326.4 630.2h0M326.5 625.6h0M327.7 601.4h0M348.2 605.4h0M328 615.6h0M339.6 623.1h0M350.5 615.3h0M340.5 613.4h0M329.7 621.7h0M353.7 617.3h0M353.8 611.4h0M326 631.1h0M332.8 625.1h0M341.5 620h0M351.3 626.4h0M337.5 621.6h0M348.5 617.8h0M332.8 625.7h0M348.5 618.9h0M335.3 623.9h0M335.6 617.8h0M350 622.7h0M352.9 616.1h0M352.4 588h0M343.5 590.9h0M338.5 592.3h0M348.2 596.6h0" stroke="#111" stroke-width="0.9" stroke-linecap="round" fill="none"/>
<line x1="285.6" y1="636.4" x2="318.6" y2="636.4" stroke="#222" stroke-width="1.4"/>
<line x1="324.7" y1="636.4" x2="357.7" y2="636.4" stroke="#222" stroke-width="1.4"/>
<text x="323.6" y="556.7" font-size="9.8" text-anchor="middle" font-style="italic" fill="#111">AXL</text>
<text x="322.6" y="566.6" font-size="8.8" text-anchor="middle" fill="#111">ns</text>
<text x="151" y="593.5" font-size="9.6" text-anchor="middle" fill="#222" transform="rotate(-90 151 593.5)">Expression Level</text>
<line x1="173.4" y1="667.3" x2="173.4" y2="749.8" stroke="#333" stroke-width="0.9"/>
<line x1="173.4" y1="749.8" x2="259.3" y2="749.8" stroke="#333" stroke-width="0.9"/>
<line x1="170.9" y1="744.6" x2="173.4" y2="744.6" stroke="#333" stroke-width="0.8"/>
<text x="169.4" y="747.6" font-size="8.6" text-anchor="end" fill="#222">0</text>
<line x1="170.9" y1="716.1" x2="173.4" y2="716.1" stroke="#333" stroke-width="0.8"/>
<text x="169.4" y="719.1" font-size="8.6" text-anchor="end" fill="#222">1</text>
<line x1="170.9" y1="687.6" x2="173.4" y2="687.6" stroke="#333" stroke-width="0.8"/>
<text x="169.4" y="690.6" font-size="8.6" text-anchor="end" fill="#222">2</text>
<line x1="196.7" y1="749.8" x2="196.7" y2="752.3" stroke="#333" stroke-width="0.8"/>
<line x1="235.6" y1="749.8" x2="235.6" y2="752.3" stroke="#333" stroke-width="0.8"/>
<text x="196.7" y="760.4" font-size="8.3" text-anchor="middle" fill="#222">Control</text>
<text x="235.6" y="760.4" font-size="8.3" text-anchor="middle" fill="#222">Anti-PD1</text>
<path d="M196.7 676.2 L197 707.55 L197.6 716.1 L197.7 730.35 L197.9 738.9 L198.7 741.18 L204.7 742.89 L210.7 744.03 L212.7 744.6L180.7 744.6 L182.7 744.03 L188.7 742.89 L194.7 741.18 L195.5 738.9 L195.7 730.35 L195.8 716.1 L196.4 707.55 L196.7 676.2Z" fill="#f8766d" stroke="#111" stroke-width="0.5" stroke-linejoin="round"/>
<path d="M235.6 687.6 L236 742.89 L245.6 744.03 L251.6 744.6L219.6 744.6 L225.6 744.03 L235.2 742.89 L235.6 687.6Z" fill="#00bfc4" stroke="#111" stroke-width="0.5" stroke-linejoin="round"/>
<path d="M201.2 718.6h0M194.1 712.2h0M207.6 713.3h0M193.6 730.5h0M195.2 724.3h0M196.9 717.4h0M211.7 727.4h0M191.5 728.7h0M203.6 736.1h0M187.7 719.6h0M199.4 706.8h0M189.4 704.5h0M209.4 730.2h0M189.4 716.9h0M208.8 723.4h0M202.7 718.4h0M195.2 723.8h0M211.4 707.3h0M192.9 702.4h0M205 733.6h0M200.1 716.1h0M194.9 730.7h0M181.9 734h0M193.9 726.1h0M189.3 715.6h0M194.7 701.6h0M212.2 730.6h0M189.7 725.2h0M203.3 735h0M202.6 720.6h0M188 722h0M193.7 724.3h0M184.2 725.6h0M210.1 713.3h0M188.3 711.8h0M194 726.2h0M191.3 724h0M207.6 718.8h0M208.6 714.5h0M199.8 703.4h0M198.3 724h0M183.1 716.7h0M210.2 720.6h0M182.7 713.3h0M192.1 729.8h0M192.4 728.9h0M204.3 731.1h0M202.5 707.2h0M191.4 726.9h0M210.2 721.9h0M212 730.6h0M180.5 725.3h0M201.2 735.6h0M195.7 720.1h0M192 729.9h0M195.5 718.6h0M190.4 726.4h0M202.5 727.5h0M200.3 722h0M212.7 724.5h0M212.9 726.8h0M213.4 733.5h0M193.1 732.8h0M207.9 709.5h0M201.8 725.6h0M203.5 732.2h0M213.6 728.7h0M182 722h0M195.4 700.7h0M193.3 728.2h0M202 710.7h0M187.1 722h0M213.4 723.5h0M186.8 713.1h0M192.3 723.9h0M184.6 733.2h0M193.1 720.4h0M204.9 717.7h0M182.5 718.6h0M185.4 726.3h0M201.8 706.9h0M200.9 710.8h0M204.9 701.4h0M188.3 722.9h0M207.3 712h0M204.5 715.8h0M206.1 728.9h0M183.8 735h0M195.6 729.1h0M180.2 730.7h0M208.9 732.4h0M211.8 724.6h0M210.2 714.9h0M180.5 725.6h0M191.6 721.3h0M197.9 736.5h0M197.8 728h0M183.5 705.5h0M206.5 736.4h0M190 721h0M196.9 712.9h0M183.9 713.6h0M199 715.5h0M184.1 723.8h0M182.7 713.2h0M197.1 712.3h0M189.7 714.4h0M206.1 702.8h0M188.1 731.3h0M193.8 706.1h0M181.5 723.7h0M187.1 716.4h0M195.1 727h0M198.7 708.6h0M195.3 735.2h0M208.6 719.8h0M183.2 727.5h0M208.6 724h0M185 724.4h0M212.7 717.7h0M197.5 712.9h0M193.5 724.5h0M200.5 718.2h0M209.1 724.7h0M212.5 726.3h0M193.8 708.9h0M180.1 725.4h0M184.9 731.6h0M207.5 725.1h0M204.7 715.3h0M203.9 727.9h0M185 715.2h0M197.8 720.5h0M180.7 717.1h0M183.4 728.9h0M189.9 731.1h0M212.6 729.9h0M201.6 724.8h0M208.5 723.1h0M181.3 736.6h0M193.8 721.6h0M182.4 723.7h0M188.6 725.4h0M183.5 720.8h0M210.9 706h0M190.9 728.1h0M196.3 710.1h0M201.9 725.4h0M209.8 714.9h0M211.9 731.1h0M199 702.6h0M196.7 723.2h0M210.4 705.2h0M193.1 727.7h0M189.9 723.6h0M204.8 716.3h0M188.5 728.8h0M192.2 726.4h0M194.3 717.2h0M195.9 706.3h0M191.9 687.6h0M194.3 689h0" stroke="#111" stroke-width="0.9" stroke-linecap="round" fill="none"/>
<path d="M233.9 725.2h0M220.3 728.9h0M247 724.4h0M220.7 704.7h0M236.5 730h0M237.2 718.6h0M232.2 723.9h0M226.2 718.4h0M222 728h0M231.2 719h0M229.3 711.1h0M235.1 712.4h0M226.4 718.7h0M244.1 721.3h0M235.2 720.1h0M218.9 731.3h0M232.4 713h0M251.5 717.3h0M218.8 722.4h0M238.8 717.9h0M251.3 723h0M231 723.8h0M238.9 727.5h0M231.1 719.4h0M228.8 720h0M239.3 721.1h0M238.6 735.5h0M229.3 718.8h0M235.5 722.5h0M236.2 719.5h0M244.2 719.5h0M220.4 709.1h0M221.8 729.9h0M227.2 722h0M227.8 704.2h0M245.7 716h0M233.1 725.4h0M247.8 716.1h0M232.3 704.7h0M228.3 723.4h0M241.7 711.9h0M221.5 730.8h0M252.1 704.6h0M246.9 721.6h0M229.8 727.4h0M229.4 712.9h0M246.5 718.3h0M245.4 708.8h0M240.4 713.3h0M220.5 714.3h0M244.6 721.2h0M220.2 704.1h0M239.8 733.5h0M237.4 711.8h0M250.1 716.7h0M240.3 727h0M219.4 714h0M250.4 722.3h0M244.2 720.7h0M238.3 712h0M218.8 728.5h0M243.7 726.2h0M232.8 718.4h0M241.7 733.1h0M252 720.3h0M249.8 714.6h0M221.1 721.6h0M245.2 727.2h0M233.6 714.2h0M244.2 712.4h0M231.4 715.1h0M233.8 720.5h0M233.5 710.4h0M222.6 714.3h0M229.5 729.9h0M243.6 724.2h0M221 731.9h0M222.5 735.2h0M247 724.6h0M241.3 712h0M237.2 713.1h0M222.5 731.2h0M222.6 728.9h0M229.1 723.7h0M251 712.6h0M237.6 719h0M250 710.5h0M225.8 733.2h0M232.7 704.9h0M236.8 728.2h0M247.1 718.7h0M222.8 711.6h0M248.3 716.3h0M234.7 728.5h0M219.7 717.8h0M233.3 722.8h0M231.4 737h0M241.5 724.8h0M250.2 725.3h0M235.4 718.7h0M242 726.2h0M231.8 719.3h0M245.1 717.2h0M222.2 729h0M243.8 730.8h0M224.3 717.2h0M238.5 722.1h0M225.5 730.7h0M230.4 731.2h0M224.2 708.6h0M230.5 719.2h0M238.7 724.4h0M236.3 728.5h0M231.8 703.8h0M238.1 717.2h0M247.2 716.1h0M230.8 724.3h0M238.4 725.5h0M234.9 723.3h0M251.9 730.1h0M229.8 687.6h0M242.3 690.5h0" stroke="#111" stroke-width="0.9" stroke-linecap="round" fill="none"/>
<line x1="180.2" y1="744.6" x2="213.2" y2="744.6" stroke="#222" stroke-width="1.4"/>
<line x1="219.1" y1="744.6" x2="252.1" y2="744.6" stroke="#222" stroke-width="1.4"/>
<text x="217" y="668.7" font-size="9.8" text-anchor="middle" font-style="italic" fill="#111">AURKB</text>
<text x="217" y="677.8" font-size="8.8" text-anchor="middle" fill="#111">p=0.041</text>
<text x="216.4" y="693.4" font-size="17" text-anchor="middle" fill="#111">*</text>
<line x1="279.5" y1="667.3" x2="279.5" y2="749.8" stroke="#333" stroke-width="0.9"/>
<line x1="279.5" y1="749.8" x2="364.4" y2="749.8" stroke="#333" stroke-width="0.9"/>
<line x1="277" y1="744.6" x2="279.5" y2="744.6" stroke="#333" stroke-width="0.8"/>
<text x="275.5" y="747.6" font-size="8.6" text-anchor="end" fill="#222">0</text>
<line x1="277" y1="728.3" x2="279.5" y2="728.3" stroke="#333" stroke-width="0.8"/>
<text x="275.5" y="731.3" font-size="8.6" text-anchor="end" fill="#222">1</text>
<line x1="277" y1="712" x2="279.5" y2="712" stroke="#333" stroke-width="0.8"/>
<text x="275.5" y="715" font-size="8.6" text-anchor="end" fill="#222">2</text>
<line x1="277" y1="695.7" x2="279.5" y2="695.7" stroke="#333" stroke-width="0.8"/>
<text x="275.5" y="698.7" font-size="8.6" text-anchor="end" fill="#222">3</text>
<line x1="277" y1="679.4" x2="279.5" y2="679.4" stroke="#333" stroke-width="0.8"/>
<text x="275.5" y="682.4" font-size="8.6" text-anchor="end" fill="#222">4</text>
<line x1="302.7" y1="749.8" x2="302.7" y2="752.3" stroke="#333" stroke-width="0.8"/>
<line x1="341.2" y1="749.8" x2="341.2" y2="752.3" stroke="#333" stroke-width="0.8"/>
<text x="302.7" y="760.4" font-size="8.3" text-anchor="middle" fill="#222">Control</text>
<text x="341.2" y="760.4" font-size="8.3" text-anchor="middle" fill="#222">Anti-PD1</text>
<path d="M302.7 681.03 L303.1 718.52 L303.5 728.3 L303.9 736.45 L304.9 740.52 L305.7 742.64 L310.7 743.62 L316.7 744.27 L318.7 744.6L286.7 744.6 L288.7 744.27 L294.7 743.62 L299.7 742.64 L300.5 740.52 L301.5 736.45 L301.9 728.3 L302.3 718.52 L302.7 681.03Z" fill="#f8766d" stroke="#111" stroke-width="0.5" stroke-linejoin="round"/>
<path d="M341.2 705.48 L341.6 743.62 L351.2 744.27 L357.2 744.6L325.2 744.6 L331.2 744.27 L340.8 743.62 L341.2 705.48Z" fill="#00bfc4" stroke="#111" stroke-width="0.5" stroke-linejoin="round"/>
<path d="M300.2 742.1h0M304.6 741.9h0M317.9 738.4h0M302.4 739.6h0M302.1 741.9h0M295.6 743.3h0M314.3 737.7h0M302.8 741h0M297.3 738.5h0M292.4 740.6h0M293 739.3h0M314.1 739.7h0M313 736.6h0M319 737.1h0M316.9 740.4h0M309 740.2h0M312.8 742.1h0M309.9 738.3h0M313.2 743h0M312.9 741.5h0M291.7 737.6h0M313.4 743.5h0M296 738.7h0M294 739.6h0M317 739.7h0M286.5 741.3h0M303.1 742.7h0M297.4 736.8h0M312.6 738.2h0M306.5 737.9h0M316.7 743.1h0M317.4 738h0M307.6 742.2h0M287.9 742.3h0M308.4 739.9h0M289.4 739.3h0M319.1 742.9h0M315.3 738.2h0M296.3 739.5h0M292 737.2h0M309.3 737h0M311.5 738.7h0M319.2 741.1h0M306.9 736.8h0M290 738.5h0M310.4 741.7h0M287.7 737.5h0M315.2 738.5h0M311.8 741.8h0M312.4 742h0M315.4 743.6h0M305.1 739.8h0M317.8 741.9h0M307.4 741.6h0M302.4 741.9h0M298.8 742.8h0M297.7 740.2h0M286.5 741.8h0M291.2 741.7h0M312.8 741.7h0M293.5 740h0M307.9 737.4h0M312.1 742.6h0M309.3 737.5h0M303.2 737.5h0M296.4 739.3h0M295 739.8h0M292.1 738.4h0M307.7 739.9h0M309 738.9h0M317.7 737h0M296.9 738.1h0M317.2 741.9h0M316.7 743.4h0M295.6 736.9h0M318.1 741.1h0M306.8 738h0M318.4 742.1h0M312 740.5h0M297 741.1h0M295.2 738.4h0M303.5 736.9h0M302.3 740.1h0M286.9 739.6h0M315 741.2h0M303.9 742.1h0M301.8 736.8h0M311 743h0M294.2 736.9h0M292.5 739h0M305.4 743.3h0M293.9 737.2h0M296.8 743h0M288.1 739.6h0M287.5 742.9h0M297.8 736.5h0M303.6 741.5h0M318 737.4h0M307.4 743.3h0M299.8 738.9h0M299.5 743.3h0M293.7 743.6h0M301.8 739.6h0M318.3 736.6h0M289.8 738.8h0M300.4 737.5h0M309 738h0M311.6 740h0M304.6 743.2h0M307.5 739.9h0M317.6 729.4h0M316.4 723.3h0M294.2 726.5h0M304.1 723.8h0M319.6 729.2h0M303.6 719.2h0M292.1 725.4h0M311.7 724.1h0M287.6 731.9h0M290.8 724.1h0M304.4 722.6h0M295 708.5h0M310.2 722.5h0M310.4 730.5h0M296.6 727.5h0M311.8 726.9h0M307.7 719.3h0M309.7 710.8h0M301.2 708.2h0M300.4 710.2h0M289.3 711.6h0M301.8 714.5h0M318.2 711h0M315.9 734.1h0M287.6 724h0M288.1 721.9h0M294.9 719.7h0M309.3 721.4h0M300.6 721.4h0M290 711.1h0M300.2 731.7h0M305.2 723.4h0M311 709.5h0M299.4 733.5h0M307.8 731h0M308.9 714.1h0M306.6 709.7h0M287.3 733.9h0M309.9 733.5h0M290.1 715.5h0M287.6 719.6h0M301.8 723.4h0M286.3 722.1h0M288.2 717.8h0M299 716.2h0M301.6 736h0M289.3 732.2h0M318.1 716.7h0M314.7 708.3h0M302.2 715.4h0M305.7 725.6h0M296.4 726.9h0M319.1 726.7h0M289.8 734.5h0M296 717.4h0M293.2 728.1h0M315.1 722h0M303 723.3h0M299.7 726.9h0M299.3 719.9h0M315.9 724.7h0M294.5 728.6h0M312.6 713.6h0M309.8 729.6h0M300.9 730.1h0M298.1 728.2h0M300.6 724.2h0M301.1 717h0M296.4 726.9h0M306.9 728.5h0M299.7 720.4h0M296 728.1h0M312 723.4h0M301.2 728.2h0M301.8 713.8h0M315.6 729.4h0M301.2 728.6h0M298.5 727.4h0M316.2 727h0M318.9 718.6h0M312.4 720h0M299.3 716.8h0M308.5 723h0M310.9 731.9h0M295.8 717.6h0M310.3 728.4h0M318 728.8h0M308 725.5h0M308.4 706.7h0M300.5 726.2h0M307.9 726.5h0M293.4 712.3h0M311.9 706.6h0M304 726h0M319 730.4h0M297.3 716.8h0M309.9 717h0M286.3 726.8h0M299.8 716.8h0M311.8 726.1h0M294.5 697.3h0M306.6 704.7h0M293.2 707.1h0" stroke="#111" stroke-width="0.9" stroke-linecap="round" fill="none"/>
<path d="M337.7 741.1h0M358 739.1h0M330.9 738.1h0M355.2 739.9h0M326.2 737.6h0M344 742.9h0M352.1 739.7h0M352.7 740.5h0M337.5 742.5h0M344.3 737h0M348.4 742h0M350.1 741.6h0M349.6 737.2h0M343.9 736.7h0M332.8 736.9h0M348.2 740.7h0M343.3 736.9h0M342.7 742h0M357.8 738.3h0M328.8 736.8h0M350.7 741.7h0M335.2 742.1h0M348.9 738.5h0M356.5 737.2h0M333.5 738.2h0M343.5 736.8h0M342.2 740h0M341 740.5h0M329.9 742.2h0M345.5 741.2h0M354.6 736.8h0M346.8 742.5h0M334 741.8h0M351.6 740.7h0M338.5 742.6h0M329.1 741h0M344.8 741.8h0M339.9 742.2h0M342.2 739.5h0M357.9 739.4h0M343.6 739.3h0M356.6 738h0M336.2 739.5h0M350 736.8h0M326.8 742.4h0M334.4 741.5h0M347.7 742.5h0M347.7 741h0M352.4 738h0M337.1 736.9h0M333.5 739.7h0M336.4 741.9h0M342.5 740.8h0M325 739.3h0M336.9 741.1h0M346.5 737.8h0M329.3 736.6h0M334.8 740h0M353.9 739h0M355.9 737.5h0M332.7 727.3h0M330.2 730.9h0M328.2 717h0M327.1 715.1h0M351.2 734.5h0M349.3 722.2h0M333.2 728.2h0M340.8 733.6h0M347.8 731.4h0M325.2 731.2h0M352 722.8h0M353.4 730.6h0M331.4 734.7h0M348.1 730.5h0M348 721.4h0M335.7 726.8h0M354.1 724.3h0M331.6 727.3h0M340.3 731.1h0M334.9 734.9h0M339.2 729.5h0M351.8 733.9h0M343.6 730h0M344.9 724.9h0M357.8 728.6h0M331.8 727.2h0M331.8 724.8h0M345.3 729.3h0M329.3 728.8h0M357 719.1h0M335.8 725.6h0M339.2 728h0M338.9 726.2h0M352.3 727.4h0M355.3 729.1h0M347.2 718.2h0M330 730.4h0M336.3 717.3h0M348.2 720h0M331.5 719.2h0M354.2 731.4h0M353.9 726.7h0M331.9 714.6h0M336.6 729.7h0M332 731.2h0M348.6 723h0M325.8 730.3h0M347.9 725.5h0M326.3 731.4h0M352.8 716.8h0M342.7 729.7h0M344 732.5h0M327.4 723.7h0M325.7 728.9h0M336.2 725.9h0M357.7 726.8h0M344.6 717.8h0M353.5 726.6h0M326.3 728.5h0M327.7 735.9h0M324.9 726.9h0M347.9 729.9h0M330.2 725.7h0M333.5 724.7h0M346.9 727.4h0M347.8 732.7h0M335.2 726.8h0M340.1 727.1h0M334 724.5h0M343.3 715.6h0M336.3 729.8h0M336.4 727.6h0M332.7 732.8h0M334.1 721.4h0M333.1 730.3h0M324.8 720.7h0M334.8 721.4h0M344.3 730.1h0M333.3 718.5h0M328 726.7h0M353 705.5h0M340.1 712.8h0" stroke="#111" stroke-width="0.9" stroke-linecap="round" fill="none"/>
<line x1="286.2" y1="744.6" x2="319.2" y2="744.6" stroke="#222" stroke-width="1.4"/>
<line x1="324.7" y1="744.6" x2="357.7" y2="744.6" stroke="#222" stroke-width="1.4"/>
<text x="322.6" y="668.7" font-size="9.8" text-anchor="middle" font-style="italic" fill="#111">TOP2A</text>
<text x="322.6" y="677.8" font-size="8.8" text-anchor="middle" fill="#111">p=0.0015</text>
<text x="323.8" y="693.6" font-size="17" text-anchor="middle" fill="#111">**</text>
<text x="150.6" y="702.4" font-size="9.6" text-anchor="middle" fill="#222" transform="rotate(-90 150.6 702.4)">Expression Level</text>
<text x="386.5" y="533.8" font-size="11" font-weight="bold" fill="#000">f</text>
<path d="M478.6 718.9h0M470.5 723.5h0M488.1 715.8h0M471.7 733.2h0M455.3 728.2h0M443.8 736.7h0M485.3 733.6h0M472.8 720.6h0M426.9 741.9h0M432.7 744.5h0M480.8 713.3h0M463.4 739h0M463.3 740.8h0M446.8 747.9h0M460.1 738.7h0M472.7 741.9h0M445.4 735.2h0M445.7 735.1h0M428.4 739h0M449.3 735.7h0M457 727.6h0M480.3 726.7h0M471.8 721.6h0M447.1 751h0M439.8 737.3h0M471.9 726.1h0M485.1 712.8h0M487.6 727.8h0M478.5 731.9h0M456.2 746.9h0M446.4 749.4h0M467.7 743.5h0M459.4 726.9h0M430.6 748.7h0M489 731.6h0M479.2 720.2h0M498.7 721h0M468.6 723.2h0M479.3 716.5h0M477.3 720h0M481.3 727.2h0M465.1 739h0M462.6 733.2h0M437.2 736.4h0M481.2 735h0M476.8 723.2h0M447.7 744.6h0M437.5 746.5h0M449.7 731h0M435.2 746.2h0M492 712.2h0M468.8 733.8h0M464.6 719.7h0M425 741.5h0M486.3 724.9h0M481.2 711.5h0M464.1 721.2h0M454.9 730.1h0M472.8 739.9h0M442.1 741.9h0M464.3 731.8h0M448.9 732.4h0M470 718.6h0" stroke="#c581d9" stroke-width="3.1" stroke-linecap="round" fill="none"/>
<path d="M509.6 702.9h0M494 700.8h0M495.6 707.1h0M498.6 689.3h0M534.2 684.7h0M502.7 699.6h0M515.7 702.7h0M527.1 674.9h0M485.8 686.2h0M500.6 699.3h0M503 686.7h0M493.1 681.3h0M514.4 707.1h0M536.3 688h0M485.1 700.1h0M504.3 709.3h0M510.3 696.7h0M507 674.9h0M511.9 669.2h0M499.3 691.1h0M486.5 686h0M594.3 589.8h0M487 680.5h0M508.5 666.9h0M512.9 694.3h0M539.2 674.9h0M494.5 674.8h0M509.3 683.7h0M497.1 673.4h0M539.8 685h0M531.4 687.4h0M493.5 680.6h0M484.3 692.1h0M558.1 623.3h0M502.9 690.5h0M528.6 678.5h0M478.1 680.7h0M514.9 668h0M491.5 702.7h0M540.3 676h0M495.6 671.6h0M509.1 669.5h0M500 687.1h0M482.2 692.3h0M519 696.5h0M512.4 673.3h0M505.7 683.9h0M501 686.3h0M500 703.7h0M496.7 692.8h0M516.1 628.9h0M518.2 671.8h0M489 664h0M500.1 689.6h0M488 676.8h0M486.3 692.6h0M512.8 678.7h0M515.4 677.6h0M522.9 678.6h0M491.9 670.2h0M523.1 672.5h0M492.9 677.8h0M530.8 674.6h0M515.5 676.1h0M523.2 680.6h0M524.8 619h0M534.8 679.3h0M493.7 698.9h0M514.5 668.4h0M528.6 693.4h0M483.9 689.6h0M506.5 692h0" stroke="#df6db8" stroke-width="3.1" stroke-linecap="round" fill="none"/>
<path d="M496.6 665.2h0M493.9 620.1h0M443 731h0M476.1 682.2h0M480.8 606.1h0M470.9 652.1h0M481.3 644.9h0M485.4 602.2h0M479.8 691.2h0M477.9 612.6h0M484.2 691.1h0M519.8 654h0M500 680.4h0M551.8 648.7h0M488 617.2h0M471.1 642.8h0M494.8 665.7h0M508.7 658.8h0M462.4 641.7h0M499.3 603.7h0M477.9 651.9h0M500.8 610.1h0M496.8 666.1h0M474.5 638.9h0M496.8 652.9h0M471.4 642.6h0M464.8 642.3h0M467.1 655.7h0M487.9 605.1h0M477.4 634.2h0M500.2 627.2h0M469.9 612.8h0M483.9 637.8h0M494.9 685.9h0M528.1 652.3h0M486.2 626.6h0M466.6 642.7h0M483.8 680.9h0M474.9 642.6h0M479.4 622.5h0M533.7 608.3h0M468.9 684.8h0M505.7 600.3h0M482.3 663h0M474.9 609.2h0M469.7 642.2h0M462.4 645.3h0M478.7 610.3h0M466.6 676.3h0M537.4 602.3h0M477.7 679.7h0M460.9 646.5h0M493.9 653.9h0M495.9 619.8h0M469.9 632.8h0M485.5 596.5h0M468.8 642.8h0M471.5 642.4h0M502.7 674.1h0M466 636.5h0M501.2 606.8h0M483.1 612.5h0M480.1 620.1h0M489.3 625.5h0M487.3 605.4h0M532.5 604.9h0M460.4 651.7h0M475.1 612.9h0M538.9 609.4h0M509.2 621.6h0M487.6 687.2h0M513.7 604.6h0M448 733h0M485.6 600h0M475.2 625.7h0M472.8 619.3h0M456.2 664.9h0M486.2 620.1h0" stroke="#5cc4cc" stroke-width="3.1" stroke-linecap="round" fill="none"/>
<path d="M611.7 649h0M604 648.6h0M532.2 662.1h0M523.7 651.5h0M501.3 642.8h0M586.7 651h0M505.3 645.4h0M507.2 651.7h0M570.8 645.4h0M597.7 660.5h0M573.3 665h0M529.7 663.7h0M501.2 666.3h0M515.1 652.3h0M590.3 658.3h0M539.4 645.7h0M538.6 657.2h0M542.6 648.3h0M505.7 646.7h0M536.1 659.6h0M547.2 642.4h0M601 647.4h0M578.6 645h0M571.9 664.7h0M548.2 659.2h0M569.5 643.8h0M594.1 641.6h0M532.6 635.1h0M518 641.2h0M543.4 628.3h0M580.8 663.7h0M532.6 662h0M533.1 661.1h0M512.2 641.6h0M587.2 658.4h0M516.6 657.9h0M605.1 647.8h0M610.5 664.5h0M606.6 653.2h0M536.2 648.4h0M534.7 660h0M590.5 654.7h0M596.6 667.1h0M537.8 647.1h0M522.9 648.4h0M598.3 641.5h0M598.8 663.9h0M507 649.4h0M518.9 639.2h0M604.8 658.3h0M579.4 666.7h0M594.1 608.8h0M577.4 643.7h0M593.5 661.3h0M579.6 643.9h0M592.3 617.4h0M578.2 640.1h0M597.8 652.6h0M544.5 644.7h0M533 643.5h0M511.9 644.2h0M607.2 656.9h0M519.3 636.6h0M509.4 656.4h0M544.1 661.6h0M524.3 634h0M510.1 644.3h0M605.7 657.4h0M578.8 642.4h0M523.3 632.1h0M598.8 655.6h0M581.4 669h0M602.3 642h0M522.6 651.4h0M532.2 641.8h0M515.8 644.1h0M573.1 641.7h0M602.1 657.8h0M591.8 670h0M537.5 646.6h0M568.2 651.7h0M568.2 651h0M594.2 664.3h0M590.4 660.4h0M580.7 649.1h0M597.8 670.4h0M501.1 644.6h0M570.1 654.5h0M510.7 648.3h0M516.5 640.7h0M505.2 642.9h0M604.6 651.1h0M532 647.9h0" stroke="#4dba5e" stroke-width="3.1" stroke-linecap="round" fill="none"/>
<path d="M513.5 593.1h0M535.9 597.5h0M565.5 621.3h0M521.2 610h0M607.5 618.5h0M536.4 607.9h0M502.4 592.4h0M514 592.6h0M571.1 631.1h0M509.8 596h0M505.7 602.6h0M563.1 603.4h0M555.7 627.3h0M557.3 623.6h0M540.6 606.7h0M500.8 604.2h0M537.3 601.8h0M560.9 621.3h0M550.1 604.3h0M526.1 594.1h0M522.6 608.1h0M543.8 598h0M540.6 591.5h0M564.5 618.2h0M515.8 600.5h0M516.8 597.1h0M555.6 611.6h0M538.6 638.9h0M515.4 593.9h0M557.8 624.4h0M547.1 647.1h0M590 603.2h0M513.6 598.7h0M565.7 630.6h0M529.4 603.5h0M552.4 614.5h0M528.7 603.1h0M548.5 611.1h0M518.5 588.8h0M553.6 627.4h0M522.5 616h0M544.1 588h0M557 602.4h0M571.7 621.6h0M579.3 648.9h0M535.4 602.1h0M514.6 594.6h0M537.6 622h0M562.7 608.3h0M523.4 595.2h0M556.9 594.9h0M554.8 596.2h0M525.5 619.2h0M542 644.8h0M568.2 627.3h0M517.3 593.9h0M539 638.9h0M510.7 603.7h0M562.6 642.3h0M540.5 588.7h0M513.7 599.1h0M552 593.7h0M502.4 600.9h0M558.5 647.1h0M566.1 630.3h0M604.2 622h0M565.3 645.5h0M545 638.3h0M534.5 613.6h0M547.1 602.2h0M498.8 598.9h0M535.2 616.5h0M532.4 594.4h0M561.5 625.8h0M531.7 628.9h0M561.1 622.1h0M553.5 605.1h0M560.8 595.2h0M568.6 608h0M545.8 631.2h0M498.3 592.7h0M557.5 596.4h0M523.9 613.1h0M567.8 616.4h0M568.3 607.5h0M554.4 637.4h0M533.3 594.2h0M540.3 627.9h0M504.5 602.8h0M550 614.1h0M565 630.9h0M540.1 618.6h0M525.6 597.3h0M532.5 596.6h0M536.1 623.5h0M549.7 643.4h0M538.4 616.5h0M553.6 645.3h0M566.8 615.4h0M503.8 607.3h0M511.4 609.5h0M527.7 590.6h0M553.6 607h0M526.1 602.1h0M526.9 596.4h0M568.1 632.2h0M540.2 623.7h0M553.4 610.9h0M552 637.6h0" stroke="#8db425" stroke-width="3.1" stroke-linecap="round" fill="none"/>
<path d="M600.7 616.9h0M597.8 616h0M608.9 601.6h0M598.3 615.9h0M592.2 631.4h0M569.1 602.9h0M605.5 606.7h0M592.6 636.3h0M570.3 611.7h0M616.3 628.5h0M574 602.3h0M605.6 624h0M585.6 617.5h0M582.7 628.7h0M569.6 610.9h0M606 635.5h0M585.6 606h0M606.2 599.6h0M580.1 621.6h0M612.4 630.9h0M597.9 632.1h0M586.9 635h0M602.2 612.4h0M587.5 611.2h0M615.9 632.9h0M584.7 622.3h0M570.8 612.3h0M603.7 635.2h0M574.9 611h0M582.5 632.1h0M611 616.6h0M608.3 626.3h0M605.6 641.1h0M606.6 623.9h0M609.6 600.8h0M595.3 629.9h0M605.2 607.3h0M621 620.3h0M602.9 610.4h0M591.4 611.4h0M565.6 616.9h0M619.2 616.9h0M574.3 629.3h0M584.2 633.2h0M604.3 626.5h0M587.2 608h0M561.4 604.1h0M593.8 606.1h0M560.5 633h0M611.6 617.3h0M606.4 631.4h0M560.8 615.3h0M603.1 634.7h0M597 623h0M610.6 603h0M602.6 613.2h0M611.4 631.6h0M586.3 626h0M617.6 617.2h0M586.3 627.7h0M619.1 622h0M570.9 620.1h0M575.6 603.8h0M614.8 607.1h0M610.4 619.1h0M618.7 617.7h0M591.6 615.4h0M577.6 607h0M594.7 599.9h0M580 600.3h0M602.2 627.7h0M592.4 616.5h0" stroke="#6aa5d9" stroke-width="3.1" stroke-linecap="round" fill="none"/>
<path d="M510.2 571.3h0M495.1 579.2h0M526.8 578.5h0M518 582h0M599.8 567.2h0M594.6 575.3h0M507.6 563.2h0M551.1 557.7h0M503.5 567.4h0M568.8 569.2h0M537.6 582.2h0M520.8 582.9h0M594.2 566.5h0M534.3 564.4h0M598.3 576.4h0M504.5 590.3h0M547 575.7h0M533.1 573.5h0M513.8 575.6h0M562.8 583.6h0M523.6 582.2h0M556.2 552.3h0M583.4 596.8h0M566.3 585.7h0M525.1 555.4h0M583.5 577.8h0M502.6 581.4h0M532.5 559.2h0M570.2 565.7h0M565.4 565h0M528.4 570.9h0M598.7 598.4h0M531.3 556.7h0M547.4 579.5h0M532.2 586.5h0M581.4 583.2h0M609.3 585h0M547.8 571.8h0M571.9 552.8h0M516 562.6h0M544.8 561.7h0M542.9 579h0M582.8 577.5h0M533.9 550.1h0M562.2 549.3h0M570.1 575.8h0M581 554h0M539.4 557h0M603.3 573.8h0M571.4 576.7h0M575.6 564.7h0M505 564.5h0M543.5 553.5h0M607 572.9h0M510.9 560.4h0M503.8 575.2h0M587 562.4h0M605.5 582.3h0M514.2 573.2h0M563.6 571.5h0M510.9 576h0M589.1 572.6h0M609.9 583.2h0M518.2 589.5h0M600.2 594.8h0M523.3 565.9h0M584.4 561.8h0M601.1 589.3h0M572.1 576.4h0M508.6 570.3h0M572 573.6h0M531.2 573.3h0M562.5 560.4h0M573.8 588.9h0M563.8 571.7h0M535.1 585.2h0M498.5 571.4h0M519.2 571.6h0M585.7 589.9h0M524.2 564.4h0M549.3 560.4h0M578.1 561.4h0M508.7 560.5h0M601.9 577.8h0M556.6 549.2h0M563.3 558.4h0M583.1 590h0M551.1 581.8h0M565.1 580.3h0M530 573h0M547 683h0M579.3 561.1h0M573.5 585.9h0M573.5 575.5h0M584.1 556.7h0M582.6 581.2h0M581.1 558h0M597.4 572.4h0M535.8 581.3h0M547.9 566.4h0M511.6 564.3h0M599.2 581h0M514.9 569.4h0M541.5 552.9h0M532 578.3h0M504.1 562.1h0M527.9 570.4h0M508 564.7h0M550.1 578.7h0M560.5 572.5h0M574 582.1h0M544.2 560.4h0M500.3 567.4h0M533.4 560.3h0M517.6 561.8h0M522 566.8h0M582.3 554.6h0M588 598.3h0M583.5 586.3h0M513.6 559.7h0M546.8 558.8h0M585.8 595.9h0M564.3 580.8h0M592.5 572.4h0M506.2 577.4h0M567.4 583.9h0M502.9 565.1h0M568.1 569.8h0M537.4 578.3h0M555.2 546.9h0M581.6 571.2h0M576.6 581.5h0M566.5 597.8h0M592 574.2h0M580.8 566.4h0M585.3 564.4h0M531.1 551.6h0M600 603.4h0M512.3 579.6h0M600.2 579.4h0M595.7 561.5h0M565.5 566.7h0M542.7 569.9h0M567.2 578.4h0M584.5 575.8h0M515.8 568.2h0M568.4 588.1h0M545.7 552.4h0M577.5 587.8h0M500.4 574h0M551.9 587.2h0M605.2 581.1h0M535.3 554.2h0M563.7 550.4h0" stroke="#d09b22" stroke-width="3.1" stroke-linecap="round" fill="none"/>
<path d="M623.4 576.7h0M623.1 592.4h0M603.9 595.2h0M628.9 605.8h0M634.2 584.5h0M615.4 588.6h0M612.6 574.1h0M590.3 592.5h0M632.1 576.7h0M619.9 600.8h0M606.4 597.4h0M626.6 592.3h0M627.9 577.7h0M610.9 596.3h0M620.1 587h0M628.9 594.9h0M623.6 585.4h0M613.6 584.4h0M614 580.7h0M623.9 578.6h0M628.2 577.8h0M607.3 595.9h0M625.2 591h0M617.2 598.1h0M623.3 596h0M616.1 577.3h0M623.5 585.7h0M630.4 586.9h0M626.9 578.9h0M615.6 582h0M630.4 595.2h0M632.9 582.1h0" stroke="#f4837b" stroke-width="3.1" stroke-linecap="round" fill="none"/>
<path d="M453.7 713h0M483.2 732.5h0M472.1 716.2h0M434.8 747.4h0M459 729.4h0M433 748.9h0M443.2 741h0M455.3 739h0M483.3 719.6h0M451.9 734h0M446.3 745.8h0M443.8 733.2h0M452.6 747.3h0M429.8 742.9h0M444.2 737.1h0M443.8 732.7h0M447.3 750.9h0M477.6 730.9h0M455.5 740.2h0M459.7 739.2h0M484.5 732.8h0M475.4 721.4h0M468.6 729.7h0M481 704.6h0M444.5 736.3h0M441.3 732.4h0M458.8 722h0M463.1 743.9h0M457.4 719.3h0M480.5 737.2h0M473.1 721.8h0M427.9 737.6h0M445.8 735.4h0M440.7 729.4h0M493.3 718.1h0M458.2 729.2h0M483.4 708.6h0M467.5 735.2h0M452.1 732.1h0M483.3 719.7h0M451.9 733.7h0M489.9 730.3h0M479.3 711.4h0M467.6 729.6h0M452.2 738.4h0M426.9 741.9h0M461.1 738.8h0M479.1 729.5h0M441 742.7h0M459.2 742.6h0M459 723.5h0M470 717.8h0M493.5 717.2h0M452.1 742.2h0M439.9 741h0M448.7 749.3h0M469.7 724.2h0M438.5 746h0M426 737.6h0M437.3 745.1h0M428.9 746h0M477.3 718.9h0M456 709.7h0M468.2 722.2h0M484.8 736.8h0M481.8 721.3h0M447.2 734.8h0M472.7 727.1h0M486.2 723.4h0M437.3 739h0M479.3 736h0M432.2 740.2h0M438.2 735.5h0M433.2 741.7h0M468.5 743.6h0M474.3 710.1h0M445.6 736h0M448.4 743.8h0M462.9 732h0M451.4 744.5h0" stroke="#c581d9" stroke-width="3.1" stroke-linecap="round" fill="none"/>
<path d="M495.3 681.1h0M487.6 704.1h0M514 678.3h0M524.6 694.7h0M486.4 677.5h0M484.3 669.8h0M531.2 673.3h0M527.3 688.1h0M525.6 690.1h0M535.8 685.1h0M531.4 680h0M498.8 696h0M557.8 626.9h0M524.4 679.7h0M593.2 599.2h0M476 690.4h0M576.1 632.9h0M504.4 677.2h0M498.7 675.4h0M523.9 696.2h0M521.6 698.9h0M517.9 695.1h0M480.8 684.9h0M521.4 678.7h0M488.8 687.7h0M528.5 677.9h0M509.6 667h0M502.4 687.1h0M538.9 679.8h0M482.6 688h0M496.9 697h0M485.9 698.1h0M525.1 699.4h0M502 708.2h0M528.9 677.4h0M492.7 690.7h0M535 688h0M525.1 683.8h0M533.4 675.1h0M528.1 690.1h0M512.2 676.9h0M537 687h0M494.9 699.8h0M528.2 679.1h0M524.7 671.2h0M539 688.2h0M500.3 679.7h0M540.5 623.7h0M503.2 674.3h0M534.8 680.6h0M524.9 684.8h0M487.2 695.4h0M507.6 692.1h0M497 676.7h0M506.3 708.1h0M523.4 699.2h0M515.7 686.2h0M509.3 697.6h0M536.6 684.6h0M492 667.1h0M525.3 698.7h0M530.2 685.6h0M499.7 689.9h0M496.1 706.5h0M494.2 700.6h0M505.7 673h0M500.3 669.6h0M518 688.4h0M541.5 687.8h0" stroke="#df6db8" stroke-width="3.1" stroke-linecap="round" fill="none"/>
<path d="M476.3 610.1h0M480.7 639h0M465.1 650.6h0M487.4 690.2h0M480 642.9h0M483.7 685.8h0M464 644.7h0M495.1 665.5h0M463.6 643.5h0M468.5 617h0M488.1 599.6h0M458.7 655.7h0M488.2 676.9h0M466.6 641.5h0M463.1 639.7h0M467.9 645.5h0M479.6 600.3h0M520.1 607.9h0M479.2 672.1h0M501.3 680.2h0M517.2 621.7h0M486.3 599.7h0M473 663.2h0M500.3 641.4h0M467.8 618.8h0M487.9 622.1h0M543.3 628.8h0M484.4 608.2h0M469.8 638.9h0M473.6 642.4h0M486.8 606.5h0M472.5 654.9h0M470.1 666.6h0M468.9 629.7h0M477.6 629.4h0M514.6 635.4h0M482.3 683h0M485.2 600h0M465.3 648.9h0M517.8 653.8h0M467.8 647.2h0M478 643.6h0M463.5 641.3h0M456.2 664h0M473.1 612.9h0M446 729h0M485 679.9h0M471.3 678.2h0M470.8 612.2h0M550.5 649.5h0M461.7 637.1h0M480.4 632h0M494.4 650.7h0M461.7 657.4h0M487.4 681.2h0M473.8 640.3h0M467.5 626.8h0M471.5 670.4h0M460.2 650.2h0M467.1 666.1h0M498.3 685h0M477.1 641h0M493 606.5h0M490.5 688.3h0M491.1 616.4h0M473.8 695.1h0M482.5 674.8h0M497.1 602.8h0M470.6 644.2h0M560.2 636.7h0M470.4 611.5h0M506.4 629.6h0M486.8 613.2h0M468.8 637.7h0M471.7 613.4h0M488 676.1h0M457 670h0" stroke="#5cc4cc" stroke-width="3.1" stroke-linecap="round" fill="none"/>
<path d="M530.8 642.5h0M591.2 661.7h0M565.9 654.9h0M533.7 637.8h0M519.9 641h0M594.6 660.5h0M547.9 661.2h0M595 658.1h0M510.3 668.3h0M514.4 636.3h0M586 673.6h0M597.5 662.7h0M587.3 645h0M516 643h0M582.4 640.8h0M515 654.2h0M572 663.2h0M575.4 643.1h0M517.8 646.1h0M529.3 664.3h0M545.4 650.1h0M508.2 661.7h0M599.2 663.3h0M593.3 657.4h0M510.3 642.2h0M603.6 645.2h0M531.4 643.2h0M539.4 637.6h0M529.3 663.7h0M580.9 641.8h0M528.8 655.8h0M499.9 631.4h0M528.7 640.5h0M566.2 647h0M528.7 643.9h0M520.7 642.2h0M586.8 659.3h0M529.9 644.4h0M511.8 651.9h0M583.8 646.5h0M507.2 646.2h0M574.6 656h0M583.1 659.9h0M587.5 641.1h0M539.1 630.4h0M594.1 615.7h0M516.1 649.1h0M593.4 641.6h0M537.8 651.1h0M528.4 647.8h0M545.1 652.1h0M606 643.5h0M580 667.4h0M598.5 669.1h0M546.8 654h0M571 622.6h0M570.9 647.2h0M594.7 638.2h0M576.2 609.4h0M507.7 648.7h0M584.9 667.4h0M599.9 652.8h0M574.8 658.4h0M504 653.6h0M572.3 645.4h0M517.4 633.4h0M545.5 656.3h0M597.2 646.7h0M583.6 641.5h0M526.5 630.3h0M571.8 654.7h0M537.1 663.6h0M604.1 657.5h0M528.9 663.4h0M578.3 638.6h0M547.3 637.8h0M548.3 654.3h0M603 664.5h0M510.7 664.7h0M537.3 654.5h0M584.1 658.7h0M533.7 655.9h0M596 666.7h0M509.5 661.2h0" stroke="#4dba5e" stroke-width="3.1" stroke-linecap="round" fill="none"/>
<path d="M546.4 629.2h0M547.2 627.3h0M539.7 608.3h0M566.2 620.6h0M531 589.7h0M555.8 608h0M539.9 605.9h0M555.7 621.1h0M510.7 596.4h0M553.6 612.1h0M504.3 607.6h0M542.2 637.9h0M537.4 598h0M512.3 613.8h0M562.5 636.1h0M539 591.8h0M538.2 610.4h0M518.5 595.8h0M536 608.9h0M549.2 647.5h0M538.9 591.6h0M521.5 597h0M517.1 597.1h0M562.8 639.6h0M557.9 627.5h0M536.2 624.5h0M554.4 600.6h0M555.1 599.7h0M569.6 601.8h0M533 606h0M552 645.3h0M537.1 612.1h0M493 597.5h0M556.6 616.4h0M518.6 614.6h0M527.3 620.4h0M544.6 640h0M526.9 598h0M555.5 632.3h0M566.3 631.5h0M528 584.3h0M550.7 632.7h0M559.4 632.5h0M554.4 641.4h0M510.4 607.6h0M498.6 601.5h0M543.3 610.7h0M563.8 618.6h0M544.8 625.5h0M509.3 594.5h0M523.5 604.8h0M567.8 612.4h0M554.1 627.2h0M501 602.9h0M528.5 597.7h0M549.6 631.7h0M543.1 641.5h0M572.4 622.7h0M545.5 638.4h0M521.1 612.7h0M521.8 613.7h0M542.6 609.3h0M525.3 593.9h0M562.6 633.9h0M549.2 634.4h0M561.2 595.7h0M534.8 607.5h0M541.1 636h0M562.7 603.8h0M570.2 602.7h0M569.9 614.1h0M544.1 617.6h0M561.9 614.9h0M533.3 601.7h0M497.2 597.4h0M510.1 612.6h0M510.7 593.6h0M551.5 620.1h0M551.8 588.4h0M513.8 604.8h0M537.7 624.8h0M555.4 624.7h0M528.7 627.2h0M560.8 634.1h0M565 619.8h0M517.6 590.7h0M590.6 618.3h0M528.6 603.8h0M540.5 643.3h0M560.4 622.5h0M543.5 633.9h0M515.6 597.8h0M502 598.1h0M541.9 593.8h0M536.3 596.8h0M568.9 605.3h0M533.8 627.5h0M534.4 594.7h0M550.5 608.2h0M521.6 590.6h0M545.8 630.9h0M558.8 592.4h0M539.5 615.9h0M509.7 614.6h0M541.7 639.4h0M514.9 593.4h0M546.9 623h0M532.2 624.1h0" stroke="#8db425" stroke-width="3.1" stroke-linecap="round" fill="none"/>
<path d="M590.4 639.2h0M623.9 616.9h0M584.9 614.6h0M609.4 609.6h0M587.2 625.7h0M581.2 606.7h0M605.9 607.1h0M608.8 634.8h0M599.7 629.4h0M617.8 610.6h0M601.5 618h0M618 623.5h0M611.9 613h0M617.3 621.6h0M603.2 602.6h0M568.1 622.4h0M581.8 603.4h0M582.7 611h0M575.9 624.6h0M597.8 616.7h0M601.6 601.4h0M580.6 610.9h0M607.9 610.1h0M598.7 629.3h0M598.8 632.1h0M595.5 634h0M589.2 609.6h0M591.3 614.6h0M604.2 627.3h0M564.2 624.6h0M567.3 602.9h0M589.2 603.9h0M604.3 626.8h0M610.2 625.5h0M581.5 604.5h0M594.3 633.7h0M584.4 612.4h0M607.6 635.4h0M568.9 605.9h0M606.1 603.7h0M609.6 625.2h0M583.9 627.7h0M612 620h0M577.8 613.4h0M598.9 629.6h0M595.4 621.8h0M609.1 633.3h0M590.8 614.2h0M606.2 610.1h0M600.5 631.2h0M610.5 633.3h0M575.8 615.4h0M609.5 601.2h0M584.7 619.2h0M600.2 636.7h0M577.1 629.4h0M575.9 610.8h0M619.6 602.8h0M567.7 609.4h0M602.5 610.3h0M608.7 606.8h0M604.8 613.2h0M593.1 598.4h0M571.9 623.2h0M619.3 618.4h0M572.6 603.4h0M598.9 615.1h0M576.5 605.5h0M616.7 626.6h0M597.2 610.1h0M600.5 636.5h0M593.7 618.3h0M617.4 616.8h0M595.6 597.9h0M585.8 633.2h0M605.3 602.4h0M612.3 621.9h0M606.3 613.3h0M593 636.5h0M588.3 612.5h0M598.8 600.6h0" stroke="#6aa5d9" stroke-width="3.1" stroke-linecap="round" fill="none"/>
<path d="M552.6 555.5h0M539.3 548.7h0M571.2 586.2h0M543 562.2h0M559.9 586h0M551.6 579.2h0M596.1 583.2h0M588.1 571.1h0M546.2 561.5h0M581.7 565.1h0M526.6 572.4h0M512.8 563.1h0M571.9 578.6h0M548.1 563.3h0M566.2 579h0M580.4 568.6h0M590.3 576.9h0M501.4 565.4h0M532.8 559.9h0M499.4 585.9h0M591.4 559.6h0M583.4 574.9h0M514.1 573.1h0M560.4 565.3h0M570.9 577.1h0M504.9 564.2h0M592.3 571.3h0M552.3 579.3h0M572.5 585.6h0M611.1 573.7h0M593.6 594.8h0M600.3 579.7h0M544.6 557.4h0M524.7 570.4h0M548.3 584.2h0M499.6 585.7h0M587.4 580.1h0M510 578h0M611.3 580.6h0M590.7 593.8h0M582.6 587.1h0M549.9 566.4h0M511.2 564.1h0M578.7 554.8h0M504.7 570h0M594.7 592h0M576.8 558.3h0M584.3 567.1h0M580 592h0M497.1 571.9h0M527.6 580.5h0M529.8 561.4h0M557.5 554.7h0M539.6 550.2h0M581.4 588h0M538.2 555.1h0M498.1 568.3h0M596.9 585.4h0M565.9 565.9h0M507.8 569.1h0M521.2 568.4h0M538 565.7h0M516.3 572.6h0M537.8 565.9h0M527.4 573.8h0M541.5 560.9h0M601 570.9h0M605.6 604.7h0M537.5 562.2h0M572.6 582.9h0M594.5 575.1h0M516.3 560h0M555.7 572.8h0M563.6 570h0M609.2 593.7h0M521.8 556.6h0M602.6 571.1h0M527.9 560h0M565.9 581.3h0M602.3 579.6h0M510.5 590h0M547.2 580.5h0M540.9 566.8h0M558.1 561.4h0M587 589.3h0M584.3 572.8h0M604 600.1h0M591.9 574.1h0M590.7 591.8h0M551 576h0M597.1 582.3h0M540.3 572.8h0M578.7 552.7h0M580.9 589h0M569.4 552.2h0M586.3 559.5h0M511.9 579.7h0M500.5 580.6h0M497.1 582.6h0M535.2 557.3h0M604.3 583.4h0M544.4 578.6h0M549.6 554.1h0M585.6 561.5h0M508.5 557.6h0M567.6 551.6h0M589.9 599.3h0M537.1 570.2h0M524 580.7h0M586.7 598.9h0M554.1 581.7h0M605.8 597.1h0M578.9 568.3h0M559.5 577.2h0M608.2 589.7h0M570.3 578.6h0M543 575.8h0M606.3 596.1h0M575.6 564.1h0M524 562h0M504.4 568h0M539.6 551.2h0M569.1 600h0M564.8 553.1h0M507.3 560.5h0M561.1 579.4h0M503.3 586.9h0M581.7 584.1h0M550.5 552.3h0M586.7 563.2h0M523.1 564.7h0M542.3 581.7h0M595.4 578.2h0M529.4 554.9h0M589.9 596.5h0M512.5 570.4h0M560.4 573.7h0M588.2 584.3h0M516 556.8h0M568.1 561.7h0M580.6 561h0M590 597.3h0M542.8 548.1h0M557.6 561.3h0M592.8 583.7h0" stroke="#d09b22" stroke-width="3.1" stroke-linecap="round" fill="none"/>
<path d="M618.5 571.8h0M615.7 595.3h0M610.9 597.2h0M631.8 598.4h0M629.6 603h0M626.7 578.1h0M623.7 600h0M628.1 586.3h0M613.6 578.3h0M625.9 593.9h0M593.8 590.6h0M620.2 596.4h0M621.8 602.3h0M631.3 584h0M632.3 600.8h0M630.3 584.7h0M633.5 577.9h0M624.5 601.7h0M617 594.5h0M636.2 592.1h0M623.7 593.6h0M625.2 606.8h0M622.8 593.2h0M619.6 575.5h0M610.5 595.9h0M615.3 590.1h0M628.6 587.1h0M630 582.8h0" stroke="#f4837b" stroke-width="3.1" stroke-linecap="round" fill="none"/>
<path d="M442.7 747.8h0M430 741.1h0M465.2 722h0M431.5 735.7h0M441.2 736.3h0M477.9 721.5h0M470.1 704.8h0M461.2 742.5h0M470.4 723h0M453.4 729.3h0M474.4 704.5h0M452.1 746.3h0M438.5 749.8h0M444.6 750.1h0M466.3 730.9h0M434.3 740.9h0M441.1 734.6h0M460.8 717.1h0M484.8 704.8h0M461.5 713.7h0M451.6 741.2h0M438.8 746.2h0M497.2 720.5h0M447.3 740h0M460.4 739.1h0M463.5 733h0M443.1 741h0M456.7 736.7h0M474.2 715.9h0M468.5 723.5h0M473.5 722.5h0M452.5 745.4h0M447.1 740.3h0M474.9 717.3h0M461.5 736.6h0M434.4 749.2h0M481.4 715h0M445.3 746.1h0M490.6 714.8h0M465.9 730.9h0M460.8 718.2h0M469.1 722.8h0M489.4 726.7h0M479 721.7h0M455.1 730.6h0M440.5 742.5h0M478.3 712h0M451.3 736.7h0M484.4 732.3h0M456.6 741.5h0M455.6 738.4h0M444.8 737.6h0M485.9 709.3h0M457.6 742.1h0M425.7 745.6h0" stroke="#c581d9" stroke-width="3.1" stroke-linecap="round" fill="none"/>
<path d="M519.8 687.5h0M537.7 689.6h0M506.7 691.9h0M518.5 704.1h0M483.8 690.4h0M572.6 628.1h0M527.7 681.9h0M488.7 672.4h0M518.9 697.1h0M514.2 689.7h0M503.8 691.9h0M500.3 679.3h0M488.9 707.5h0M516.9 618.2h0M488.9 698.9h0M514.5 676h0M495.4 704.1h0M490.3 705.2h0M511.2 671h0M528.9 679.2h0M493 685.5h0M515.7 692.6h0M493.8 674h0M528.5 671.2h0M537.6 688.7h0M489.5 686.1h0M504.1 671.9h0M516.8 701.5h0M523.9 697.6h0M488.3 686.1h0M505.7 676.8h0M490.2 686.3h0M487.4 684.6h0M498.7 686.1h0M532.1 685.1h0M502.6 672.4h0M502.2 668h0M529.1 690.1h0M489.8 680.4h0M484.7 670h0M537.1 686.8h0M489.6 688.1h0M514.8 668.4h0M519.6 701.6h0M489.9 694.8h0M522 670.1h0M485.7 692.7h0M538.1 683.7h0M497.7 687.9h0M483.8 686.4h0M489 678.9h0M537.7 689.9h0M504.1 675.6h0M501.4 690.4h0M500.5 692.6h0M515 695.7h0M519.7 681.5h0M526.6 695.2h0M487.8 702.1h0M533.1 676.2h0M557.8 617.3h0M488.6 671.8h0M499.5 696.6h0M495.6 682.2h0M524.7 693.1h0M501.7 674.2h0M535.8 679.8h0M514.1 706.8h0M513.8 677.8h0M511.9 675.4h0M512.6 696h0M492.7 705.8h0M522.5 682h0M500.8 690.5h0" stroke="#df6db8" stroke-width="3.1" stroke-linecap="round" fill="none"/>
<path d="M465.9 636.2h0M457.3 641.1h0M467.3 638.6h0M468.5 640.9h0M476 644.9h0M476.1 621.9h0M503.7 637.4h0M487 619.2h0M487 670.6h0M469.1 649.9h0M528.3 628.9h0M487.6 611.6h0M514 631h0M484.1 684.6h0M479.7 599.8h0M494 600.1h0M466.8 647.5h0M457.7 649h0M484.3 623.5h0M470.4 634.2h0M466.4 651.1h0M486.5 616.5h0M471.9 640h0M487.2 653.3h0M462.7 667.1h0M478.8 688.5h0M465.6 624.6h0M471.8 636.5h0M489.3 598.1h0M490.3 599.2h0M464.7 656.8h0M489.4 610.4h0M476.1 696.8h0M477 618.6h0M499.3 672.5h0M459.6 657.7h0M495.5 613.5h0M466.8 673h0M485.2 610.5h0M476.6 644h0M483.1 684.2h0M504.5 605.2h0M473.5 645.5h0M468 660h0M492.2 610.3h0M497.8 634h0M499.4 607.7h0M475.9 638.5h0M485.4 600.7h0M469.1 649.9h0M541.1 612.9h0M469.5 659.9h0M560.9 636.2h0M478.3 617.6h0M507.1 618.9h0M534 607.8h0M470 622.8h0M466.8 663.6h0M482.8 629.9h0M478.2 642.1h0M491.1 685h0M540.5 610.1h0M529.4 636.1h0M478.4 642.5h0M487.8 616.6h0M504.2 664h0M510.6 614.4h0M462.6 662.4h0M457.5 660.7h0M499.1 607.9h0M484 599h0M480.7 609.6h0M495.7 620.4h0M472.7 639.2h0M484.1 603h0M457.9 654.7h0M486.1 596h0M480.8 628.1h0M440 734h0M475.8 638.4h0M482.9 613.9h0M470.8 663.6h0M470.5 641.3h0M522 620h0M473.6 657.3h0" stroke="#5cc4cc" stroke-width="3.1" stroke-linecap="round" fill="none"/>
<path d="M602.8 661h0M545 660.2h0M598.6 657.6h0M583.2 660.7h0M524.3 655.8h0M548.2 637.9h0M519.1 663h0M595.1 667.8h0M607.5 658.6h0M589.7 652h0M511.6 625.2h0M549.1 659.8h0M609.3 650.7h0M524.8 657.1h0M575.4 656.5h0M586 652h0M594 671.5h0M534.8 660h0M612.9 645.8h0M574.8 659.4h0M530.9 647h0M568 655.6h0M566.2 649h0M523 643.2h0M542.3 649h0M505.7 640.5h0M596 616.6h0M586.5 659.4h0M544.4 652.2h0M600.6 621.2h0M547.5 655.3h0M505.6 646.8h0M605.4 648.1h0M603.1 646.8h0M613.3 646.9h0M544.6 660.5h0M531.7 654.6h0M581 660.9h0M531.5 662.9h0M524.9 650.8h0M520.5 653.6h0M593.8 651.4h0M580.2 657.4h0M594.8 664.6h0M542.6 649.3h0M570 641.6h0M504.6 656.2h0M584.2 655.7h0M519.6 655.7h0M593.8 664.1h0M596.7 659.6h0M535.5 655.2h0M581.2 649.7h0M512.8 626.8h0M543.1 650.5h0M585.9 666.3h0M572.2 656.5h0M592.8 661.9h0M570.4 657.6h0M519.1 662.2h0M515.2 659.1h0M607.9 661.2h0M601.9 645.2h0M530.4 649.7h0M520.4 652.1h0M536.5 664.6h0M581.8 669.6h0M585.1 622.3h0M584.3 633h0M574.4 647.2h0M571.4 648.3h0M580.1 659.8h0M528.2 629.8h0M601.5 643.5h0M586.7 641.2h0M597.3 640.1h0M595.9 666.8h0M536.3 663.1h0M549.9 648.8h0M584.1 627.3h0M606.9 656.1h0M595.5 639.8h0M583.4 654.4h0M512.1 645.3h0M510 642.6h0M525.1 650.6h0" stroke="#4dba5e" stroke-width="3.1" stroke-linecap="round" fill="none"/>
<path d="M526.9 625.7h0M560 641.7h0M540.3 590.5h0M547.4 601.4h0M538.1 622.7h0M518.1 603.3h0M514.3 609.6h0M551.1 617h0M552.6 605.5h0M553.8 609.7h0M564.8 628.8h0M557.6 598.8h0M552.7 649.7h0M548.7 612.4h0M527.6 609.5h0M550.5 640.3h0M552.8 589.4h0M522.8 624.2h0M535.1 637.9h0M548.7 627.8h0M529.6 612.9h0M558 616.3h0M563.5 622.2h0M560.2 622.3h0M535.1 632.9h0M603.7 655.4h0M533 633.1h0M493.2 601.2h0M545.8 611.8h0M528.2 630.2h0M559.4 601h0M512.8 588.5h0M563.5 613.4h0M536.9 637h0M548.1 648.8h0M583.5 621.1h0M561.3 613.7h0M555.9 625.1h0M524.6 618.5h0M567.5 630.1h0M546.6 591.9h0M500.2 593.7h0M505 598h0M532.6 598.9h0M553.1 650.8h0M539.7 620.1h0M557 610.3h0M534.6 633.7h0M565.1 622.9h0M539.8 591.1h0M527.2 612.1h0M529.3 587.5h0M564.9 601.1h0M525.2 606.9h0M519.3 588.3h0M513.8 601.7h0M538.1 637.6h0M553.3 633.1h0M535.5 613.3h0M548.7 643.4h0M495.6 591.5h0M537.5 593.7h0M552.2 624.5h0M556 615.7h0M569.3 616.8h0M547.8 625.2h0M499.1 595.7h0M556.8 603.2h0M522.4 605.2h0M557.3 618.4h0M535.1 623.8h0M502.8 604.7h0M537.3 617.7h0M566.9 606.1h0M553.7 602h0M527.9 623h0M520.1 617.8h0M560.1 645.1h0M517.3 609.3h0M516.8 602.9h0M598.1 641.4h0M565.4 623.7h0M557.2 628.9h0M560.8 599.3h0M602.6 600.6h0M547.9 604.6h0M536.3 596.4h0M547.3 606.4h0M524.8 598.5h0M559.4 635.5h0M543 635.1h0M540.4 625.2h0M534.4 586.8h0M541.2 620.4h0M531.9 624.7h0M537.3 605.3h0M515.8 587.3h0M561.2 630.8h0M533.6 596h0M544.9 601.5h0M530.3 599.3h0M514.8 602h0M561.1 603.9h0M522.6 611.5h0M541.1 605.5h0M567.4 632.1h0M551.7 590.3h0M559.7 620.5h0M500.2 604.2h0M558.7 622.6h0M527.5 611h0" stroke="#8db425" stroke-width="3.1" stroke-linecap="round" fill="none"/>
<path d="M609.1 619.5h0M606.3 614.1h0M617.4 631.8h0M596.1 623.5h0M587.8 623.8h0M584.9 626.9h0M609.2 617.6h0M580.8 603.9h0M601.5 606h0M593.3 613.2h0M599 639.5h0M602.7 602.4h0M565.4 606.1h0M571 628.3h0M595 612.7h0M583.3 604.6h0M571.2 616.6h0M598.1 615.4h0M570.1 612.3h0M561 629.6h0M563.9 609h0M591.8 600h0M604.5 625.3h0M607.9 607.7h0M601.1 605h0M589 605h0M581.8 612.2h0M619.7 605.2h0M578.8 629.9h0M621.5 600.1h0M605.9 628.1h0M586.7 633.2h0M577.3 612.7h0M584.3 611.3h0M571.9 619.5h0M558.7 628.5h0M622.5 615.5h0M564.9 615.6h0M605.2 627.4h0M565.4 620.6h0M561.9 604.8h0M594.9 621.8h0M586.9 602h0M591.9 627.4h0M582.4 600.3h0M593.9 603.6h0M563.5 609.3h0M582.7 602.4h0M611.5 601h0M587.2 599.8h0M596.5 633.5h0M564.9 636.8h0M577.5 619.8h0M556.3 639.5h0M604.9 609.4h0M574.8 631.7h0M618.6 615.9h0M572.7 600.9h0M591.7 608.6h0M591 617.6h0M542.6 607h0M570.8 612h0M581 607.9h0M617.5 626.2h0M556.4 606h0M615.5 606.2h0M616.6 614.5h0M619.7 611.2h0M594.8 616.7h0M611.1 634.9h0M577.7 634.1h0M591.1 609.2h0M600.6 602.5h0M612.5 620.3h0M576.6 636.8h0M612.3 602.7h0M601.1 600.3h0M579.6 604.6h0M603.5 636h0" stroke="#6aa5d9" stroke-width="3.1" stroke-linecap="round" fill="none"/>
<path d="M585.1 592.5h0M499 574.2h0M539.9 547.8h0M501.4 567.4h0M555.3 577h0M569.1 575.5h0M557 568h0M603.2 580.6h0M574.6 573.1h0M591.3 565.7h0M555.1 574.3h0M522.8 576.6h0M531.8 578.1h0M574.9 551.2h0M526.5 571.6h0M507.5 575.7h0M501.5 584.4h0M587.2 581.2h0M546.2 583.1h0M588.3 579.7h0M537.2 553h0M603.9 595.5h0M578.7 566.3h0M551.8 547.1h0M565.3 549.8h0M526.4 579.2h0M570.2 578.8h0M518.7 584.1h0M513.3 569.7h0M609.4 584.8h0M546.2 562.9h0M527 571.5h0M521.2 563h0M603.8 589.7h0M595.8 580.9h0M579.4 581h0M573.1 583.4h0M588.7 569.4h0M575.2 586.2h0M572.1 580.7h0M501.8 585.8h0M516.8 574.9h0M594 581.3h0M607.8 603.7h0M501.6 578.7h0M504.4 578.1h0M508 587.1h0M569.9 588h0M543 570.3h0M552.7 574.9h0M560.7 580.1h0M512.5 568.7h0M547.4 575.5h0M576.6 568.9h0M570.6 568.3h0M577.8 585.6h0M546.3 584.3h0M508.5 586h0M504.7 566.4h0M497.2 576.8h0M500.3 583.1h0M535.1 568.4h0M527.4 561.6h0M595.1 595.3h0M571.8 565.9h0M513.5 579h0M567.4 582.5h0M545 682h0M597.4 573.6h0M565.9 585.7h0M595.3 572.4h0M527.5 569.2h0M573.3 572.3h0M536.8 554.7h0M546.2 568h0M551.3 562.9h0M502 564.4h0M550 570.4h0M506.8 577.4h0M551.5 564.3h0M495.1 574.1h0M538.9 576.4h0M575.1 596.8h0M602.5 585.6h0M588.2 586.2h0M520.1 559.4h0M505.7 566.1h0M515.7 557.9h0M542.6 556h0M575.5 577h0M574.1 587.6h0M503.9 586.6h0M568.7 587.9h0M583.8 552.4h0M579.1 561.1h0M545.3 554.7h0M574.9 581.6h0M564.6 551.3h0M538 580.2h0M538.2 585.3h0M576.9 565.6h0M539.3 573.5h0M600.5 579.2h0M588 569.1h0M586.5 562h0M520.2 561.9h0M554.4 574.6h0M506.9 588.1h0M564.1 578.4h0M532.8 558.5h0M541.9 554.1h0M581.7 568h0M505.9 588h0M561.4 585.2h0M523.4 564h0M527.3 575.9h0M595.1 575.7h0M548.1 563.5h0M553.1 565.1h0M447 735.5h0M534.5 571.2h0M503 573.8h0M565.3 575.7h0M554.2 568.1h0M603.5 584h0M598.8 594.1h0M550.3 576.7h0M570.4 591.8h0M498.9 574.7h0M503.9 563.5h0M499 565.1h0M552.5 570.2h0M512.5 560.5h0M541.2 578.8h0M549.2 566h0M565.8 590h0M540.1 577h0M533.3 554.5h0M595.4 570.8h0M556.6 550.8h0M506.3 588.3h0M549.8 548.6h0M532.8 585.2h0M497.5 565h0M603.4 589.9h0M565.3 587.5h0M539.9 566.2h0M545.4 577.7h0M492.2 575.6h0M520.9 564.9h0M556.5 572.9h0M449 736.5h0M535.2 576.5h0M581.2 560.2h0M565.8 577.4h0M501.1 582h0" stroke="#d09b22" stroke-width="3.1" stroke-linecap="round" fill="none"/>
<path d="M611.5 587.3h0M590.9 602.6h0M626.3 604h0M600.9 599h0M625.1 581.2h0M633.9 588.7h0M617.8 576.2h0M613.8 584.5h0M600.9 594.9h0M617.2 595.9h0M626.8 583.1h0M614 591.4h0M625.8 582.9h0M627.9 593h0M623.7 604.2h0M613.4 579.2h0M614.7 585.1h0M623.8 577.2h0M626.3 606h0M627.7 581.3h0M623.5 599.7h0M605.3 590.4h0M629 591.4h0M632.4 592.5h0M587 597.1h0M631 583.3h0M611.6 593h0" stroke="#f4837b" stroke-width="3.1" stroke-linecap="round" fill="none"/>
<path d="M447.7 736.7h0M479.4 725.3h0M488.6 713.3h0M460.1 737.7h0M465.6 712.7h0M479.3 715.8h0M496.2 720.3h0M488.9 732.1h0M478.8 715.4h0M426.7 736.8h0M427.3 737.5h0M474.4 732.7h0M471.5 733.2h0M488.1 712.8h0M477.6 714.2h0M464.1 737.6h0M452.6 713.8h0M444.3 734.5h0M453.1 735.5h0M434.6 735.2h0M457.7 737.8h0M444.4 736.3h0M458.6 713.4h0M458.3 730.3h0M434.8 736.1h0M451.4 741.7h0M437.8 749.4h0M476.4 733.4h0M481.4 718.3h0M450.2 747.4h0M462.6 717.3h0M483.4 718.9h0M474 734h0M454.9 745.5h0M458.6 741.6h0M455.5 738.6h0M451.4 726.8h0M473.8 727.7h0M474.4 723h0M442.9 737.3h0M463.7 740.1h0M463.5 715.6h0M452.9 736.7h0M446.7 737h0M427.9 739.8h0M476.6 714.5h0M474.2 739.2h0M436.2 746.4h0M434.6 746.9h0M427.8 737.9h0M489.6 733.9h0M463 743.9h0M476 731.8h0M449.2 734.8h0M443.3 742.4h0M454.8 739.8h0M426.3 740.1h0M457.1 744h0M470.3 724.8h0M457.1 741h0M490.9 712.1h0M471.8 729.4h0" stroke="#c581d9" stroke-width="3.1" stroke-linecap="round" fill="none"/>
<path d="M498.9 699.2h0M489.8 699.7h0M493.3 692.5h0M503.8 700.1h0M511.1 685.2h0M503.5 695.7h0M494.8 700.9h0M524.9 678.7h0M502.4 708h0M523.3 676.5h0M495.8 700h0M505.6 694.8h0M483.8 673.7h0M505.6 704.1h0M522.2 588.6h0M531.6 696.2h0M515.1 693.8h0M496.4 686.5h0M497.4 670.9h0M499.9 702.2h0M505.6 704.3h0M492.4 677h0M503.2 686.8h0M499.1 682.4h0M504.5 709.1h0M483.2 673.6h0M509.6 684.8h0M517.1 679.1h0M479.5 678.3h0M535 688.5h0M513.4 694.9h0M511.2 682h0M497.1 670.8h0M529.2 680.7h0M482.7 675.6h0M495.9 709.7h0M521.7 601.6h0M496.2 696.6h0M510.4 703.8h0M516.4 698.6h0M521 697.2h0M522.1 684.2h0M483.8 692.5h0M511.5 680.2h0M527.8 695.4h0M531.8 695.7h0M511.8 679h0M510.1 675.7h0M522.8 675.6h0M485.2 681h0M486.3 692.7h0M508.1 688h0M526.2 671.1h0M522.9 698.7h0M488.7 700h0M485.6 694.5h0M500.2 685.7h0M498.6 665.8h0M544.8 638.2h0M525 670.2h0M489.6 693.9h0M501 714.9h0M501 687.5h0M482.1 674.3h0M505.8 683.7h0M492.5 680.4h0M506.8 692.1h0M519.7 696.5h0" stroke="#df6db8" stroke-width="3.1" stroke-linecap="round" fill="none"/>
<path d="M543.3 600.8h0M512.2 604h0M464.3 648.1h0M538.6 658.2h0M554.6 621h0M464.6 631.5h0M471.4 618.6h0M488 629h0M479.4 647.5h0M481.4 677.6h0M469.1 653.5h0M469 635.3h0M470.3 663.5h0M473.1 617.9h0M484.5 614.3h0M473.4 629h0M477.2 643.6h0M525.8 624.3h0M456.5 655.4h0M475.5 635.5h0M482 626.8h0M498 608.4h0M487.6 635.8h0M461.1 639.7h0M488.1 678.3h0M504.6 615.7h0M460.8 644.8h0M478.9 624.4h0M485 604.7h0M502.2 635.6h0M459.2 666.7h0M475.7 627.3h0M559.5 641.4h0M496.7 600.9h0M538.5 657.9h0M481 616.6h0M489.9 597.9h0M482.2 653.6h0M461 633.5h0M471.2 645.6h0M508.3 633.2h0M457.2 662.5h0M469.9 653.1h0M490.3 626.3h0M476.5 690.2h0M462 664.6h0M473.2 631.2h0M490.8 618.7h0M477 648h0M474.6 667.5h0M496.4 609.6h0M458.8 653.6h0M489 609h0M477 630.2h0M483.6 602.7h0M507.6 643h0M529.4 611.8h0M481.3 616.7h0M483 624.3h0M465.4 624h0M486.3 658.6h0M477.1 609.8h0M459.9 654.2h0M486.7 614h0M479.7 618.4h0M495.6 612h0M476.6 647.1h0M478.9 640.1h0M484.5 633.8h0M460.8 644h0M457.1 657.2h0M512.5 609.2h0M473.7 631.1h0M470.6 689.5h0M483.4 617.6h0M458.9 649.2h0M473.4 657.3h0M458.2 666.8h0M489.6 610.9h0M512.6 615.5h0M524.4 620.8h0M509.2 646.4h0" stroke="#5cc4cc" stroke-width="3.1" stroke-linecap="round" fill="none"/>
<path d="M593.5 639.6h0M521.9 656.5h0M602 663.9h0M581.6 637.9h0M545.3 660.9h0M519 648.5h0M594.7 643.4h0M587 648.7h0M534 641.1h0M587.2 618.7h0M615.6 644.2h0M504.7 650.6h0M545.3 646.6h0M500.4 643.8h0M578.5 649.7h0M535.3 640h0M592.8 654.6h0M593.4 656h0M508.6 651h0M583.9 671.7h0M525.7 637.3h0M583.7 657.5h0M588.9 668.2h0M521 640h0M525.7 639.8h0M495.8 627.8h0M515.5 637.9h0M566.7 643.4h0M594.7 647.7h0M546.4 658.3h0M574.2 645.9h0M596.1 660.4h0M574.3 661.3h0M524.5 637.9h0M603.2 658.3h0M566.5 644.7h0M510.3 667.3h0M577.7 655.8h0M593.5 662.9h0M540.3 663.6h0M603 656.1h0M587.4 665h0M588 641.5h0M585.5 657.6h0M509.2 642.8h0M523.4 657.4h0M542.8 626.8h0M589.8 670.9h0M608 640.4h0M538.1 653.4h0M535.3 666.1h0M597.1 640.9h0M572.3 651.2h0M605.7 657h0M571.9 650h0M517.5 652.5h0M514.1 657.6h0M600.1 650.4h0M573.3 650h0M600.5 641h0M547.2 651.5h0M542 658.4h0M540.7 656.8h0M590.1 655h0M546.7 653.4h0M570.1 653.8h0M571.8 662.9h0M585.3 656.3h0M538.5 651.2h0M583.7 658.6h0M611.2 645h0M569.6 641.3h0M512.4 657.4h0M529.9 664.1h0M603.9 641h0M537.6 642.4h0M504.5 655.1h0M547.5 637.1h0M549.1 651.6h0M586.2 655h0M591.8 669.9h0M587.5 653h0M588 641.2h0M570.8 646.6h0M608.5 642h0M541.9 651.6h0M596.8 671.7h0M581.7 636.7h0M595.5 665.4h0M519.4 642.2h0M573.4 635.8h0M516.4 646.2h0M528.2 661.9h0M594.2 649.6h0" stroke="#4dba5e" stroke-width="3.1" stroke-linecap="round" fill="none"/>
<path d="M519.9 590.7h0M548.5 614.7h0M544.9 622h0M548 614.7h0M505.7 599.6h0M517.6 620.9h0M549.7 601.4h0M524.8 615.4h0M559.5 595h0M516.4 613h0M542.4 616.5h0M535.3 601.7h0M499.6 590.5h0M556.7 628.4h0M523.4 614.4h0M508.6 600.5h0M516.4 599.4h0M551.7 591.5h0M544.6 634.4h0M535.6 587.2h0M527.9 587.3h0M516.9 613.8h0M559.8 601.6h0M547.4 626.2h0M534.1 642.3h0M544.4 587.9h0M561.9 607.8h0M606.6 616.4h0M524.8 629.4h0M527.2 623.6h0M550.9 623.8h0M555.2 635.7h0M549.2 638.1h0M541 633.9h0M541.9 608.6h0M536.4 590.8h0M568.3 634.4h0M512.6 605.6h0M523.8 623.5h0M565.2 608.2h0M527.8 618.9h0M510.1 593.5h0M553.8 629.7h0M563.6 616.7h0M525.1 609.4h0M529.5 586.6h0M531.7 613.7h0M557.9 605.7h0M510.9 596.1h0M522.7 597.3h0M540.3 588.6h0M550.1 613.8h0M562.8 617.3h0M549.4 616.2h0M522.8 607.4h0M520.7 609.5h0M553.8 607.5h0M592.8 639.8h0M569.4 621.1h0M545.4 630.7h0M538.3 626.4h0M538 619.7h0M536.2 605.7h0M545 635.8h0M562.2 647.9h0M499.8 595.7h0M556.4 633.2h0M527.4 612.7h0M570.1 626.2h0M528.2 606.3h0M522.8 618.3h0M554.4 594.4h0M492.3 597.8h0M556.8 632.7h0M521 619.8h0M570 627.3h0M551.2 646.8h0M498.1 601.9h0M557.2 614.3h0M589.3 607.9h0M507.7 613.7h0M500.6 593.8h0" stroke="#8db425" stroke-width="3.1" stroke-linecap="round" fill="none"/>
<path d="M575.7 609.1h0M617.8 608.7h0M573.2 602h0M592.8 630.2h0M610.5 597.1h0M598.8 600.4h0M591.4 627.5h0M594.5 617.5h0M600.6 627.4h0M587.8 631.6h0M572.2 627.4h0M622.5 614.8h0M600 638.1h0M600.7 637.2h0M586.8 605.9h0M580.3 611.2h0M597.5 615.7h0M596.8 601h0M574.2 606h0M608.6 626.3h0M583.6 622.2h0M566.3 620.7h0M592.8 630.2h0M610.2 628.9h0M564.7 609.9h0M604.8 622.4h0M617.4 617.5h0M602.1 614.5h0M599 607.2h0M617.9 608.9h0M545.6 601.2h0M604.6 611.6h0M604.5 613.8h0M594.1 603.9h0M591.5 614.5h0M590 601.7h0M619.3 632h0M608.5 597.5h0M562.1 619.8h0M607.5 635.5h0M582.4 608.2h0M590.8 640.6h0M571.8 623.9h0M565.4 605h0M619.8 609.6h0M555.6 602.6h0M575.2 627.7h0M606.1 599.7h0M555.6 614.1h0M582.7 630.3h0M571.3 625h0M585.2 621.7h0M585.4 608.6h0M580.1 632.3h0M580.5 616.7h0M590.5 617.5h0M593.3 626.8h0M616.3 608h0M548.5 628.7h0M594.9 616.3h0M594.3 632.8h0M607.3 604.7h0M604.4 631.9h0M615.4 618h0M582.6 604.6h0M620.1 617.2h0M587.8 626.8h0M601.1 630.3h0M591 635.7h0M602.5 614.3h0M609.4 608.5h0M595.9 628h0M576 604.8h0M617.2 625.5h0M573.3 613.1h0M599.9 612.2h0M569.8 629.5h0M575.9 632.3h0M565.1 605.5h0M561.5 613.7h0M587.7 591.2h0M613.8 602.1h0M590.9 610h0M621.5 611.9h0M567.1 606.1h0M588.6 604.8h0M587.9 604.5h0M556.1 638.7h0M610.9 623h0M616.6 604.1h0M543.2 594.6h0" stroke="#6aa5d9" stroke-width="3.1" stroke-linecap="round" fill="none"/>
<path d="M592.1 582.5h0M601 571.6h0M444 735.4h0M514.2 557.9h0M601.3 596h0M521.5 560.7h0M601.4 569.6h0M541.8 572.5h0M543.6 549.6h0M512.4 578.7h0M588.5 582.5h0M579.6 575.4h0M547.9 558.6h0M544.6 560.9h0M583.9 578h0M533.5 564.2h0M445 737h0M526.3 584h0M524.2 564.2h0M535.1 559.8h0M546.8 575.5h0M587.7 576h0M522.3 577.5h0M541.4 563.1h0M524 584.9h0M531.6 579h0M584 560.6h0M556.5 555.9h0M570.7 557h0M498.4 582.7h0M524.1 571.1h0M501.6 576.5h0M499.2 572.2h0M527 582.9h0M547.6 572.3h0M569.5 559.7h0M581 590.5h0M592.2 587.2h0M523.7 563.2h0M523.2 575.5h0M512.6 567.6h0M538.3 577.8h0M593 561.8h0M540.7 554h0M539.3 553.4h0M582.2 583.7h0M576.4 584.5h0M575.8 580.5h0M575.4 587.9h0M525.5 573.2h0M524 559.7h0M590.8 566.9h0M520.9 574h0M548.7 580.5h0M545 577.5h0M527.3 584.5h0M568.2 563.5h0M582 577.6h0M606.6 583.3h0M495.4 571.9h0M604.7 583.8h0M526.2 578.4h0M520.9 577.8h0M572.9 569.3h0M540.5 555.4h0M519.4 585.8h0M510.3 584.1h0M500.9 578.1h0M568.9 586.9h0M580.9 574.6h0M555.7 566.5h0M554.7 563.4h0M523.1 571.5h0M582.1 579h0M577.6 573.7h0M585.5 590.4h0M593.4 572.6h0M558 582.4h0M593.4 600.9h0M533.7 554.7h0M585.9 573.7h0M555.2 566.8h0M575.2 570.9h0M571.8 594.2h0M550.9 559.1h0M511.2 570.3h0M585.7 569.7h0M586.5 592.4h0M605.4 590.6h0M554.1 583.3h0M527.5 550.3h0M518 555.6h0M505.7 578h0M507.4 569.3h0M596.1 598h0M544.4 566.9h0M607.7 578.4h0M524.1 582.3h0M588.2 591.2h0M599.2 577.5h0M556.1 563.6h0M532.3 548.7h0M531.1 558.4h0M567 557.6h0M526.4 583h0M553.5 550.9h0M502.2 574.4h0M563.9 573h0M526 572.4h0M573.7 561h0M583.3 572.8h0M579.1 556.3h0M579.5 596h0M528.9 553.7h0M537.4 570.3h0M602.7 593.8h0M520.3 559.3h0M509.5 582.2h0M605.8 575.8h0M562.7 561.2h0M541.8 578h0M600 603.2h0M532 579.3h0M568.7 558.1h0M547.5 564.6h0M580.7 589.8h0M506 562.8h0M556 565h0M527 565.7h0M509 581.7h0M528 565.6h0M550 558.8h0M529.1 568.7h0M576.8 581.1h0M532.4 562.5h0M568.5 585.6h0M501.6 575.8h0M543.3 566.1h0M594.5 598.2h0M594.1 562.6h0M526 570.3h0M577.2 564.7h0M535.8 563.4h0M536.6 576.2h0M509.1 573h0M541.5 557.5h0M549.3 576.1h0M551.9 554.9h0M605.5 573.9h0M585.9 588.4h0M562.4 551.8h0M581.5 583.4h0M578.7 569.8h0M596.3 562.9h0M597.3 573.1h0M595.9 579.6h0M550.4 577.3h0M592.2 573.2h0M539.6 565.8h0M537.1 566.6h0" stroke="#d09b22" stroke-width="3.1" stroke-linecap="round" fill="none"/>
<path d="M636.8 597h0M617.8 582.9h0M612 583.7h0M602.6 601.9h0M615.9 575.8h0M618.6 592.2h0M623.8 590.7h0M628.8 581.7h0M622.8 594h0M623.9 594.3h0M628.3 597.1h0M635.1 599.4h0M622.8 598h0M638.1 585.2h0M626.4 591.9h0M625.1 589.7h0M615.1 597.6h0M613.9 577.5h0M626.3 577.9h0M634 584.5h0M614 586h0M624.4 587h0M637.5 590.7h0M623.6 601.7h0M622.1 582.8h0M613.5 585.2h0M619.2 592.6h0M632.3 592.7h0M627.3 604.7h0M634.9 592.5h0M636.6 591h0M614.5 600.5h0M615.2 584.2h0" stroke="#f4837b" stroke-width="3.1" stroke-linecap="round" fill="none"/>
<text x="444.7" y="550.7" font-size="10.1" fill="#1e1e1e">Naive-like</text>
<line x1="492.9" y1="549.6" x2="538.9" y2="558.3" stroke="#111" stroke-width="0.9"/>
<text x="418.9" y="581.7" font-size="10.1" fill="#1e1e1e">Dysfunctional</text>
<line x1="448.7" y1="585.3" x2="478.7" y2="627.3" stroke="#111" stroke-width="0.9"/>
<text x="624.5" y="557.7" font-size="10.1" fill="#1e1e1e">Memory</text>
<line x1="641.4" y1="560.5" x2="632.3" y2="582.7" stroke="#111" stroke-width="0.9"/>
<text x="623.4" y="646.5" font-size="10.1" fill="#1e1e1e">Cytotoxic</text>
<line x1="633.7" y1="638.2" x2="612.9" y2="618.8" stroke="#111" stroke-width="0.9"/>
<text x="618.8" y="673.6" font-size="10.1" fill="#1e1e1e">Tissue-</text>
<text x="618.8" y="685.6" font-size="10.1" fill="#1e1e1e">resident</text>
<line x1="614" y1="671.4" x2="596.7" y2="658.5" stroke="#111" stroke-width="0.9"/>
<text x="544.5" y="704.2" font-size="10.1" fill="#1e1e1e">Early-activated</text>
<line x1="566.4" y1="694.9" x2="538.7" y2="624.2" stroke="#111" stroke-width="0.9"/>
<text x="515.1" y="729.6" font-size="10.1" fill="#1e1e1e">Transitional</text>
<line x1="523.4" y1="719.9" x2="512.3" y2="692.1" stroke="#111" stroke-width="0.9"/>
<text x="513.2" y="754" font-size="10.1" fill="#1e1e1e">Proliferating</text>
<line x1="509.6" y1="747.6" x2="484.6" y2="733.7" stroke="#111" stroke-width="0.9"/>
<line x1="412.5" y1="714" x2="412.5" y2="681.5" stroke="#111" stroke-width="1.3"/>
<path d="M412.5 675.5L416.1 682.5L408.9 682.5Z" fill="#111"/>
<line x1="463.8" y1="763.7" x2="497.2" y2="763.7" stroke="#111" stroke-width="1.3"/>
<path d="M503.2 763.7L496.2 767.3L496.2 760.1Z" fill="#111"/>
<text x="416" y="737.9" font-size="9.6" text-anchor="middle" fill="#1e1e1e" transform="rotate(-90 416 737.9)">UMAP_2</text>
<text x="423.6" y="767" font-size="9.6" fill="#1e1e1e">UMAP_1</text>
<text x="1" y="761" font-size="11" font-weight="bold" fill="#000">g</text>
<line x1="37.6" y1="764.2" x2="37.6" y2="872.9" stroke="#222" stroke-width="0.9"/>
<line x1="37.6" y1="872.4" x2="126.2" y2="872.4" stroke="#222" stroke-width="0.9"/>
<line x1="34.6" y1="872.4" x2="37.6" y2="872.4" stroke="#222" stroke-width="0.8"/>
<text x="33.2" y="875.7" font-size="9.2" text-anchor="end" fill="#1e1e1e">0</text>
<line x1="35.6" y1="861.58" x2="37.6" y2="861.58" stroke="#222" stroke-width="0.8"/>
<line x1="34.6" y1="850.76" x2="37.6" y2="850.76" stroke="#222" stroke-width="0.8"/>
<text x="33.2" y="854.06" font-size="9.2" text-anchor="end" fill="#1e1e1e">20</text>
<line x1="35.6" y1="839.94" x2="37.6" y2="839.94" stroke="#222" stroke-width="0.8"/>
<line x1="34.6" y1="829.12" x2="37.6" y2="829.12" stroke="#222" stroke-width="0.8"/>
<text x="33.2" y="832.42" font-size="9.2" text-anchor="end" fill="#1e1e1e">40</text>
<line x1="35.6" y1="818.3" x2="37.6" y2="818.3" stroke="#222" stroke-width="0.8"/>
<line x1="34.6" y1="807.48" x2="37.6" y2="807.48" stroke="#222" stroke-width="0.8"/>
<text x="33.2" y="810.78" font-size="9.2" text-anchor="end" fill="#1e1e1e">60</text>
<line x1="35.6" y1="796.66" x2="37.6" y2="796.66" stroke="#222" stroke-width="0.8"/>
<line x1="34.6" y1="785.84" x2="37.6" y2="785.84" stroke="#222" stroke-width="0.8"/>
<text x="33.2" y="789.14" font-size="9.2" text-anchor="end" fill="#1e1e1e">80</text>
<line x1="35.6" y1="775.02" x2="37.6" y2="775.02" stroke="#222" stroke-width="0.8"/>
<line x1="34.6" y1="764.2" x2="37.6" y2="764.2" stroke="#222" stroke-width="0.8"/>
<text x="33.2" y="767.5" font-size="9.2" text-anchor="end" fill="#1e1e1e">100</text>
<rect x="49.7" y="863.85" width="25.3" height="8.55" fill="#3f49a6"/>
<rect x="49.7" y="837.34" width="25.3" height="26.51" fill="#e02c1c"/>
<rect x="49.7" y="832.04" width="25.3" height="5.3" fill="#2fb01f"/>
<rect x="49.7" y="830.63" width="25.3" height="1.41" fill="#9b3fbf"/>
<rect x="49.7" y="826.96" width="25.3" height="3.68" fill="#f07f00"/>
<rect x="49.7" y="810.73" width="25.3" height="16.23" fill="#000000"/>
<rect x="49.7" y="783.78" width="25.3" height="26.94" fill="#8a5a1f"/>
<rect x="49.7" y="764.2" width="25.3" height="19.58" fill="#d6e4f6"/>
<line x1="62.35" y1="872.4" x2="62.35" y2="875.2" stroke="#222" stroke-width="0.8"/>
<rect x="87.7" y="860.39" width="25.2" height="12.01" fill="#3f49a6"/>
<rect x="87.7" y="852.82" width="25.2" height="7.57" fill="#e02c1c"/>
<rect x="87.7" y="839.83" width="25.2" height="12.98" fill="#2fb01f"/>
<rect x="87.7" y="821.22" width="25.2" height="18.61" fill="#9b3fbf"/>
<rect x="87.7" y="804.45" width="25.2" height="16.77" fill="#f07f00"/>
<rect x="87.7" y="788.87" width="25.2" height="15.58" fill="#000000"/>
<rect x="87.7" y="767.01" width="25.2" height="21.86" fill="#8a5a1f"/>
<rect x="87.7" y="764.2" width="25.2" height="2.81" fill="#d6e4f6"/>
<line x1="100.3" y1="872.4" x2="100.3" y2="875.2" stroke="#222" stroke-width="0.8"/>
<text x="61.5" y="885.1" font-size="9.3" text-anchor="middle" fill="#1e1e1e">Control</text>
<text x="100.6" y="885.1" font-size="9.3" text-anchor="middle" fill="#1e1e1e">Anti-PD1</text>
<text x="16.2" y="819.2" font-size="9.4" text-anchor="middle" fill="#1e1e1e" transform="rotate(-90 16.2 819.2)">% CD8 cells</text>
<rect x="8" y="900.5" width="12.2" height="5.6" fill="#d6e4f6"/>
<text x="22.1" y="906.5" font-size="9.2" fill="#1e1e1e">Memory</text>
<rect x="8" y="915.2" width="12.2" height="5.6" fill="#8a5a1f"/>
<text x="22.1" y="921.2" font-size="9.2" fill="#1e1e1e">Naive-like</text>
<rect x="8" y="930.2" width="12.2" height="5.6" fill="#000000"/>
<text x="22.1" y="936.2" font-size="9.2" fill="#1e1e1e">Early-activated</text>
<rect x="8" y="945" width="12.2" height="5.6" fill="#f07f00"/>
<text x="22.1" y="951" font-size="9.2" fill="#1e1e1e">Cytotoxic</text>
<rect x="86.8" y="900.5" width="12.2" height="5.6" fill="#9b3fbf"/>
<text x="100.9" y="906.5" font-size="9.2" fill="#1e1e1e">Tissue-resident</text>
<rect x="86.8" y="915.2" width="12.2" height="5.6" fill="#2fb01f"/>
<text x="100.9" y="921.2" font-size="9.2" fill="#1e1e1e">Transitional</text>
<rect x="86.8" y="930.2" width="12.2" height="5.6" fill="#e02c1c"/>
<text x="100.9" y="936.2" font-size="9.2" fill="#1e1e1e">Dysfunctional</text>
<rect x="86.8" y="945" width="12.2" height="5.6" fill="#3f49a6"/>
<text x="100.9" y="951" font-size="9.2" fill="#1e1e1e">Proliferating</text>
<text x="168.6" y="787.9" font-size="11" font-weight="bold" fill="#000">h</text>
<rect x="243.6" y="779.1" width="9.8" height="4.8" fill="#e02c1c"/>
<text x="255.3" y="784.2" font-size="8.9" fill="#1e1e1e">ITGA4</text>
<rect x="287" y="779.1" width="10.6" height="4.8" fill="#2fb01f"/>
<text x="299.1" y="784.2" font-size="8.9" fill="#1e1e1e">ITGB1</text>
<rect x="331" y="779.1" width="10.7" height="4.8" fill="#9b3fbf"/>
<text x="343.2" y="784.2" font-size="8.9" fill="#1e1e1e">NCL</text>
<line x1="241.6" y1="789.9" x2="241.6" y2="918.6" stroke="#222" stroke-width="0.9"/>
<line x1="241.6" y1="918.6" x2="368.8" y2="918.6" stroke="#222" stroke-width="0.9"/>
<line x1="254.28" y1="918.6" x2="254.28" y2="920.6" stroke="#222" stroke-width="0.7"/>
<line x1="279.62" y1="918.6" x2="279.62" y2="920.6" stroke="#222" stroke-width="0.7"/>
<line x1="304.98" y1="918.6" x2="304.98" y2="920.6" stroke="#222" stroke-width="0.7"/>
<line x1="330.33" y1="918.6" x2="330.33" y2="920.6" stroke="#222" stroke-width="0.7"/>
<line x1="355.68" y1="918.6" x2="355.68" y2="920.6" stroke="#222" stroke-width="0.7"/>
<line x1="241.6" y1="918.6" x2="241.6" y2="921.6" stroke="#222" stroke-width="0.8"/>
<text x="241.6" y="935.4" font-size="9.6" text-anchor="middle" fill="#1e1e1e">-10</text>
<line x1="266.95" y1="918.6" x2="266.95" y2="921.6" stroke="#222" stroke-width="0.8"/>
<text x="266.95" y="935.4" font-size="9.6" text-anchor="middle" fill="#1e1e1e">-5</text>
<line x1="292.3" y1="918.6" x2="292.3" y2="921.6" stroke="#222" stroke-width="0.8"/>
<text x="292.3" y="935.4" font-size="9.6" text-anchor="middle" fill="#1e1e1e">0</text>
<line x1="317.65" y1="918.6" x2="317.65" y2="921.6" stroke="#222" stroke-width="0.8"/>
<text x="317.65" y="935.4" font-size="9.6" text-anchor="middle" fill="#1e1e1e">5</text>
<line x1="343" y1="918.6" x2="343" y2="921.6" stroke="#222" stroke-width="0.8"/>
<text x="343" y="935.4" font-size="9.6" text-anchor="middle" fill="#1e1e1e">10</text>
<line x1="368.35" y1="918.6" x2="368.35" y2="921.6" stroke="#222" stroke-width="0.8"/>
<text x="368.35" y="935.4" font-size="9.6" text-anchor="middle" fill="#1e1e1e">15</text>
<rect x="292.3" y="797.4" width="33.46" height="12.45" fill="#e02c1c"/>
<rect x="292.3" y="810.25" width="36.5" height="12.45" fill="#2fb01f"/>
<rect x="292.3" y="823.1" width="11.41" height="12.45" fill="#9b3fbf"/>
<rect x="289.51" y="835.95" width="2.79" height="12.45" fill="#e02c1c"/>
<rect x="292.3" y="848.8" width="11.41" height="12.45" fill="#2fb01f"/>
<rect x="264.42" y="861.65" width="27.89" height="12.45" fill="#9b3fbf"/>
<rect x="265.94" y="874.5" width="26.36" height="12.45" fill="#e02c1c"/>
<rect x="292.3" y="887.35" width="57.29" height="12.45" fill="#2fb01f"/>
<rect x="276.58" y="900.2" width="15.72" height="12.45" fill="#9b3fbf"/>
<line x1="292.3" y1="789.9" x2="292.3" y2="918.6" stroke="#222" stroke-width="0.9"/>
<line x1="236" y1="803.82" x2="241.6" y2="803.82" stroke="#222" stroke-width="0.8"/>
<line x1="236" y1="816.67" x2="241.6" y2="816.67" stroke="#222" stroke-width="0.8"/>
<line x1="236" y1="829.52" x2="241.6" y2="829.52" stroke="#222" stroke-width="0.8"/>
<line x1="236" y1="842.37" x2="241.6" y2="842.37" stroke="#222" stroke-width="0.8"/>
<line x1="236" y1="855.22" x2="241.6" y2="855.22" stroke="#222" stroke-width="0.8"/>
<line x1="236" y1="868.07" x2="241.6" y2="868.07" stroke="#222" stroke-width="0.8"/>
<line x1="236" y1="880.92" x2="241.6" y2="880.92" stroke="#222" stroke-width="0.8"/>
<line x1="236" y1="893.77" x2="241.6" y2="893.77" stroke="#222" stroke-width="0.8"/>
<line x1="236" y1="906.62" x2="241.6" y2="906.62" stroke="#222" stroke-width="0.8"/>
<line x1="236" y1="906" x2="241.6" y2="906" stroke="#222" stroke-width="0.8"/>
<text x="233.3" y="820" font-size="9.5" text-anchor="end" fill="#1e1e1e">Dysfunctional</text>
<text x="233.3" y="858.5" font-size="9.5" text-anchor="end" fill="#1e1e1e">Transitional</text>
<text x="233.3" y="897" font-size="9.5" text-anchor="end" fill="#1e1e1e">Proliferating</text>
<line x1="241.6" y1="835.8" x2="368.8" y2="835.8" stroke="#333" stroke-width="0.9" stroke-dasharray="3.2 2.6"/>
<line x1="241.6" y1="874.3" x2="368.8" y2="874.3" stroke="#333" stroke-width="0.9" stroke-dasharray="3.2 2.6"/>
<text x="302.8" y="947.3" font-size="9.6" text-anchor="middle" fill="#1e1e1e">Δ % MDK receptor+ CD8+ T cells</text>
<text x="303.7" y="958.5" font-size="9.6" text-anchor="middle" fill="#1e1e1e">(Anti-PD1 - Control)</text>
<text x="397.5" y="788.1" font-size="11" font-weight="bold" fill="#000">i</text>
<rect x="417.8" y="785.6" width="8.8" height="8.4" fill="#f8766d" stroke="#333" stroke-width="0.5"/>
<text x="431.4" y="793" font-size="9.5" fill="#1e1e1e">Control</text>
<rect x="479" y="785.6" width="8.8" height="8.4" fill="#1f8b90" stroke="#333" stroke-width="0.5"/>
<text x="492.7" y="793" font-size="9.5" fill="#1e1e1e">Anti-PD1</text>
<text x="474.4" y="807.3" font-size="9.4" text-anchor="middle" font-style="italic" fill="#1e1e1e">NFKB1</text>
<text x="440.2" y="811.6" font-size="7.2" text-anchor="middle" fill="#1e1e1e">p=0.022</text>
<text x="440" y="825.6" font-size="17" text-anchor="middle" fill="#111">*</text>
<line x1="431.8" y1="820.2" x2="447.7" y2="820.2" stroke="#222" stroke-width="0.8"/>
<line x1="466.9" y1="820.2" x2="482.9" y2="820.2" stroke="#222" stroke-width="0.8"/>
<line x1="501.3" y1="820.2" x2="517.2" y2="820.2" stroke="#222" stroke-width="0.8"/>
<text x="475.3" y="817.1" font-size="7" text-anchor="middle" fill="#1e1e1e">ns</text>
<text x="509.4" y="817.1" font-size="7" text-anchor="middle" fill="#1e1e1e">ns</text>
<line x1="419.5" y1="811.5" x2="419.5" y2="918.2" stroke="#333" stroke-width="0.9"/>
<line x1="419.5" y1="918.4" x2="531.5" y2="918.4" stroke="#999" stroke-width="1.6"/>
<line x1="416.8" y1="913.2" x2="419.5" y2="913.2" stroke="#333" stroke-width="0.8"/>
<text x="414.6" y="916.9" font-size="10.2" text-anchor="end" fill="#222">0</text>
<line x1="416.8" y1="880.5" x2="419.5" y2="880.5" stroke="#333" stroke-width="0.8"/>
<text x="414.6" y="884.2" font-size="10.2" text-anchor="end" fill="#222">1</text>
<line x1="416.8" y1="847.8" x2="419.5" y2="847.8" stroke="#333" stroke-width="0.8"/>
<text x="414.6" y="851.5" font-size="10.2" text-anchor="end" fill="#222">2</text>
<line x1="416.8" y1="815.1" x2="419.5" y2="815.1" stroke="#333" stroke-width="0.8"/>
<text x="414.6" y="818.8" font-size="10.2" text-anchor="end" fill="#222">3</text>
<text x="407.5" y="864" font-size="9.5" text-anchor="middle" fill="#222" transform="rotate(-90 407.5 864)">Expression Level</text>
<path d="M432.4 828.18 L432.7 912.22 L437.4 912.87 L438.9 913.2L425.9 913.2 L427.4 912.87 L432.1 912.22 L432.4 828.18Z" fill="#f8766d" stroke="#111" stroke-width="0.45" stroke-linejoin="round"/>
<path d="M432.5 846.1h0M434.2 859.2h0M433.6 869.2h0M431.7 867h0M432.6 852.6h0M434.1 895.5h0M432.1 852.2h0M433 880.1h0M435.4 858.1h0M433.9 867.5h0M431.7 846.6h0M436.6 849.8h0" stroke="#222" stroke-width="0.76" stroke-linecap="round" fill="none"/>
<line x1="425.9" y1="913.2" x2="438.9" y2="913.2" stroke="#333" stroke-width="0.7"/>
<path d="M448.5 831.45 L449.3 841.26 L449.9 854.34 L450.1 867.42 L450.1 880.5 L450.5 887.04 L451.7 893.58 L454 900.12 L455.9 906.66 L456.5 911.24 L456.5 913.2L440.5 913.2 L440.5 911.24 L441.1 906.66 L443 900.12 L445.3 893.58 L446.5 887.04 L446.9 880.5 L446.9 867.42 L447.1 854.34 L447.7 841.26 L448.5 831.45Z" fill="#1f8b90" stroke="#111" stroke-width="0.45" stroke-linejoin="round"/>
<path d="M446.6 837.8h0M448.8 863.2h0M450.8 835.1h0M444.7 879.5h0M446.5 853.7h0M445.9 840.6h0M448 855.1h0M448.8 858.6h0M451.5 866.5h0M448.1 862.3h0M449.1 878.8h0M446.5 866.6h0M445.1 862.4h0M451.6 872h0M449.1 847.4h0M450.3 874.9h0M444.8 869.9h0M448 868.8h0M448.3 862.8h0M446.5 867.9h0M449.5 840.9h0M445.4 860.9h0M450 851.2h0M446.5 838h0M447.3 842.1h0M448.9 867.8h0M447.2 846h0M450.3 852.7h0M449.2 851.1h0M448.5 857.8h0M447.7 875.6h0M444.3 861.2h0M447.9 855.1h0M450.1 857.6h0M448.5 855.8h0M447.5 850.9h0M445 877h0M446.6 846.1h0M449.4 849.5h0M449 846.9h0M447.2 876.6h0M444.5 860.9h0M447.7 846h0M449.4 876.6h0M446.6 867.6h0M446.9 853.6h0M447.3 856.7h0M448.1 855.8h0M448.5 858.3h0M445.3 867.5h0" stroke="#222" stroke-width="0.76" stroke-linecap="round" fill="none"/>
<line x1="442" y1="913.2" x2="455" y2="913.2" stroke="#333" stroke-width="0.7"/>
<path d="M467.6 826.55 L469.4 837.99 L471 847.8 L471.2 857.61 L470.8 867.42 L470.8 877.23 L471.6 887.04 L473.2 896.85 L475.2 905.03 L475.8 911.24 L475.8 913.2L459.4 913.2 L459.4 911.24 L460 905.03 L462 896.85 L463.6 887.04 L464.4 877.23 L464.4 867.42 L464 857.61 L464.2 847.8 L465.8 837.99 L467.6 826.55Z" fill="#f8766d" stroke="#111" stroke-width="0.45" stroke-linejoin="round"/>
<path d="M467.5 841.4h0M468.1 854.8h0M469 859.4h0M468.7 849.5h0M468.3 862.8h0M466 846.4h0M469.3 866.8h0M466.7 847.2h0M464.1 848.2h0M469.6 852.9h0M471.5 853.7h0M471.1 843.9h0M469 868.9h0M466.9 869.5h0M468.2 852.1h0M466.5 852.8h0M465.7 843h0M469.8 860h0M468.4 843.4h0M465.6 860.9h0M467.5 882h0M466.8 831.8h0M467.9 849.1h0M465.9 848.9h0M470.7 858.3h0" stroke="#222" stroke-width="0.76" stroke-linecap="round" fill="none"/>
<line x1="461.1" y1="913.2" x2="474.1" y2="913.2" stroke="#333" stroke-width="0.7"/>
<path d="M483.3 834.72 L484.3 847.8 L485.3 864.15 L486.3 880.5 L486.3 890.31 L487.3 896.85 L489.8 903.39 L491.3 909.93 L491.3 913.2L475.3 913.2 L475.3 909.93 L476.8 903.39 L479.3 896.85 L480.3 890.31 L480.3 880.5 L481.3 864.15 L482.3 847.8 L483.3 834.72Z" fill="#1f8b90" stroke="#111" stroke-width="0.45" stroke-linejoin="round"/>
<path d="M482.3 874.9h0M484.8 863.3h0M480.5 848.4h0M481.2 881h0M480.6 880h0M484.9 863.7h0M484.3 884.5h0M480.5 857.7h0M484.5 856.2h0M482.9 864.8h0M481.3 890.1h0M482.5 868.2h0M480.7 857.7h0M482.8 863.8h0M485.2 867.5h0M484 863.6h0M485.6 859.9h0M484.1 892.8h0M483.2 866.1h0M483.4 887.3h0M480.7 863.4h0M487.2 875.7h0M483 858.7h0M482.4 869.5h0M482.7 873.4h0M484.3 872h0M480.2 881.6h0M481.2 866.1h0M484.9 875.5h0M482.2 878.7h0M479.2 869.5h0M482.1 854.3h0M483.9 863.7h0M481.6 866h0M479.4 874.1h0M480.5 883.9h0M479.9 869.9h0M486.5 879h0M480.1 869.9h0M481.6 878.9h0M483.6 852.1h0M486.5 874.6h0M485.2 859.1h0M480.4 882.1h0M483.7 855.7h0M481.6 874.7h0M480.7 860.5h0M482.3 862.9h0M484.7 883.3h0M481.8 857.6h0M483.3 873.1h0M482.8 847.5h0M483.6 862.7h0M484 860.1h0M484.2 848.1h0M482.6 872.8h0M482.8 864.6h0M482.5 856.6h0M485.5 856.8h0M482.5 877.1h0M482.8 858.9h0M485.4 872.7h0M482 864.9h0M484.3 877h0M484.4 855h0M482.4 879.2h0M482.1 876.1h0M483.7 864.9h0M484.9 879.6h0M482.3 859.2h0" stroke="#222" stroke-width="0.76" stroke-linecap="round" fill="none"/>
<line x1="476.8" y1="913.2" x2="489.8" y2="913.2" stroke="#333" stroke-width="0.7"/>
<path d="M502.3 846.17 L503.5 857.61 L503.8 870.69 L503.3 880.5 L503.2 887.04 L504.1 893.58 L506.5 900.12 L509.3 906.66 L510.3 911.57 L510.3 913.2L494.3 913.2 L494.3 911.57 L495.3 906.66 L498.1 900.12 L500.5 893.58 L501.4 887.04 L501.3 880.5 L500.8 870.69 L501.1 857.61 L502.3 846.17Z" fill="#f8766d" stroke="#111" stroke-width="0.45" stroke-linejoin="round"/>
<path d="M502.4 869.9h0M502.8 882.3h0M501.9 855.3h0M501.1 860.3h0M502.5 862.2h0M499.5 879.1h0M500 877h0M505.7 859.2h0M505.9 866.2h0M502.1 865.7h0M500.1 870.7h0M502.4 865.3h0" stroke="#222" stroke-width="0.76" stroke-linecap="round" fill="none"/>
<line x1="495.8" y1="913.2" x2="508.8" y2="913.2" stroke="#333" stroke-width="0.7"/>
<path d="M518.6 829.82 L520 844.53 L521.1 860.88 L521.2 877.23 L521.2 890.31 L522.6 896.85 L525.1 903.39 L526.6 909.93 L526.6 913.2L510.6 913.2 L510.6 909.93 L512.1 903.39 L514.6 896.85 L516 890.31 L516 877.23 L516.1 860.88 L517.2 844.53 L518.6 829.82Z" fill="#1f8b90" stroke="#111" stroke-width="0.45" stroke-linejoin="round"/>
<path d="M519.2 854.4h0M517.2 885h0M515.6 871.7h0M518.2 863.9h0M516.8 870.9h0M521.4 892.3h0M518.7 851.4h0M516.6 856.9h0M519.3 868.3h0M518.7 866.9h0M516.8 880.7h0M517.2 864.9h0M518.6 842.4h0M520.5 877.9h0M521.5 877h0M520.7 847.8h0M517.7 877.6h0M516.3 849.8h0M518.5 870.2h0M516.7 858.8h0M520.2 867h0M518.4 867.1h0M520 871.1h0M518.8 885.2h0M518 886.5h0M516.1 847.4h0M519.1 871.5h0M517.9 879h0M519.3 869.3h0M517.7 888.7h0M519.7 858.6h0M519.4 876.5h0M517.1 858.2h0M517.4 870.2h0M518.4 873.5h0M521.3 862.8h0M522.6 877.3h0M520.6 855.4h0M516.7 867.4h0M521.1 875.8h0M521.9 865.5h0M516.4 872.3h0M517.9 863h0M519.4 874.1h0M519.8 874.8h0M517.7 868.3h0M518.9 863.9h0M518.4 860.4h0M517.6 869.4h0M518.1 872.2h0M518 886.8h0M518.6 851.7h0M517.8 865.1h0M517.2 856.2h0M519 870.5h0M520.2 855.9h0M521.5 858.6h0M519.7 864.8h0M519.1 854.7h0M519.3 857.6h0M519.4 849.9h0M515.8 869.5h0M520.2 864h0M515.8 866.1h0M519.8 851.4h0M516.5 858.3h0M521.6 873h0M515.4 858.4h0M514.8 865h0M515.7 870.7h0M515.2 848h0M516.3 873h0M519.1 870.9h0M518 867.6h0M519.4 848.3h0M521.9 874.8h0M517 861.5h0M519.2 841.6h0M518.4 881.7h0M516.4 853.7h0" stroke="#222" stroke-width="0.76" stroke-linecap="round" fill="none"/>
<line x1="512.1" y1="913.2" x2="525.1" y2="913.2" stroke="#333" stroke-width="0.7"/>
<line x1="440.4" y1="918.4" x2="440.4" y2="921.5" stroke="#333" stroke-width="0.8"/>
<text x="443.2" y="926.2" font-size="9.7" text-anchor="end" fill="#1e1e1e" transform="rotate(-45 443.2 926.2)">Dysfunctional</text>
<line x1="475.3" y1="918.4" x2="475.3" y2="921.5" stroke="#333" stroke-width="0.8"/>
<text x="478.1" y="926.2" font-size="9.7" text-anchor="end" fill="#1e1e1e" transform="rotate(-45 478.1 926.2)">Proliferating</text>
<line x1="510.5" y1="918.4" x2="510.5" y2="921.5" stroke="#333" stroke-width="0.8"/>
<text x="513.3" y="926.2" font-size="9.7" text-anchor="end" fill="#1e1e1e" transform="rotate(-45 513.3 926.2)">Transitional</text>
<text x="549.6" y="788.6" font-size="11" font-weight="bold" fill="#000">j</text>
<circle cx="573.2" cy="791.2" r="2.5" fill="#e0301e"/>
<text x="577.8" y="793.8" font-size="9.1" fill="#1e1e1e">Control</text>
<circle cx="618.3" cy="791.2" r="2.5" fill="#3b9db3"/>
<text x="622.4" y="793.8" font-size="9" fill="#1e1e1e">Anti-PD1</text>
<text x="621.5" y="808.1" font-size="9.9" text-anchor="middle" fill="#1e1e1e">Dysfunctional CD8</text>
<text x="578.7" y="822.9" font-size="9.9" fill="#1e1e1e">R = 0.395</text>
<text x="578.7" y="834.6" font-size="9.9" fill="#1e1e1e">p = 9.729e-05</text>
<line x1="572.8" y1="818.5" x2="572.8" y2="917.5" stroke="#222" stroke-width="0.9"/>
<line x1="572.8" y1="917.5" x2="671.3" y2="917.5" stroke="#222" stroke-width="0.9"/>
<line x1="569.6" y1="917.5" x2="572.8" y2="917.5" stroke="#222" stroke-width="0.9"/>
<text x="567.8" y="921.1" font-size="10" text-anchor="end" fill="#1e1e1e">0</text>
<line x1="569.6" y1="884.9" x2="572.8" y2="884.9" stroke="#222" stroke-width="0.9"/>
<text x="567.8" y="888.5" font-size="10" text-anchor="end" fill="#1e1e1e">1</text>
<line x1="569.6" y1="852.3" x2="572.8" y2="852.3" stroke="#222" stroke-width="0.9"/>
<text x="567.8" y="855.9" font-size="10" text-anchor="end" fill="#1e1e1e">2</text>
<line x1="569.6" y1="819.7" x2="572.8" y2="819.7" stroke="#222" stroke-width="0.9"/>
<text x="567.8" y="823.3" font-size="10" text-anchor="end" fill="#1e1e1e">3</text>
<line x1="572.8" y1="917.5" x2="572.8" y2="920.7" stroke="#222" stroke-width="0.9"/>
<text x="572.8" y="931.4" font-size="10" text-anchor="middle" fill="#1e1e1e">0</text>
<line x1="597.4" y1="917.5" x2="597.4" y2="920.7" stroke="#222" stroke-width="0.9"/>
<text x="597.4" y="931.4" font-size="10" text-anchor="middle" fill="#1e1e1e">1</text>
<line x1="622" y1="917.5" x2="622" y2="920.7" stroke="#222" stroke-width="0.9"/>
<text x="622" y="931.4" font-size="10" text-anchor="middle" fill="#1e1e1e">2</text>
<line x1="646.6" y1="917.5" x2="646.6" y2="920.7" stroke="#222" stroke-width="0.9"/>
<text x="646.6" y="931.4" font-size="10" text-anchor="middle" fill="#1e1e1e">3</text>
<line x1="671.2" y1="917.5" x2="671.2" y2="920.7" stroke="#222" stroke-width="0.9"/>
<text x="671.2" y="931.4" font-size="10" text-anchor="middle" fill="#1e1e1e">4</text>
<text x="557" y="868.5" font-size="9.9" text-anchor="middle" font-style="italic" fill="#1e1e1e" transform="rotate(-90 557 868.5)">NFKB1</text>
<text x="622.4" y="940.3" font-size="9.9" text-anchor="middle" fill="#1e1e1e">MDK receptor genes</text>
<path d="M635.2 845.2h0M637 851.6h0M645.1 853.4h0M615.4 860.1h0M613.6 861.5h0M598.8 865.6h0M651.6 865h0M650.4 866.2h0M625.9 865h0M631.7 869.5h0M604.3 874.4h0M637.6 875h0" stroke="#e0301e" stroke-width="4.7" stroke-linecap="round" fill="none"/>
<path d="M615.4 844.6h0M630.5 840.5h0M637.6 844.6h0M660.3 851.3h0M622.4 851.6h0M620 853.9h0M632.3 857.4h0M629.4 861.3h0M635.8 860.4h0M645.1 861.3h0M641.6 865h0M643.4 868h0M624.7 867.1h0M612.4 864.5h0M610.7 866.8h0M608.4 869.7h0M620 872h0M628.2 872.6h0M614.2 875h0M616 877.3h0M603.7 875.5h0M601.4 879h0M639.9 875h0M636.4 876.7h0M646.9 879.6h0M628.8 879.6h0M625.9 882h0M622.4 884.9h0M618.9 887.8h0M615.4 889.6h0M611.3 891.3h0M614.8 892.5h0M633.5 883.7h0M628.8 887.2h0M626.5 892.5h0M606.6 886.6h0M605.4 888.4h0M596.7 884.9h0M594.3 887.8h0M592 890.7h0M617.7 874.4h0" stroke="#3b9db3" stroke-width="4.7" stroke-linecap="round" fill="none"/>
<path d="M614.2 878.5h0M623 878.5h0M609.5 883.7h0M617.7 884.3h0M625.9 886.1h0M608.4 893.1h0M625.9 893.6h0M620 872.6h0" stroke="#e0301e" stroke-width="4.7" stroke-linecap="round" fill="none"/>
</svg>
</body></html>
